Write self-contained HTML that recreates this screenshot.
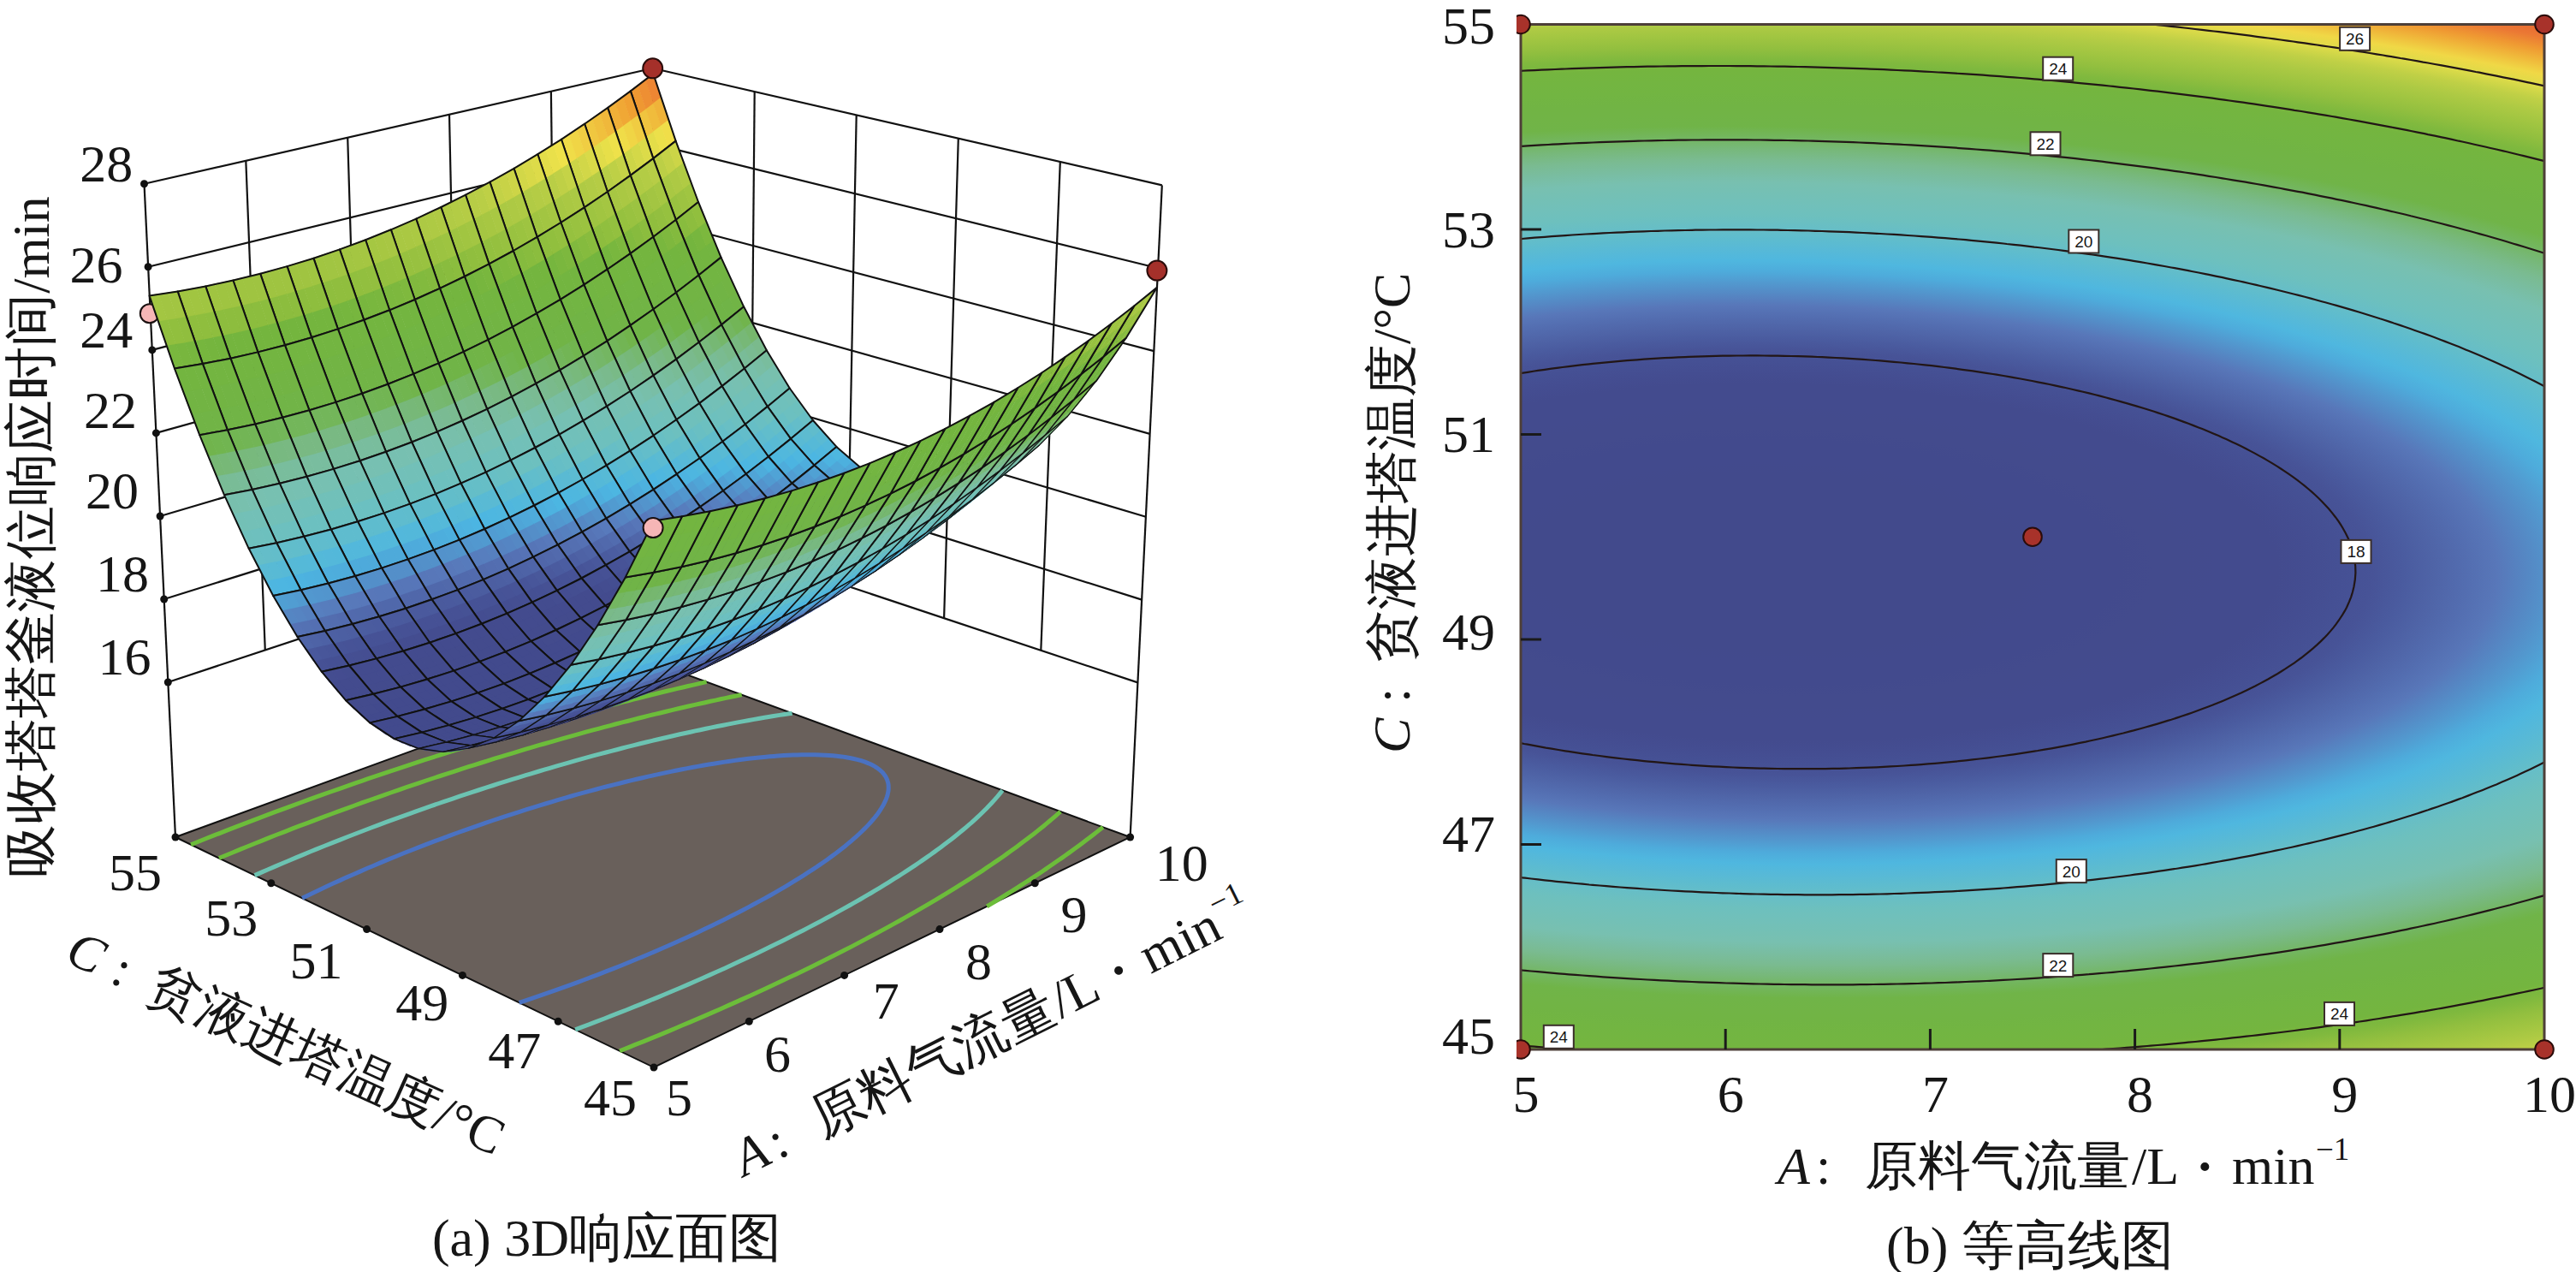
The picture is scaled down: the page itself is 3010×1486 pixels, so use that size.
<!DOCTYPE html>
<html><head><meta charset="utf-8"><style>
html,body{margin:0;padding:0;background:#fff}
body{width:3010px;height:1486px;overflow:hidden}
svg{display:block}
text{font-family:"Liberation Serif",serif;fill:#161616}
</style></head><body>
<svg width="3010" height="1486" viewBox="0 0 3010 1486">
<rect width="3010" height="1486" fill="#fff"/>
<g stroke="#111" stroke-width="2.2" fill="none">
<line x1="196.3" y1="797.0" x2="763.7" y2="609.4"/>
<line x1="763.7" y1="609.4" x2="1329.4" y2="797.4"/>
<line x1="191.7" y1="700.0" x2="763.5" y2="521.1"/>
<line x1="763.5" y1="521.1" x2="1334.2" y2="700.6"/>
<line x1="187.1" y1="603.0" x2="763.4" y2="432.9"/>
<line x1="763.4" y1="432.9" x2="1338.9" y2="603.7"/>
<line x1="182.4" y1="505.9" x2="763.2" y2="344.6"/>
<line x1="763.2" y1="344.6" x2="1343.6" y2="506.9"/>
<line x1="177.8" y1="408.9" x2="763.0" y2="256.3"/>
<line x1="763.0" y1="256.3" x2="1348.3" y2="410.1"/>
<line x1="173.1" y1="311.8" x2="762.9" y2="168.1"/>
<line x1="762.9" y1="168.1" x2="1353.1" y2="313.2"/>
<line x1="168.5" y1="214.8" x2="762.7" y2="79.8"/>
<line x1="762.7" y1="79.8" x2="1357.8" y2="216.4"/>
<line x1="205.0" y1="978.0" x2="168.5" y2="214.8"/>
<line x1="764.0" y1="774.0" x2="762.7" y2="79.8"/>
<line x1="309.8" y1="759.5" x2="287.3" y2="187.8"/>
<line x1="423.3" y1="722.0" x2="406.2" y2="160.8"/>
<line x1="536.8" y1="684.4" x2="525.0" y2="133.8"/>
<line x1="650.2" y1="646.9" x2="643.9" y2="106.8"/>
<line x1="1320.6" y1="978.0" x2="1357.8" y2="216.4"/>
<line x1="1216.3" y1="759.8" x2="1238.8" y2="189.1"/>
<line x1="1103.1" y1="722.2" x2="1119.8" y2="161.8"/>
<line x1="990.0" y1="684.6" x2="1000.7" y2="134.4"/>
<line x1="876.8" y1="647.0" x2="881.7" y2="107.1"/>
</g>
<polygon points="205.0,978.0 764.0,1247.0 1320.6,978.0 764.0,774.0" fill="#69605b" stroke="#111" stroke-width="2"/>
<polyline points="1288.7,966.3 1285.2,969.1 1281.7,971.9 1278.1,974.7 1274.5,977.5 1270.1,980.8 1265.3,984.4 1261.6,987.2 1257.8,990.0 1254.0,992.8 1249.4,996.1 1244.3,999.8 1240.3,1002.6 1236.3,1005.3 1231.3,1008.8 1226.2,1012.3 1222.1,1015.1 1217.6,1018.2 1211.7,1022.1 1207.4,1024.9 1202.2,1028.3 1196.7,1031.9 1192.3,1034.7 1185.7,1038.9 1181.3,1041.7 1175.1,1045.5 1170.0,1048.7 1164.6,1052.0 1158.6,1055.7 1153.2,1058.9 1153.2,1058.9" fill="none" stroke="#6cbd3a" stroke-width="5"/>
<polyline points="223.1,986.7 232.4,983.0 241.6,979.3 250.8,975.7 257.0,973.3 266.2,969.7 275.3,966.1 284.5,962.6 293.7,959.1 302.9,955.6 312.0,952.2 321.2,948.7 330.3,945.3 336.4,943.1 342.5,940.9 351.6,937.5 360.7,934.2 369.8,930.9 378.9,927.7 387.9,924.5 397.0,921.3 406.1,918.1 415.2,914.9 422.7,912.3 430.2,909.7 439.3,906.7 448.3,903.6 457.2,900.6 463.4,898.6 472.4,895.6 481.4,892.6 487.4,890.6 496.4,887.7 505.4,884.8 511.5,882.9 520.5,880.0 526.5,878.1 535.5,875.3 542.7,873.0 550.5,870.6 558.8,868.0 565.4,866.0 573.7,863.5 580.4,861.4 587.6,859.3 595.4,857.0 601.4,855.2 610.4,852.6 616.4,850.8 625.1,848.3 631.4,846.5 637.4,844.8 646.5,842.2 652.5,840.5 658.5,838.8 667.5,836.3 673.5,834.7 679.5,833.0 687.3,831.0 694.6,829.0 700.7,827.4 706.7,825.8 714.0,823.8 721.8,821.8 727.9,820.2 733.9,818.7 740.0,817.1 746.6,815.5 754.3,813.5 761.3,811.8 767.3,810.3 773.4,808.8 779.5,807.3 785.7,805.9 791.8,804.4 797.9,803.0 804.0,801.5 810.4,800.1 816.8,798.6 823.2,797.1 825.6,796.6" fill="none" stroke="#6cbd3a" stroke-width="5"/>
<polyline points="1239.1,948.1 1235.9,951.0 1232.7,953.8 1229.4,956.7 1226.0,959.5 1222.6,962.4 1219.2,965.2 1215.7,968.0 1212.1,970.9 1208.6,973.7 1204.9,976.5 1201.3,979.3 1197.6,982.1 1192.9,985.6 1188.1,989.2 1184.2,992.0 1180.3,994.8 1176.4,997.6 1172.1,1000.7 1166.4,1004.6 1162.3,1007.4 1158.1,1010.3 1153.4,1013.4 1147.7,1017.3 1143.4,1020.1 1139.1,1022.9 1132.6,1027.1 1128.2,1029.9 1122.9,1033.2 1117.0,1036.9 1112.5,1039.7 1105.6,1043.9 1101.0,1046.7 1094.0,1050.9 1089.3,1053.7 1082.1,1057.9 1077.3,1060.7 1070.0,1064.9 1065.1,1067.7 1057.7,1071.9 1052.7,1074.7 1045.2,1078.9 1037.5,1083.1 1032.4,1085.9 1024.6,1090.1 1016.7,1094.3 1011.4,1097.1 1003.4,1101.4 995.4,1105.6 987.2,1109.8 978.9,1114.0 973.4,1116.8 965.0,1121.0 956.5,1125.2 948.0,1129.4 939.3,1133.7 930.6,1137.9 921.8,1142.1 912.9,1146.3 903.9,1150.5 894.9,1154.8 885.7,1159.0 876.5,1163.2 867.2,1167.4 857.8,1171.6 851.5,1174.4 841.9,1178.7 832.3,1182.9 822.6,1187.1 816.1,1189.9 806.2,1194.1 796.2,1198.3 788.2,1201.7 779.5,1205.4 769.3,1209.6 762.4,1212.4 752.1,1216.6 741.7,1220.7 734.6,1223.6 724.1,1227.8 724.1,1227.8" fill="none" stroke="#6cbd3a" stroke-width="5"/>
<polyline points="255.9,1002.5 265.1,998.7 271.2,996.2 280.4,992.4 289.5,988.7 298.7,985.0 304.8,982.6 314.0,978.9 323.1,975.3 332.2,971.8 341.4,968.2 350.5,964.7 359.6,961.3 368.7,957.8 377.9,954.4 387.0,951.0 396.1,947.6 405.2,944.3 414.3,941.0 423.4,937.7 432.5,934.5 441.6,931.3 450.7,928.1 456.7,926.0 465.8,922.8 474.9,919.7 484.0,916.6 490.0,914.6 499.1,911.5 508.2,908.5 514.3,906.5 523.3,903.6 530.4,901.3 538.5,898.7 547.6,895.7 553.7,893.8 562.7,891.0 568.8,889.1 577.9,886.2 584.0,884.4 593.1,881.6 599.2,879.8 607.9,877.2 614.4,875.2 620.5,873.4 629.6,870.7 635.7,869.0 643.3,866.8 651.0,864.6 657.1,862.9 664.3,860.8 672.4,858.6 678.5,856.9 684.6,855.2 693.0,852.9 700.0,851.1 706.2,849.4 712.3,847.8 719.0,846.0 727.2,843.9 734.0,842.2 740.2,840.6 746.4,839.0 752.6,837.5 758.8,835.9 765.2,834.4 772.3,832.7 779.2,831.0 786.0,829.4 792.7,827.8 799.2,826.3 805.6,824.8 811.9,823.4 818.1,822.0 824.1,820.7 830.1,819.3 836.0,818.1 841.8,816.8 847.4,815.6 853.7,814.3 860.2,813.0 866.7,811.6 866.7,811.6" fill="none" stroke="#6cbd3a" stroke-width="5"/>
<polyline points="1171.3,923.3 1169.3,925.9 1167.7,927.9 1165.1,931.0 1162.8,933.7 1161.0,935.7 1158.4,938.5 1155.5,941.5 1152.9,944.3 1150.6,946.5 1148.1,949.0 1145.0,952.0 1141.9,954.9 1138.7,957.8 1135.4,960.8 1132.1,963.6 1129.0,966.3 1125.8,969.0 1122.4,971.8 1118.8,974.7 1115.1,977.7 1111.3,980.7 1107.2,983.8 1103.2,986.8 1099.4,989.7 1095.5,992.6 1091.6,995.4 1087.6,998.3 1083.5,1001.1 1078.1,1004.9 1073.2,1008.2 1069.0,1011.1 1064.8,1013.9 1059.5,1017.4 1053.9,1021.0 1049.5,1023.8 1044.8,1026.7 1038.3,1030.8 1033.7,1033.6 1027.7,1037.3 1022.1,1040.7 1017.4,1043.5 1010.2,1047.7 1005.4,1050.5 998.1,1054.7 993.1,1057.5 985.6,1061.6 980.6,1064.4 973.0,1068.6 965.2,1072.8 960.0,1075.6 952.1,1079.7 944.2,1083.9 938.8,1086.7 930.7,1090.8 922.4,1095.0 914.1,1099.2 908.3,1102.0 900.1,1106.1 891.5,1110.2 882.8,1114.4 874.1,1118.5 865.3,1122.6 856.3,1126.8 847.3,1130.9 838.2,1135.0 829.0,1139.1 819.7,1143.2 813.4,1146.0 804.0,1150.1 794.4,1154.2 784.8,1158.3 776.5,1161.7 768.5,1165.1 758.6,1169.1 748.9,1173.1 741.8,1175.9 731.7,1180.0 724.8,1182.7 714.5,1186.7 706.1,1190.0 697.1,1193.4 688.1,1196.9 679.3,1200.1 672.2,1202.8" fill="none" stroke="#6cc3b2" stroke-width="5"/>
<polyline points="297.6,1022.6 306.6,1018.6 312.7,1016.0 321.7,1012.1 330.8,1008.2 336.8,1005.7 345.9,1001.9 355.0,998.1 363.0,994.8 370.1,991.9 379.2,988.3 388.3,984.6 397.3,981.1 406.4,977.5 415.5,974.0 424.6,970.5 433.7,967.0 442.8,963.6 452.0,960.2 461.1,956.9 470.2,953.6 479.3,950.3 485.4,948.1 494.6,944.9 503.7,941.7 512.9,938.5 519.0,936.4 528.2,933.3 537.3,930.2 543.5,928.2 552.7,925.1 559.2,923.0 568.0,920.1 576.3,917.5 583.4,915.2 591.7,912.6 598.8,910.4 605.7,908.3 614.3,905.7 620.5,903.8 629.8,901.0 636.0,899.2 642.4,897.3 651.5,894.6 657.8,892.8 664.0,891.1 673.4,888.4 679.7,886.7 686.0,884.9 692.3,883.2 700.8,880.9 708.1,879.0 714.4,877.3 720.8,875.7 727.2,874.0 733.5,872.4 740.7,870.6 748.0,868.8 755.2,867.0 762.1,865.4 768.9,863.7 775.4,862.2 781.9,860.7 788.3,859.2 794.5,857.8 800.6,856.5 806.6,855.2 812.4,853.9 818.2,852.7 824.8,851.3 831.5,849.9 838.2,848.5 845.0,847.2 850.5,846.1 855.6,845.1 862.0,843.9 868.9,842.6 875.2,841.5 879.9,840.6 886.3,839.5 893.3,838.3 898.1,837.5 903.9,836.5 911.1,835.4 915.3,834.8 921.9,833.8 925.6,833.2" fill="none" stroke="#6cc3b2" stroke-width="5"/>
<polyline points="353.1,1049.3 358.9,1046.4 367.7,1042.2 373.5,1039.5 382.3,1035.3 388.2,1032.6 397.0,1028.6 404.6,1025.1 411.8,1022.0 420.7,1018.1 429.3,1014.3 435.6,1011.7 444.5,1007.9 453.5,1004.1 462.6,1000.5 471.6,996.8 480.7,993.2 489.8,989.7 498.9,986.2 508.0,982.7 517.2,979.3 526.4,975.9 535.6,972.5 541.7,970.3 551.0,967.1 560.3,963.8 566.5,961.7 575.8,958.5 584.5,955.6 591.4,953.3 600.8,950.3 607.1,948.3 615.3,945.7 622.9,943.3 629.3,941.4 638.8,938.5 645.2,936.6 651.6,934.7 661.3,931.9 667.7,930.0 674.2,928.2 680.7,926.4 689.2,924.1 697.1,922.0 703.7,920.2 710.3,918.5 716.9,916.8 723.6,915.2 730.3,913.5 737.0,911.9 743.8,910.3 750.6,908.7 757.4,907.1 764.3,905.6 771.2,904.1 778.2,902.6 784.1,901.4 789.5,900.3 795.8,899.0 803.0,897.6 810.2,896.3 815.1,895.4 821.1,894.3 828.5,893.0 833.7,892.2 839.7,891.2 846.8,890.1 851.2,889.5 858.9,888.4 863.1,887.8 870.8,886.8 874.8,886.3 882.1,885.5 887.1,884.9 892.7,884.4 899.5,883.8 904.1,883.4 909.3,883.0 915.6,882.6 921.7,882.2 926.9,882.0 931.7,881.9 936.7,881.7 941.8,881.7 947.0,881.7 952.5,881.7 958.2,881.9 964.1,882.2 968.7,882.4 973.1,882.8 977.6,883.2 983.5,883.9 987.4,884.5 993.0,885.5 996.6,886.2 1001.6,887.4 1006.4,888.7 1010.8,890.2 1014.9,891.8 1018.8,893.6 1022.2,895.4 1024.4,896.8 1027.3,898.9 1029.2,900.5 1031.5,902.8 1032.9,904.5 1034.3,906.4 1035.7,908.9 1036.6,910.9 1037.2,912.9 1037.8,915.0 1038.1,917.2 1038.2,919.4 1038.2,921.8 1038.0,924.0 1037.6,925.9 1037.2,928.1 1036.4,930.8 1035.5,933.3 1034.8,935.1 1033.4,937.9 1032.2,940.4 1030.9,942.6 1029.1,945.5 1027.7,947.6 1025.7,950.5 1023.9,952.9 1021.9,955.4 1019.2,958.5 1017.5,960.5 1014.9,963.4 1011.9,966.6 1009.5,968.9 1007.1,971.2 1003.9,974.3 1000.5,977.4 997.0,980.4 993.7,983.3 990.5,985.9 987.2,988.7 983.6,991.5 979.8,994.4 975.8,997.5 971.5,1000.6 967.0,1003.9 962.3,1007.2 958.1,1010.1 953.9,1013.0 949.5,1015.9 945.1,1018.7 938.7,1022.9 933.9,1025.9 929.3,1028.7 923.6,1032.2 917.5,1035.8 912.7,1038.6 905.4,1042.9 900.4,1045.7 893.4,1049.6 887.8,1052.6 880.1,1056.8 874.9,1059.6 867.0,1063.7 861.7,1066.5 853.6,1070.6 845.4,1074.7 837.1,1078.8 831.5,1081.5 822.9,1085.6 814.3,1089.7 805.6,1093.7 796.7,1097.7 787.8,1101.8 778.7,1105.8 769.5,1109.8 760.2,1113.7 750.8,1117.7 744.5,1120.3 734.9,1124.3 725.2,1128.2 716.6,1131.6 708.7,1134.7 698.7,1138.6 691.9,1141.2 681.7,1145.0 674.8,1147.6 664.4,1151.4 657.4,1153.9 646.8,1157.7 639.6,1160.2 630.2,1163.4 621.5,1166.4 614.2,1168.9 606.7,1171.3" fill="none" stroke="#4a72c2" stroke-width="5"/>
<circle cx="196.3" cy="797.0" r="4.5" fill="#111"/>
<circle cx="191.7" cy="700.0" r="4.5" fill="#111"/>
<circle cx="187.1" cy="603.0" r="4.5" fill="#111"/>
<circle cx="182.4" cy="505.9" r="4.5" fill="#111"/>
<circle cx="177.8" cy="408.9" r="4.5" fill="#111"/>
<circle cx="173.1" cy="311.8" r="4.5" fill="#111"/>
<circle cx="168.5" cy="214.8" r="4.5" fill="#111"/>
<circle cx="205.0" cy="978.0" r="4.5" fill="#111"/>
<circle cx="764.0" cy="1247.0" r="4.5" fill="#111"/>
<circle cx="652.2" cy="1193.2" r="4.5" fill="#111"/>
<circle cx="540.4" cy="1139.4" r="4.5" fill="#111"/>
<circle cx="428.6" cy="1085.6" r="4.5" fill="#111"/>
<circle cx="316.8" cy="1031.8" r="4.5" fill="#111"/>
<circle cx="875.3" cy="1193.2" r="4.5" fill="#111"/>
<circle cx="986.6" cy="1139.4" r="4.5" fill="#111"/>
<circle cx="1098.0" cy="1085.6" r="4.5" fill="#111"/>
<circle cx="1209.3" cy="1031.8" r="4.5" fill="#111"/>
<circle cx="1320.6" cy="978.0" r="4.5" fill="#111"/>
<circle cx="174.8" cy="366.3" r="11" fill="#f6b6b6" stroke="#1a1010" stroke-width="2"/>
<g stroke="none">
<path d="M763.3 185.8L772.6 178.8 763.3 152.2 754.0 159.1Z" fill="#e4dd49"/>
<path d="M754.5 160.3L763.8 153.4 754.5 126.0 745.2 132.9Z" fill="#f0c43f"/>
<path d="M745.6 134.1L754.9 127.2 745.6 99.0 736.3 105.8Z" fill="#ef9832"/>
<path d="M772.1 179.0L781.4 172.0 772.1 145.4 762.8 152.4Z" fill="#ece04a"/>
<path d="M763.3 153.6L772.6 146.6 763.3 119.2 754.0 126.2Z" fill="#f0bc3c"/>
<path d="M754.5 127.4L763.7 120.4 754.5 92.2 745.2 99.2Z" fill="#ee8f33"/>
<path d="M780.9 172.2L790.1 165.1 780.9 138.5 771.6 145.6Z" fill="#f0de49"/>
<path d="M772.1 146.8L781.3 139.7 772.1 112.3 762.8 119.4Z" fill="#f0b339"/>
<path d="M763.3 120.6L772.5 113.6 763.3 85.4 754.0 92.4Z" fill="#ed8633"/>
<path d="M763.3 185.1L789.6 164.6 763.3 86.1 736.8 106.4Z" fill="none" stroke="#111" stroke-width="2.0" stroke-linejoin="round"/>
<path d="M789.8 257.5L799.1 250.4 789.8 226.1 780.5 233.2Z" fill="#99c240"/>
<path d="M781.0 234.4L790.3 227.3 780.9 202.3 771.6 209.3Z" fill="#a9c843"/>
<path d="M772.1 210.5L781.4 203.5 772.1 177.6 762.8 184.6Z" fill="#bccf46"/>
<path d="M798.6 250.6L807.8 243.5 798.5 219.3 789.2 226.4Z" fill="#9dc341"/>
<path d="M789.8 227.5L799.0 220.4 789.7 195.4 780.4 202.5Z" fill="#adc944"/>
<path d="M780.9 203.7L790.2 196.6 780.9 170.8 771.6 177.8Z" fill="#c4d247"/>
<path d="M807.3 243.7L816.6 236.5 807.2 212.3 798.0 219.5Z" fill="#a0c541"/>
<path d="M798.5 220.7L807.7 213.5 798.4 188.5 789.2 195.6Z" fill="#b0cb44"/>
<path d="M789.7 196.8L798.9 189.7 789.6 163.9 780.4 171.0Z" fill="#ccd547"/>
<path d="M789.8 256.8L816.0 236.0 789.6 164.6 763.3 185.1Z" fill="none" stroke="#111" stroke-width="2.0" stroke-linejoin="round"/>
<path d="M816.4 322.2L825.7 315.0 816.3 293.1 807.0 300.3Z" fill="#73b541"/>
<path d="M807.5 301.4L816.8 294.3 807.4 271.6 798.1 278.7Z" fill="#74b53e"/>
<path d="M798.7 279.8L807.9 272.7 798.6 249.2 789.3 256.3Z" fill="#88bc3e"/>
<path d="M825.1 315.3L834.4 308.1 825.0 286.2 815.7 293.4Z" fill="#73b540"/>
<path d="M816.3 294.5L825.5 287.3 816.2 264.6 806.9 271.8Z" fill="#77b63e"/>
<path d="M807.4 273.0L816.7 265.8 807.3 242.3 798.1 249.5Z" fill="#8dbd3e"/>
<path d="M833.8 308.3L843.1 301.0 833.7 279.1 824.4 286.4Z" fill="#73b540"/>
<path d="M825.0 287.6L834.2 280.3 824.9 257.6 815.6 264.9Z" fill="#7cb83e"/>
<path d="M816.2 266.0L825.4 258.8 816.0 235.3 806.8 242.6Z" fill="#91bf3e"/>
<path d="M816.4 321.5L842.5 300.6 816.0 236.0 789.8 256.8Z" fill="none" stroke="#111" stroke-width="2.0" stroke-linejoin="round"/>
<path d="M843.0 380.1L852.3 372.8 842.8 353.2 833.6 360.5Z" fill="#70b447"/>
<path d="M834.1 361.6L843.4 354.3 834.0 333.9 824.7 341.2Z" fill="#71b445"/>
<path d="M825.3 342.3L834.5 335.1 825.1 313.9 815.8 321.1Z" fill="#72b443"/>
<path d="M851.7 373.1L861.0 365.8 851.5 346.2 842.3 353.5Z" fill="#70b447"/>
<path d="M842.9 354.6L852.1 347.3 842.7 326.9 833.4 334.2Z" fill="#71b445"/>
<path d="M834.0 335.3L843.2 328.1 833.8 306.9 824.6 314.2Z" fill="#72b542"/>
<path d="M860.4 366.1L869.7 358.7 860.2 339.1 851.0 346.5Z" fill="#71b446"/>
<path d="M851.6 347.6L860.8 340.2 851.4 319.9 842.1 327.2Z" fill="#72b444"/>
<path d="M842.7 328.3L851.9 321.0 842.5 299.9 833.3 307.2Z" fill="#72b542"/>
<path d="M843.0 379.4L869.1 358.3 842.5 300.6 816.4 321.5Z" fill="none" stroke="#111" stroke-width="2.0" stroke-linejoin="round"/>
<path d="M869.8 431.2L879.1 423.8 869.6 406.5 860.3 413.9Z" fill="#79bc98"/>
<path d="M860.9 414.9L870.2 407.6 860.6 389.5 851.3 396.9Z" fill="#78b981"/>
<path d="M852.0 397.9L861.2 390.6 851.7 371.7 842.4 379.0Z" fill="#74b661"/>
<path d="M878.5 424.2L887.8 416.7 878.2 399.4 869.0 406.9Z" fill="#7abb92"/>
<path d="M869.6 407.9L878.8 400.5 869.3 382.4 860.0 389.9Z" fill="#77b877"/>
<path d="M860.7 390.9L869.9 383.5 860.4 364.7 851.1 372.1Z" fill="#72b557"/>
<path d="M887.2 417.1L896.4 409.5 886.9 392.3 877.6 399.8Z" fill="#7aba8c"/>
<path d="M878.2 400.8L887.5 393.3 878.0 375.3 868.7 382.8Z" fill="#76b76d"/>
<path d="M869.3 383.8L878.6 376.4 869.1 357.6 859.8 365.0Z" fill="#71b44d"/>
<path d="M869.8 430.5L895.8 409.2 869.1 358.3 843.0 379.4Z" fill="none" stroke="#111" stroke-width="2.0" stroke-linejoin="round"/>
<path d="M736.7 205.6L746.1 198.9 736.7 172.2 727.4 178.9Z" fill="#cdd547"/>
<path d="M727.8 180.1L737.2 173.4 727.9 145.9 718.5 152.5Z" fill="#f0dc48"/>
<path d="M719.0 153.7L728.3 147.1 719.0 118.8 709.6 125.4Z" fill="#f0b038"/>
<path d="M745.6 199.1L754.9 192.3 745.6 165.6 736.3 172.4Z" fill="#d4d848"/>
<path d="M736.7 173.6L746.1 166.8 736.8 139.3 727.4 146.1Z" fill="#f0d545"/>
<path d="M727.9 147.3L737.2 140.6 727.9 112.3 718.5 118.9Z" fill="#f0a835"/>
<path d="M754.5 192.5L763.8 185.6 754.5 158.9 745.1 165.8Z" fill="#dcdb49"/>
<path d="M745.6 167.0L754.9 160.2 745.6 132.7 736.3 139.5Z" fill="#f0cc42"/>
<path d="M736.8 140.7L746.1 133.9 736.8 105.7 727.5 112.4Z" fill="#f0a032"/>
<path d="M736.7 204.9L763.3 185.1 736.8 106.4 710.1 125.9Z" fill="none" stroke="#111" stroke-width="2.0" stroke-linejoin="round"/>
<path d="M763.3 277.5L772.7 270.7 763.3 246.3 754.0 253.1Z" fill="#90be3e"/>
<path d="M754.5 254.3L763.8 247.5 754.5 222.4 745.1 229.2Z" fill="#9fc441"/>
<path d="M745.6 230.3L755.0 223.6 745.6 197.7 736.2 204.4Z" fill="#b0cb44"/>
<path d="M772.2 270.9L781.5 264.0 772.2 239.7 762.8 246.6Z" fill="#93bf3f"/>
<path d="M763.3 247.7L772.7 240.9 763.3 215.8 754.0 222.6Z" fill="#a3c542"/>
<path d="M754.5 223.8L763.8 217.0 754.5 191.1 745.1 197.9Z" fill="#b3cc45"/>
<path d="M781.0 264.2L790.3 257.2 781.0 233.0 771.7 239.9Z" fill="#96c13f"/>
<path d="M772.2 241.1L781.5 234.1 772.1 209.1 762.8 216.0Z" fill="#a6c742"/>
<path d="M763.3 217.2L772.6 210.3 763.3 184.4 754.0 191.3Z" fill="#b7cd46"/>
<path d="M763.3 276.8L789.8 256.8 763.3 185.1 736.7 204.9Z" fill="none" stroke="#111" stroke-width="2.0" stroke-linejoin="round"/>
<path d="M790.0 342.5L799.4 335.5 789.9 313.5 780.6 320.4Z" fill="#72b542"/>
<path d="M781.1 321.6L790.5 314.7 781.1 291.9 771.7 298.8Z" fill="#73b540"/>
<path d="M772.2 299.9L781.6 293.1 772.2 269.5 762.8 276.3Z" fill="#79b73e"/>
<path d="M798.8 335.8L808.2 328.8 798.7 306.8 789.4 313.8Z" fill="#72b542"/>
<path d="M789.9 314.9L799.3 308.0 789.9 285.2 780.5 292.1Z" fill="#73b53f"/>
<path d="M781.1 293.3L790.4 286.4 781.0 262.8 771.7 269.7Z" fill="#7eb83e"/>
<path d="M807.6 329.0L816.9 321.9 807.5 300.0 798.2 307.1Z" fill="#73b541"/>
<path d="M798.7 308.2L808.1 301.1 798.7 278.4 789.3 285.4Z" fill="#74b53f"/>
<path d="M789.9 286.6L799.2 279.6 789.8 256.1 780.5 263.1Z" fill="#83ba3e"/>
<path d="M790.0 341.8L816.4 321.5 789.8 256.8 763.3 276.8Z" fill="none" stroke="#111" stroke-width="2.0" stroke-linejoin="round"/>
<path d="M896.8 475.6L906.1 468.1 896.5 453.1 887.1 460.6Z" fill="#71c0b9"/>
<path d="M887.8 461.6L897.1 454.1 887.5 438.3 878.2 445.8Z" fill="#75c0b3"/>
<path d="M878.8 446.8L888.1 439.3 878.5 422.8 869.2 430.2Z" fill="#78bfaa"/>
<path d="M905.5 468.5L914.8 460.9 905.1 446.0 895.8 453.6Z" fill="#73c0b7"/>
<path d="M896.5 454.5L905.8 447.0 896.1 431.2 886.8 438.7Z" fill="#77c0b1"/>
<path d="M887.5 439.7L896.8 432.2 887.2 415.7 877.9 423.2Z" fill="#79bea4"/>
<path d="M914.1 461.4L923.4 453.7 913.7 438.8 904.5 446.4Z" fill="#74c0b5"/>
<path d="M905.1 447.4L914.4 439.7 904.7 424.0 895.5 431.6Z" fill="#78c0ae"/>
<path d="M896.1 432.6L905.4 425.0 895.8 408.5 886.5 416.1Z" fill="#79bd9e"/>
<path d="M896.8 474.9L922.7 453.5 895.8 409.2 869.8 430.5Z" fill="none" stroke="#111" stroke-width="2.0" stroke-linejoin="round"/>
<path d="M816.8 400.5L826.1 393.5 816.6 373.8 807.2 380.9Z" fill="#73b65b"/>
<path d="M807.8 381.9L817.2 374.9 807.7 354.5 798.3 361.5Z" fill="#70b447"/>
<path d="M798.9 362.6L808.3 355.6 798.8 334.4 789.4 341.3Z" fill="#71b445"/>
<path d="M825.5 393.8L834.9 386.7 825.4 367.0 816.0 374.1Z" fill="#71b552"/>
<path d="M816.6 375.2L826.0 368.1 816.5 347.7 807.1 354.8Z" fill="#71b446"/>
<path d="M807.7 355.9L817.1 348.8 807.6 327.6 798.3 334.7Z" fill="#72b444"/>
<path d="M834.3 387.0L843.6 379.8 834.1 360.2 824.8 367.3Z" fill="#70b449"/>
<path d="M825.4 368.4L834.7 361.3 825.2 340.9 815.9 348.0Z" fill="#71b446"/>
<path d="M816.5 349.1L825.8 342.0 816.4 320.8 807.1 327.9Z" fill="#72b444"/>
<path d="M816.7 399.8L843.0 379.4 816.4 321.5 790.0 341.8Z" fill="none" stroke="#111" stroke-width="2.0" stroke-linejoin="round"/>
<path d="M843.6 451.8L853.0 444.7 843.4 427.3 834.0 434.5Z" fill="#78bfa9"/>
<path d="M834.6 435.5L844.0 428.4 834.5 410.2 825.1 417.3Z" fill="#79bc96"/>
<path d="M825.7 418.4L835.1 411.3 825.5 392.4 816.2 399.5Z" fill="#78b97d"/>
<path d="M852.4 445.0L861.7 437.8 852.2 420.5 842.8 427.7Z" fill="#79bea3"/>
<path d="M843.4 428.7L852.8 421.5 843.2 403.4 833.9 410.6Z" fill="#7abb91"/>
<path d="M834.5 411.6L843.8 404.5 834.3 385.6 824.9 392.7Z" fill="#76b874"/>
<path d="M861.1 438.2L870.4 430.9 860.9 413.5 851.5 420.8Z" fill="#79bd9e"/>
<path d="M852.2 421.9L861.5 414.6 851.9 396.5 842.6 403.8Z" fill="#7aba8a"/>
<path d="M843.2 404.8L852.5 397.6 843.0 378.7 833.7 385.9Z" fill="#75b76a"/>
<path d="M843.6 451.1L869.8 430.5 843.0 379.4 816.7 399.8Z" fill="none" stroke="#111" stroke-width="2.0" stroke-linejoin="round"/>
<path d="M924.0 513.3L933.4 505.7 923.6 493.0 914.2 500.6Z" fill="#60bccd"/>
<path d="M914.9 501.5L924.2 493.9 914.5 480.4 905.2 488.0Z" fill="#68bfc4"/>
<path d="M905.9 488.9L915.2 481.4 905.5 467.1 896.1 474.7Z" fill="#6ec0be"/>
<path d="M932.7 506.2L942.0 498.5 932.2 485.8 922.9 493.5Z" fill="#64bdc9"/>
<path d="M923.6 494.4L932.9 486.7 923.1 473.3 913.8 480.9Z" fill="#6cc0c0"/>
<path d="M914.5 481.8L923.8 474.2 914.1 460.0 904.8 467.6Z" fill="#6fc0bc"/>
<path d="M941.3 499.0L950.6 491.2 940.8 478.5 931.5 486.3Z" fill="#68bfc5"/>
<path d="M932.2 487.2L941.5 479.4 931.7 466.0 922.5 473.8Z" fill="#6dc0be"/>
<path d="M923.2 474.7L932.4 466.9 922.7 452.8 913.5 460.5Z" fill="#71c0ba"/>
<path d="M924.0 512.6L949.9 491.0 922.7 453.5 896.8 474.9Z" fill="none" stroke="#111" stroke-width="2.0" stroke-linejoin="round"/>
<path d="M709.9 224.7L719.3 218.2 709.9 191.4 700.5 197.9Z" fill="#b8ce46"/>
<path d="M701.0 199.1L710.4 192.6 701.0 165.0 691.6 171.4Z" fill="#e0dc49"/>
<path d="M692.0 172.7L701.5 166.3 692.1 137.8 682.6 144.2Z" fill="#f0c740"/>
<path d="M718.8 218.4L728.3 211.9 718.9 185.1 709.5 191.6Z" fill="#bed046"/>
<path d="M709.9 192.8L719.4 186.3 710.0 158.7 700.6 165.2Z" fill="#e7df49"/>
<path d="M701.0 166.4L710.5 160.0 701.1 131.6 691.7 138.0Z" fill="#f0c03d"/>
<path d="M727.8 212.0L737.2 205.4 727.8 178.7 718.4 185.3Z" fill="#c5d247"/>
<path d="M718.9 186.5L728.3 179.9 719.0 152.3 709.5 158.9Z" fill="#eee14a"/>
<path d="M710.0 160.1L719.4 153.6 710.1 125.2 700.7 131.7Z" fill="#f0b83b"/>
<path d="M709.9 224.0L736.7 204.9 710.1 125.9 683.1 144.7Z" fill="none" stroke="#111" stroke-width="2.0" stroke-linejoin="round"/>
<path d="M736.6 296.8L746.1 290.3 736.7 265.8 727.2 272.4Z" fill="#82ba3e"/>
<path d="M727.7 273.6L737.2 267.0 727.8 241.8 718.3 248.3Z" fill="#96c13f"/>
<path d="M718.8 249.5L728.2 243.0 718.8 217.0 709.4 223.5Z" fill="#a7c743"/>
<path d="M745.6 290.5L755.0 283.8 745.6 259.4 736.1 266.0Z" fill="#87bb3e"/>
<path d="M736.7 267.2L746.1 260.6 736.7 235.4 727.3 242.0Z" fill="#99c240"/>
<path d="M727.8 243.2L737.2 236.6 727.8 210.6 718.4 217.2Z" fill="#aac843"/>
<path d="M754.5 284.0L763.9 277.3 754.5 252.9 745.1 259.6Z" fill="#8bbd3e"/>
<path d="M745.6 260.8L755.0 254.1 745.6 228.9 736.2 235.6Z" fill="#9cc341"/>
<path d="M736.7 236.8L746.1 230.1 736.7 204.2 727.3 210.8Z" fill="#adc944"/>
<path d="M736.6 296.1L763.3 276.8 736.7 204.9 709.9 224.0Z" fill="none" stroke="#111" stroke-width="2.0" stroke-linejoin="round"/>
<path d="M763.4 362.0L772.8 355.3 763.4 333.2 753.9 339.9Z" fill="#72b444"/>
<path d="M754.5 341.0L763.9 334.4 754.5 311.5 745.0 318.2Z" fill="#73b542"/>
<path d="M745.5 319.3L755.0 312.7 745.6 289.1 736.1 295.7Z" fill="#74b53f"/>
<path d="M772.3 355.6L781.7 348.8 772.3 326.7 762.8 333.5Z" fill="#72b443"/>
<path d="M763.4 334.6L772.8 327.9 763.4 305.1 753.9 311.8Z" fill="#73b541"/>
<path d="M754.5 312.9L763.9 306.2 754.5 282.6 745.0 289.3Z" fill="#74b53f"/>
<path d="M781.2 349.1L790.6 342.2 781.1 320.2 771.7 327.0Z" fill="#72b543"/>
<path d="M772.3 328.1L781.6 321.3 772.2 298.5 762.8 305.3Z" fill="#73b541"/>
<path d="M763.4 306.5L772.7 299.7 763.3 276.1 753.9 282.9Z" fill="#74b53e"/>
<path d="M763.4 361.3L790.0 341.8 763.3 276.8 736.6 296.1Z" fill="none" stroke="#111" stroke-width="2.0" stroke-linejoin="round"/>
<path d="M870.7 496.4L880.0 489.1 870.4 474.1 861.0 481.3Z" fill="#6dc0be"/>
<path d="M861.6 482.3L871.0 475.0 861.4 459.2 852.0 466.5Z" fill="#71c0b9"/>
<path d="M852.6 467.4L862.0 460.2 852.4 443.6 843.0 450.8Z" fill="#75c0b4"/>
<path d="M879.4 489.5L888.8 482.2 879.1 467.2 869.7 474.5Z" fill="#6fc0bc"/>
<path d="M870.4 475.5L879.7 468.1 870.1 452.3 860.7 459.6Z" fill="#73c0b7"/>
<path d="M861.4 460.6L870.7 453.3 861.1 436.8 851.8 444.0Z" fill="#77c0b2"/>
<path d="M888.1 482.6L897.5 475.2 887.8 460.2 878.4 467.6Z" fill="#70c0bb"/>
<path d="M879.1 468.6L888.4 461.2 878.8 445.4 869.5 452.8Z" fill="#74c0b5"/>
<path d="M870.1 453.7L879.4 446.4 869.8 429.8 860.5 437.2Z" fill="#78c0af"/>
<path d="M870.7 495.7L896.8 474.9 869.8 430.5 843.6 451.1Z" fill="none" stroke="#111" stroke-width="2.0" stroke-linejoin="round"/>
<path d="M790.2 420.3L799.7 413.5 790.1 393.7 780.7 400.5Z" fill="#77b875"/>
<path d="M781.3 401.6L790.7 394.9 781.2 374.3 771.8 381.1Z" fill="#71b552"/>
<path d="M772.3 382.2L781.8 375.5 772.3 354.2 762.8 360.9Z" fill="#71b446"/>
<path d="M799.1 413.8L808.5 406.9 799.0 387.2 789.6 394.0Z" fill="#75b76c"/>
<path d="M790.1 395.1L799.6 388.3 790.1 367.8 780.6 374.6Z" fill="#70b449"/>
<path d="M781.2 375.7L790.6 368.9 781.2 347.7 771.7 354.4Z" fill="#71b446"/>
<path d="M807.9 407.2L817.3 400.2 807.8 380.5 798.4 387.5Z" fill="#74b664"/>
<path d="M799.0 388.6L808.4 381.7 798.9 361.2 789.5 368.1Z" fill="#70b448"/>
<path d="M790.1 369.2L799.5 362.3 790.0 341.1 780.6 347.9Z" fill="#71b445"/>
<path d="M790.2 419.6L816.7 399.8 790.0 341.8 763.4 361.3Z" fill="none" stroke="#111" stroke-width="2.0" stroke-linejoin="round"/>
<path d="M951.5 544.3L960.9 536.5 950.9 526.2 941.6 533.9Z" fill="#4cb6e2"/>
<path d="M942.3 534.7L951.7 527.0 941.8 515.8 932.5 523.6Z" fill="#52b8db"/>
<path d="M933.2 524.4L942.5 516.7 932.7 504.8 923.3 512.5Z" fill="#59bad4"/>
<path d="M960.2 537.1L969.5 529.3 959.6 518.9 950.3 526.8Z" fill="#50b7de"/>
<path d="M951.0 527.6L960.3 519.8 950.4 508.6 941.1 516.4Z" fill="#56b9d7"/>
<path d="M941.8 517.2L951.1 509.5 941.3 497.6 932.0 505.3Z" fill="#5dbbd0"/>
<path d="M968.8 529.9L978.1 522.0 968.2 511.6 958.9 519.5Z" fill="#54b8da"/>
<path d="M959.6 520.3L968.9 512.5 959.0 501.3 949.7 509.2Z" fill="#5abad3"/>
<path d="M950.4 510.0L959.7 502.2 949.9 490.3 940.6 498.1Z" fill="#60bccc"/>
<path d="M951.5 543.6L977.4 521.9 949.9 491.0 924.0 512.6Z" fill="none" stroke="#111" stroke-width="2.0" stroke-linejoin="round"/>
<path d="M817.2 471.8L826.6 464.8 817.0 447.4 807.5 454.3Z" fill="#76c0b3"/>
<path d="M808.2 455.4L817.6 448.5 808.0 430.3 798.6 437.1Z" fill="#79bea6"/>
<path d="M799.2 438.2L808.6 431.4 799.1 412.4 789.6 419.2Z" fill="#7abb92"/>
<path d="M826.0 465.2L835.4 458.2 825.8 440.8 816.4 447.8Z" fill="#77c0b1"/>
<path d="M817.0 448.8L826.4 441.9 816.9 423.7 807.4 430.6Z" fill="#79bda1"/>
<path d="M808.0 431.7L817.5 424.8 807.9 405.8 798.5 412.7Z" fill="#7aba8d"/>
<path d="M834.8 458.6L844.2 451.5 834.6 434.1 825.2 441.2Z" fill="#78c0ae"/>
<path d="M825.8 442.2L835.2 435.2 825.7 417.0 816.3 424.0Z" fill="#79bd9c"/>
<path d="M816.9 425.1L826.3 418.1 816.7 399.1 807.3 406.1Z" fill="#79b985"/>
<path d="M817.2 471.1L843.6 451.1 816.7 399.8 790.2 419.6Z" fill="none" stroke="#111" stroke-width="2.0" stroke-linejoin="round"/>
<path d="M897.9 534.2L907.3 526.8 897.5 514.1 888.1 521.5Z" fill="#56b9d8"/>
<path d="M888.8 522.4L898.2 515.0 888.4 501.5 879.0 508.8Z" fill="#5ebbcf"/>
<path d="M879.7 509.7L889.1 502.4 879.4 488.1 870.0 495.5Z" fill="#66bec6"/>
<path d="M906.7 527.3L916.0 519.8 906.2 507.1 896.9 514.6Z" fill="#59bad4"/>
<path d="M897.5 515.5L906.9 508.0 897.2 494.5 887.8 502.0Z" fill="#61bdcc"/>
<path d="M888.5 502.9L897.8 495.5 888.1 481.2 878.7 488.6Z" fill="#69bfc3"/>
<path d="M915.4 520.4L924.7 512.8 914.9 500.1 905.6 507.6Z" fill="#5dbbd0"/>
<path d="M906.3 508.5L915.6 501.0 905.8 487.5 896.5 495.0Z" fill="#64bec8"/>
<path d="M897.2 495.9L906.5 488.5 896.8 474.2 887.5 481.7Z" fill="#6cc0bf"/>
<path d="M897.9 533.5L924.0 512.6 896.8 474.9 870.7 495.7Z" fill="none" stroke="#111" stroke-width="2.0" stroke-linejoin="round"/>
<path d="M682.8 243.0L692.3 236.8 682.9 209.9 673.3 216.1Z" fill="#afca44"/>
<path d="M673.8 217.3L683.3 211.2 673.9 183.5 664.4 189.6Z" fill="#ccd547"/>
<path d="M664.8 190.8L674.4 184.7 665.0 156.2 655.4 162.3Z" fill="#f0dc48"/>
<path d="M691.8 237.0L701.3 230.7 691.9 203.8 682.4 210.1Z" fill="#b2cb45"/>
<path d="M682.9 211.3L692.4 205.1 683.0 177.4 673.5 183.6Z" fill="#d2d748"/>
<path d="M673.9 184.9L683.4 178.6 674.0 150.2 664.5 156.4Z" fill="#f0d545"/>
<path d="M700.9 230.9L710.3 224.5 701.0 197.7 691.5 204.0Z" fill="#b5cc45"/>
<path d="M691.9 205.2L701.4 198.9 692.0 171.3 682.5 177.6Z" fill="#d9da48"/>
<path d="M683.0 178.8L692.5 172.5 683.1 144.0 673.6 150.3Z" fill="#f0ce43"/>
<path d="M682.8 242.3L709.9 224.0 683.1 144.7 655.9 162.8Z" fill="none" stroke="#111" stroke-width="2.0" stroke-linejoin="round"/>
<path d="M709.6 315.4L719.2 309.1 709.7 284.6 700.2 290.9Z" fill="#75b53e"/>
<path d="M700.7 292.1L710.2 285.8 700.8 260.5 691.2 266.8Z" fill="#8dbd3e"/>
<path d="M691.7 268.0L701.3 261.7 691.8 235.6 682.3 241.8Z" fill="#9ec441"/>
<path d="M718.7 309.3L728.2 302.9 718.7 278.4 709.2 284.8Z" fill="#79b73e"/>
<path d="M709.7 286.0L719.2 279.6 709.8 254.3 700.3 260.7Z" fill="#90bf3e"/>
<path d="M700.8 261.9L710.3 255.5 700.9 229.5 691.3 235.8Z" fill="#a1c541"/>
<path d="M727.7 303.1L737.1 296.6 727.7 272.2 718.2 278.6Z" fill="#7eb83e"/>
<path d="M718.7 279.8L728.2 273.4 718.8 248.1 709.3 254.6Z" fill="#93c03f"/>
<path d="M709.8 255.7L719.3 249.3 709.9 223.3 700.4 229.7Z" fill="#a4c642"/>
<path d="M709.6 314.7L736.6 296.1 709.9 224.0 682.8 242.3Z" fill="none" stroke="#111" stroke-width="2.0" stroke-linejoin="round"/>
<path d="M736.5 380.8L746.0 374.4 736.5 352.2 727.0 358.7Z" fill="#71b445"/>
<path d="M727.5 359.8L737.1 353.4 727.6 330.5 718.1 336.9Z" fill="#72b443"/>
<path d="M718.6 338.0L728.1 331.6 718.7 307.9 709.1 314.3Z" fill="#73b540"/>
<path d="M745.5 374.6L755.0 368.1 745.5 346.0 736.0 352.5Z" fill="#71b445"/>
<path d="M736.5 353.6L746.0 347.1 736.6 324.2 727.1 330.7Z" fill="#72b543"/>
<path d="M727.6 331.9L737.1 325.4 727.7 301.7 718.1 308.1Z" fill="#73b540"/>
<path d="M754.5 368.4L763.9 361.7 754.5 339.6 745.0 346.2Z" fill="#71b445"/>
<path d="M745.5 347.4L755.0 340.8 745.5 317.9 736.1 324.5Z" fill="#72b542"/>
<path d="M736.6 325.6L746.1 319.1 736.6 295.4 727.1 301.9Z" fill="#73b540"/>
<path d="M736.5 380.1L763.4 361.3 736.6 296.1 709.6 314.7Z" fill="none" stroke="#111" stroke-width="2.0" stroke-linejoin="round"/>
<path d="M844.3 516.5L853.7 509.4 844.0 494.3 834.6 501.3Z" fill="#65bec7"/>
<path d="M835.2 502.3L844.7 495.3 835.0 479.4 825.5 486.4Z" fill="#6dc0be"/>
<path d="M826.2 487.4L835.6 480.5 826.0 463.8 816.5 470.7Z" fill="#71c0b9"/>
<path d="M853.1 509.9L862.5 502.7 852.8 487.6 843.4 494.8Z" fill="#69bfc4"/>
<path d="M844.0 495.7L853.5 488.6 843.8 472.8 834.4 479.8Z" fill="#6fc0bd"/>
<path d="M835.0 480.8L844.4 473.8 834.8 457.2 825.4 464.2Z" fill="#73c0b7"/>
<path d="M861.9 503.2L871.3 496.0 861.6 480.9 852.2 488.1Z" fill="#6cc0c0"/>
<path d="M852.8 489.0L862.3 481.9 852.6 466.0 843.2 473.2Z" fill="#70c0bb"/>
<path d="M843.8 474.2L853.2 467.1 843.6 450.4 834.2 457.5Z" fill="#74c0b5"/>
<path d="M844.3 515.8L870.7 495.7 843.6 451.1 817.2 471.1Z" fill="none" stroke="#111" stroke-width="2.0" stroke-linejoin="round"/>
<path d="M763.4 439.3L773.0 432.8 763.4 412.9 753.9 419.5Z" fill="#7aba8c"/>
<path d="M754.4 420.6L764.0 414.1 754.4 393.5 744.9 400.0Z" fill="#75b76a"/>
<path d="M745.5 401.1L755.0 394.6 745.5 373.2 736.0 379.7Z" fill="#70b448"/>
<path d="M772.4 433.1L781.9 426.4 772.3 406.6 762.8 413.2Z" fill="#79b985"/>
<path d="M763.4 414.3L772.9 407.7 763.4 387.2 753.9 393.8Z" fill="#74b662"/>
<path d="M754.4 394.9L764.0 388.3 754.5 367.0 744.9 373.5Z" fill="#70b447"/>
<path d="M781.3 426.7L790.8 420.0 781.3 400.2 771.8 406.9Z" fill="#78b97d"/>
<path d="M772.4 408.0L781.8 401.3 772.3 380.8 762.8 387.5Z" fill="#73b65a"/>
<path d="M763.4 388.6L772.9 381.9 763.4 360.6 753.9 367.2Z" fill="#70b447"/>
<path d="M763.4 438.6L790.2 419.6 763.4 361.3 736.5 380.1Z" fill="none" stroke="#111" stroke-width="2.0" stroke-linejoin="round"/>
<path d="M979.4 568.5L988.7 560.7 978.6 552.6 969.3 560.5Z" fill="#5394cc"/>
<path d="M970.1 561.2L979.4 553.4 969.4 544.6 960.1 552.4Z" fill="#519ed2"/>
<path d="M960.8 553.1L970.1 545.3 960.1 535.7 950.8 543.5Z" fill="#4eaada"/>
<path d="M988.0 561.4L997.3 553.4 987.3 545.4 978.0 553.3Z" fill="#519dd2"/>
<path d="M978.7 554.0L988.0 546.1 978.0 537.3 968.7 545.2Z" fill="#4fa7d8"/>
<path d="M969.4 546.0L978.7 538.1 968.8 528.5 959.5 536.4Z" fill="#4db3e0"/>
<path d="M996.6 554.1L1005.9 546.0 995.8 538.0 986.6 546.1Z" fill="#4fa6d8"/>
<path d="M987.3 546.8L996.6 538.8 986.6 530.0 977.3 538.0Z" fill="#4db0de"/>
<path d="M978.0 538.7L987.3 530.7 977.3 521.2 968.1 529.1Z" fill="#4eb7df"/>
<path d="M979.4 567.8L1005.2 546.0 977.4 521.9 951.5 543.6Z" fill="none" stroke="#111" stroke-width="2.0" stroke-linejoin="round"/>
<path d="M925.5 565.3L934.9 557.8 924.9 547.4 915.5 554.9Z" fill="#519dd2"/>
<path d="M916.3 555.7L925.6 548.2 915.8 537.0 906.4 544.5Z" fill="#4eacdb"/>
<path d="M907.1 545.3L916.5 537.9 906.6 525.9 897.2 533.4Z" fill="#4eb7df"/>
<path d="M934.2 558.4L943.6 550.8 933.6 540.4 924.3 548.0Z" fill="#4fa5d7"/>
<path d="M925.0 548.8L934.3 541.2 924.5 530.0 915.1 537.6Z" fill="#4cb4e1"/>
<path d="M915.8 538.4L925.2 530.9 915.3 519.0 906.0 526.5Z" fill="#52b8dc"/>
<path d="M942.9 551.4L952.2 543.7 942.3 533.3 933.0 541.0Z" fill="#4eaedd"/>
<path d="M933.7 541.8L943.0 534.1 933.1 523.0 923.8 530.6Z" fill="#4fb7df"/>
<path d="M924.5 531.4L933.8 523.8 924.0 511.9 914.7 519.5Z" fill="#55b9d8"/>
<path d="M925.4 564.6L951.5 543.6 924.0 512.6 897.9 533.5Z" fill="none" stroke="#111" stroke-width="2.0" stroke-linejoin="round"/>
<path d="M790.4 491.0L800.0 484.3 790.4 466.8 780.8 473.5Z" fill="#72c0b8"/>
<path d="M781.4 474.5L791.0 467.9 781.4 449.6 771.8 456.2Z" fill="#77c0b2"/>
<path d="M772.4 457.3L782.0 450.7 772.4 431.7 762.8 438.2Z" fill="#79bea1"/>
<path d="M799.4 484.7L808.9 477.9 799.3 460.4 789.8 467.2Z" fill="#73c0b6"/>
<path d="M790.4 468.2L799.9 461.5 790.3 443.2 780.8 450.0Z" fill="#78c0b0"/>
<path d="M781.4 451.0L790.9 444.3 781.3 425.3 771.8 432.0Z" fill="#79bd9c"/>
<path d="M808.3 478.2L817.8 471.4 808.2 454.0 798.7 460.8Z" fill="#75c0b5"/>
<path d="M799.3 461.8L808.8 455.0 799.2 436.8 789.7 443.6Z" fill="#78bfab"/>
<path d="M790.3 444.6L799.8 437.9 790.2 418.9 780.7 425.6Z" fill="#79bc97"/>
<path d="M790.4 490.3L817.2 471.1 790.2 419.6 763.4 438.6Z" fill="none" stroke="#111" stroke-width="2.0" stroke-linejoin="round"/>
<path d="M871.6 554.4L881.0 547.3 871.2 534.5 861.8 541.6Z" fill="#4cb6e2"/>
<path d="M862.4 542.5L871.9 535.4 862.1 521.8 852.7 529.0Z" fill="#54b8da"/>
<path d="M853.3 529.9L862.8 522.8 853.1 508.5 843.6 515.5Z" fill="#5cbbd1"/>
<path d="M880.4 547.8L889.8 540.5 880.0 527.8 870.6 535.0Z" fill="#4fb7df"/>
<path d="M871.3 535.9L880.7 528.7 870.9 515.1 861.5 522.3Z" fill="#57b9d6"/>
<path d="M862.2 523.2L871.6 516.1 861.9 501.8 852.4 508.9Z" fill="#5fbccd"/>
<path d="M889.2 541.0L898.6 533.7 888.8 521.0 879.4 528.3Z" fill="#52b8db"/>
<path d="M880.1 529.2L889.5 521.9 879.7 508.3 870.3 515.6Z" fill="#5abad3"/>
<path d="M871.0 516.5L880.4 509.3 870.6 495.0 861.2 502.2Z" fill="#63bdca"/>
<path d="M871.6 553.7L897.9 533.5 870.7 495.7 844.3 515.8Z" fill="none" stroke="#111" stroke-width="2.0" stroke-linejoin="round"/>
<path d="M655.4 260.7L665.0 254.7 655.6 227.7 645.9 233.7Z" fill="#a7c743"/>
<path d="M646.4 234.9L656.0 228.9 646.6 201.2 636.9 207.1Z" fill="#b9ce46"/>
<path d="M637.4 208.3L647.0 202.4 637.5 173.8 627.9 179.6Z" fill="#e3dd49"/>
<path d="M664.5 254.9L674.1 248.8 664.7 221.9 655.1 227.9Z" fill="#aac843"/>
<path d="M655.5 229.1L665.2 223.1 655.7 195.3 646.1 201.3Z" fill="#bfd046"/>
<path d="M646.5 202.6L656.2 196.6 646.7 168.0 637.1 173.9Z" fill="#e9e04a"/>
<path d="M673.7 249.0L683.2 242.9 673.8 215.9 664.2 222.1Z" fill="#acc944"/>
<path d="M664.7 223.3L674.3 217.2 664.8 189.4 655.2 195.5Z" fill="#c5d347"/>
<path d="M655.7 196.7L665.3 190.7 655.9 162.1 646.3 168.2Z" fill="#efe24a"/>
<path d="M655.4 260.0L682.8 242.3 655.9 162.8 628.3 180.2Z" fill="none" stroke="#111" stroke-width="2.0" stroke-linejoin="round"/>
<path d="M682.4 333.3L692.0 327.2 682.5 302.6 672.9 308.7Z" fill="#74b53f"/>
<path d="M673.4 309.9L683.0 303.8 673.5 278.5 663.9 284.5Z" fill="#81b93e"/>
<path d="M664.4 285.7L674.0 279.7 664.5 253.5 654.9 259.5Z" fill="#96c13f"/>
<path d="M691.5 327.4L701.1 321.3 691.6 296.7 682.0 302.9Z" fill="#74b53f"/>
<path d="M682.5 304.0L692.1 297.9 682.6 272.5 673.0 278.7Z" fill="#85bb3e"/>
<path d="M673.5 279.9L683.1 273.8 673.7 247.6 664.1 253.7Z" fill="#99c240"/>
<path d="M700.6 321.5L710.1 315.2 700.7 290.7 691.1 296.9Z" fill="#74b53e"/>
<path d="M691.6 298.1L701.2 291.9 691.7 266.6 682.1 272.8Z" fill="#89bc3e"/>
<path d="M682.6 273.9L692.2 267.8 682.8 241.6 673.2 247.8Z" fill="#9bc340"/>
<path d="M682.4 332.6L709.6 314.7 682.8 242.3 655.4 260.0Z" fill="none" stroke="#111" stroke-width="2.0" stroke-linejoin="round"/>
<path d="M709.4 399.0L719.0 392.7 709.5 370.5 699.8 376.7Z" fill="#70b447"/>
<path d="M700.4 377.8L710.0 371.7 700.5 348.7 690.8 354.8Z" fill="#71b444"/>
<path d="M691.4 356.0L701.0 349.8 691.5 326.0 681.9 332.1Z" fill="#72b542"/>
<path d="M718.4 393.0L728.0 386.7 718.5 364.5 708.9 370.8Z" fill="#71b446"/>
<path d="M709.4 371.9L719.0 365.7 709.5 342.7 699.9 348.9Z" fill="#72b444"/>
<path d="M700.5 350.1L710.1 343.9 700.6 320.1 691.0 326.3Z" fill="#73b541"/>
<path d="M727.5 387.0L737.0 380.6 727.5 358.4 718.0 364.8Z" fill="#71b446"/>
<path d="M718.5 365.9L728.1 359.6 718.6 336.6 709.0 342.9Z" fill="#72b443"/>
<path d="M709.5 344.1L719.1 337.8 709.6 314.0 700.1 320.3Z" fill="#73b541"/>
<path d="M709.4 398.3L736.5 380.1 709.6 314.7 682.4 332.6Z" fill="none" stroke="#111" stroke-width="2.0" stroke-linejoin="round"/>
<path d="M817.6 535.9L827.2 529.1 817.4 513.9 807.9 520.7Z" fill="#5cbbd1"/>
<path d="M808.5 521.7L818.1 514.9 808.4 498.9 798.8 505.7Z" fill="#66bec6"/>
<path d="M799.5 506.7L809.0 500.0 799.4 483.3 789.8 490.0Z" fill="#6ec0be"/>
<path d="M826.5 529.5L836.0 522.6 826.3 507.4 816.8 514.3Z" fill="#5fbcce"/>
<path d="M817.5 515.3L827.0 508.4 817.3 492.5 807.8 499.3Z" fill="#69bfc3"/>
<path d="M808.4 500.3L817.9 493.5 808.3 476.8 798.8 483.6Z" fill="#6fc0bc"/>
<path d="M835.4 523.0L844.9 516.0 835.2 500.9 825.7 507.9Z" fill="#62bdca"/>
<path d="M826.3 508.8L835.8 501.9 826.2 486.0 816.7 492.9Z" fill="#6cc0c0"/>
<path d="M817.3 493.9L826.8 487.0 817.1 470.4 807.7 477.2Z" fill="#70c0ba"/>
<path d="M817.6 535.2L844.3 515.8 817.2 471.1 790.4 490.3Z" fill="none" stroke="#111" stroke-width="2.0" stroke-linejoin="round"/>
<path d="M736.4 457.7L746.0 451.3 736.4 431.4 726.8 437.7Z" fill="#79bc9a"/>
<path d="M727.4 438.8L737.0 432.6 727.4 411.9 717.8 418.2Z" fill="#78b980"/>
<path d="M718.3 419.3L728.0 413.0 718.4 391.6 708.8 397.8Z" fill="#73b65b"/>
<path d="M745.4 451.6L755.0 445.2 745.4 425.4 735.8 431.7Z" fill="#79bc96"/>
<path d="M736.4 432.8L746.0 426.5 736.5 405.8 726.9 412.2Z" fill="#77b879"/>
<path d="M727.4 413.3L737.0 407.0 727.5 385.6 717.9 391.9Z" fill="#72b554"/>
<path d="M754.4 445.5L764.0 439.0 754.4 419.2 744.9 425.7Z" fill="#7abb91"/>
<path d="M745.4 426.8L755.0 420.3 745.5 399.7 735.9 406.1Z" fill="#76b871"/>
<path d="M736.5 407.2L746.0 400.8 736.5 379.4 726.9 385.8Z" fill="#71b44c"/>
<path d="M736.4 457.0L763.4 438.6 736.5 380.1 709.4 398.3Z" fill="none" stroke="#111" stroke-width="2.0" stroke-linejoin="round"/>
<path d="M1007.6 586.0L1016.9 578.0 1006.7 572.3 997.4 580.3Z" fill="#577fbf"/>
<path d="M998.2 581.0L1007.5 573.0 997.3 566.5 988.0 574.5Z" fill="#5685c2"/>
<path d="M988.8 575.1L998.1 567.2 988.0 560.0 978.7 567.9Z" fill="#548bc6"/>
<path d="M1016.3 578.8L1025.5 570.7 1015.3 565.1 1006.1 573.1Z" fill="#5588c5"/>
<path d="M1006.8 573.7L1016.1 565.7 1005.9 559.2 996.7 567.3Z" fill="#548ec8"/>
<path d="M997.4 567.9L1006.7 559.9 996.6 552.7 987.3 560.7Z" fill="#5294cc"/>
<path d="M1024.9 571.5L1034.1 563.3 1023.9 557.7 1014.7 565.8Z" fill="#5392cb"/>
<path d="M1015.4 566.5L1024.6 558.3 1014.5 551.9 1005.3 560.0Z" fill="#5297ce"/>
<path d="M1006.0 560.6L1015.2 552.6 1005.1 545.3 995.9 553.4Z" fill="#519ed2"/>
<path d="M1007.6 585.3L1033.4 563.4 1005.2 546.0 979.4 567.8Z" fill="none" stroke="#111" stroke-width="2.0" stroke-linejoin="round"/>
<path d="M953.3 589.7L962.7 582.0 952.7 574.0 943.3 581.6Z" fill="#587abb"/>
<path d="M944.0 582.3L953.4 574.7 943.4 565.8 934.0 573.4Z" fill="#5684c2"/>
<path d="M934.7 574.2L944.1 566.6 934.1 557.0 924.8 564.5Z" fill="#538fc9"/>
<path d="M962.0 582.7L971.4 575.0 961.3 566.9 952.0 574.6Z" fill="#5682c1"/>
<path d="M952.7 575.4L962.1 567.7 952.1 558.8 942.7 566.5Z" fill="#548cc7"/>
<path d="M943.4 567.2L952.8 559.6 942.8 550.0 933.5 557.6Z" fill="#5298cf"/>
<path d="M970.7 575.7L980.1 567.9 970.0 559.8 960.7 567.6Z" fill="#548bc6"/>
<path d="M961.4 568.3L970.7 560.6 960.7 551.7 951.4 559.5Z" fill="#5295cd"/>
<path d="M952.1 560.2L961.5 552.5 951.5 542.9 942.2 550.6Z" fill="#50a1d4"/>
<path d="M953.3 589.0L979.4 567.8 951.5 543.6 925.4 564.6Z" fill="none" stroke="#111" stroke-width="2.0" stroke-linejoin="round"/>
<path d="M899.1 585.7L908.6 578.4 898.7 567.9 889.2 575.2Z" fill="#5684c2"/>
<path d="M889.9 576.0L899.4 568.8 889.5 557.5 880.0 564.8Z" fill="#5393cc"/>
<path d="M880.7 565.6L890.2 558.4 880.4 546.4 870.9 553.6Z" fill="#50a4d6"/>
<path d="M907.9 579.0L917.4 571.6 907.5 561.1 898.0 568.5Z" fill="#548cc7"/>
<path d="M898.7 569.3L908.2 562.0 898.3 550.8 888.8 558.1Z" fill="#519bd1"/>
<path d="M889.5 558.9L899.0 551.6 889.1 539.6 879.7 546.9Z" fill="#4eacdb"/>
<path d="M916.7 572.2L926.1 564.7 916.2 554.3 906.8 561.7Z" fill="#5394cc"/>
<path d="M907.5 562.5L916.9 555.1 907.0 543.9 897.6 551.3Z" fill="#50a3d6"/>
<path d="M898.3 552.2L907.7 544.8 897.9 532.8 888.5 540.2Z" fill="#4cb4e1"/>
<path d="M899.1 585.0L925.4 564.6 897.9 533.5 871.6 553.7Z" fill="none" stroke="#111" stroke-width="2.0" stroke-linejoin="round"/>
<path d="M763.5 509.5L773.1 503.1 763.4 485.5 753.8 491.9Z" fill="#6fc0bc"/>
<path d="M754.4 493.0L764.0 486.6 754.4 468.2 744.8 474.6Z" fill="#73c0b6"/>
<path d="M745.4 475.7L755.0 469.3 745.4 450.2 735.8 456.6Z" fill="#78c0af"/>
<path d="M772.5 503.4L782.1 496.9 772.4 479.4 762.8 485.9Z" fill="#70c0bb"/>
<path d="M763.4 486.9L773.0 480.4 763.4 462.1 753.8 468.6Z" fill="#75c0b5"/>
<path d="M754.4 469.6L764.0 463.2 754.4 444.1 744.8 450.5Z" fill="#78bfaa"/>
<path d="M781.5 497.2L791.0 490.6 781.4 473.1 771.8 479.7Z" fill="#71c0b9"/>
<path d="M772.4 480.8L782.0 474.2 772.4 455.9 762.8 462.4Z" fill="#76c0b3"/>
<path d="M763.4 463.5L773.0 457.0 763.4 437.9 753.8 444.4Z" fill="#79bea6"/>
<path d="M763.5 508.8L790.4 490.3 763.4 438.6 736.4 457.0Z" fill="none" stroke="#111" stroke-width="2.0" stroke-linejoin="round"/>
<path d="M845.0 574.0L854.5 567.0 844.7 554.2 835.1 561.1Z" fill="#509fd3"/>
<path d="M835.8 562.0L845.4 555.1 835.6 541.5 826.0 548.4Z" fill="#4db3e0"/>
<path d="M826.7 549.3L836.3 542.5 826.5 528.1 816.9 534.9Z" fill="#53b8da"/>
<path d="M853.9 567.5L863.4 560.5 853.6 547.7 844.0 554.7Z" fill="#4fa6d8"/>
<path d="M844.7 555.6L854.3 548.6 844.5 535.0 834.9 542.0Z" fill="#4eb7e0"/>
<path d="M835.6 542.9L845.1 536.0 835.4 521.6 825.9 528.5Z" fill="#56b9d7"/>
<path d="M862.7 561.0L872.2 553.9 862.4 541.1 852.9 548.2Z" fill="#4eaedd"/>
<path d="M853.6 549.1L863.1 542.1 853.3 528.5 843.8 535.5Z" fill="#51b7dd"/>
<path d="M844.5 536.4L854.0 529.4 844.2 515.1 834.7 522.1Z" fill="#59bad4"/>
<path d="M845.0 573.3L871.6 553.7 844.3 515.8 817.6 535.2Z" fill="none" stroke="#111" stroke-width="2.0" stroke-linejoin="round"/>
<path d="M627.7 277.6L637.4 271.8 627.9 244.8 618.2 250.5Z" fill="#a0c441"/>
<path d="M618.7 251.7L628.4 246.0 618.9 218.1 609.1 223.8Z" fill="#b1cb45"/>
<path d="M609.6 225.0L619.3 219.3 609.8 190.6 600.1 196.3Z" fill="#d2d748"/>
<path d="M637.0 272.0L646.7 266.2 637.2 239.2 627.5 244.9Z" fill="#a2c542"/>
<path d="M627.9 246.2L637.6 240.4 628.1 212.5 618.4 218.3Z" fill="#b4cc45"/>
<path d="M618.9 219.5L628.6 213.8 619.1 185.1 609.4 190.8Z" fill="#d8d948"/>
<path d="M646.2 266.4L655.9 260.5 646.4 233.5 636.7 239.3Z" fill="#a5c642"/>
<path d="M637.2 240.6L646.8 234.7 637.4 206.9 627.7 212.7Z" fill="#b6cd45"/>
<path d="M628.1 213.9L637.8 208.1 628.3 179.5 618.7 185.3Z" fill="#dddb49"/>
<path d="M627.7 276.9L655.4 260.0 628.3 180.2 600.5 196.8Z" fill="none" stroke="#111" stroke-width="2.0" stroke-linejoin="round"/>
<path d="M654.8 350.5L664.5 344.6 655.0 320.0 645.3 325.8Z" fill="#73b540"/>
<path d="M645.8 327.0L655.5 321.2 646.0 295.7 636.3 301.5Z" fill="#76b63e"/>
<path d="M636.8 302.7L646.5 296.9 637.0 270.6 627.2 276.4Z" fill="#8fbe3e"/>
<path d="M664.0 344.8L673.7 338.9 664.2 314.3 654.5 320.2Z" fill="#73b540"/>
<path d="M655.0 321.4L664.7 315.5 655.2 290.0 645.5 295.9Z" fill="#7ab73e"/>
<path d="M646.0 297.1L655.7 291.2 646.2 265.0 636.5 270.8Z" fill="#91bf3e"/>
<path d="M673.2 339.1L682.9 333.1 673.4 308.5 663.7 314.5Z" fill="#73b540"/>
<path d="M664.2 315.7L673.9 309.7 664.4 284.3 654.7 290.2Z" fill="#7db83e"/>
<path d="M655.2 291.4L664.9 285.5 655.4 259.3 645.7 265.2Z" fill="#94c03f"/>
<path d="M654.8 349.8L682.4 332.6 655.4 260.0 627.7 276.9Z" fill="none" stroke="#111" stroke-width="2.0" stroke-linejoin="round"/>
<path d="M681.9 416.3L691.6 410.4 682.1 388.1 672.4 394.0Z" fill="#70b449"/>
<path d="M672.9 395.2L682.6 389.2 673.1 366.1 663.3 372.0Z" fill="#71b446"/>
<path d="M663.9 373.2L673.6 367.3 664.1 343.4 654.3 349.3Z" fill="#72b443"/>
<path d="M691.1 410.6L700.8 404.6 691.2 382.3 681.5 388.3Z" fill="#70b448"/>
<path d="M682.1 389.5L691.8 383.5 682.2 360.4 672.5 366.4Z" fill="#71b445"/>
<path d="M673.1 367.5L682.7 361.6 673.2 337.7 663.5 343.7Z" fill="#72b543"/>
<path d="M700.2 404.8L709.9 398.7 700.4 376.4 690.7 382.6Z" fill="#70b447"/>
<path d="M691.2 383.7L700.9 377.6 691.4 354.6 681.7 360.6Z" fill="#71b445"/>
<path d="M682.2 361.8L691.9 355.8 682.4 331.9 672.7 337.9Z" fill="#72b542"/>
<path d="M681.9 415.6L709.4 398.3 682.4 332.6 654.8 349.8Z" fill="none" stroke="#111" stroke-width="2.0" stroke-linejoin="round"/>
<path d="M790.7 554.5L800.3 548.0 790.6 532.7 781.0 539.3Z" fill="#54b8da"/>
<path d="M781.6 540.3L791.2 533.8 781.5 517.8 771.9 524.3Z" fill="#5ebccf"/>
<path d="M772.5 525.3L782.2 518.8 772.5 502.0 762.8 508.5Z" fill="#68bfc4"/>
<path d="M799.7 548.4L809.3 541.7 799.6 526.5 790.0 533.2Z" fill="#57b9d7"/>
<path d="M790.6 534.1L800.2 527.5 790.5 511.6 780.9 518.1Z" fill="#60bccc"/>
<path d="M781.5 519.2L791.1 512.6 781.5 495.8 771.9 502.4Z" fill="#6bc0c1"/>
<path d="M808.7 542.2L818.2 535.4 808.5 520.3 798.9 527.0Z" fill="#59bad4"/>
<path d="M799.6 527.9L809.2 521.3 799.5 505.3 789.9 512.0Z" fill="#63bdc9"/>
<path d="M790.5 513.0L800.1 506.3 790.4 489.6 780.9 496.2Z" fill="#6dc0bf"/>
<path d="M790.7 553.8L817.6 535.2 790.4 490.3 763.5 508.8Z" fill="none" stroke="#111" stroke-width="2.0" stroke-linejoin="round"/>
<path d="M709.0 475.3L718.7 469.2 709.1 449.2 699.4 455.3Z" fill="#79bea6"/>
<path d="M700.0 456.4L709.7 450.3 700.1 429.6 690.4 435.6Z" fill="#7abb91"/>
<path d="M691.0 436.7L700.7 430.7 691.1 409.2 681.4 415.2Z" fill="#76b76f"/>
<path d="M718.2 469.5L727.9 463.3 718.3 443.4 708.6 449.5Z" fill="#79bea2"/>
<path d="M709.1 450.6L718.8 444.5 709.3 423.8 699.6 429.9Z" fill="#7aba8d"/>
<path d="M700.1 431.0L709.8 424.9 700.2 403.4 690.6 409.5Z" fill="#75b769"/>
<path d="M727.3 463.6L736.9 457.4 727.4 437.4 717.7 443.7Z" fill="#79bd9e"/>
<path d="M718.3 444.8L727.9 438.6 718.4 417.9 708.7 424.1Z" fill="#79ba87"/>
<path d="M709.2 425.2L718.9 419.0 709.4 397.6 699.7 403.7Z" fill="#74b662"/>
<path d="M709.0 474.6L736.4 457.0 709.4 398.3 681.9 415.6Z" fill="none" stroke="#111" stroke-width="2.0" stroke-linejoin="round"/>
<path d="M981.6 607.2L990.9 599.5 980.7 593.8 971.4 601.5Z" fill="#526caf"/>
<path d="M972.1 602.1L981.5 594.4 971.3 587.9 962.0 595.6Z" fill="#5470b2"/>
<path d="M962.7 596.3L972.1 588.6 962.0 581.3 952.6 589.0Z" fill="#5674b6"/>
<path d="M990.3 600.2L999.6 592.4 989.4 586.7 980.1 594.5Z" fill="#5572b4"/>
<path d="M980.8 595.2L990.2 587.3 980.0 580.9 970.7 588.7Z" fill="#5775b7"/>
<path d="M971.4 589.3L980.8 581.5 970.7 574.3 961.3 582.0Z" fill="#587abb"/>
<path d="M999.0 593.2L1008.3 585.2 998.1 579.6 988.8 587.5Z" fill="#5877b9"/>
<path d="M989.5 588.1L998.8 580.2 988.7 573.7 979.4 581.6Z" fill="#577cbc"/>
<path d="M980.1 582.3L989.4 574.4 979.3 567.1 970.0 575.0Z" fill="#5682c1"/>
<path d="M981.5 606.5L1007.6 585.3 979.4 567.8 953.3 589.0Z" fill="none" stroke="#111" stroke-width="2.0" stroke-linejoin="round"/>
<path d="M927.0 610.1L936.5 602.7 926.4 594.6 917.0 602.0Z" fill="#516aad"/>
<path d="M917.7 602.7L927.2 595.4 917.2 586.5 907.7 593.8Z" fill="#5470b3"/>
<path d="M908.4 594.6L917.9 587.2 907.9 577.6 898.4 584.9Z" fill="#5877b9"/>
<path d="M935.8 603.4L945.3 595.9 935.2 587.8 925.8 595.3Z" fill="#546fb1"/>
<path d="M926.5 596.0L935.9 588.5 925.9 579.7 916.5 587.1Z" fill="#5775b7"/>
<path d="M917.2 587.9L926.6 580.4 916.7 570.8 907.2 578.2Z" fill="#577fbe"/>
<path d="M944.6 596.6L954.0 589.0 944.0 580.9 934.5 588.5Z" fill="#5674b6"/>
<path d="M935.3 589.2L944.7 581.7 934.7 572.8 925.3 580.3Z" fill="#577bbc"/>
<path d="M926.0 581.1L935.4 573.6 925.4 563.9 916.0 571.4Z" fill="#5587c4"/>
<path d="M927.0 609.4L953.3 589.0 925.4 564.6 899.1 585.0Z" fill="none" stroke="#111" stroke-width="2.0" stroke-linejoin="round"/>
<path d="M1036.3 596.7L1045.6 588.6 1035.2 585.2 1026.0 593.3Z" fill="#587abb"/>
<path d="M1026.7 593.9L1036.0 585.8 1025.7 581.7 1016.4 589.8Z" fill="#587abb"/>
<path d="M1017.1 590.3L1026.4 582.3 1016.2 577.4 1006.9 585.4Z" fill="#577cbc"/>
<path d="M1045.0 589.4L1054.2 581.2 1043.8 577.9 1034.6 586.1Z" fill="#5683c1"/>
<path d="M1035.3 586.6L1044.6 578.5 1034.3 574.4 1025.0 582.5Z" fill="#5683c1"/>
<path d="M1025.8 583.1L1035.0 575.0 1024.8 570.1 1015.5 578.2Z" fill="#5685c2"/>
<path d="M1053.6 582.1L1062.8 573.8 1052.4 570.5 1043.2 578.8Z" fill="#548cc7"/>
<path d="M1043.9 579.3L1053.2 571.1 1042.8 567.0 1033.6 575.2Z" fill="#548cc7"/>
<path d="M1034.4 575.8L1043.6 567.6 1033.3 562.7 1024.1 570.9Z" fill="#548ec8"/>
<path d="M1036.3 596.0L1062.1 574.0 1033.4 563.4 1007.6 585.3Z" fill="none" stroke="#111" stroke-width="2.0" stroke-linejoin="round"/>
<path d="M872.6 605.3L882.1 598.3 872.2 587.8 862.6 594.8Z" fill="#5572b4"/>
<path d="M863.3 595.6L872.9 588.6 863.0 577.3 853.4 584.3Z" fill="#577dbd"/>
<path d="M854.1 585.2L863.7 578.2 853.8 566.1 844.3 573.1Z" fill="#548dc8"/>
<path d="M881.5 598.8L891.0 591.7 881.1 581.2 871.5 588.3Z" fill="#5776b8"/>
<path d="M872.2 589.2L881.8 582.1 871.9 570.8 862.3 577.9Z" fill="#5684c2"/>
<path d="M863.0 578.7L872.6 571.7 862.7 559.6 853.2 566.7Z" fill="#5394cc"/>
<path d="M890.3 592.3L899.8 585.1 889.9 574.6 880.4 581.8Z" fill="#577dbd"/>
<path d="M881.1 582.6L890.6 575.4 880.7 564.2 871.2 571.4Z" fill="#548bc7"/>
<path d="M871.9 572.2L881.4 565.1 871.5 553.0 862.0 560.2Z" fill="#519cd1"/>
<path d="M872.6 604.6L899.1 585.0 871.6 553.7 845.0 573.3Z" fill="none" stroke="#111" stroke-width="2.0" stroke-linejoin="round"/>
<path d="M736.2 527.3L745.9 521.1 736.3 503.5 726.5 509.7Z" fill="#6bc0c1"/>
<path d="M727.1 510.7L736.9 504.6 727.2 486.2 717.5 492.3Z" fill="#70c0ba"/>
<path d="M718.1 493.4L727.8 487.2 718.2 468.1 708.5 474.2Z" fill="#75c0b4"/>
<path d="M745.3 521.4L755.0 515.2 745.4 497.6 735.7 503.8Z" fill="#6dc0bf"/>
<path d="M736.3 504.9L745.9 498.6 736.3 480.3 726.6 486.5Z" fill="#71c0b9"/>
<path d="M727.2 487.6L736.9 481.4 727.3 462.2 717.6 468.4Z" fill="#76c0b2"/>
<path d="M754.4 515.5L764.1 509.1 754.4 491.6 744.7 497.9Z" fill="#6ec0be"/>
<path d="M745.4 499.0L755.0 492.6 745.4 474.3 735.7 480.6Z" fill="#72c0b8"/>
<path d="M736.3 481.7L746.0 475.4 736.4 456.3 726.7 462.5Z" fill="#77c0b1"/>
<path d="M736.2 526.6L763.5 508.8 736.4 457.0 709.0 474.6Z" fill="none" stroke="#111" stroke-width="2.0" stroke-linejoin="round"/>
<path d="M818.1 592.8L827.7 586.1 817.9 573.2 808.3 579.9Z" fill="#548ac6"/>
<path d="M808.9 580.8L818.6 574.1 808.8 560.5 799.1 567.1Z" fill="#519ed2"/>
<path d="M799.8 568.0L809.4 561.4 799.7 547.0 790.0 553.6Z" fill="#4db3e0"/>
<path d="M827.1 586.6L836.7 579.8 826.9 566.9 817.3 573.7Z" fill="#5391ca"/>
<path d="M817.9 574.6L827.5 567.9 817.8 554.2 808.1 560.9Z" fill="#4fa5d7"/>
<path d="M808.8 561.9L818.4 555.2 808.7 540.8 799.0 547.4Z" fill="#4eb6e0"/>
<path d="M836.0 580.3L845.6 573.5 835.8 560.6 826.2 567.4Z" fill="#5298cf"/>
<path d="M826.9 568.3L836.5 561.5 826.7 547.9 817.1 554.7Z" fill="#4eacdb"/>
<path d="M817.8 555.6L827.3 548.9 817.6 534.5 808.0 541.2Z" fill="#50b7dd"/>
<path d="M818.1 592.1L845.0 573.3 817.6 535.2 790.7 553.8Z" fill="none" stroke="#111" stroke-width="2.0" stroke-linejoin="round"/>
<path d="M599.8 293.7L609.6 288.2 600.0 261.1 590.2 266.5Z" fill="#99c240"/>
<path d="M590.7 267.7L600.5 262.3 590.9 234.3 581.1 239.7Z" fill="#abc943"/>
<path d="M581.6 240.9L591.4 235.5 581.8 206.7 572.0 212.1Z" fill="#c3d247"/>
<path d="M609.1 288.4L618.9 282.9 609.4 255.7 599.6 261.2Z" fill="#9bc340"/>
<path d="M600.0 262.5L609.8 256.9 600.3 229.0 590.5 234.5Z" fill="#adc944"/>
<path d="M590.9 235.7L600.7 230.2 591.2 201.5 581.4 206.9Z" fill="#c8d347"/>
<path d="M618.4 283.0L628.2 277.4 618.7 250.3 608.9 255.9Z" fill="#9ec441"/>
<path d="M609.4 257.1L619.1 251.5 609.6 223.6 599.8 229.2Z" fill="#afca44"/>
<path d="M600.3 230.4L610.1 224.8 600.5 196.1 590.8 201.6Z" fill="#cdd547"/>
<path d="M599.8 293.0L627.7 276.9 600.5 196.8 572.4 212.6Z" fill="none" stroke="#111" stroke-width="2.0" stroke-linejoin="round"/>
<path d="M627.0 366.9L636.8 361.3 627.3 336.5 617.4 342.1Z" fill="#73b542"/>
<path d="M617.9 343.3L627.7 337.7 618.2 312.2 608.4 317.7Z" fill="#74b53f"/>
<path d="M608.8 318.9L618.7 313.4 609.1 287.0 599.3 292.5Z" fill="#85bb3e"/>
<path d="M636.3 361.5L646.1 355.8 636.6 331.1 626.8 336.7Z" fill="#73b541"/>
<path d="M627.3 337.9L637.0 332.3 627.5 306.8 617.7 312.4Z" fill="#74b53f"/>
<path d="M618.2 313.6L628.0 308.0 618.4 281.6 608.6 287.2Z" fill="#88bc3e"/>
<path d="M645.6 356.0L655.3 350.3 645.8 325.6 636.0 331.3Z" fill="#73b541"/>
<path d="M636.5 332.5L646.3 326.8 636.8 301.3 627.0 307.0Z" fill="#74b53e"/>
<path d="M627.5 308.2L637.2 302.5 627.7 276.2 618.0 281.8Z" fill="#8bbd3e"/>
<path d="M627.0 366.2L654.8 349.8 627.7 276.9 599.8 293.0Z" fill="none" stroke="#111" stroke-width="2.0" stroke-linejoin="round"/>
<path d="M654.2 433.0L664.0 427.3 654.4 404.9 644.6 410.6Z" fill="#73b65b"/>
<path d="M645.1 411.7L654.9 406.1 645.4 382.9 635.6 388.5Z" fill="#71b447"/>
<path d="M636.1 389.7L645.9 384.1 636.3 360.1 626.5 365.7Z" fill="#72b444"/>
<path d="M663.5 427.5L673.2 421.7 663.7 399.4 653.9 405.1Z" fill="#72b555"/>
<path d="M654.4 406.3L664.2 400.5 654.6 377.4 644.9 383.1Z" fill="#71b446"/>
<path d="M645.4 384.3L655.1 378.6 645.6 354.6 635.8 360.3Z" fill="#72b444"/>
<path d="M672.7 422.0L682.5 416.1 672.9 393.8 663.1 399.6Z" fill="#71b54f"/>
<path d="M663.7 400.8L673.4 394.9 663.9 371.8 654.1 377.6Z" fill="#71b446"/>
<path d="M654.6 378.8L664.4 373.0 654.8 349.1 645.1 354.9Z" fill="#72b443"/>
<path d="M654.2 432.3L681.9 415.6 654.8 349.8 627.0 366.2Z" fill="none" stroke="#111" stroke-width="2.0" stroke-linejoin="round"/>
<path d="M763.5 572.5L773.2 566.2 763.5 550.9 753.7 557.2Z" fill="#4cb6e2"/>
<path d="M754.4 558.2L764.1 551.9 754.4 535.8 744.7 542.1Z" fill="#56b9d7"/>
<path d="M745.3 543.1L755.0 536.9 745.3 520.0 735.6 526.3Z" fill="#60bccc"/>
<path d="M772.6 566.6L782.3 560.2 772.6 544.9 762.8 551.3Z" fill="#4fb7df"/>
<path d="M763.5 552.3L773.2 545.9 763.5 529.9 753.8 536.2Z" fill="#58bad5"/>
<path d="M754.4 537.2L764.1 530.9 754.4 514.1 744.7 520.4Z" fill="#63bdca"/>
<path d="M781.7 560.6L791.3 554.1 781.6 538.9 771.9 545.3Z" fill="#51b8dc"/>
<path d="M772.6 546.3L782.2 539.9 772.5 523.9 762.8 530.3Z" fill="#5bbbd2"/>
<path d="M763.5 531.3L773.1 524.9 763.5 508.1 753.8 514.5Z" fill="#65bec7"/>
<path d="M763.5 571.8L790.7 553.8 763.5 508.8 736.2 526.6Z" fill="none" stroke="#111" stroke-width="2.0" stroke-linejoin="round"/>
<path d="M955.3 627.8L964.7 620.2 954.5 614.5 945.1 622.0Z" fill="#4b5da1"/>
<path d="M945.8 622.6L955.3 615.2 945.1 608.6 935.7 616.1Z" fill="#4d60a4"/>
<path d="M936.4 616.8L945.9 609.3 935.8 602.0 926.3 609.4Z" fill="#4f65a8"/>
<path d="M964.1 621.0L973.5 613.4 963.3 607.7 953.9 615.3Z" fill="#4e62a5"/>
<path d="M954.6 615.9L964.0 608.3 953.9 601.8 944.5 609.4Z" fill="#4f65a8"/>
<path d="M945.2 610.0L954.6 602.5 944.5 595.2 935.1 602.7Z" fill="#516aac"/>
<path d="M972.8 614.2L982.2 606.5 972.0 600.7 962.6 608.4Z" fill="#5067aa"/>
<path d="M963.4 609.1L972.8 601.4 962.6 594.9 953.2 602.5Z" fill="#526aad"/>
<path d="M954.0 603.2L963.4 595.6 953.3 588.3 943.9 595.9Z" fill="#546fb1"/>
<path d="M955.2 627.1L981.5 606.5 953.3 589.0 927.0 609.4Z" fill="none" stroke="#111" stroke-width="2.0" stroke-linejoin="round"/>
<path d="M900.5 629.9L910.0 622.7 900.0 614.5 890.4 621.7Z" fill="#4b5c9f"/>
<path d="M891.1 622.4L900.7 615.3 890.7 606.4 881.1 613.5Z" fill="#4e62a5"/>
<path d="M881.8 614.3L891.4 607.2 881.4 597.4 871.9 604.5Z" fill="#5169ac"/>
<path d="M909.4 623.4L918.9 616.1 908.8 608.0 899.3 615.2Z" fill="#4d60a4"/>
<path d="M900.0 615.9L909.5 608.7 899.5 599.8 890.0 607.0Z" fill="#5067aa"/>
<path d="M890.7 607.8L900.3 600.6 890.3 590.9 880.7 598.0Z" fill="#536eb0"/>
<path d="M918.2 616.8L927.7 609.4 917.6 601.3 908.2 608.6Z" fill="#4f65a8"/>
<path d="M908.9 609.4L918.4 602.1 908.4 593.2 898.9 600.4Z" fill="#526bae"/>
<path d="M899.6 601.2L909.1 594.0 899.1 584.3 889.6 591.5Z" fill="#5573b5"/>
<path d="M900.5 629.2L927.0 609.4 899.1 585.0 872.6 604.6Z" fill="none" stroke="#111" stroke-width="2.0" stroke-linejoin="round"/>
<path d="M681.4 492.1L691.2 486.3 681.6 466.3 671.8 472.1Z" fill="#78c0b1"/>
<path d="M672.3 473.2L682.1 467.4 672.5 446.6 662.7 452.4Z" fill="#79bd9c"/>
<path d="M663.3 453.5L673.1 447.7 663.5 426.1 653.7 431.9Z" fill="#78b982"/>
<path d="M690.6 486.6L700.4 480.7 690.8 460.7 681.0 466.6Z" fill="#78c0ae"/>
<path d="M681.6 467.7L691.4 461.8 681.8 441.0 672.0 446.9Z" fill="#79bc99"/>
<path d="M672.5 448.0L682.3 442.2 672.7 420.6 662.9 426.4Z" fill="#78b97c"/>
<path d="M699.9 481.0L709.6 475.0 700.0 455.0 690.2 461.0Z" fill="#78bfaa"/>
<path d="M690.8 462.1L700.5 456.1 691.0 435.3 681.2 441.3Z" fill="#7abb95"/>
<path d="M681.8 442.4L691.5 436.5 681.9 414.9 672.2 420.8Z" fill="#77b875"/>
<path d="M681.4 491.4L709.0 474.6 681.9 415.6 654.2 432.3Z" fill="none" stroke="#111" stroke-width="2.0" stroke-linejoin="round"/>
<path d="M1010.3 617.9L1019.6 610.1 1009.2 606.7 999.9 614.6Z" fill="#5169ac"/>
<path d="M1000.7 615.1L1010.0 607.3 999.7 603.2 990.4 611.0Z" fill="#5169ac"/>
<path d="M991.1 611.6L1000.4 603.8 990.2 598.8 980.8 606.6Z" fill="#516aad"/>
<path d="M1019.0 610.9L1028.3 603.0 1017.9 599.6 1008.6 607.6Z" fill="#536eb1"/>
<path d="M1009.4 608.1L1018.7 600.2 1008.4 596.1 999.1 604.0Z" fill="#536eb1"/>
<path d="M999.8 604.6L1009.1 596.7 998.9 591.8 989.6 599.7Z" fill="#546fb2"/>
<path d="M1027.7 603.8L1036.9 595.8 1026.6 592.5 1017.3 600.5Z" fill="#5674b6"/>
<path d="M1018.0 601.0L1027.3 593.0 1017.0 588.9 1007.7 596.9Z" fill="#5674b6"/>
<path d="M1008.5 597.5L1017.8 589.5 1007.5 584.6 998.2 592.6Z" fill="#5775b7"/>
<path d="M1010.2 617.2L1036.3 596.0 1007.6 585.3 981.5 606.5Z" fill="none" stroke="#111" stroke-width="2.0" stroke-linejoin="round"/>
<path d="M845.7 624.3L855.4 617.5 845.5 606.9 835.8 613.7Z" fill="#4f64a8"/>
<path d="M836.5 614.5L846.1 607.8 836.2 596.4 826.6 603.2Z" fill="#536eb0"/>
<path d="M827.3 604.0L836.9 597.3 827.1 585.2 817.4 591.9Z" fill="#5878ba"/>
<path d="M854.7 618.0L864.3 611.1 854.4 600.6 844.8 607.5Z" fill="#5169ac"/>
<path d="M845.5 608.3L855.1 601.5 845.2 590.1 835.6 597.0Z" fill="#5572b4"/>
<path d="M836.3 597.8L845.9 591.0 836.0 578.9 826.4 585.7Z" fill="#577fbe"/>
<path d="M863.7 611.7L873.2 604.7 863.3 594.2 853.7 601.2Z" fill="#536db0"/>
<path d="M854.4 602.0L864.0 595.1 854.1 583.8 844.5 590.7Z" fill="#5776b8"/>
<path d="M845.2 591.5L854.8 584.6 844.9 572.6 835.4 579.4Z" fill="#5586c3"/>
<path d="M845.7 623.6L872.6 604.6 845.0 573.3 818.1 592.1Z" fill="none" stroke="#111" stroke-width="2.0" stroke-linejoin="round"/>
<path d="M1065.5 600.3L1074.7 592.1 1064.2 591.3 1055.0 599.4Z" fill="#5683c1"/>
<path d="M1055.7 599.9L1065.0 591.7 1054.5 590.0 1045.3 598.2Z" fill="#577ebe"/>
<path d="M1046.0 598.7L1055.2 590.5 1044.8 588.0 1035.6 596.2Z" fill="#577bbc"/>
<path d="M1074.2 593.1L1083.3 584.8 1072.8 583.9 1063.6 592.2Z" fill="#548cc7"/>
<path d="M1064.4 592.6L1073.6 584.4 1063.1 582.7 1053.9 590.9Z" fill="#5587c4"/>
<path d="M1054.6 591.4L1063.8 583.2 1053.4 580.7 1044.2 588.9Z" fill="#5684c2"/>
<path d="M1082.8 585.7L1091.9 577.4 1081.4 576.5 1072.2 584.9Z" fill="#5295cd"/>
<path d="M1073.0 585.3L1082.1 577.0 1071.7 575.3 1062.5 583.6Z" fill="#5390ca"/>
<path d="M1063.3 584.1L1072.4 575.8 1062.0 573.3 1052.8 581.6Z" fill="#548dc8"/>
<path d="M1065.4 599.6L1091.3 577.6 1062.1 574.0 1036.3 596.0Z" fill="none" stroke="#111" stroke-width="1.9" stroke-linejoin="round"/>
<path d="M708.7 544.4L718.5 538.4 708.8 520.7 699.0 526.7Z" fill="#64bec8"/>
<path d="M699.6 527.7L709.4 521.8 699.7 503.3 689.9 509.2Z" fill="#6ec0be"/>
<path d="M690.5 510.3L700.3 504.4 690.7 485.2 680.8 491.0Z" fill="#72c0b7"/>
<path d="M717.9 538.8L727.7 532.7 718.0 515.1 708.2 521.1Z" fill="#67bec6"/>
<path d="M708.8 522.1L718.6 516.1 708.9 497.7 699.1 503.7Z" fill="#6ec0bd"/>
<path d="M699.7 504.7L709.5 498.8 699.9 479.6 690.1 485.5Z" fill="#73c0b6"/>
<path d="M727.1 533.1L736.8 527.0 727.1 509.3 717.4 515.4Z" fill="#69bfc3"/>
<path d="M718.0 516.5L727.7 510.4 718.1 492.0 708.3 498.0Z" fill="#6fc0bb"/>
<path d="M708.9 499.1L718.7 493.1 709.0 473.9 699.3 479.9Z" fill="#74c0b5"/>
<path d="M708.7 543.7L736.2 526.6 709.0 474.6 681.4 491.4Z" fill="none" stroke="#111" stroke-width="2.0" stroke-linejoin="round"/>
<path d="M791.0 610.9L800.7 604.5 790.9 591.5 781.1 597.9Z" fill="#5877b9"/>
<path d="M781.8 598.9L791.5 592.5 781.7 578.7 772.0 585.1Z" fill="#548bc6"/>
<path d="M772.6 586.1L782.4 579.7 772.6 565.2 762.8 571.5Z" fill="#50a0d4"/>
<path d="M800.0 604.9L809.7 598.4 799.9 585.5 790.2 592.0Z" fill="#577dbd"/>
<path d="M790.9 592.9L800.6 586.4 790.8 572.7 781.1 579.2Z" fill="#5391ca"/>
<path d="M781.7 580.1L791.4 573.7 781.6 559.2 771.9 565.6Z" fill="#4fa6d8"/>
<path d="M809.1 598.9L818.8 592.3 808.9 579.4 799.2 586.0Z" fill="#5684c1"/>
<path d="M799.9 586.9L809.6 580.3 799.8 566.6 790.1 573.2Z" fill="#5297ce"/>
<path d="M790.8 574.1L800.4 567.6 790.7 553.1 781.0 559.6Z" fill="#4eacdc"/>
<path d="M790.9 610.2L818.1 592.1 790.7 553.8 763.5 571.8Z" fill="none" stroke="#111" stroke-width="2.0" stroke-linejoin="round"/>
<path d="M571.5 309.1L581.4 303.9 571.8 276.6 561.9 281.8Z" fill="#93c03f"/>
<path d="M562.3 283.0L572.3 277.8 562.7 249.7 552.7 254.9Z" fill="#a5c642"/>
<path d="M553.2 256.1L563.1 251.0 553.5 222.1 543.6 227.2Z" fill="#b7cd46"/>
<path d="M581.0 304.1L590.8 298.7 581.3 271.5 571.4 276.8Z" fill="#95c03f"/>
<path d="M571.8 278.0L581.7 272.7 572.1 244.7 562.2 249.9Z" fill="#a7c742"/>
<path d="M562.7 251.1L572.6 245.9 563.0 217.1 553.1 222.2Z" fill="#b9ce46"/>
<path d="M590.4 298.9L600.2 293.5 590.7 266.3 580.8 271.7Z" fill="#97c140"/>
<path d="M581.3 272.9L591.1 267.6 581.6 239.5 571.7 244.9Z" fill="#a9c843"/>
<path d="M572.1 246.1L582.0 240.8 572.4 211.9 562.5 217.2Z" fill="#bed046"/>
<path d="M571.5 308.4L599.8 293.0 572.4 212.6 544.0 227.7Z" fill="none" stroke="#111" stroke-width="2.0" stroke-linejoin="round"/>
<path d="M598.9 382.6L608.8 377.2 599.2 352.4 589.3 357.7Z" fill="#72b543"/>
<path d="M589.8 358.9L599.7 353.6 590.1 327.9 580.2 333.2Z" fill="#73b540"/>
<path d="M580.6 334.4L590.6 329.1 581.0 302.7 571.0 307.9Z" fill="#7cb83e"/>
<path d="M608.3 377.4L618.2 372.0 608.6 347.2 598.7 352.6Z" fill="#72b542"/>
<path d="M599.2 353.8L609.1 348.4 599.5 322.7 589.6 328.1Z" fill="#73b540"/>
<path d="M590.1 329.3L600.0 324.0 590.4 297.5 580.5 302.8Z" fill="#7fb93e"/>
<path d="M617.7 372.2L627.5 366.7 617.9 341.9 608.1 347.4Z" fill="#72b542"/>
<path d="M608.6 348.6L618.4 343.1 608.9 317.5 599.0 322.9Z" fill="#74b53f"/>
<path d="M599.5 324.1L609.3 318.7 599.8 292.3 589.9 297.7Z" fill="#82ba3e"/>
<path d="M598.9 381.9L627.0 366.2 599.8 293.0 571.5 308.4Z" fill="none" stroke="#111" stroke-width="2.0" stroke-linejoin="round"/>
<path d="M626.2 448.9L636.1 443.5 626.5 421.0 616.6 426.4Z" fill="#75b76c"/>
<path d="M617.1 427.6L627.0 422.2 617.4 398.9 607.5 404.3Z" fill="#70b448"/>
<path d="M608.0 405.5L617.9 400.1 608.3 376.0 598.4 381.4Z" fill="#71b445"/>
<path d="M635.6 443.7L645.4 438.2 635.8 415.7 625.9 421.2Z" fill="#74b766"/>
<path d="M626.5 422.4L636.3 416.9 626.8 393.6 616.9 399.1Z" fill="#70b447"/>
<path d="M617.4 400.3L627.3 394.8 617.7 370.8 607.8 376.2Z" fill="#71b445"/>
<path d="M644.9 438.4L654.7 432.8 645.1 410.3 635.3 416.0Z" fill="#74b661"/>
<path d="M635.8 417.1L645.7 411.5 636.1 388.3 626.2 393.9Z" fill="#70b447"/>
<path d="M626.7 395.0L636.6 389.5 627.0 365.5 617.2 371.0Z" fill="#71b445"/>
<path d="M626.2 448.2L654.2 432.3 627.0 366.2 598.9 381.9Z" fill="none" stroke="#111" stroke-width="2.0" stroke-linejoin="round"/>
<path d="M736.0 589.8L745.8 583.7 736.1 568.3 726.3 574.4Z" fill="#4fa5d7"/>
<path d="M726.9 575.4L736.7 569.4 727.0 553.2 717.1 559.2Z" fill="#4fb7df"/>
<path d="M717.8 560.3L727.6 554.3 717.9 537.4 708.1 543.3Z" fill="#59bad4"/>
<path d="M745.2 584.1L755.0 577.9 745.3 562.6 735.5 568.7Z" fill="#4eabdb"/>
<path d="M736.1 569.7L745.9 563.6 736.1 547.5 726.4 553.6Z" fill="#51b8dc"/>
<path d="M727.0 554.6L736.8 548.6 727.1 531.7 717.3 537.7Z" fill="#5cbbd1"/>
<path d="M754.4 578.3L764.1 572.1 754.4 556.8 744.6 563.0Z" fill="#4db1df"/>
<path d="M745.2 564.0L755.0 557.8 745.3 541.7 735.5 547.9Z" fill="#54b8da"/>
<path d="M736.1 548.9L745.9 542.8 736.2 525.9 726.4 532.0Z" fill="#5ebccf"/>
<path d="M736.0 589.1L763.5 571.8 736.2 526.6 708.7 543.7Z" fill="none" stroke="#111" stroke-width="2.0" stroke-linejoin="round"/>
<path d="M928.7 647.6L938.3 640.3 928.1 634.5 918.5 641.8Z" fill="#465296"/>
<path d="M919.3 642.4L928.8 635.2 918.7 628.6 909.1 635.9Z" fill="#475397"/>
<path d="M909.9 636.5L919.4 629.3 909.3 622.0 899.8 629.2Z" fill="#48579a"/>
<path d="M937.6 641.1L947.1 633.7 936.9 627.9 927.4 635.3Z" fill="#475498"/>
<path d="M928.2 635.9L937.7 628.6 927.5 622.0 918.0 629.4Z" fill="#48579b"/>
<path d="M918.7 630.0L928.3 622.7 918.2 615.4 908.6 622.7Z" fill="#4a5b9f"/>
<path d="M946.5 634.4L955.9 627.0 945.8 621.2 936.3 628.7Z" fill="#49589c"/>
<path d="M937.0 629.3L946.5 621.9 936.3 615.4 926.9 622.8Z" fill="#4b5c9f"/>
<path d="M927.6 623.4L937.1 616.1 927.0 608.7 917.5 616.1Z" fill="#4d60a3"/>
<path d="M928.7 646.9L955.2 627.1 927.0 609.4 900.5 629.2Z" fill="none" stroke="#111" stroke-width="2.0" stroke-linejoin="round"/>
<path d="M873.7 648.9L883.3 642.0 873.3 633.8 863.6 640.7Z" fill="#465296"/>
<path d="M864.3 641.5L874.0 634.6 864.0 625.6 854.3 632.5Z" fill="#485599"/>
<path d="M855.0 633.2L864.7 626.4 854.7 616.6 845.0 623.5Z" fill="#4b5ca0"/>
<path d="M882.6 642.6L892.2 635.6 882.2 627.5 872.6 634.5Z" fill="#475498"/>
<path d="M873.3 635.2L882.9 628.2 872.9 619.3 863.3 626.2Z" fill="#49599d"/>
<path d="M864.0 627.0L873.6 620.1 863.6 610.3 854.0 617.2Z" fill="#4d60a4"/>
<path d="M891.6 636.3L901.2 629.2 891.1 621.0 881.5 628.1Z" fill="#49579b"/>
<path d="M882.2 628.9L891.8 621.8 881.8 612.9 872.2 619.9Z" fill="#4c5ea1"/>
<path d="M872.9 620.7L882.5 613.6 872.5 603.9 863.0 610.9Z" fill="#4f65a8"/>
<path d="M873.6 648.2L900.5 629.2 872.6 604.6 845.7 623.6Z" fill="none" stroke="#111" stroke-width="2.0" stroke-linejoin="round"/>
<path d="M984.0 638.5L993.4 630.9 983.0 627.5 973.6 635.2Z" fill="#4a5a9e"/>
<path d="M974.4 635.7L983.8 628.1 973.5 623.9 964.1 631.5Z" fill="#4a5a9e"/>
<path d="M964.8 632.1L974.2 624.6 964.0 619.6 954.6 627.2Z" fill="#4a5b9f"/>
<path d="M992.8 631.7L1002.1 624.0 991.8 620.7 982.4 628.4Z" fill="#4c5fa2"/>
<path d="M983.1 628.9L992.5 621.2 982.3 617.1 972.9 624.8Z" fill="#4c5fa2"/>
<path d="M973.6 625.3L983.0 617.7 972.8 612.8 963.3 620.4Z" fill="#4d60a3"/>
<path d="M1001.5 624.9L1010.9 617.1 1000.5 613.7 991.2 621.5Z" fill="#4e64a7"/>
<path d="M991.9 622.1L1001.3 614.3 991.0 610.2 981.6 617.9Z" fill="#4f64a7"/>
<path d="M982.4 618.5L991.7 610.8 981.5 605.8 972.1 613.6Z" fill="#4f65a8"/>
<path d="M983.9 637.8L1010.2 617.2 981.5 606.5 955.2 627.1Z" fill="none" stroke="#111" stroke-width="2.0" stroke-linejoin="round"/>
<path d="M653.5 508.3L663.4 502.7 653.7 482.6 643.8 488.2Z" fill="#75c0b4"/>
<path d="M644.4 489.3L654.3 483.7 644.7 462.8 634.7 468.4Z" fill="#79bea6"/>
<path d="M635.3 469.5L645.2 464.0 635.6 442.3 625.6 447.8Z" fill="#7abb90"/>
<path d="M662.8 503.0L672.7 497.3 663.1 477.2 653.2 482.9Z" fill="#76c0b3"/>
<path d="M653.7 484.0L663.6 478.4 654.0 457.5 644.1 463.1Z" fill="#79bea3"/>
<path d="M644.6 464.2L654.5 458.6 644.9 437.0 635.0 442.6Z" fill="#7aba8c"/>
<path d="M672.1 497.6L682.0 491.9 672.3 471.8 662.5 477.5Z" fill="#77c0b2"/>
<path d="M663.0 478.6L672.9 472.9 663.3 452.1 653.4 457.8Z" fill="#79bda0"/>
<path d="M654.0 458.9L663.8 453.2 654.2 431.6 644.4 437.2Z" fill="#79ba87"/>
<path d="M653.5 507.6L681.4 491.4 654.2 432.3 626.2 448.2Z" fill="none" stroke="#111" stroke-width="2.0" stroke-linejoin="round"/>
<path d="M818.6 642.5L828.4 635.9 818.4 625.3 808.7 631.9Z" fill="#49599c"/>
<path d="M809.4 632.7L819.1 626.2 809.2 614.8 799.5 621.3Z" fill="#4e62a5"/>
<path d="M800.2 622.2L809.9 615.7 800.0 603.5 790.3 610.0Z" fill="#526caf"/>
<path d="M827.7 636.5L837.4 629.9 827.5 619.3 817.8 625.9Z" fill="#4b5ca0"/>
<path d="M818.4 626.7L828.2 620.1 818.3 608.8 808.5 615.4Z" fill="#4f66a9"/>
<path d="M809.2 616.2L818.9 609.7 809.1 597.5 799.4 604.1Z" fill="#5470b2"/>
<path d="M836.7 630.4L846.4 623.7 836.5 613.1 826.8 619.8Z" fill="#4d60a4"/>
<path d="M827.5 620.7L837.2 614.0 827.3 602.6 817.6 609.3Z" fill="#516aac"/>
<path d="M818.3 610.2L827.9 603.5 818.1 591.4 808.4 598.0Z" fill="#5674b6"/>
<path d="M818.6 641.8L845.7 623.6 818.1 592.1 790.9 610.2Z" fill="none" stroke="#111" stroke-width="2.0" stroke-linejoin="round"/>
<path d="M1039.5 621.7L1048.7 613.7 1038.2 612.8 1028.9 620.7Z" fill="#546fb1"/>
<path d="M1029.7 621.2L1039.0 613.3 1028.5 611.5 1019.2 619.5Z" fill="#526cae"/>
<path d="M1019.9 620.0L1029.3 612.1 1018.8 609.5 1009.5 617.4Z" fill="#516aad"/>
<path d="M1048.2 614.6L1057.4 606.6 1046.9 605.7 1037.6 613.7Z" fill="#5674b6"/>
<path d="M1038.4 614.2L1047.7 606.2 1037.2 604.4 1027.9 612.5Z" fill="#5571b3"/>
<path d="M1028.7 612.9L1037.9 605.0 1027.5 602.4 1018.2 610.4Z" fill="#546fb2"/>
<path d="M1056.9 607.5L1066.1 599.4 1055.5 598.5 1046.3 606.6Z" fill="#587abb"/>
<path d="M1047.1 607.1L1056.3 599.0 1045.8 597.3 1036.6 605.4Z" fill="#5776b8"/>
<path d="M1037.3 605.8L1046.6 597.8 1036.2 595.3 1026.9 603.3Z" fill="#5674b7"/>
<path d="M1039.4 621.0L1065.4 599.6 1036.3 596.0 1010.2 617.2Z" fill="none" stroke="#111" stroke-width="1.9" stroke-linejoin="round"/>
<path d="M680.8 560.7L690.7 555.0 681.0 537.3 671.1 542.9Z" fill="#5ebccf"/>
<path d="M671.7 544.0L681.6 538.4 671.9 519.8 662.0 525.5Z" fill="#6abfc2"/>
<path d="M662.6 526.5L672.5 520.9 662.8 501.6 652.9 507.2Z" fill="#70c0bb"/>
<path d="M690.1 555.4L700.0 549.6 690.3 531.8 680.4 537.6Z" fill="#60bccd"/>
<path d="M681.0 538.7L690.9 532.9 681.2 514.4 671.3 520.1Z" fill="#6cc0c0"/>
<path d="M671.9 521.2L681.8 515.5 672.1 496.2 662.3 501.9Z" fill="#71c0ba"/>
<path d="M699.4 549.9L709.3 544.0 699.6 526.3 689.7 532.2Z" fill="#62bdca"/>
<path d="M690.3 533.2L700.2 527.4 690.5 508.9 680.6 514.7Z" fill="#6dc0bf"/>
<path d="M681.2 515.8L691.1 510.0 681.4 490.7 671.6 496.5Z" fill="#72c0b9"/>
<path d="M680.8 560.0L708.7 543.7 681.4 491.4 653.5 507.6Z" fill="none" stroke="#111" stroke-width="2.0" stroke-linejoin="round"/>
<path d="M763.5 628.3L773.4 622.1 763.5 609.1 753.7 615.3Z" fill="#536daf"/>
<path d="M754.3 616.2L764.2 610.1 754.4 596.3 744.5 602.4Z" fill="#5879bb"/>
<path d="M745.2 603.4L755.0 597.3 745.2 582.7 735.4 588.8Z" fill="#548fc9"/>
<path d="M772.7 622.6L782.5 616.3 772.7 603.3 762.9 609.6Z" fill="#5470b3"/>
<path d="M763.5 610.5L773.3 604.3 763.5 590.5 753.7 596.7Z" fill="#577fbe"/>
<path d="M754.4 597.7L764.1 591.5 754.4 576.9 744.6 583.1Z" fill="#5394cc"/>
<path d="M781.8 616.8L791.6 610.4 781.8 597.5 772.0 603.8Z" fill="#5674b6"/>
<path d="M772.7 604.7L782.4 598.4 772.6 584.7 762.9 591.0Z" fill="#5685c2"/>
<path d="M763.5 591.9L773.3 585.6 763.5 571.1 753.7 577.4Z" fill="#519ad0"/>
<path d="M763.5 627.6L790.9 610.2 763.5 571.8 736.0 589.1Z" fill="none" stroke="#111" stroke-width="2.0" stroke-linejoin="round"/>
<path d="M1095.3 596.9L1104.5 588.7 1093.7 590.2 1084.6 598.5Z" fill="#519bd0"/>
<path d="M1085.3 598.9L1094.5 590.6 1083.8 591.4 1074.6 599.6Z" fill="#5391ca"/>
<path d="M1075.4 600.0L1084.6 591.8 1074.0 591.7 1064.8 599.9Z" fill="#5589c5"/>
<path d="M1104.0 589.7L1113.1 581.3 1102.3 582.9 1093.2 591.2Z" fill="#50a4d6"/>
<path d="M1094.0 591.6L1103.1 583.3 1092.4 584.0 1083.3 592.3Z" fill="#519ad0"/>
<path d="M1084.0 592.7L1093.2 584.4 1082.6 584.4 1073.4 592.7Z" fill="#5392cb"/>
<path d="M1112.6 582.3L1121.7 573.9 1110.9 575.5 1101.8 583.9Z" fill="#4eaddc"/>
<path d="M1102.6 584.3L1111.7 575.9 1101.0 576.6 1091.9 585.0Z" fill="#50a3d6"/>
<path d="M1092.7 585.4L1101.8 577.0 1091.2 577.0 1082.0 585.3Z" fill="#519bd1"/>
<path d="M1095.2 596.3L1121.1 574.2 1091.3 577.6 1065.4 599.6Z" fill="none" stroke="#111" stroke-width="1.7" stroke-linejoin="round"/>
<path d="M542.9 323.7L552.9 318.8 543.3 291.4 533.3 296.3Z" fill="#8dbd3e"/>
<path d="M533.7 297.5L543.8 292.6 534.1 264.4 524.1 269.3Z" fill="#9fc441"/>
<path d="M524.5 270.5L534.6 265.7 524.9 236.7 514.8 241.5Z" fill="#b1cb45"/>
<path d="M552.5 318.9L562.5 313.9 552.9 286.5 542.8 291.6Z" fill="#90be3e"/>
<path d="M543.3 292.8L553.3 287.8 543.7 259.6 533.7 264.6Z" fill="#a1c541"/>
<path d="M534.1 265.8L544.1 260.9 534.5 231.9 524.5 236.8Z" fill="#b3cc45"/>
<path d="M562.0 314.1L572.0 308.9 562.4 281.6 552.4 286.7Z" fill="#91bf3e"/>
<path d="M552.8 287.9L562.8 282.9 553.2 254.7 543.2 259.8Z" fill="#a3c642"/>
<path d="M543.7 261.0L553.6 256.0 544.0 227.0 534.0 232.0Z" fill="#b5cc45"/>
<path d="M542.9 323.0L571.5 308.4 544.0 227.7 515.3 242.0Z" fill="none" stroke="#111" stroke-width="2.0" stroke-linejoin="round"/>
<path d="M570.4 397.5L580.4 392.4 570.8 367.4 560.8 372.5Z" fill="#72b444"/>
<path d="M561.3 373.7L571.3 368.6 561.7 342.9 551.6 347.9Z" fill="#73b541"/>
<path d="M552.1 349.1L562.1 344.1 552.5 317.5 542.5 322.5Z" fill="#74b53e"/>
<path d="M579.9 392.6L589.9 387.4 580.3 362.5 570.3 367.6Z" fill="#72b443"/>
<path d="M570.8 368.8L580.8 363.7 571.2 338.0 561.2 343.1Z" fill="#73b541"/>
<path d="M561.6 344.3L571.6 339.2 562.0 312.7 552.0 317.7Z" fill="#77b63e"/>
<path d="M589.4 387.6L599.4 382.4 589.8 357.5 579.8 362.7Z" fill="#72b543"/>
<path d="M580.3 363.9L590.2 358.7 580.6 333.0 570.7 338.2Z" fill="#73b540"/>
<path d="M571.2 339.4L581.1 334.2 571.5 307.7 561.5 312.8Z" fill="#79b73e"/>
<path d="M570.4 396.8L598.9 381.9 571.5 308.4 542.9 323.0Z" fill="none" stroke="#111" stroke-width="2.0" stroke-linejoin="round"/>
<path d="M597.8 464.1L607.9 458.9 598.2 436.3 588.2 441.5Z" fill="#77b87a"/>
<path d="M588.7 442.7L598.7 437.5 589.1 414.2 579.1 419.3Z" fill="#72b553"/>
<path d="M579.6 420.5L589.6 415.3 580.0 391.2 569.9 396.3Z" fill="#71b446"/>
<path d="M607.3 459.1L617.3 453.8 607.7 431.3 597.7 436.6Z" fill="#77b876"/>
<path d="M598.2 437.7L608.2 432.5 598.6 409.2 588.6 414.4Z" fill="#71b54e"/>
<path d="M589.1 415.6L599.1 410.3 589.4 386.2 579.4 391.4Z" fill="#71b446"/>
<path d="M616.8 454.1L626.7 448.7 617.1 426.2 607.1 431.5Z" fill="#76b871"/>
<path d="M607.7 432.7L617.6 427.4 608.0 404.1 598.0 409.4Z" fill="#70b449"/>
<path d="M598.5 410.6L608.5 405.3 598.9 381.2 588.9 386.4Z" fill="#71b446"/>
<path d="M597.9 463.4L626.2 448.2 598.9 381.9 570.4 396.8Z" fill="none" stroke="#111" stroke-width="2.0" stroke-linejoin="round"/>
<path d="M708.2 606.3L718.2 600.5 708.4 585.1 698.5 590.9Z" fill="#5296cd"/>
<path d="M699.1 591.9L709.0 586.1 699.3 569.9 689.3 575.6Z" fill="#4eaedd"/>
<path d="M689.9 576.7L699.9 570.9 690.1 554.0 680.2 559.7Z" fill="#53b8da"/>
<path d="M717.5 600.9L727.4 595.0 717.7 579.6 707.8 585.4Z" fill="#519bd0"/>
<path d="M708.4 586.5L718.3 580.6 708.5 564.4 698.6 570.3Z" fill="#4db3e0"/>
<path d="M699.3 571.3L709.1 565.5 699.4 548.5 689.5 554.3Z" fill="#55b9d8"/>
<path d="M726.8 595.3L736.7 589.4 726.9 574.0 717.0 580.0Z" fill="#50a0d4"/>
<path d="M717.7 581.0L727.5 575.0 717.8 558.9 707.9 564.8Z" fill="#4db6e1"/>
<path d="M708.5 565.8L718.4 559.9 708.7 543.0 698.8 548.9Z" fill="#57bad6"/>
<path d="M708.3 605.6L736.0 589.1 708.7 543.7 680.8 560.0Z" fill="none" stroke="#111" stroke-width="2.0" stroke-linejoin="round"/>
<path d="M901.9 666.7L911.6 659.7 901.4 653.9 891.7 660.9Z" fill="#444d91"/>
<path d="M892.5 661.6L902.1 654.5 892.0 647.9 882.3 654.9Z" fill="#454f92"/>
<path d="M883.0 655.6L892.7 648.7 882.6 641.2 872.9 648.2Z" fill="#455094"/>
<path d="M910.9 660.4L920.5 653.3 910.3 647.5 900.7 654.6Z" fill="#454f92"/>
<path d="M901.4 655.3L911.0 648.2 900.9 641.6 891.3 648.7Z" fill="#455094"/>
<path d="M892.0 649.3L901.6 642.3 891.5 634.9 881.9 641.9Z" fill="#465295"/>
<path d="M919.8 654.0L929.4 646.8 919.2 641.0 909.6 648.2Z" fill="#455194"/>
<path d="M910.4 648.9L919.9 641.7 909.8 635.1 900.2 642.3Z" fill="#465296"/>
<path d="M900.9 643.0L910.5 635.8 900.4 628.5 890.8 635.6Z" fill="#475397"/>
<path d="M901.9 666.0L928.7 646.9 900.5 629.2 873.6 648.2Z" fill="none" stroke="#111" stroke-width="2.0" stroke-linejoin="round"/>
<path d="M846.6 667.3L856.3 660.6 846.3 652.3 836.5 659.0Z" fill="#444e91"/>
<path d="M837.2 659.8L847.0 653.1 837.0 644.1 827.2 650.7Z" fill="#455094"/>
<path d="M827.9 651.5L837.7 644.9 827.7 635.1 817.9 641.7Z" fill="#465397"/>
<path d="M855.6 661.2L865.3 654.5 855.3 646.2 845.6 653.0Z" fill="#454f93"/>
<path d="M846.3 653.7L856.0 647.0 846.0 638.0 836.3 644.7Z" fill="#465195"/>
<path d="M837.0 645.5L846.7 638.8 836.7 629.0 827.0 635.7Z" fill="#475498"/>
<path d="M864.7 655.1L874.3 648.3 864.3 640.1 854.6 646.9Z" fill="#455194"/>
<path d="M855.3 647.6L865.0 640.8 855.0 631.8 845.3 638.6Z" fill="#475397"/>
<path d="M846.0 639.4L855.7 632.6 845.7 622.9 836.0 629.6Z" fill="#49589c"/>
<path d="M846.6 666.6L873.6 648.2 845.7 623.6 818.6 641.8Z" fill="none" stroke="#111" stroke-width="2.0" stroke-linejoin="round"/>
<path d="M957.4 658.4L966.9 651.0 956.6 647.6 947.1 655.0Z" fill="#465195"/>
<path d="M947.8 655.6L957.3 648.2 947.0 644.0 937.5 651.4Z" fill="#465195"/>
<path d="M938.2 652.0L947.8 644.6 937.5 639.7 928.0 647.0Z" fill="#465195"/>
<path d="M966.3 651.9L975.8 644.4 965.4 641.0 956.0 648.5Z" fill="#465397"/>
<path d="M956.7 649.0L966.2 641.6 955.9 637.4 946.4 644.8Z" fill="#465397"/>
<path d="M947.1 645.4L956.6 638.0 946.4 633.1 936.9 640.4Z" fill="#475397"/>
<path d="M975.1 645.2L984.6 637.7 974.2 634.3 964.8 641.8Z" fill="#485599"/>
<path d="M965.5 642.4L975.0 634.9 964.7 630.7 955.2 638.2Z" fill="#485599"/>
<path d="M956.0 638.8L965.4 631.3 955.2 626.4 945.7 633.8Z" fill="#48569a"/>
<path d="M957.4 657.7L983.9 637.8 955.2 627.1 928.7 646.9Z" fill="none" stroke="#111" stroke-width="2.0" stroke-linejoin="round"/>
<path d="M625.3 523.7L635.3 518.4 625.6 498.2 615.6 503.5Z" fill="#73c0b7"/>
<path d="M616.1 504.6L626.1 499.3 616.5 478.3 606.4 483.6Z" fill="#78c0af"/>
<path d="M607.0 484.7L617.0 479.5 607.3 457.7 597.3 463.0Z" fill="#79bc99"/>
<path d="M634.7 518.6L644.7 513.2 635.0 493.1 625.0 498.5Z" fill="#74c0b6"/>
<path d="M625.6 499.6L635.6 494.2 625.9 473.3 615.9 478.6Z" fill="#78bfac"/>
<path d="M616.5 479.7L626.4 474.4 616.8 452.7 606.8 458.0Z" fill="#79bc96"/>
<path d="M644.1 513.5L654.0 508.0 644.4 487.9 634.4 493.4Z" fill="#74c0b5"/>
<path d="M635.0 494.5L644.9 489.0 635.3 468.1 625.3 473.5Z" fill="#78bfa9"/>
<path d="M625.9 474.7L635.8 469.2 626.2 447.5 616.2 452.9Z" fill="#7abb93"/>
<path d="M625.3 523.0L653.5 507.6 626.2 448.2 597.9 463.4Z" fill="none" stroke="#111" stroke-width="2.0" stroke-linejoin="round"/>
<path d="M791.2 660.0L801.1 653.7 791.1 643.1 781.3 649.4Z" fill="#465296"/>
<path d="M782.0 650.2L791.8 643.9 781.9 632.5 772.1 638.8Z" fill="#49579b"/>
<path d="M772.7 639.6L782.6 633.4 772.7 621.2 762.9 627.4Z" fill="#4d61a5"/>
<path d="M800.4 654.3L810.2 647.9 800.3 637.2 790.5 643.6Z" fill="#475397"/>
<path d="M791.1 644.5L800.9 638.1 791.0 626.7 781.2 633.0Z" fill="#4a5b9e"/>
<path d="M781.9 633.9L791.7 627.6 781.8 615.4 772.0 621.7Z" fill="#4f65a8"/>
<path d="M809.5 648.4L819.3 641.9 809.4 631.3 799.6 637.8Z" fill="#475599"/>
<path d="M800.3 638.6L810.0 632.2 800.1 620.8 790.4 627.2Z" fill="#4c5ea2"/>
<path d="M791.0 628.1L800.8 621.7 790.9 609.5 781.2 615.9Z" fill="#5168ab"/>
<path d="M791.2 659.3L818.6 641.8 790.9 610.2 763.5 627.6Z" fill="none" stroke="#111" stroke-width="2.0" stroke-linejoin="round"/>
<path d="M1013.1 642.3L1022.5 634.6 1012.0 633.6 1002.6 641.3Z" fill="#4d60a3"/>
<path d="M1003.4 641.8L1012.7 634.1 1002.3 632.4 992.9 640.1Z" fill="#4b5da0"/>
<path d="M993.6 640.6L1003.0 632.9 992.6 630.3 983.2 638.0Z" fill="#4a5b9f"/>
<path d="M1021.9 635.5L1031.3 627.7 1020.7 626.8 1011.4 634.5Z" fill="#4f65a8"/>
<path d="M1012.2 635.0L1021.5 627.2 1011.0 625.5 1001.7 633.3Z" fill="#4e62a5"/>
<path d="M1002.4 633.8L1011.8 626.0 1001.4 623.5 992.0 631.2Z" fill="#4d60a3"/>
<path d="M1030.7 628.6L1040.0 620.7 1029.5 619.8 1020.2 627.7Z" fill="#516aad"/>
<path d="M1020.9 628.1L1030.3 620.3 1019.8 618.6 1010.5 626.4Z" fill="#5067aa"/>
<path d="M1011.2 626.9L1020.5 619.1 1010.1 616.5 1000.8 624.4Z" fill="#4f65a8"/>
<path d="M1013.0 641.6L1039.4 621.0 1010.2 617.2 983.9 637.8Z" fill="none" stroke="#111" stroke-width="1.9" stroke-linejoin="round"/>
<path d="M652.7 576.3L662.7 570.9 653.0 553.1 642.9 558.5Z" fill="#59bad5"/>
<path d="M643.5 559.6L653.5 554.2 643.8 535.5 633.8 540.9Z" fill="#64bec8"/>
<path d="M634.4 542.0L644.4 536.6 634.7 517.2 624.7 522.6Z" fill="#6ec0be"/>
<path d="M662.1 571.2L672.1 565.7 662.4 547.9 652.4 553.4Z" fill="#5abad3"/>
<path d="M653.0 554.5L662.9 549.0 653.2 530.4 643.2 535.9Z" fill="#66bec6"/>
<path d="M643.8 536.9L653.8 531.5 644.1 512.1 634.1 517.5Z" fill="#6ec0bd"/>
<path d="M671.5 566.0L681.4 560.4 671.7 542.6 661.8 548.2Z" fill="#5cbbd1"/>
<path d="M662.3 549.3L672.3 543.7 662.6 525.1 652.6 530.7Z" fill="#68bfc5"/>
<path d="M653.2 531.8L663.2 526.2 653.5 506.9 643.5 512.4Z" fill="#6fc0bc"/>
<path d="M652.7 575.6L680.8 560.0 653.5 507.6 625.3 523.0Z" fill="none" stroke="#111" stroke-width="2.0" stroke-linejoin="round"/>
<path d="M735.8 645.0L745.7 639.0 735.9 626.0 725.9 631.9Z" fill="#4e63a6"/>
<path d="M726.6 632.8L736.5 626.9 726.7 613.1 716.8 619.0Z" fill="#546fb2"/>
<path d="M717.4 619.9L727.3 614.1 717.5 599.5 707.6 605.3Z" fill="#577fbf"/>
<path d="M745.1 639.5L755.0 633.5 745.1 620.4 735.2 626.5Z" fill="#5066a9"/>
<path d="M735.9 627.4L745.8 621.4 736.0 607.6 726.1 613.5Z" fill="#5572b5"/>
<path d="M726.7 614.5L736.6 608.6 726.8 593.9 716.9 599.9Z" fill="#5684c2"/>
<path d="M754.3 633.9L764.2 627.8 754.3 614.8 744.5 620.9Z" fill="#5169ac"/>
<path d="M745.1 621.8L755.0 615.8 745.2 602.0 735.3 608.0Z" fill="#5776b8"/>
<path d="M736.0 609.0L745.8 602.9 736.0 588.4 726.2 594.4Z" fill="#5589c5"/>
<path d="M735.8 644.3L763.5 627.6 736.0 589.1 708.3 605.6Z" fill="none" stroke="#111" stroke-width="2.0" stroke-linejoin="round"/>
<path d="M1069.2 618.3L1078.4 610.3 1067.7 611.8 1058.5 619.8Z" fill="#5682c0"/>
<path d="M1059.2 620.2L1068.5 612.2 1057.8 612.9 1048.6 620.9Z" fill="#5878ba"/>
<path d="M1049.3 621.3L1058.6 613.3 1048.0 613.2 1038.7 621.2Z" fill="#5673b5"/>
<path d="M1078.0 611.2L1087.1 603.1 1076.4 604.7 1067.2 612.8Z" fill="#558ac5"/>
<path d="M1068.0 613.2L1077.2 605.1 1066.5 605.8 1057.3 613.9Z" fill="#5680bf"/>
<path d="M1058.0 614.3L1067.3 606.2 1056.7 606.1 1047.4 614.2Z" fill="#5878ba"/>
<path d="M1086.7 604.1L1095.8 596.0 1085.0 597.5 1075.9 605.7Z" fill="#5392cb"/>
<path d="M1076.7 606.1L1085.8 597.9 1075.1 598.6 1066.0 606.8Z" fill="#5588c5"/>
<path d="M1066.7 607.2L1075.9 599.0 1065.3 599.0 1056.1 607.1Z" fill="#5680bf"/>
<path d="M1069.1 617.6L1095.2 596.3 1065.4 599.6 1039.4 621.0Z" fill="none" stroke="#111" stroke-width="1.7" stroke-linejoin="round"/>
<path d="M514.0 337.6L524.1 332.9 514.5 305.4 504.3 310.1Z" fill="#87bb3e"/>
<path d="M504.8 311.3L514.9 306.6 505.2 278.3 495.1 283.0Z" fill="#9bc240"/>
<path d="M495.5 284.2L505.7 279.6 496.0 250.4 485.8 255.0Z" fill="#adc944"/>
<path d="M523.7 333.1L533.8 328.3 524.1 300.8 514.0 305.6Z" fill="#89bc3e"/>
<path d="M514.5 306.8L524.6 302.1 514.9 273.8 504.8 278.5Z" fill="#9cc341"/>
<path d="M505.2 279.7L515.3 275.0 505.6 245.9 495.5 250.6Z" fill="#aeca44"/>
<path d="M533.3 328.4L543.4 323.6 533.7 296.1 523.7 301.0Z" fill="#8bbd3e"/>
<path d="M524.1 302.2L534.2 297.4 524.5 269.1 514.4 273.9Z" fill="#9ec441"/>
<path d="M514.9 275.2L525.0 270.4 515.3 241.3 505.2 246.1Z" fill="#b0ca44"/>
<path d="M514.0 336.9L542.9 323.0 515.3 242.0 486.2 255.6Z" fill="none" stroke="#111" stroke-width="2.0" stroke-linejoin="round"/>
<path d="M541.6 411.6L551.8 406.8 542.1 381.8 532.0 386.6Z" fill="#71b444"/>
<path d="M532.4 387.8L542.6 383.0 532.9 357.1 522.8 361.9Z" fill="#73b542"/>
<path d="M523.2 363.1L533.4 358.3 523.7 331.7 513.5 336.4Z" fill="#74b53f"/>
<path d="M551.3 407.0L561.4 402.1 551.7 377.1 541.6 382.0Z" fill="#72b444"/>
<path d="M542.1 383.2L552.2 378.3 542.5 352.5 532.4 357.3Z" fill="#73b541"/>
<path d="M532.9 358.5L543.0 353.7 533.3 327.0 523.2 331.8Z" fill="#74b53f"/>
<path d="M560.9 402.3L570.9 397.3 561.3 372.3 551.2 377.3Z" fill="#72b444"/>
<path d="M551.7 378.5L561.8 373.5 552.1 347.7 542.0 352.6Z" fill="#73b541"/>
<path d="M542.5 353.9L552.6 348.9 542.9 322.3 532.9 327.2Z" fill="#74b53e"/>
<path d="M541.7 410.9L570.4 396.8 542.9 323.0 514.0 336.9Z" fill="none" stroke="#111" stroke-width="2.0" stroke-linejoin="round"/>
<path d="M569.2 478.5L579.3 473.6 569.6 450.9 559.5 455.8Z" fill="#79ba87"/>
<path d="M560.0 457.0L570.1 452.1 560.5 428.7 550.3 433.5Z" fill="#73b65f"/>
<path d="M550.8 434.7L561.0 429.8 551.3 405.6 541.2 410.4Z" fill="#70b447"/>
<path d="M578.8 473.8L588.9 468.8 579.2 446.1 569.1 451.2Z" fill="#79b983"/>
<path d="M569.6 452.3L579.7 447.3 570.0 423.9 560.0 428.9Z" fill="#73b65b"/>
<path d="M560.5 430.1L570.5 425.1 560.9 400.9 550.8 405.8Z" fill="#71b447"/>
<path d="M588.3 469.0L598.4 463.9 588.7 441.3 578.7 446.4Z" fill="#78b97f"/>
<path d="M579.2 447.5L589.2 442.5 579.6 419.1 569.5 424.1Z" fill="#72b557"/>
<path d="M570.0 425.3L580.1 420.3 570.4 396.1 560.4 401.1Z" fill="#71b446"/>
<path d="M569.2 477.8L597.9 463.4 570.4 396.8 541.7 410.9Z" fill="none" stroke="#111" stroke-width="2.0" stroke-linejoin="round"/>
<path d="M680.2 622.1L690.2 616.5 680.4 601.0 670.4 606.6Z" fill="#5588c4"/>
<path d="M671.0 607.6L681.0 602.1 671.3 585.8 661.2 591.3Z" fill="#50a1d4"/>
<path d="M661.8 592.4L671.8 586.9 662.1 569.8 652.1 575.3Z" fill="#4eb7e0"/>
<path d="M689.6 616.9L699.6 611.2 689.8 595.8 679.8 601.4Z" fill="#548dc7"/>
<path d="M680.4 602.4L690.4 596.8 680.6 580.6 670.6 586.2Z" fill="#4fa5d7"/>
<path d="M671.2 587.2L681.2 581.6 671.5 564.6 661.5 570.2Z" fill="#4fb7de"/>
<path d="M698.9 611.6L708.9 605.9 699.1 590.5 689.1 596.2Z" fill="#5391ca"/>
<path d="M689.8 597.2L699.7 591.5 690.0 575.3 680.0 581.0Z" fill="#4ea9da"/>
<path d="M680.6 582.0L690.6 576.3 680.8 559.3 670.9 565.0Z" fill="#51b8dc"/>
<path d="M680.2 621.4L708.3 605.6 680.8 560.0 652.7 575.6Z" fill="none" stroke="#111" stroke-width="2.0" stroke-linejoin="round"/>
<path d="M874.9 685.1L884.6 678.3 874.4 672.5 864.7 679.3Z" fill="#434b8e"/>
<path d="M865.4 679.9L875.1 673.2 865.0 666.5 855.2 673.3Z" fill="#434b8e"/>
<path d="M856.0 674.0L865.7 667.3 855.6 659.8 845.9 666.5Z" fill="#434c8f"/>
<path d="M883.9 679.1L893.6 672.2 883.4 666.4 873.7 673.2Z" fill="#434b8e"/>
<path d="M874.4 673.9L884.1 667.1 874.0 660.4 864.3 667.3Z" fill="#434c8f"/>
<path d="M865.0 667.9L874.7 661.1 864.6 653.7 854.9 660.5Z" fill="#444d90"/>
<path d="M892.9 672.9L902.6 666.0 892.4 660.2 882.7 667.1Z" fill="#434c8f"/>
<path d="M883.5 667.8L893.1 660.8 883.0 654.2 873.3 661.1Z" fill="#444d90"/>
<path d="M874.1 661.8L883.7 654.9 873.6 647.5 863.9 654.4Z" fill="#454f92"/>
<path d="M874.8 684.4L901.9 666.0 873.6 648.2 846.6 666.6Z" fill="none" stroke="#111" stroke-width="2.0" stroke-linejoin="round"/>
<path d="M1125.9 586.3L1134.8 578.0 1123.7 582.1 1114.8 590.4Z" fill="#51b7dd"/>
<path d="M1115.6 590.7L1124.6 582.4 1113.6 585.6 1104.6 593.9Z" fill="#4db3e0"/>
<path d="M1105.4 594.2L1114.5 585.9 1103.6 588.3 1094.6 596.6Z" fill="#4fa6d8"/>
<path d="M1134.5 579.0L1143.5 570.7 1132.3 574.8 1123.4 583.1Z" fill="#54b8da"/>
<path d="M1124.3 583.4L1133.3 575.0 1122.3 578.3 1113.3 586.6Z" fill="#4eb7e0"/>
<path d="M1114.1 586.9L1123.1 578.6 1112.2 581.0 1103.2 589.3Z" fill="#4dafdd"/>
<path d="M1143.2 571.7L1152.1 563.3 1140.9 567.4 1132.1 575.8Z" fill="#57bad6"/>
<path d="M1132.9 576.0L1141.9 567.6 1130.9 570.9 1121.9 579.3Z" fill="#52b8dc"/>
<path d="M1122.7 579.6L1131.7 571.2 1120.8 573.6 1111.8 582.0Z" fill="#4db6e1"/>
<path d="M1125.6 585.7L1151.5 563.6 1121.1 574.2 1095.2 596.3Z" fill="none" stroke="#111" stroke-width="1.4" stroke-linejoin="round"/>
<path d="M930.6 677.6L940.2 670.4 929.9 667.0 920.3 674.2Z" fill="#444c90"/>
<path d="M921.0 674.7L930.6 667.6 920.3 663.4 910.7 670.5Z" fill="#444c8f"/>
<path d="M911.4 671.1L921.1 664.0 910.8 659.0 901.2 666.1Z" fill="#444d90"/>
<path d="M939.6 671.3L949.1 664.0 938.8 660.6 929.2 667.9Z" fill="#444e91"/>
<path d="M930.0 668.4L939.5 661.2 929.3 657.0 919.7 664.2Z" fill="#444e91"/>
<path d="M920.4 664.8L930.0 657.7 919.8 652.6 910.2 659.8Z" fill="#444e92"/>
<path d="M948.5 664.9L958.0 657.6 947.7 654.2 938.2 661.5Z" fill="#454f93"/>
<path d="M938.9 662.0L948.5 654.8 938.2 650.6 928.6 657.8Z" fill="#454f93"/>
<path d="M929.3 658.4L938.9 651.2 928.7 646.2 919.1 653.4Z" fill="#455093"/>
<path d="M930.6 676.9L957.4 657.7 928.7 646.9 901.9 666.0Z" fill="none" stroke="#111" stroke-width="2.0" stroke-linejoin="round"/>
<path d="M819.2 684.9L829.1 678.5 819.0 670.2 809.2 676.6Z" fill="#434b8e"/>
<path d="M809.9 677.4L819.7 671.0 809.7 661.9 799.8 668.3Z" fill="#434c8f"/>
<path d="M800.5 669.1L810.4 662.7 800.4 652.9 790.5 659.2Z" fill="#454f92"/>
<path d="M828.4 679.1L838.2 672.6 828.1 664.3 818.3 670.8Z" fill="#434b8e"/>
<path d="M819.0 671.6L828.8 665.1 818.8 656.0 809.0 662.5Z" fill="#444d91"/>
<path d="M809.7 663.3L819.5 656.9 809.5 647.0 799.7 653.4Z" fill="#455094"/>
<path d="M837.5 673.2L847.3 666.6 837.2 658.4 827.4 665.0Z" fill="#444c8f"/>
<path d="M828.1 665.7L837.9 659.2 827.9 650.1 818.1 656.7Z" fill="#454f92"/>
<path d="M818.8 657.4L828.6 650.9 818.6 641.1 808.8 647.6Z" fill="#465195"/>
<path d="M819.2 684.2L846.6 666.6 818.6 641.8 791.2 659.3Z" fill="none" stroke="#111" stroke-width="2.0" stroke-linejoin="round"/>
<path d="M596.7 538.4L606.8 533.3 597.1 513.0 587.0 518.1Z" fill="#71c0b9"/>
<path d="M587.5 519.2L597.7 514.2 588.0 493.1 577.8 498.1Z" fill="#76c0b2"/>
<path d="M578.4 499.3L588.5 494.3 578.8 472.4 568.7 477.4Z" fill="#79bda0"/>
<path d="M606.3 533.6L616.3 528.4 606.6 508.2 596.6 513.3Z" fill="#72c0b9"/>
<path d="M597.1 514.4L607.2 509.3 597.5 488.3 587.4 493.4Z" fill="#77c0b1"/>
<path d="M587.9 494.5L598.0 489.4 588.4 467.6 578.3 472.6Z" fill="#79bd9e"/>
<path d="M615.8 528.7L625.8 523.4 616.1 503.2 606.1 508.4Z" fill="#72c0b8"/>
<path d="M606.6 509.6L616.7 504.3 607.0 483.3 596.9 488.5Z" fill="#78c0b1"/>
<path d="M597.5 489.7L607.5 484.5 597.9 462.7 587.8 467.8Z" fill="#79bd9b"/>
<path d="M596.7 537.7L625.3 523.0 597.9 463.4 569.2 477.8Z" fill="none" stroke="#111" stroke-width="2.0" stroke-linejoin="round"/>
<path d="M986.6 662.2L996.0 654.7 985.5 653.8 976.1 661.2Z" fill="#475397"/>
<path d="M976.8 661.7L986.3 654.3 975.8 652.5 966.3 659.9Z" fill="#465296"/>
<path d="M967.1 660.5L976.6 653.0 966.2 650.5 956.7 657.9Z" fill="#465195"/>
<path d="M995.5 655.6L1004.9 648.1 994.4 647.1 984.9 654.7Z" fill="#48579b"/>
<path d="M985.7 655.2L995.1 647.6 984.7 645.9 975.2 653.4Z" fill="#475498"/>
<path d="M976.0 653.9L985.4 646.4 975.0 643.8 965.6 651.3Z" fill="#475397"/>
<path d="M1004.3 649.0L1013.7 641.4 1003.2 640.4 993.8 648.1Z" fill="#4a5b9f"/>
<path d="M994.5 648.5L1003.9 640.9 993.5 639.2 984.1 646.8Z" fill="#49589c"/>
<path d="M984.8 647.3L994.2 639.7 983.8 637.1 974.4 644.7Z" fill="#48569a"/>
<path d="M986.5 661.5L1013.0 641.6 983.9 637.8 957.4 657.7Z" fill="none" stroke="#111" stroke-width="1.9" stroke-linejoin="round"/>
<path d="M763.6 676.8L773.5 670.8 763.5 660.1 753.6 666.1Z" fill="#444e92"/>
<path d="M754.3 667.0L764.2 661.0 754.3 649.5 744.4 655.5Z" fill="#465295"/>
<path d="M745.0 656.4L755.0 650.4 745.1 638.1 735.1 644.1Z" fill="#49589c"/>
<path d="M772.8 671.3L782.7 665.2 772.8 654.5 762.9 660.6Z" fill="#454f93"/>
<path d="M763.5 661.5L773.5 655.4 763.5 643.9 753.6 650.0Z" fill="#465397"/>
<path d="M754.3 650.9L764.2 644.8 754.3 632.5 744.4 638.6Z" fill="#4a5b9f"/>
<path d="M782.0 665.7L791.9 659.5 782.0 648.8 772.1 655.0Z" fill="#455194"/>
<path d="M772.8 655.9L782.7 649.7 772.7 638.2 762.9 644.4Z" fill="#475498"/>
<path d="M763.5 645.3L773.4 639.1 763.5 626.9 753.7 633.0Z" fill="#4c5ea2"/>
<path d="M763.6 676.1L791.2 659.3 763.5 627.6 735.8 644.3Z" fill="none" stroke="#111" stroke-width="2.0" stroke-linejoin="round"/>
<path d="M1042.9 638.9L1052.2 631.1 1041.4 632.7 1032.1 640.4Z" fill="#546fb2"/>
<path d="M1032.9 640.8L1042.2 633.1 1031.5 633.8 1022.2 641.5Z" fill="#5169ac"/>
<path d="M1023.0 642.0L1032.3 634.2 1021.7 634.1 1012.4 641.8Z" fill="#4f64a7"/>
<path d="M1051.7 632.1L1061.0 624.3 1050.2 625.8 1040.9 633.6Z" fill="#5674b6"/>
<path d="M1041.7 634.0L1051.0 626.2 1040.3 626.9 1031.0 634.7Z" fill="#536eb1"/>
<path d="M1031.8 635.2L1041.1 627.3 1030.5 627.2 1021.2 635.0Z" fill="#5169ac"/>
<path d="M1060.5 625.2L1069.7 617.3 1058.9 618.8 1049.7 626.8Z" fill="#587abb"/>
<path d="M1050.5 627.2L1059.7 619.2 1049.1 620.0 1039.8 627.9Z" fill="#5673b5"/>
<path d="M1040.6 628.3L1049.9 620.4 1039.2 620.3 1030.0 628.2Z" fill="#536eb0"/>
<path d="M1042.7 638.2L1069.1 617.6 1039.4 621.0 1013.0 641.6Z" fill="none" stroke="#111" stroke-width="1.6" stroke-linejoin="round"/>
<path d="M624.2 591.2L634.3 586.0 624.6 568.1 614.5 573.3Z" fill="#54b8da"/>
<path d="M615.0 574.4L625.2 569.2 615.4 550.5 605.3 555.7Z" fill="#5fbccd"/>
<path d="M605.9 556.8L616.0 551.6 606.3 532.2 596.1 537.3Z" fill="#6cc0c0"/>
<path d="M633.7 586.3L643.8 581.1 634.1 563.2 624.0 568.4Z" fill="#55b9d8"/>
<path d="M624.6 569.5L634.7 564.3 624.9 545.6 614.8 550.8Z" fill="#61bdcc"/>
<path d="M615.4 551.9L625.5 546.7 615.8 527.3 605.7 532.4Z" fill="#6cc0bf"/>
<path d="M643.2 581.4L653.3 576.0 643.5 558.2 633.5 563.5Z" fill="#57b9d6"/>
<path d="M634.1 564.6L644.1 559.3 634.4 540.6 624.3 545.9Z" fill="#63bdca"/>
<path d="M624.9 547.0L635.0 541.7 625.3 522.3 615.2 527.6Z" fill="#6dc0bf"/>
<path d="M624.2 590.5L652.7 575.6 625.3 523.0 596.7 537.7Z" fill="none" stroke="#111" stroke-width="2.0" stroke-linejoin="round"/>
<path d="M707.8 660.9L717.8 655.2 708.0 642.1 697.9 647.8Z" fill="#4a5b9e"/>
<path d="M698.6 648.8L708.6 643.1 698.8 629.2 688.7 634.8Z" fill="#5067aa"/>
<path d="M689.4 635.8L699.4 630.2 689.6 615.5 679.5 621.1Z" fill="#5674b6"/>
<path d="M717.2 655.7L727.2 649.9 717.3 636.8 707.3 642.6Z" fill="#4b5da1"/>
<path d="M707.9 643.5L717.9 637.8 708.1 623.9 698.1 629.6Z" fill="#5169ac"/>
<path d="M698.7 630.6L708.7 624.9 698.9 610.2 688.9 615.9Z" fill="#5777b9"/>
<path d="M726.5 650.4L736.5 644.5 726.6 631.4 716.6 637.3Z" fill="#4d60a3"/>
<path d="M717.3 638.2L727.3 632.4 717.4 618.5 707.5 624.3Z" fill="#526caf"/>
<path d="M708.1 625.3L718.1 619.5 708.3 604.9 698.3 610.6Z" fill="#587abc"/>
<path d="M707.8 660.2L735.8 644.3 708.3 605.6 680.2 621.4Z" fill="none" stroke="#111" stroke-width="2.0" stroke-linejoin="round"/>
<path d="M484.8 350.7L495.0 346.2 485.3 318.6 475.0 323.0Z" fill="#81b93e"/>
<path d="M475.5 324.3L485.7 319.9 476.0 291.5 465.7 295.8Z" fill="#97c13f"/>
<path d="M466.1 297.0L476.4 292.7 466.7 263.4 456.4 267.8Z" fill="#a9c843"/>
<path d="M494.5 346.4L504.8 341.9 495.1 314.3 484.8 318.8Z" fill="#82ba3e"/>
<path d="M485.3 320.0L495.5 315.5 485.8 287.2 475.5 291.6Z" fill="#98c140"/>
<path d="M476.0 292.8L486.2 288.4 476.5 259.2 466.2 263.6Z" fill="#aac843"/>
<path d="M504.3 342.0L514.5 337.4 504.8 309.9 494.6 314.5Z" fill="#84ba3e"/>
<path d="M495.0 315.7L505.2 311.1 495.5 282.8 485.3 287.3Z" fill="#99c240"/>
<path d="M485.8 288.6L495.9 284.0 486.2 254.9 476.0 259.4Z" fill="#abc943"/>
<path d="M484.8 350.0L514.0 336.9 486.2 255.6 456.8 268.3Z" fill="none" stroke="#111" stroke-width="2.0" stroke-linejoin="round"/>
<path d="M512.5 425.0L522.8 420.4 513.1 395.3 502.8 399.8Z" fill="#71b445"/>
<path d="M503.3 401.0L513.5 396.5 503.8 370.5 493.6 375.0Z" fill="#72b542"/>
<path d="M494.0 376.3L504.3 371.8 494.6 345.0 484.3 349.4Z" fill="#73b53f"/>
<path d="M522.3 420.6L532.5 416.0 522.8 390.9 512.6 395.5Z" fill="#71b445"/>
<path d="M513.0 396.7L523.3 392.1 513.6 366.2 503.3 370.7Z" fill="#72b542"/>
<path d="M503.8 371.9L514.0 367.4 504.3 340.6 494.1 345.2Z" fill="#74b53f"/>
<path d="M532.0 416.2L542.1 411.4 532.5 386.4 522.3 391.1Z" fill="#71b445"/>
<path d="M522.8 392.3L532.9 387.6 523.3 361.7 513.1 366.3Z" fill="#72b542"/>
<path d="M513.5 367.6L523.7 362.9 514.0 336.2 503.8 340.8Z" fill="#74b53f"/>
<path d="M512.5 424.3L541.7 410.9 514.0 336.9 484.8 350.0Z" fill="none" stroke="#111" stroke-width="2.0" stroke-linejoin="round"/>
<path d="M1099.7 607.6L1108.8 599.6 1097.6 603.7 1088.6 611.7Z" fill="#4fa8d9"/>
<path d="M1089.5 612.0L1098.6 604.0 1087.6 607.2 1078.5 615.2Z" fill="#519ad0"/>
<path d="M1079.3 615.5L1088.5 607.5 1077.6 609.9 1068.5 617.9Z" fill="#548dc7"/>
<path d="M1108.5 600.6L1117.5 592.5 1106.3 596.6 1097.4 604.7Z" fill="#4db1df"/>
<path d="M1098.2 605.0L1107.3 596.8 1096.3 600.1 1087.2 608.2Z" fill="#50a2d5"/>
<path d="M1088.1 608.5L1097.2 600.4 1086.3 602.8 1077.2 610.9Z" fill="#5295cd"/>
<path d="M1117.2 593.5L1126.2 585.3 1115.0 589.4 1106.1 597.6Z" fill="#4db6e1"/>
<path d="M1106.9 597.8L1116.0 589.7 1105.0 592.9 1095.9 601.1Z" fill="#4eaada"/>
<path d="M1096.8 601.4L1105.9 593.2 1095.0 595.6 1085.9 603.8Z" fill="#519dd2"/>
<path d="M1099.4 607.0L1125.6 585.7 1095.2 596.3 1069.1 617.6Z" fill="none" stroke="#111" stroke-width="1.4" stroke-linejoin="round"/>
<path d="M540.2 492.2L550.4 487.5 540.7 464.7 530.5 469.4Z" fill="#7abb90"/>
<path d="M531.0 470.6L541.2 465.9 531.5 442.4 521.3 447.0Z" fill="#75b76a"/>
<path d="M521.8 448.2L532.0 443.6 522.3 419.2 512.1 423.8Z" fill="#70b448"/>
<path d="M549.9 487.7L560.1 482.9 550.4 460.2 540.2 465.0Z" fill="#7aba8d"/>
<path d="M540.7 466.1L550.9 461.4 541.2 437.9 531.0 442.6Z" fill="#75b767"/>
<path d="M531.5 443.8L541.7 439.1 532.0 414.8 521.8 419.4Z" fill="#70b447"/>
<path d="M559.6 483.2L569.7 478.3 560.0 455.6 549.9 460.5Z" fill="#7aba8b"/>
<path d="M550.4 461.6L560.5 456.8 550.9 433.3 540.7 438.1Z" fill="#74b663"/>
<path d="M541.2 439.3L551.3 434.5 541.7 410.2 531.5 415.0Z" fill="#70b447"/>
<path d="M540.2 491.5L569.2 477.8 541.7 410.9 512.5 424.3Z" fill="none" stroke="#111" stroke-width="2.0" stroke-linejoin="round"/>
<path d="M847.5 702.8L857.3 696.3 847.1 690.4 837.3 697.0Z" fill="#434b8d"/>
<path d="M838.0 697.6L847.9 691.1 837.7 684.4 827.9 690.9Z" fill="#434b8e"/>
<path d="M828.6 691.6L838.4 685.2 828.3 677.7 818.5 684.2Z" fill="#434b8e"/>
<path d="M856.6 697.0L866.4 690.4 856.3 684.5 846.5 691.1Z" fill="#434b8e"/>
<path d="M847.2 691.8L857.0 685.2 846.8 678.6 837.0 685.1Z" fill="#434b8e"/>
<path d="M837.8 685.8L847.6 679.3 837.5 671.8 827.7 678.4Z" fill="#434b8e"/>
<path d="M865.8 691.1L875.5 684.4 865.3 678.5 855.6 685.3Z" fill="#434b8e"/>
<path d="M856.3 685.9L866.1 679.2 855.9 672.6 846.2 679.3Z" fill="#434b8e"/>
<path d="M846.9 680.0L856.6 673.3 846.5 665.9 836.8 672.5Z" fill="#434b8e"/>
<path d="M847.5 702.1L874.8 684.4 846.6 666.6 819.2 684.2Z" fill="none" stroke="#111" stroke-width="2.0" stroke-linejoin="round"/>
<path d="M651.8 637.1L661.9 631.8 652.1 616.3 642.0 621.6Z" fill="#577dbd"/>
<path d="M642.6 622.6L652.7 617.3 642.9 601.0 632.8 606.3Z" fill="#5295cd"/>
<path d="M633.4 607.3L643.5 602.1 633.8 584.9 623.6 590.2Z" fill="#4dafdd"/>
<path d="M661.3 632.2L671.4 626.8 661.6 611.3 651.5 616.7Z" fill="#5680bf"/>
<path d="M652.1 617.7L662.2 612.3 652.4 596.0 642.3 601.4Z" fill="#5298cf"/>
<path d="M642.9 602.4L653.0 597.1 643.2 580.0 633.1 585.3Z" fill="#4db2e0"/>
<path d="M670.7 627.2L680.8 621.7 671.0 606.2 660.9 611.7Z" fill="#5684c2"/>
<path d="M661.6 612.7L671.6 607.2 661.8 591.0 651.8 596.4Z" fill="#519cd1"/>
<path d="M652.4 597.4L662.4 592.0 652.7 574.9 642.6 580.3Z" fill="#4cb6e2"/>
<path d="M651.8 636.4L680.2 621.4 652.7 575.6 624.2 590.5Z" fill="none" stroke="#111" stroke-width="2.0" stroke-linejoin="round"/>
<path d="M903.5 696.1L913.2 689.2 902.9 685.7 893.2 692.6Z" fill="#434b8e"/>
<path d="M893.9 693.2L903.6 686.3 893.4 682.1 883.6 688.9Z" fill="#434b8e"/>
<path d="M884.4 689.6L894.1 682.7 883.9 677.7 874.1 684.5Z" fill="#434b8e"/>
<path d="M912.6 690.0L922.2 683.0 911.9 679.6 902.2 686.5Z" fill="#434b8e"/>
<path d="M903.0 687.1L912.7 680.2 902.4 675.9 892.7 682.9Z" fill="#434b8e"/>
<path d="M893.4 683.5L903.1 676.6 892.9 671.5 883.2 678.4Z" fill="#434b8e"/>
<path d="M921.6 683.8L931.2 676.8 920.9 673.3 911.3 680.4Z" fill="#434b8e"/>
<path d="M912.0 681.0L921.6 673.9 911.4 669.7 901.7 676.7Z" fill="#434b8e"/>
<path d="M902.4 677.3L912.1 670.3 901.9 665.3 892.2 672.3Z" fill="#434b8e"/>
<path d="M903.5 695.4L930.6 676.9 901.9 666.0 874.8 684.4Z" fill="none" stroke="#111" stroke-width="2.0" stroke-linejoin="round"/>
<path d="M791.6 701.8L801.5 695.6 791.4 687.3 781.5 693.5Z" fill="#434b8e"/>
<path d="M782.2 694.2L792.1 688.1 782.1 679.0 772.2 685.1Z" fill="#434b8e"/>
<path d="M772.9 685.9L782.8 679.8 772.8 669.9 762.9 676.0Z" fill="#434b8e"/>
<path d="M800.8 696.2L810.7 690.0 800.7 681.7 790.7 687.9Z" fill="#434b8e"/>
<path d="M791.4 688.7L801.4 682.5 791.3 673.4 781.4 679.6Z" fill="#434b8e"/>
<path d="M782.1 680.4L792.0 674.2 782.0 664.3 772.1 670.5Z" fill="#444c8f"/>
<path d="M810.0 690.6L819.9 684.3 809.8 676.0 800.0 682.3Z" fill="#434b8e"/>
<path d="M800.7 683.1L810.5 676.8 800.5 667.7 790.6 674.0Z" fill="#434b8e"/>
<path d="M791.3 674.8L801.2 668.5 791.2 658.6 781.4 664.9Z" fill="#444d91"/>
<path d="M791.5 701.1L819.2 684.2 791.2 659.3 763.6 676.1Z" fill="none" stroke="#111" stroke-width="2.0" stroke-linejoin="round"/>
<path d="M959.7 681.4L969.3 674.2 958.8 673.2 949.2 680.4Z" fill="#454f92"/>
<path d="M950.0 680.9L959.5 673.7 949.1 671.9 939.5 679.1Z" fill="#444e91"/>
<path d="M940.3 679.7L949.9 672.5 939.5 669.9 929.9 677.0Z" fill="#444d90"/>
<path d="M968.7 675.1L978.2 667.8 967.7 666.8 958.2 674.1Z" fill="#455094"/>
<path d="M958.9 674.6L968.5 667.3 958.0 665.5 948.5 672.8Z" fill="#454f93"/>
<path d="M949.2 673.3L958.8 666.1 948.4 663.5 938.8 670.7Z" fill="#444e92"/>
<path d="M977.7 668.7L987.1 661.3 976.6 660.3 967.1 667.7Z" fill="#465296"/>
<path d="M967.9 668.2L977.4 660.8 966.9 659.1 957.4 666.4Z" fill="#465194"/>
<path d="M958.2 666.9L967.7 659.6 957.3 657.0 947.8 664.3Z" fill="#455093"/>
<path d="M959.7 680.7L986.5 661.5 957.4 657.7 930.6 676.9Z" fill="none" stroke="#111" stroke-width="1.8" stroke-linejoin="round"/>
<path d="M567.8 552.3L578.0 547.4 568.3 527.1 558.1 531.9Z" fill="#6fc0bc"/>
<path d="M558.6 533.0L568.8 528.2 559.1 507.1 548.9 511.8Z" fill="#75c0b4"/>
<path d="M549.4 513.0L559.6 508.3 549.9 486.3 539.7 491.0Z" fill="#79bea7"/>
<path d="M577.5 547.7L587.7 542.8 578.0 522.5 567.8 527.4Z" fill="#70c0bb"/>
<path d="M568.3 528.5L578.5 523.6 568.8 502.5 558.6 507.4Z" fill="#75c0b4"/>
<path d="M559.1 508.5L569.3 503.7 559.6 481.8 549.4 486.6Z" fill="#79bea5"/>
<path d="M587.1 543.1L597.3 538.1 587.6 517.8 577.4 522.8Z" fill="#70c0ba"/>
<path d="M577.9 523.9L588.1 518.9 578.4 497.9 568.2 502.8Z" fill="#76c0b3"/>
<path d="M568.8 503.9L578.9 499.0 569.2 477.1 559.1 482.0Z" fill="#79bea3"/>
<path d="M567.8 551.6L596.7 537.7 569.2 477.8 540.2 491.5Z" fill="none" stroke="#111" stroke-width="2.0" stroke-linejoin="round"/>
<path d="M735.6 692.9L745.6 687.1 735.7 676.4 725.6 682.2Z" fill="#434b8e"/>
<path d="M726.3 683.0L736.3 677.3 726.4 665.7 716.4 671.5Z" fill="#454f92"/>
<path d="M717.0 672.4L727.1 666.6 717.2 654.3 707.1 660.0Z" fill="#465296"/>
<path d="M744.9 687.6L754.9 681.7 745.0 671.0 735.0 676.9Z" fill="#434c8f"/>
<path d="M735.7 677.8L745.7 671.9 735.7 660.4 725.7 666.2Z" fill="#454f93"/>
<path d="M726.4 667.1L736.4 661.3 726.5 649.0 716.5 654.8Z" fill="#475397"/>
<path d="M754.3 682.3L764.2 676.3 754.3 665.6 744.3 671.5Z" fill="#444d90"/>
<path d="M745.0 672.4L755.0 666.5 745.0 655.0 735.1 660.9Z" fill="#455194"/>
<path d="M735.7 661.8L745.7 655.9 735.8 643.6 725.8 649.5Z" fill="#475599"/>
<path d="M735.6 692.2L763.6 676.1 735.8 644.3 707.8 660.2Z" fill="none" stroke="#111" stroke-width="2.0" stroke-linejoin="round"/>
<path d="M1016.3 658.8L1025.7 651.3 1014.9 652.8 1005.5 660.4Z" fill="#4e62a5"/>
<path d="M1006.3 660.8L1015.7 653.3 1005.1 653.9 995.7 661.5Z" fill="#4b5c9f"/>
<path d="M996.4 661.9L1005.8 654.4 995.3 654.3 985.8 661.7Z" fill="#48579a"/>
<path d="M1025.2 652.3L1034.5 644.7 1023.8 646.2 1014.4 653.8Z" fill="#5066a9"/>
<path d="M1015.2 654.2L1024.6 646.6 1013.9 647.3 1004.5 654.9Z" fill="#4d60a3"/>
<path d="M1005.3 655.3L1014.7 647.7 1004.1 647.6 994.7 655.2Z" fill="#4a5b9f"/>
<path d="M1034.1 645.6L1043.4 637.9 1032.6 639.5 1023.3 647.2Z" fill="#526bad"/>
<path d="M1024.1 647.6L1033.4 639.9 1022.7 640.6 1013.4 648.3Z" fill="#4f65a8"/>
<path d="M1014.2 648.7L1023.5 641.0 1012.9 640.9 1003.6 648.6Z" fill="#4c5fa3"/>
<path d="M1016.1 658.2L1042.7 638.2 1013.0 641.6 986.5 661.5Z" fill="none" stroke="#111" stroke-width="1.6" stroke-linejoin="round"/>
<path d="M1157.3 567.8L1165.9 560.0 1154.2 567.1 1145.6 574.9Z" fill="#66bec7"/>
<path d="M1146.8 574.9L1155.4 566.8 1143.9 572.8 1135.3 580.9Z" fill="#5ebccf"/>
<path d="M1136.3 581.0L1145.1 572.8 1133.8 577.8 1125.0 586.0Z" fill="#57b9d6"/>
<path d="M1166.0 560.6L1174.5 552.6 1162.8 559.7 1154.3 567.6Z" fill="#69bfc3"/>
<path d="M1155.4 567.6L1164.1 559.5 1152.6 565.4 1143.9 573.6Z" fill="#61bdcb"/>
<path d="M1144.9 573.8L1153.7 565.5 1142.4 570.5 1133.6 578.8Z" fill="#5abad3"/>
<path d="M1174.6 553.2L1183.2 545.2 1171.5 552.2 1163.0 560.3Z" fill="#6cc0c0"/>
<path d="M1164.1 560.3L1172.7 552.1 1161.2 558.0 1152.6 566.3Z" fill="#65bec8"/>
<path d="M1153.6 566.4L1162.4 558.1 1151.1 563.1 1142.3 571.4Z" fill="#5ebccf"/>
<path d="M1156.6 567.6L1182.6 545.6 1151.5 563.6 1125.6 585.7Z" fill="none" stroke="#111" stroke-width="1.1" stroke-linejoin="round"/>
<path d="M595.4 605.3L605.6 600.4 595.9 582.4 585.6 587.3Z" fill="#50b7de"/>
<path d="M586.2 588.4L596.4 583.5 586.7 564.8 576.5 569.6Z" fill="#5bbbd2"/>
<path d="M577.0 570.7L587.2 565.9 577.5 546.3 567.3 551.1Z" fill="#68bfc5"/>
<path d="M605.0 600.7L615.2 595.7 605.5 577.7 595.3 582.7Z" fill="#51b8dc"/>
<path d="M595.9 583.8L606.1 578.8 596.3 560.1 586.1 565.1Z" fill="#5dbbd0"/>
<path d="M586.7 566.2L596.9 561.2 587.1 541.7 576.9 546.6Z" fill="#69bfc3"/>
<path d="M614.6 596.0L624.8 590.9 615.1 573.0 604.9 578.1Z" fill="#53b8db"/>
<path d="M605.5 579.1L615.6 574.1 605.9 555.4 595.7 560.4Z" fill="#5ebccf"/>
<path d="M596.3 561.5L606.4 556.5 596.7 537.0 586.6 542.0Z" fill="#6abfc2"/>
<path d="M595.4 604.6L624.2 590.5 596.7 537.7 567.8 551.6Z" fill="none" stroke="#111" stroke-width="2.0" stroke-linejoin="round"/>
<path d="M679.4 676.2L689.6 670.7 679.7 657.5 669.6 663.0Z" fill="#475498"/>
<path d="M670.2 663.9L680.3 658.5 670.5 644.6 660.3 649.9Z" fill="#4c5fa3"/>
<path d="M661.0 650.9L671.1 645.6 661.3 630.8 651.1 636.1Z" fill="#536daf"/>
<path d="M688.9 671.2L699.0 665.6 689.2 652.5 679.0 658.0Z" fill="#48569a"/>
<path d="M679.7 658.9L689.8 653.5 680.0 639.5 669.8 645.0Z" fill="#4e62a5"/>
<path d="M670.5 646.0L680.6 640.5 670.8 625.8 660.6 631.2Z" fill="#546fb1"/>
<path d="M698.4 666.1L708.4 660.5 698.6 647.4 688.5 652.9Z" fill="#49589c"/>
<path d="M689.1 653.9L699.2 648.3 689.4 634.4 679.3 639.9Z" fill="#4f64a7"/>
<path d="M679.9 640.9L690.0 635.4 680.2 620.7 670.1 626.2Z" fill="#5571b4"/>
<path d="M679.5 675.5L707.8 660.2 680.2 621.4 651.8 636.4Z" fill="none" stroke="#111" stroke-width="2.0" stroke-linejoin="round"/>
<path d="M455.2 363.0L465.5 358.8 455.8 331.1 445.4 335.2Z" fill="#7cb83e"/>
<path d="M445.8 336.4L456.2 332.3 446.4 303.8 436.0 307.9Z" fill="#94c03f"/>
<path d="M436.4 309.1L446.8 305.0 437.0 275.7 426.6 279.7Z" fill="#a5c742"/>
<path d="M465.1 358.9L475.4 354.7 465.6 327.0 455.3 331.2Z" fill="#7db83e"/>
<path d="M455.7 332.5L466.1 328.3 456.3 299.8 445.9 303.9Z" fill="#95c03f"/>
<path d="M446.4 305.2L456.7 301.0 447.0 271.7 436.6 275.8Z" fill="#a7c742"/>
<path d="M474.9 354.8L485.2 350.5 475.5 322.9 465.2 327.2Z" fill="#7fb93e"/>
<path d="M465.6 328.4L475.9 324.1 466.2 295.6 455.9 299.9Z" fill="#96c13f"/>
<path d="M456.3 301.2L466.6 296.9 456.8 267.6 446.5 271.8Z" fill="#a8c743"/>
<path d="M455.2 362.3L484.8 350.0 456.8 268.3 427.1 280.2Z" fill="none" stroke="#111" stroke-width="2.0" stroke-linejoin="round"/>
<path d="M483.1 437.6L493.4 433.3 483.7 408.1 473.3 412.3Z" fill="#71b446"/>
<path d="M473.8 413.5L484.1 409.3 474.4 383.2 464.0 387.4Z" fill="#72b543"/>
<path d="M464.5 388.6L474.8 384.4 465.1 357.5 454.7 361.7Z" fill="#73b540"/>
<path d="M492.9 433.5L503.3 429.1 493.5 403.9 483.2 408.3Z" fill="#71b445"/>
<path d="M483.7 409.5L494.0 405.1 484.2 379.1 473.9 383.4Z" fill="#72b543"/>
<path d="M474.4 384.6L484.7 380.3 475.0 353.4 464.6 357.7Z" fill="#73b540"/>
<path d="M502.8 429.3L513.0 424.8 503.3 399.6 493.0 404.1Z" fill="#71b445"/>
<path d="M493.5 405.3L503.8 400.8 494.1 374.9 483.8 379.3Z" fill="#72b542"/>
<path d="M484.2 380.5L494.5 376.1 484.8 349.3 474.5 353.6Z" fill="#73b540"/>
<path d="M483.1 436.9L512.5 424.3 484.8 350.0 455.2 362.3Z" fill="none" stroke="#111" stroke-width="2.0" stroke-linejoin="round"/>
<path d="M1073.4 628.2L1082.4 620.5 1071.3 624.6 1062.2 632.3Z" fill="#5391ca"/>
<path d="M1063.1 632.6L1072.3 624.8 1061.3 628.1 1052.1 635.8Z" fill="#5683c1"/>
<path d="M1053.0 636.2L1062.2 628.4 1051.3 630.8 1042.1 638.6Z" fill="#5777b9"/>
<path d="M1082.2 621.4L1091.2 613.6 1080.1 617.7 1071.1 625.5Z" fill="#5299cf"/>
<path d="M1071.9 625.8L1081.1 618.0 1070.1 621.2 1061.0 629.0Z" fill="#548ac6"/>
<path d="M1061.8 629.4L1071.0 621.5 1060.1 623.9 1050.9 631.8Z" fill="#577dbd"/>
<path d="M1091.0 614.6L1100.0 606.6 1088.9 610.7 1079.9 618.7Z" fill="#50a1d4"/>
<path d="M1080.7 618.9L1089.8 611.0 1078.9 614.2 1069.7 622.2Z" fill="#5392cb"/>
<path d="M1070.6 622.5L1079.7 614.6 1068.9 616.9 1059.7 624.9Z" fill="#5685c2"/>
<path d="M1073.0 627.6L1099.4 607.0 1069.1 617.6 1042.7 638.2Z" fill="none" stroke="#111" stroke-width="1.3" stroke-linejoin="round"/>
<path d="M819.8 719.8L829.8 713.5 819.6 707.6 809.7 713.9Z" fill="#434b8d"/>
<path d="M810.4 714.6L820.3 708.3 810.2 701.6 800.2 707.9Z" fill="#434b8d"/>
<path d="M800.9 708.6L810.9 702.4 800.8 694.8 790.8 701.1Z" fill="#434b8d"/>
<path d="M829.1 714.2L839.0 707.9 828.8 702.0 818.9 708.3Z" fill="#434b8d"/>
<path d="M819.6 709.0L829.5 702.7 819.4 696.0 809.5 702.3Z" fill="#434b8d"/>
<path d="M810.2 703.0L820.1 696.7 810.0 689.2 800.1 695.5Z" fill="#434b8d"/>
<path d="M838.3 708.6L848.2 702.1 838.0 696.2 828.1 702.7Z" fill="#434b8d"/>
<path d="M828.8 703.4L838.7 696.9 828.6 690.2 818.7 696.7Z" fill="#434b8d"/>
<path d="M819.4 697.4L829.3 691.0 819.2 683.5 809.3 689.9Z" fill="#434b8e"/>
<path d="M819.8 719.1L847.5 702.1 819.2 684.2 791.5 701.1Z" fill="none" stroke="#111" stroke-width="2.0" stroke-linejoin="round"/>
<path d="M510.9 505.1L521.2 500.6 511.5 477.8 501.1 482.2Z" fill="#7abb95"/>
<path d="M501.6 483.4L512.0 479.0 502.2 455.3 491.9 459.7Z" fill="#76b873"/>
<path d="M492.4 460.9L502.7 456.5 493.0 432.1 482.6 436.4Z" fill="#70b44a"/>
<path d="M520.7 500.9L531.0 496.3 521.3 473.5 510.9 478.0Z" fill="#7abb93"/>
<path d="M511.4 479.2L521.8 474.7 512.0 451.1 501.7 455.6Z" fill="#76b870"/>
<path d="M502.2 456.7L512.5 452.3 502.8 427.9 492.5 432.3Z" fill="#70b448"/>
<path d="M530.5 496.6L540.7 492.0 531.0 469.2 520.7 473.8Z" fill="#7abb91"/>
<path d="M521.2 474.9L531.5 470.4 521.8 446.8 511.5 451.3Z" fill="#75b76d"/>
<path d="M512.0 452.5L522.3 448.0 512.6 423.6 502.3 428.1Z" fill="#70b448"/>
<path d="M510.9 504.4L540.2 491.5 512.5 424.3 483.1 436.9Z" fill="none" stroke="#111" stroke-width="2.0" stroke-linejoin="round"/>
<path d="M876.2 713.8L886.0 707.2 875.6 703.7 865.8 710.4Z" fill="#434b8d"/>
<path d="M866.6 710.9L876.4 704.3 866.1 700.1 856.3 706.7Z" fill="#434b8d"/>
<path d="M857.0 707.3L866.8 700.7 856.6 695.6 846.8 702.2Z" fill="#434b8d"/>
<path d="M885.3 708.0L895.1 701.2 884.8 697.8 875.0 704.5Z" fill="#434b8d"/>
<path d="M875.7 705.1L885.5 698.4 875.2 694.1 865.4 700.8Z" fill="#434b8d"/>
<path d="M866.2 701.5L875.9 694.8 865.7 689.7 855.9 696.4Z" fill="#434b8e"/>
<path d="M894.4 702.1L904.2 695.2 893.8 691.8 884.1 698.6Z" fill="#434b8e"/>
<path d="M884.8 699.2L894.6 692.4 884.3 688.2 874.6 694.9Z" fill="#434b8e"/>
<path d="M875.3 695.5L885.0 688.8 874.8 683.7 865.0 690.5Z" fill="#434b8e"/>
<path d="M876.1 713.1L903.5 695.4 874.8 684.4 847.5 702.1Z" fill="none" stroke="#111" stroke-width="2.0" stroke-linejoin="round"/>
<path d="M623.0 651.4L633.3 646.4 623.5 630.8 613.2 635.8Z" fill="#5675b7"/>
<path d="M613.8 636.8L624.1 631.8 614.3 615.4 604.0 620.4Z" fill="#548bc6"/>
<path d="M604.6 621.5L614.9 616.5 605.1 599.3 594.8 604.3Z" fill="#4fa5d7"/>
<path d="M632.7 646.8L642.9 641.6 633.1 626.0 622.8 631.2Z" fill="#5777b9"/>
<path d="M623.4 632.2L633.7 627.1 623.9 610.7 613.6 615.8Z" fill="#548ec8"/>
<path d="M614.2 616.8L624.4 611.8 614.7 594.6 604.5 599.7Z" fill="#4fa8d9"/>
<path d="M642.2 642.0L652.4 636.8 642.6 621.2 632.4 626.4Z" fill="#5879bb"/>
<path d="M633.0 627.4L643.2 622.2 633.4 605.9 623.2 611.1Z" fill="#5391ca"/>
<path d="M623.8 612.1L634.0 607.0 624.2 589.8 614.1 594.9Z" fill="#4eabdb"/>
<path d="M623.1 650.7L651.8 636.4 624.2 590.5 595.4 604.6Z" fill="none" stroke="#111" stroke-width="2.0" stroke-linejoin="round"/>
<path d="M763.6 718.0L773.6 712.1 763.6 703.7 753.5 709.6Z" fill="#434b8d"/>
<path d="M754.2 710.4L764.3 704.5 754.2 695.3 744.2 701.2Z" fill="#434b8d"/>
<path d="M744.9 702.0L754.9 696.2 744.9 686.2 734.9 692.1Z" fill="#434b8e"/>
<path d="M772.9 712.7L783.0 706.7 772.9 698.3 762.9 704.3Z" fill="#434b8d"/>
<path d="M763.6 705.1L773.6 699.1 763.6 690.0 753.6 695.9Z" fill="#434b8e"/>
<path d="M754.2 696.7L764.3 690.8 754.3 680.9 744.3 686.8Z" fill="#434b8e"/>
<path d="M782.3 707.3L792.2 701.2 782.2 692.8 772.2 698.9Z" fill="#434b8d"/>
<path d="M772.9 699.7L782.9 693.7 772.9 684.5 762.9 690.6Z" fill="#434b8e"/>
<path d="M763.6 691.4L773.5 685.4 763.6 675.4 753.6 681.4Z" fill="#434b8e"/>
<path d="M763.6 717.3L791.5 701.1 763.6 676.1 735.6 692.2Z" fill="none" stroke="#111" stroke-width="2.0" stroke-linejoin="round"/>
<path d="M932.6 699.9L942.3 692.9 931.8 691.9 922.1 698.9Z" fill="#434b8e"/>
<path d="M922.9 699.4L932.6 692.5 922.1 690.7 912.4 697.6Z" fill="#434b8e"/>
<path d="M913.2 698.1L922.9 691.2 912.5 688.6 902.8 695.5Z" fill="#434b8e"/>
<path d="M941.7 693.8L951.3 686.8 940.8 685.8 931.2 692.8Z" fill="#434c8f"/>
<path d="M931.9 693.3L941.6 686.3 931.1 684.5 921.5 691.5Z" fill="#434b8e"/>
<path d="M922.2 692.1L931.9 685.0 921.5 682.4 911.8 689.4Z" fill="#434b8e"/>
<path d="M950.7 687.7L960.3 680.5 949.8 679.5 940.2 686.7Z" fill="#444d91"/>
<path d="M941.0 687.2L950.6 680.1 940.1 678.3 930.5 685.4Z" fill="#434c8f"/>
<path d="M931.3 685.9L940.9 678.8 930.5 676.2 920.9 683.3Z" fill="#434b8e"/>
<path d="M932.6 699.2L959.7 680.7 930.6 676.9 903.5 695.4Z" fill="none" stroke="#111" stroke-width="1.8" stroke-linejoin="round"/>
<path d="M538.6 565.4L548.9 560.8 539.2 540.4 528.8 544.9Z" fill="#6ec0bd"/>
<path d="M529.4 546.1L539.7 541.6 530.0 520.3 519.6 524.8Z" fill="#73c0b6"/>
<path d="M520.1 526.0L530.5 521.5 520.7 499.5 510.4 503.9Z" fill="#78bfac"/>
<path d="M548.4 561.1L558.7 556.5 548.9 536.1 538.6 540.7Z" fill="#6ec0bd"/>
<path d="M539.1 541.8L549.5 537.2 539.7 516.0 529.4 520.6Z" fill="#74c0b6"/>
<path d="M529.9 521.7L540.2 517.2 530.5 495.2 520.2 499.7Z" fill="#78bfab"/>
<path d="M558.1 556.7L568.4 552.0 558.6 531.6 548.4 536.3Z" fill="#6fc0bc"/>
<path d="M548.9 537.5L559.2 532.8 549.4 511.6 539.2 516.3Z" fill="#74c0b5"/>
<path d="M539.7 517.4L550.0 512.8 540.2 490.8 530.0 495.4Z" fill="#78bfa9"/>
<path d="M538.6 564.7L567.8 551.6 540.2 491.5 510.9 504.4Z" fill="none" stroke="#111" stroke-width="2.0" stroke-linejoin="round"/>
<path d="M707.3 708.3L717.4 702.7 707.5 691.9 697.3 697.4Z" fill="#434b8e"/>
<path d="M698.0 698.3L708.1 692.8 698.2 681.2 688.0 686.7Z" fill="#434c8f"/>
<path d="M688.7 687.6L698.8 682.1 688.9 669.8 678.8 675.2Z" fill="#455093"/>
<path d="M716.7 703.2L726.9 697.6 716.9 686.8 706.8 692.4Z" fill="#434b8e"/>
<path d="M707.4 693.3L717.6 687.7 707.6 676.1 697.5 681.7Z" fill="#444d90"/>
<path d="M698.2 682.6L708.3 677.1 698.4 664.7 688.3 670.2Z" fill="#455094"/>
<path d="M726.2 698.1L736.3 692.4 726.3 681.6 716.2 687.3Z" fill="#434b8e"/>
<path d="M716.9 688.2L727.0 682.5 717.0 671.0 707.0 676.6Z" fill="#444e91"/>
<path d="M707.6 677.5L717.7 671.9 707.8 659.5 697.7 665.2Z" fill="#465195"/>
<path d="M707.3 707.6L735.6 692.2 707.8 660.2 679.5 675.5Z" fill="none" stroke="#111" stroke-width="2.0" stroke-linejoin="round"/>
<path d="M1131.1 589.0L1139.8 581.5 1128.1 588.7 1119.4 596.2Z" fill="#5cbbd1"/>
<path d="M1120.6 596.2L1129.3 588.4 1117.8 594.4 1109.1 602.2Z" fill="#54b9d9"/>
<path d="M1110.1 602.3L1119.0 594.4 1107.7 599.4 1098.8 607.4Z" fill="#4db6e1"/>
<path d="M1139.9 582.0L1148.5 574.4 1136.8 581.6 1128.2 589.2Z" fill="#5fbcce"/>
<path d="M1129.3 589.2L1138.1 581.3 1126.6 587.3 1117.8 595.2Z" fill="#57bad6"/>
<path d="M1118.9 595.3L1127.7 587.3 1116.4 592.3 1107.6 600.3Z" fill="#50b7dd"/>
<path d="M1148.6 574.9L1157.2 567.2 1145.5 574.3 1136.9 582.1Z" fill="#62bdca"/>
<path d="M1138.1 582.1L1146.8 574.1 1135.3 580.1 1126.6 588.1Z" fill="#5bbbd2"/>
<path d="M1127.6 588.2L1136.4 580.1 1125.1 585.1 1116.3 593.2Z" fill="#54b8da"/>
<path d="M1130.4 588.9L1156.6 567.6 1125.6 585.7 1099.4 607.0Z" fill="none" stroke="#111" stroke-width="1.1" stroke-linejoin="round"/>
<path d="M989.4 678.1L998.9 670.8 988.2 672.3 978.7 679.6Z" fill="#485699"/>
<path d="M979.5 680.0L989.0 672.7 978.3 673.4 968.8 680.7Z" fill="#465296"/>
<path d="M969.6 681.1L979.1 673.9 968.5 673.7 959.0 681.0Z" fill="#455094"/>
<path d="M998.4 671.7L1007.9 664.4 997.1 665.9 987.7 673.3Z" fill="#4a5a9d"/>
<path d="M988.4 673.7L997.9 666.3 987.3 667.0 977.8 674.3Z" fill="#475498"/>
<path d="M978.5 674.8L988.0 667.4 977.5 667.3 968.0 674.6Z" fill="#465296"/>
<path d="M1007.4 665.3L1016.8 657.9 1006.0 659.4 996.6 666.9Z" fill="#4c5ea1"/>
<path d="M997.4 667.3L1006.8 659.8 996.2 660.5 986.7 667.9Z" fill="#49579b"/>
<path d="M987.5 668.4L997.0 661.0 986.4 660.8 976.9 668.2Z" fill="#475397"/>
<path d="M989.3 677.4L1016.1 658.2 986.5 661.5 959.7 680.7Z" fill="none" stroke="#111" stroke-width="1.6" stroke-linejoin="round"/>
<path d="M566.3 618.7L576.6 614.0 566.8 596.0 556.5 600.6Z" fill="#4db6e1"/>
<path d="M557.0 601.7L567.4 597.1 557.6 578.2 547.3 582.8Z" fill="#58bad5"/>
<path d="M547.8 583.9L558.2 579.3 548.4 559.7 538.0 564.3Z" fill="#64bec8"/>
<path d="M576.0 614.3L586.3 609.6 576.6 591.5 566.2 596.3Z" fill="#4eb7e0"/>
<path d="M566.8 597.4L577.1 592.6 567.3 573.8 557.0 578.5Z" fill="#59bad4"/>
<path d="M557.6 579.6L567.9 574.9 558.1 555.3 547.8 560.0Z" fill="#65bec7"/>
<path d="M585.7 609.9L596.0 605.0 586.2 587.0 576.0 591.9Z" fill="#4fb7df"/>
<path d="M576.5 592.9L586.8 588.1 577.0 569.3 566.8 574.1Z" fill="#5abad3"/>
<path d="M567.3 575.2L577.6 570.4 567.8 550.9 557.6 555.6Z" fill="#66bec6"/>
<path d="M566.3 618.0L595.4 604.6 567.8 551.6 538.6 564.7Z" fill="none" stroke="#111" stroke-width="2.0" stroke-linejoin="round"/>
<path d="M650.8 690.6L661.0 685.4 651.1 672.2 640.9 677.4Z" fill="#465195"/>
<path d="M641.5 678.3L651.8 673.2 641.9 659.2 631.6 664.3Z" fill="#4a599d"/>
<path d="M632.3 665.3L642.5 660.2 632.7 645.4 622.4 650.4Z" fill="#5066a9"/>
<path d="M660.4 685.9L670.6 680.6 660.7 667.4 650.5 672.7Z" fill="#465296"/>
<path d="M651.1 673.6L661.3 668.4 651.5 654.4 641.3 659.6Z" fill="#4a5b9f"/>
<path d="M641.9 660.6L652.1 655.4 642.3 640.6 632.0 645.8Z" fill="#5168ab"/>
<path d="M669.9 681.1L680.1 675.7 670.2 662.5 660.0 667.8Z" fill="#475397"/>
<path d="M660.7 668.8L670.9 663.5 661.0 649.5 650.8 654.8Z" fill="#4b5da1"/>
<path d="M651.4 655.8L661.6 650.5 651.8 635.7 641.6 641.0Z" fill="#526aad"/>
<path d="M650.8 689.9L679.5 675.5 651.8 636.4 623.1 650.7Z" fill="none" stroke="#111" stroke-width="2.0" stroke-linejoin="round"/>
<path d="M1046.7 648.1L1055.9 640.6 1044.8 644.7 1035.6 652.2Z" fill="#577cbd"/>
<path d="M1036.5 652.5L1045.7 645.0 1034.8 648.2 1025.5 655.8Z" fill="#5571b4"/>
<path d="M1026.3 656.1L1035.7 648.6 1024.8 650.9 1015.5 658.5Z" fill="#5169ac"/>
<path d="M1055.6 641.6L1064.8 634.0 1053.7 638.1 1044.5 645.7Z" fill="#5683c1"/>
<path d="M1045.4 646.0L1054.6 638.4 1043.7 641.6 1034.4 649.2Z" fill="#5776b8"/>
<path d="M1035.2 649.5L1044.5 641.9 1033.7 644.3 1024.4 651.9Z" fill="#536db0"/>
<path d="M1064.5 634.9L1073.6 627.3 1062.5 631.4 1053.4 639.0Z" fill="#548ac6"/>
<path d="M1054.3 639.3L1063.5 631.6 1052.5 634.9 1043.3 642.6Z" fill="#577bbc"/>
<path d="M1044.1 642.9L1053.4 635.2 1042.5 637.6 1033.3 645.3Z" fill="#5572b4"/>
<path d="M1046.4 647.5L1073.0 627.6 1042.7 638.2 1016.1 658.2Z" fill="none" stroke="#111" stroke-width="1.3" stroke-linejoin="round"/>
<path d="M425.2 374.4L435.7 370.5 425.9 342.7 415.3 346.6Z" fill="#78b63e"/>
<path d="M415.8 347.8L426.3 343.9 416.5 315.3 405.9 319.1Z" fill="#91bf3e"/>
<path d="M406.4 320.4L416.9 316.5 407.0 287.1 396.5 290.8Z" fill="#a3c642"/>
<path d="M435.2 370.7L445.7 366.7 435.9 338.9 425.4 342.9Z" fill="#79b73e"/>
<path d="M425.8 344.1L436.3 340.2 426.5 311.5 416.0 315.5Z" fill="#92bf3f"/>
<path d="M416.4 316.7L426.9 312.8 417.1 283.3 406.6 287.2Z" fill="#a4c642"/>
<path d="M445.2 366.9L455.6 362.8 445.8 335.0 435.4 339.1Z" fill="#7ab73e"/>
<path d="M435.8 340.3L446.3 336.3 436.5 307.7 426.0 311.7Z" fill="#93bf3f"/>
<path d="M426.5 312.9L436.9 309.0 427.1 279.5 416.6 283.5Z" fill="#a5c642"/>
<path d="M425.2 373.7L455.2 362.3 427.1 280.2 396.9 291.4Z" fill="none" stroke="#111" stroke-width="2.0" stroke-linejoin="round"/>
<path d="M453.3 449.4L463.7 445.4 453.9 420.0 443.4 424.0Z" fill="#71b446"/>
<path d="M443.9 425.2L454.4 421.2 444.6 395.1 434.1 399.0Z" fill="#72b443"/>
<path d="M434.6 400.2L445.1 396.3 435.2 369.3 424.7 373.2Z" fill="#73b540"/>
<path d="M463.2 445.6L473.7 441.4 463.9 416.1 453.4 420.2Z" fill="#71b446"/>
<path d="M453.9 421.4L464.4 417.3 454.6 391.2 444.1 395.3Z" fill="#72b443"/>
<path d="M444.6 396.5L455.0 392.4 445.2 365.5 434.8 369.5Z" fill="#73b540"/>
<path d="M473.2 441.6L483.6 437.4 473.8 412.1 463.4 416.3Z" fill="#71b446"/>
<path d="M463.9 417.5L474.3 413.3 464.5 387.2 454.1 391.4Z" fill="#72b543"/>
<path d="M454.5 392.6L465.0 388.5 455.2 361.6 444.8 365.6Z" fill="#73b540"/>
<path d="M453.3 448.7L483.1 436.9 455.2 362.3 425.2 373.7Z" fill="none" stroke="#111" stroke-width="2.0" stroke-linejoin="round"/>
<path d="M791.9 736.1L801.9 730.0 791.8 724.1 781.7 730.1Z" fill="#424a8d"/>
<path d="M782.4 730.8L792.5 724.8 782.3 718.1 772.3 724.1Z" fill="#424a8d"/>
<path d="M773.0 724.8L783.0 718.8 772.9 711.3 762.9 717.2Z" fill="#434b8d"/>
<path d="M801.2 730.7L811.2 724.6 801.1 718.7 791.1 724.8Z" fill="#424a8d"/>
<path d="M791.8 725.5L801.8 719.4 791.6 712.7 781.6 718.7Z" fill="#434b8d"/>
<path d="M782.3 719.5L792.4 713.4 782.3 705.9 772.2 711.9Z" fill="#434b8d"/>
<path d="M810.6 725.3L820.5 719.1 810.4 713.2 800.4 719.4Z" fill="#434b8d"/>
<path d="M801.1 720.1L811.1 713.9 800.9 707.2 791.0 713.3Z" fill="#434b8d"/>
<path d="M791.7 714.1L801.6 707.9 791.5 700.4 781.6 706.5Z" fill="#434b8d"/>
<path d="M791.9 735.4L819.8 719.1 791.5 701.1 763.6 717.3Z" fill="none" stroke="#111" stroke-width="2.0" stroke-linejoin="round"/>
<path d="M848.5 730.9L858.4 724.5 848.1 721.0 838.2 727.4Z" fill="#434b8d"/>
<path d="M838.9 728.0L848.8 721.6 838.6 717.3 828.6 723.7Z" fill="#434b8d"/>
<path d="M829.4 724.3L839.3 718.0 829.1 712.9 819.1 719.2Z" fill="#434b8d"/>
<path d="M857.7 725.3L867.6 718.8 857.3 715.3 847.4 721.8Z" fill="#434b8d"/>
<path d="M848.2 722.4L858.0 715.9 847.8 711.6 837.9 718.1Z" fill="#434b8d"/>
<path d="M838.6 718.7L848.5 712.3 838.3 707.2 828.4 713.6Z" fill="#434b8d"/>
<path d="M867.0 719.6L876.8 713.0 866.5 709.5 856.7 716.1Z" fill="#434b8d"/>
<path d="M857.4 716.7L867.2 710.2 857.0 705.9 847.1 712.4Z" fill="#434b8d"/>
<path d="M847.8 713.0L857.7 706.5 847.5 701.4 837.6 707.9Z" fill="#434b8d"/>
<path d="M848.5 730.2L876.1 713.1 847.5 702.1 819.8 719.1Z" fill="none" stroke="#111" stroke-width="2.0" stroke-linejoin="round"/>
<path d="M1189.0 541.5L1197.7 534.3 1186.0 544.7 1177.3 551.8Z" fill="#74c0b5"/>
<path d="M1178.4 551.0L1187.0 543.7 1175.3 553.1 1166.6 560.4Z" fill="#70c0ba"/>
<path d="M1167.8 559.8L1176.4 552.3 1164.6 560.5 1156.1 568.1Z" fill="#6dc0bf"/>
<path d="M1197.7 534.2L1206.4 527.0 1194.7 537.3 1185.9 544.6Z" fill="#76c0b3"/>
<path d="M1187.1 543.8L1195.7 536.4 1183.9 545.7 1175.3 553.1Z" fill="#72c0b8"/>
<path d="M1176.5 552.6L1185.1 544.9 1173.3 553.2 1164.8 560.8Z" fill="#6ec0bd"/>
<path d="M1206.4 526.9L1215.1 519.6 1203.3 529.9 1194.6 537.3Z" fill="#77c0b1"/>
<path d="M1195.8 536.5L1204.3 529.0 1192.5 538.3 1184.0 545.8Z" fill="#73c0b7"/>
<path d="M1185.2 545.3L1193.7 537.5 1181.9 545.7 1173.4 553.5Z" fill="#70c0bb"/>
<path d="M1188.5 542.0L1214.5 520.0 1182.6 545.6 1156.6 567.6Z" fill="none" stroke="#111" stroke-width="1.1" stroke-linejoin="round"/>
<path d="M481.2 517.2L491.6 513.0 481.9 490.1 471.4 494.2Z" fill="#79bc99"/>
<path d="M471.9 495.4L482.4 491.3 472.6 467.5 462.1 471.6Z" fill="#77b87a"/>
<path d="M462.6 472.8L473.0 468.7 463.3 444.2 452.8 448.2Z" fill="#71b551"/>
<path d="M491.1 513.2L501.5 509.0 491.8 486.1 481.3 490.3Z" fill="#79bc98"/>
<path d="M481.8 491.5L492.3 487.3 482.5 463.6 472.1 467.7Z" fill="#77b878"/>
<path d="M472.5 468.9L483.0 464.7 473.2 440.2 462.8 444.4Z" fill="#71b54f"/>
<path d="M501.0 509.2L511.4 504.8 501.6 482.0 491.2 486.3Z" fill="#79bc97"/>
<path d="M491.7 487.5L502.1 483.2 492.4 459.5 482.0 463.8Z" fill="#77b876"/>
<path d="M482.5 465.0L492.9 460.7 483.1 436.2 472.7 440.4Z" fill="#71b44c"/>
<path d="M481.2 516.5L510.9 504.4 483.1 436.9 453.3 448.7Z" fill="none" stroke="#111" stroke-width="2.0" stroke-linejoin="round"/>
<path d="M594.0 665.0L604.3 660.2 594.5 644.5 584.1 649.3Z" fill="#5470b2"/>
<path d="M584.7 650.3L595.1 645.6 585.3 629.1 574.9 633.8Z" fill="#5683c1"/>
<path d="M575.5 634.9L585.9 630.2 576.1 612.9 565.7 617.6Z" fill="#519cd2"/>
<path d="M603.7 660.6L614.0 655.7 604.2 640.0 593.9 644.9Z" fill="#5571b4"/>
<path d="M594.5 645.9L604.8 641.1 595.0 624.6 584.7 629.5Z" fill="#5585c3"/>
<path d="M585.2 630.5L595.6 625.7 585.8 608.5 575.4 613.3Z" fill="#509fd3"/>
<path d="M613.4 656.0L623.7 651.1 613.9 635.4 603.6 640.4Z" fill="#5673b5"/>
<path d="M604.2 641.4L614.4 636.5 604.6 620.1 594.4 625.0Z" fill="#5588c4"/>
<path d="M594.9 626.0L605.2 621.1 595.4 603.9 585.2 608.8Z" fill="#50a2d5"/>
<path d="M594.0 664.3L623.1 650.7 595.4 604.6 566.3 618.0Z" fill="none" stroke="#111" stroke-width="2.0" stroke-linejoin="round"/>
<path d="M735.3 733.4L745.5 727.8 735.4 719.4 725.2 725.0Z" fill="#434b8d"/>
<path d="M725.9 725.8L736.1 720.2 726.1 711.0 715.9 716.6Z" fill="#434b8d"/>
<path d="M716.6 717.4L726.7 711.8 716.8 701.8 706.6 707.4Z" fill="#434b8d"/>
<path d="M744.8 728.4L754.9 722.6 744.8 714.2 734.7 720.0Z" fill="#434b8d"/>
<path d="M735.4 720.8L745.5 715.0 735.5 705.8 725.4 711.6Z" fill="#434b8d"/>
<path d="M726.1 712.4L736.2 706.7 726.2 696.7 716.1 702.4Z" fill="#434b8e"/>
<path d="M754.2 723.2L764.3 717.4 754.2 709.0 744.1 714.8Z" fill="#434b8d"/>
<path d="M744.8 715.6L754.9 709.8 744.9 700.6 734.8 706.4Z" fill="#434b8d"/>
<path d="M735.5 707.2L745.6 701.5 735.6 691.5 725.5 697.3Z" fill="#434b8e"/>
<path d="M735.3 732.7L763.6 717.3 735.6 692.2 707.3 707.6Z" fill="none" stroke="#111" stroke-width="2.0" stroke-linejoin="round"/>
<path d="M905.2 717.7L915.0 711.0 904.5 710.0 894.8 716.7Z" fill="#434b8e"/>
<path d="M895.5 717.2L905.3 710.5 894.9 708.7 885.1 715.4Z" fill="#434b8d"/>
<path d="M885.8 715.9L895.6 709.2 885.2 706.6 875.4 713.3Z" fill="#434b8d"/>
<path d="M914.4 711.9L924.1 705.0 913.7 704.0 903.9 710.9Z" fill="#434b8e"/>
<path d="M904.7 711.4L914.4 704.6 904.0 702.7 894.2 709.5Z" fill="#434b8e"/>
<path d="M895.0 710.1L904.7 703.3 894.3 700.7 884.6 707.4Z" fill="#434b8e"/>
<path d="M923.5 705.9L933.2 699.0 922.7 698.0 913.0 704.9Z" fill="#434b8e"/>
<path d="M913.8 705.4L923.5 698.6 913.1 696.7 903.4 703.6Z" fill="#434b8e"/>
<path d="M904.1 704.1L913.8 697.3 903.4 694.7 893.7 701.5Z" fill="#434b8e"/>
<path d="M905.2 717.0L932.6 699.2 903.5 695.4 876.1 713.1Z" fill="none" stroke="#111" stroke-width="1.8" stroke-linejoin="round"/>
<path d="M509.0 577.8L519.5 573.5 509.7 552.9 499.2 557.2Z" fill="#6dc0bf"/>
<path d="M499.7 558.3L510.2 554.1 500.4 532.8 489.9 537.0Z" fill="#72c0b8"/>
<path d="M490.5 538.1L500.9 533.9 491.1 511.8 480.7 516.0Z" fill="#78c0b0"/>
<path d="M518.9 573.7L529.3 569.3 519.6 548.9 509.1 553.2Z" fill="#6dc0be"/>
<path d="M509.6 554.3L520.1 550.0 510.3 528.7 499.9 533.0Z" fill="#73c0b7"/>
<path d="M500.4 534.2L510.8 529.9 501.0 507.8 490.6 512.1Z" fill="#78c0af"/>
<path d="M528.8 569.6L539.1 565.1 529.4 544.7 519.0 549.1Z" fill="#6ec0be"/>
<path d="M519.5 550.3L529.9 545.8 520.1 524.6 509.7 529.0Z" fill="#73c0b7"/>
<path d="M510.3 530.1L520.7 525.7 510.9 503.7 500.5 508.0Z" fill="#78c0ae"/>
<path d="M509.0 577.1L538.6 564.7 510.9 504.4 481.2 516.5Z" fill="none" stroke="#111" stroke-width="2.0" stroke-linejoin="round"/>
<path d="M678.6 722.9L688.9 717.6 678.9 706.7 668.7 712.0Z" fill="#434b8e"/>
<path d="M669.3 712.9L679.6 707.6 669.7 696.0 659.4 701.2Z" fill="#434b8e"/>
<path d="M660.0 702.1L670.3 696.9 660.4 684.5 650.1 689.7Z" fill="#444d91"/>
<path d="M688.2 718.1L698.4 712.7 688.5 701.9 678.3 707.2Z" fill="#434b8e"/>
<path d="M678.9 708.1L689.1 702.8 679.2 691.1 669.0 696.5Z" fill="#434b8e"/>
<path d="M669.6 697.4L679.9 692.1 669.9 679.7 659.7 684.9Z" fill="#444e91"/>
<path d="M697.8 713.2L708.0 707.7 698.0 696.9 687.8 702.4Z" fill="#434b8e"/>
<path d="M688.5 703.3L698.6 697.8 688.7 686.2 678.5 691.6Z" fill="#434b8e"/>
<path d="M679.2 692.5L689.4 687.2 679.5 674.8 669.3 680.1Z" fill="#454f92"/>
<path d="M678.7 722.2L707.3 707.6 679.5 675.5 650.8 689.9Z" fill="none" stroke="#111" stroke-width="2.0" stroke-linejoin="round"/>
<path d="M1104.7 609.5L1113.4 602.3 1101.7 609.6 1093.0 616.8Z" fill="#53b8db"/>
<path d="M1094.2 616.7L1103.0 609.2 1091.5 615.3 1082.7 622.8Z" fill="#4cb4e1"/>
<path d="M1083.7 622.9L1092.7 615.3 1081.4 620.3 1072.4 628.0Z" fill="#50a2d5"/>
<path d="M1113.5 602.7L1122.2 595.5 1110.5 602.7 1101.8 610.0Z" fill="#56b9d8"/>
<path d="M1103.0 609.9L1111.8 602.3 1100.3 608.4 1091.5 616.0Z" fill="#4eb7e0"/>
<path d="M1092.5 616.2L1101.5 608.4 1090.2 613.4 1081.3 621.2Z" fill="#4ea9da"/>
<path d="M1122.3 595.9L1131.0 588.5 1119.3 595.8 1110.7 603.1Z" fill="#59bad4"/>
<path d="M1111.8 603.1L1120.6 595.4 1109.1 601.4 1100.3 609.1Z" fill="#51b8dd"/>
<path d="M1101.3 609.3L1110.3 601.4 1099.0 606.4 1090.0 614.3Z" fill="#4db1df"/>
<path d="M1104.0 609.5L1130.4 588.9 1099.4 607.0 1073.0 627.6Z" fill="none" stroke="#111" stroke-width="1.1" stroke-linejoin="round"/>
<path d="M962.3 696.6L971.9 689.5 961.2 691.0 951.6 698.1Z" fill="#455094"/>
<path d="M952.3 698.5L961.9 691.5 951.3 692.1 941.7 699.2Z" fill="#444e91"/>
<path d="M942.5 699.6L952.1 692.6 941.5 692.4 931.9 699.4Z" fill="#434c8f"/>
<path d="M971.4 690.5L980.9 683.4 970.2 684.9 960.7 692.0Z" fill="#465296"/>
<path d="M961.4 692.4L971.0 685.3 960.4 686.0 950.8 693.1Z" fill="#454f93"/>
<path d="M951.5 693.5L961.1 686.4 950.6 686.3 941.0 693.4Z" fill="#444d91"/>
<path d="M980.4 684.3L989.9 677.1 979.2 678.6 969.7 685.8Z" fill="#475397"/>
<path d="M970.4 686.2L980.0 679.0 969.4 679.7 959.8 686.9Z" fill="#465194"/>
<path d="M960.6 687.4L970.1 680.2 959.6 680.0 950.0 687.2Z" fill="#454f92"/>
<path d="M962.1 695.9L989.3 677.4 959.7 680.7 932.6 699.2Z" fill="none" stroke="#111" stroke-width="1.5" stroke-linejoin="round"/>
<path d="M536.8 631.3L547.2 626.9 537.4 608.7 527.0 613.1Z" fill="#4db1df"/>
<path d="M527.5 614.2L538.0 609.8 528.2 590.9 517.7 595.3Z" fill="#56b9d8"/>
<path d="M518.3 596.4L528.7 592.0 518.9 572.3 508.5 576.6Z" fill="#62bdcb"/>
<path d="M546.6 627.2L557.1 622.7 547.3 604.6 536.8 609.0Z" fill="#4db3e0"/>
<path d="M537.4 610.1L547.8 605.7 538.0 586.8 527.6 591.2Z" fill="#56b9d7"/>
<path d="M528.1 592.3L538.6 587.9 528.8 568.2 518.4 572.6Z" fill="#62bdca"/>
<path d="M556.5 623.0L566.9 618.4 557.1 600.3 546.7 604.9Z" fill="#4cb5e2"/>
<path d="M547.2 606.0L557.6 601.4 547.8 582.5 537.4 587.1Z" fill="#57bad6"/>
<path d="M538.0 588.2L548.4 583.7 538.6 564.0 528.2 568.5Z" fill="#63bdc9"/>
<path d="M536.8 630.6L566.3 618.0 538.6 564.7 509.0 577.1Z" fill="none" stroke="#111" stroke-width="2.0" stroke-linejoin="round"/>
<path d="M621.8 704.3L632.1 699.4 622.2 686.1 611.9 691.0Z" fill="#455093"/>
<path d="M612.5 692.0L622.9 687.1 613.0 673.0 602.6 677.9Z" fill="#475498"/>
<path d="M603.2 678.9L613.6 674.0 603.7 659.2 593.4 664.0Z" fill="#4d62a5"/>
<path d="M631.5 699.8L641.8 694.8 631.9 681.6 621.6 686.6Z" fill="#455094"/>
<path d="M622.2 687.5L632.5 682.6 622.7 668.5 612.3 673.4Z" fill="#48569a"/>
<path d="M612.9 674.4L623.3 669.5 613.4 654.6 603.1 659.6Z" fill="#4e63a6"/>
<path d="M641.1 695.3L651.4 690.2 641.5 676.9 631.2 682.0Z" fill="#465194"/>
<path d="M631.9 683.0L642.2 677.9 632.3 663.9 622.0 668.9Z" fill="#49589b"/>
<path d="M622.6 669.9L632.9 664.9 623.1 650.0 612.8 655.0Z" fill="#4f65a8"/>
<path d="M621.8 703.6L650.8 689.9 623.1 650.7 594.0 664.3Z" fill="none" stroke="#111" stroke-width="2.0" stroke-linejoin="round"/>
<path d="M1019.8 667.3L1029.1 660.1 1018.0 664.2 1008.7 671.4Z" fill="#546fb1"/>
<path d="M1009.6 671.8L1019.0 664.5 1008.0 667.7 998.7 675.0Z" fill="#4f65a8"/>
<path d="M999.5 675.3L1008.9 668.0 998.1 670.4 988.6 677.7Z" fill="#4b5da0"/>
<path d="M1028.8 661.0L1038.0 653.7 1026.9 657.8 1017.7 665.1Z" fill="#5572b5"/>
<path d="M1018.6 665.4L1027.9 658.1 1017.0 661.3 1007.6 668.7Z" fill="#5169ac"/>
<path d="M1008.5 669.0L1017.8 661.6 1007.0 664.0 997.6 671.4Z" fill="#4d61a4"/>
<path d="M1037.8 654.6L1047.0 647.2 1035.9 651.3 1026.7 658.7Z" fill="#5776b9"/>
<path d="M1027.5 659.0L1036.8 651.6 1025.9 654.8 1016.6 662.3Z" fill="#536db0"/>
<path d="M1017.4 662.6L1026.8 655.1 1015.9 657.5 1006.6 665.0Z" fill="#4f65a8"/>
<path d="M1019.5 666.7L1046.4 647.5 1016.1 658.2 989.3 677.4Z" fill="none" stroke="#111" stroke-width="1.2" stroke-linejoin="round"/>
<path d="M394.8 385.1L405.5 381.5 395.6 353.5 384.9 357.1Z" fill="#75b53e"/>
<path d="M385.4 358.4L396.0 354.8 386.1 326.0 375.5 329.5Z" fill="#8fbe3e"/>
<path d="M375.9 330.8L386.6 327.2 376.6 297.6 366.0 301.1Z" fill="#a1c541"/>
<path d="M405.0 381.6L415.6 377.9 405.7 350.0 395.1 353.7Z" fill="#76b63e"/>
<path d="M395.6 354.9L406.2 351.3 396.3 322.5 385.7 326.2Z" fill="#90be3e"/>
<path d="M386.1 327.4L396.7 323.8 386.8 294.2 376.2 297.8Z" fill="#a1c542"/>
<path d="M415.1 378.1L425.7 374.3 415.8 346.4 405.3 350.2Z" fill="#77b63e"/>
<path d="M405.7 351.4L416.2 347.6 406.4 319.0 395.8 322.7Z" fill="#90be3e"/>
<path d="M396.3 323.9L406.8 320.2 396.9 290.7 386.4 294.3Z" fill="#a2c542"/>
<path d="M394.9 384.4L425.2 373.7 396.9 291.4 366.4 301.7Z" fill="none" stroke="#111" stroke-width="2.0" stroke-linejoin="round"/>
<path d="M1162.7 562.7L1171.5 555.8 1159.9 566.2 1151.0 573.1Z" fill="#70c0ba"/>
<path d="M1152.1 572.2L1160.9 565.2 1149.2 574.7 1140.4 581.7Z" fill="#6cc0bf"/>
<path d="M1141.6 581.0L1150.3 573.8 1138.5 582.2 1129.9 589.4Z" fill="#64bec8"/>
<path d="M1171.4 555.7L1180.3 548.7 1168.6 559.1 1159.8 566.1Z" fill="#72c0b9"/>
<path d="M1160.9 565.2L1169.6 558.1 1157.9 567.5 1149.2 574.7Z" fill="#6ec0be"/>
<path d="M1150.4 574.0L1159.0 566.7 1147.3 575.0 1138.6 582.3Z" fill="#67bfc5"/>
<path d="M1180.2 548.6L1189.0 541.5 1177.3 551.9 1168.5 559.0Z" fill="#73c0b7"/>
<path d="M1169.6 558.1L1178.3 550.9 1166.6 560.4 1157.9 567.6Z" fill="#6fc0bc"/>
<path d="M1159.1 566.9L1167.7 559.5 1156.0 567.8 1147.4 575.2Z" fill="#6bc0c1"/>
<path d="M1162.2 563.2L1188.5 542.0 1156.6 567.6 1130.4 588.9Z" fill="none" stroke="#111" stroke-width="1.1" stroke-linejoin="round"/>
<path d="M423.1 460.4L433.7 456.7 423.8 431.2 413.2 434.9Z" fill="#71b446"/>
<path d="M413.7 436.1L424.3 432.4 414.4 406.1 403.8 409.8Z" fill="#72b444"/>
<path d="M404.3 411.0L414.9 407.4 405.0 380.2 394.4 383.9Z" fill="#73b541"/>
<path d="M433.2 456.8L443.7 453.0 433.9 427.6 423.3 431.4Z" fill="#71b446"/>
<path d="M423.8 432.6L434.4 428.8 424.5 402.5 413.9 406.3Z" fill="#72b443"/>
<path d="M414.4 407.5L425.0 403.8 415.1 376.7 404.5 380.4Z" fill="#73b541"/>
<path d="M443.2 453.2L453.7 449.2 443.9 423.8 433.4 427.8Z" fill="#71b446"/>
<path d="M433.9 429.0L444.4 425.1 434.6 398.8 424.0 402.7Z" fill="#72b443"/>
<path d="M424.5 403.9L435.0 400.1 425.2 373.0 414.7 376.9Z" fill="#73b541"/>
<path d="M423.1 459.7L453.3 448.7 425.2 373.7 394.9 384.4Z" fill="none" stroke="#111" stroke-width="2.0" stroke-linejoin="round"/>
<path d="M763.6 751.6L773.8 745.8 763.6 739.8 753.4 745.6Z" fill="#424a8d"/>
<path d="M754.1 746.3L764.3 740.6 754.2 733.8 744.0 739.5Z" fill="#424a8d"/>
<path d="M744.7 740.3L754.9 734.6 744.8 727.0 734.6 732.7Z" fill="#424a8d"/>
<path d="M773.1 746.5L783.2 740.6 773.0 734.7 762.9 740.5Z" fill="#424a8d"/>
<path d="M763.6 741.2L773.7 735.4 763.6 728.6 753.5 734.5Z" fill="#424a8d"/>
<path d="M754.2 735.2L764.3 729.4 754.2 721.8 744.1 727.6Z" fill="#424a8d"/>
<path d="M782.5 741.3L792.6 735.4 782.4 729.4 772.3 735.4Z" fill="#424a8d"/>
<path d="M773.0 736.1L783.1 730.2 773.0 723.4 762.9 729.3Z" fill="#424a8d"/>
<path d="M763.6 730.0L773.7 724.2 763.6 716.6 753.5 722.5Z" fill="#434b8d"/>
<path d="M763.6 750.9L791.9 735.4 763.6 717.3 735.3 732.7Z" fill="none" stroke="#111" stroke-width="2.0" stroke-linejoin="round"/>
<path d="M820.5 747.2L830.6 741.0 820.3 737.5 810.2 743.6Z" fill="#424a8d"/>
<path d="M810.9 744.3L821.0 738.1 810.7 733.8 800.7 739.9Z" fill="#424a8d"/>
<path d="M801.4 740.6L811.4 734.5 801.2 729.3 791.2 735.4Z" fill="#424a8d"/>
<path d="M829.9 741.8L839.9 735.6 829.6 732.1 819.6 738.3Z" fill="#424a8d"/>
<path d="M820.3 738.9L830.3 732.7 820.0 728.4 810.0 734.6Z" fill="#424a8d"/>
<path d="M810.7 735.2L820.8 729.1 810.5 723.9 800.5 730.1Z" fill="#424a8d"/>
<path d="M839.2 736.4L849.2 730.1 838.9 726.6 828.9 732.9Z" fill="#424a8d"/>
<path d="M829.6 733.5L839.6 727.2 829.3 722.9 819.4 729.2Z" fill="#424a8d"/>
<path d="M820.1 729.8L830.0 723.5 819.8 718.4 809.8 724.7Z" fill="#424a8d"/>
<path d="M820.5 746.5L848.5 730.2 819.8 719.1 791.9 735.4Z" fill="none" stroke="#111" stroke-width="2.0" stroke-linejoin="round"/>
<path d="M451.1 528.5L461.7 524.6 451.9 501.5 441.3 505.4Z" fill="#79bd9c"/>
<path d="M441.8 506.6L452.4 502.7 442.5 478.9 431.9 482.7Z" fill="#78b97f"/>
<path d="M432.4 483.9L443.0 480.1 433.2 455.4 422.6 459.2Z" fill="#72b556"/>
<path d="M461.2 524.8L471.7 520.8 461.9 497.8 451.4 501.8Z" fill="#79bd9b"/>
<path d="M451.8 502.9L462.4 499.0 452.6 475.2 442.0 479.1Z" fill="#78b97e"/>
<path d="M442.5 480.3L453.1 476.4 443.3 451.8 432.7 455.6Z" fill="#72b554"/>
<path d="M471.2 521.0L481.7 516.9 471.9 494.0 461.4 498.0Z" fill="#79bc9a"/>
<path d="M461.9 499.2L472.4 495.2 462.6 471.4 452.1 475.4Z" fill="#78b97c"/>
<path d="M452.6 476.6L463.1 472.6 453.3 448.0 442.8 452.0Z" fill="#72b553"/>
<path d="M451.1 527.8L481.2 516.5 453.3 448.7 423.1 459.7Z" fill="none" stroke="#111" stroke-width="2.0" stroke-linejoin="round"/>
<path d="M706.7 748.1L717.0 742.7 706.9 734.3 696.6 739.7Z" fill="#424a8d"/>
<path d="M697.3 740.5L707.6 735.1 697.6 725.9 687.3 731.2Z" fill="#434b8d"/>
<path d="M688.0 732.1L698.2 726.7 688.2 716.7 678.0 722.0Z" fill="#434b8d"/>
<path d="M716.3 743.3L726.5 737.8 716.5 729.4 706.2 734.9Z" fill="#424a8d"/>
<path d="M706.9 735.7L717.1 730.2 707.1 721.0 696.9 726.4Z" fill="#434b8d"/>
<path d="M697.5 727.3L707.8 721.8 697.8 711.8 687.5 717.2Z" fill="#434b8d"/>
<path d="M725.8 738.4L736.0 732.8 725.9 724.4 715.7 730.0Z" fill="#424a8d"/>
<path d="M716.4 730.8L726.6 725.2 716.6 716.0 706.4 721.6Z" fill="#434b8d"/>
<path d="M707.1 722.4L717.3 716.9 707.3 706.9 697.1 712.4Z" fill="#434b8d"/>
<path d="M706.7 747.4L735.3 732.7 707.3 707.6 678.7 722.2Z" fill="none" stroke="#111" stroke-width="2.0" stroke-linejoin="round"/>
<path d="M877.6 734.8L887.4 728.3 877.0 727.3 867.1 733.7Z" fill="#434b8d"/>
<path d="M867.8 734.3L877.7 727.8 867.3 726.0 857.4 732.4Z" fill="#434b8d"/>
<path d="M858.1 732.9L868.0 726.5 857.7 723.9 847.8 730.3Z" fill="#434b8d"/>
<path d="M886.8 729.1L896.7 722.6 886.2 721.6 876.4 728.1Z" fill="#434b8d"/>
<path d="M877.1 728.6L886.9 722.1 876.5 720.3 866.7 726.8Z" fill="#434b8d"/>
<path d="M867.4 727.3L877.3 720.8 866.9 718.2 857.0 724.7Z" fill="#434b8d"/>
<path d="M896.1 723.5L905.9 716.8 895.4 715.8 885.6 722.5Z" fill="#434b8d"/>
<path d="M886.3 723.0L896.1 716.3 885.7 714.5 875.9 721.1Z" fill="#434b8d"/>
<path d="M876.6 721.7L886.4 715.1 876.1 712.4 866.2 719.0Z" fill="#434b8d"/>
<path d="M877.5 734.1L905.2 717.0 876.1 713.1 848.5 730.2Z" fill="none" stroke="#111" stroke-width="1.8" stroke-linejoin="round"/>
<path d="M564.6 677.8L575.0 673.2 565.2 657.5 554.7 662.0Z" fill="#526cae"/>
<path d="M555.3 663.1L565.8 658.6 555.9 642.0 545.4 646.5Z" fill="#577dbd"/>
<path d="M546.0 647.6L556.5 643.1 546.7 625.8 536.2 630.2Z" fill="#5296cd"/>
<path d="M574.4 673.6L584.8 669.0 575.0 653.3 564.6 657.9Z" fill="#536db0"/>
<path d="M565.1 658.9L575.6 654.3 565.8 637.8 555.3 642.4Z" fill="#577ebe"/>
<path d="M555.9 643.4L566.3 638.9 556.5 621.6 546.1 626.1Z" fill="#5298cf"/>
<path d="M584.2 669.3L594.6 664.6 584.8 648.9 574.4 653.6Z" fill="#536eb1"/>
<path d="M575.0 654.7L585.4 650.0 575.5 633.5 565.1 638.2Z" fill="#5680bf"/>
<path d="M565.7 639.2L576.1 634.6 566.3 617.3 555.9 621.9Z" fill="#519ad0"/>
<path d="M564.6 677.1L594.0 664.3 566.3 618.0 536.8 630.6Z" fill="none" stroke="#111" stroke-width="2.0" stroke-linejoin="round"/>
<path d="M1078.0 629.2L1086.8 622.5 1075.1 629.9 1066.3 636.7Z" fill="#4db2e0"/>
<path d="M1067.6 636.5L1076.4 629.4 1064.9 635.5 1056.0 642.7Z" fill="#519fd3"/>
<path d="M1057.1 642.8L1066.1 635.4 1054.8 640.5 1045.8 647.9Z" fill="#548dc7"/>
<path d="M1086.9 622.7L1095.7 615.8 1084.0 623.2 1075.3 630.1Z" fill="#4db6e1"/>
<path d="M1076.5 630.0L1085.3 622.7 1073.8 628.9 1064.9 636.2Z" fill="#4fa6d7"/>
<path d="M1066.0 636.3L1075.0 628.8 1063.7 633.8 1054.7 641.3Z" fill="#5393cc"/>
<path d="M1095.8 616.2L1104.6 609.1 1092.9 616.5 1084.1 623.5Z" fill="#50b7de"/>
<path d="M1085.4 623.4L1094.2 616.0 1082.6 622.1 1073.8 629.5Z" fill="#4eaddc"/>
<path d="M1074.9 629.7L1083.9 622.1 1072.5 627.1 1063.6 634.7Z" fill="#519bd0"/>
<path d="M1077.3 629.4L1104.0 609.5 1073.0 627.6 1046.4 647.5Z" fill="none" stroke="#111" stroke-width="1.1" stroke-linejoin="round"/>
<path d="M649.7 736.7L660.1 731.7 650.1 720.8 639.7 725.8Z" fill="#434b8d"/>
<path d="M640.3 726.7L650.7 721.7 640.8 710.0 630.4 715.0Z" fill="#434b8e"/>
<path d="M631.0 715.9L641.4 710.9 631.5 698.4 621.1 703.4Z" fill="#434c8f"/>
<path d="M659.4 732.2L669.7 727.0 659.7 716.2 649.4 721.3Z" fill="#434b8d"/>
<path d="M650.0 722.2L660.4 717.1 650.4 705.4 640.1 710.5Z" fill="#434b8e"/>
<path d="M640.7 711.4L651.1 706.3 641.2 693.9 630.8 698.9Z" fill="#434c8f"/>
<path d="M669.0 727.6L679.3 722.3 669.4 711.5 659.0 716.7Z" fill="#434b8d"/>
<path d="M659.7 717.6L670.0 712.4 660.1 700.7 649.8 705.9Z" fill="#434b8e"/>
<path d="M650.4 706.8L660.7 701.7 650.8 689.2 640.5 694.3Z" fill="#444d90"/>
<path d="M649.7 736.0L678.7 722.2 650.8 689.9 621.8 703.6Z" fill="none" stroke="#111" stroke-width="2.0" stroke-linejoin="round"/>
<path d="M479.0 589.3L489.6 585.3 479.8 564.7 469.2 568.7Z" fill="#6cc0c0"/>
<path d="M469.7 569.8L480.3 565.8 470.5 544.4 459.9 548.4Z" fill="#72c0b9"/>
<path d="M460.4 549.5L471.0 545.6 461.2 523.4 450.6 527.3Z" fill="#77c0b1"/>
<path d="M489.1 585.6L499.6 581.4 489.8 560.9 479.2 564.9Z" fill="#6cc0bf"/>
<path d="M479.8 566.1L490.3 562.0 480.5 540.6 470.0 544.7Z" fill="#72c0b8"/>
<path d="M470.5 545.8L481.0 541.8 471.2 519.6 460.7 523.6Z" fill="#77c0b1"/>
<path d="M499.0 581.7L509.6 577.5 499.8 556.9 489.2 561.1Z" fill="#6dc0bf"/>
<path d="M489.8 562.3L500.3 558.1 490.5 536.7 480.0 540.9Z" fill="#72c0b8"/>
<path d="M480.5 542.0L491.0 537.9 481.2 515.8 470.7 519.9Z" fill="#78c0b1"/>
<path d="M479.1 588.6L509.0 577.1 481.2 516.5 451.1 527.8Z" fill="none" stroke="#111" stroke-width="2.0" stroke-linejoin="round"/>
<path d="M934.9 714.4L944.6 707.6 933.9 709.1 924.2 715.9Z" fill="#444d90"/>
<path d="M924.9 716.3L934.6 709.5 924.0 710.2 914.3 716.9Z" fill="#434b8e"/>
<path d="M915.1 717.4L924.8 710.6 914.3 710.5 904.5 717.2Z" fill="#434b8e"/>
<path d="M944.0 708.5L953.7 701.6 943.0 703.1 933.3 710.0Z" fill="#444e91"/>
<path d="M934.1 710.4L943.8 703.6 933.2 704.2 923.5 711.1Z" fill="#434c8f"/>
<path d="M924.2 711.5L933.9 704.7 923.4 704.5 913.7 711.4Z" fill="#434b8e"/>
<path d="M953.2 702.6L962.8 695.6 952.1 697.1 942.5 704.1Z" fill="#454f93"/>
<path d="M943.2 704.5L952.9 697.6 942.3 698.2 932.6 705.2Z" fill="#444d90"/>
<path d="M933.4 705.6L943.0 698.7 932.5 698.5 922.8 705.5Z" fill="#434b8e"/>
<path d="M934.7 713.7L962.1 695.9 932.6 699.2 905.2 717.0Z" fill="none" stroke="#111" stroke-width="1.5" stroke-linejoin="round"/>
<path d="M1221.5 507.8L1230.4 500.7 1218.6 513.9 1209.7 521.0Z" fill="#7aba8a"/>
<path d="M1210.5 519.9L1219.4 512.8 1207.7 525.1 1198.8 532.2Z" fill="#79bd9d"/>
<path d="M1199.7 531.1L1208.5 524.0 1196.8 535.3 1188.0 542.4Z" fill="#78c0af"/>
<path d="M1230.2 500.6L1239.1 493.4 1227.3 506.6 1218.4 513.8Z" fill="#78b982"/>
<path d="M1219.3 512.7L1228.1 505.5 1216.3 517.7 1207.5 524.9Z" fill="#79bc98"/>
<path d="M1208.4 523.9L1217.2 516.7 1205.5 528.0 1196.7 535.2Z" fill="#78bfa9"/>
<path d="M1239.0 493.3L1247.8 486.1 1236.0 499.2 1227.1 506.5Z" fill="#77b879"/>
<path d="M1228.0 505.4L1236.8 498.1 1225.0 510.3 1216.2 517.6Z" fill="#7abb93"/>
<path d="M1217.1 516.6L1225.9 509.3 1214.1 520.6 1205.4 527.9Z" fill="#79bea4"/>
<path d="M1221.2 508.4L1247.3 486.6 1214.5 520.0 1188.5 542.0Z" fill="none" stroke="#111" stroke-width="1.1" stroke-linejoin="round"/>
<path d="M592.4 717.3L602.9 712.6 593.0 699.3 582.5 703.9Z" fill="#444e92"/>
<path d="M583.1 704.9L593.6 700.3 583.7 686.1 573.2 690.7Z" fill="#465397"/>
<path d="M573.8 691.7L584.3 687.1 574.4 672.2 564.0 676.8Z" fill="#4c5ea1"/>
<path d="M602.2 713.0L612.7 708.3 602.8 695.0 592.3 699.7Z" fill="#454f92"/>
<path d="M592.9 700.7L603.4 696.0 593.5 681.8 583.1 686.5Z" fill="#475397"/>
<path d="M583.7 687.5L594.1 682.9 584.2 667.9 573.8 672.6Z" fill="#4c5fa2"/>
<path d="M612.0 708.7L622.4 703.9 612.5 690.6 602.1 695.4Z" fill="#454f93"/>
<path d="M602.7 696.4L613.1 691.6 603.3 677.5 592.8 682.3Z" fill="#475498"/>
<path d="M593.5 683.2L603.9 678.5 594.0 663.6 583.6 668.3Z" fill="#4d60a3"/>
<path d="M592.4 716.6L621.8 703.6 594.0 664.3 564.6 677.1Z" fill="none" stroke="#111" stroke-width="2.0" stroke-linejoin="round"/>
<path d="M506.9 643.1L517.5 638.9 507.7 620.7 497.1 624.8Z" fill="#4eaddc"/>
<path d="M497.6 625.9L508.2 621.8 498.4 602.8 487.8 606.9Z" fill="#54b8da"/>
<path d="M488.3 608.0L498.9 604.0 489.1 584.2 478.5 588.2Z" fill="#60bccd"/>
<path d="M516.9 639.2L527.5 635.0 517.6 616.8 507.1 621.0Z" fill="#4daedd"/>
<path d="M507.6 622.1L518.2 617.9 508.4 598.9 497.8 603.1Z" fill="#54b9d9"/>
<path d="M498.3 604.2L508.9 600.1 499.1 580.3 488.5 584.4Z" fill="#60bccc"/>
<path d="M526.9 635.3L537.4 631.0 527.6 612.8 517.0 617.1Z" fill="#4db0de"/>
<path d="M517.6 618.2L528.1 613.9 518.3 595.0 507.8 599.2Z" fill="#55b9d9"/>
<path d="M508.3 600.3L518.8 596.1 509.0 576.4 498.5 580.6Z" fill="#61bdcc"/>
<path d="M506.9 642.4L536.8 630.6 509.0 577.1 479.1 588.6Z" fill="none" stroke="#111" stroke-width="2.0" stroke-linejoin="round"/>
<path d="M992.7 685.8L1002.0 678.8 990.9 682.9 981.6 689.9Z" fill="#4e64a7"/>
<path d="M982.4 690.2L991.9 683.2 981.0 686.4 971.5 693.5Z" fill="#4a5a9e"/>
<path d="M972.3 693.8L981.8 686.8 971.0 689.1 961.5 696.2Z" fill="#475397"/>
<path d="M1001.8 679.7L1011.1 672.6 1000.0 676.7 990.7 683.8Z" fill="#5067aa"/>
<path d="M991.5 684.2L1000.9 677.0 990.0 680.2 980.6 687.4Z" fill="#4c5ea1"/>
<path d="M981.4 687.7L990.9 680.6 980.1 683.0 970.6 690.1Z" fill="#485599"/>
<path d="M1010.8 673.6L1020.1 666.4 1009.0 670.5 999.7 677.7Z" fill="#526bad"/>
<path d="M1000.6 678.0L1010.0 670.8 999.0 674.0 989.6 681.2Z" fill="#4d61a5"/>
<path d="M990.4 681.6L999.9 674.4 989.1 676.7 979.6 683.9Z" fill="#49599d"/>
<path d="M992.3 685.2L1019.5 666.7 989.3 677.4 962.1 695.9Z" fill="none" stroke="#111" stroke-width="1.2" stroke-linejoin="round"/>
<path d="M1136.1 583.2L1145.1 576.5 1133.5 587.0 1124.5 593.7Z" fill="#6dc0bf"/>
<path d="M1125.5 592.7L1134.4 586.0 1122.8 595.5 1113.9 602.2Z" fill="#64bec8"/>
<path d="M1115.1 601.4L1123.9 594.6 1112.2 603.1 1103.4 609.9Z" fill="#5bbbd2"/>
<path d="M1145.0 576.4L1153.9 569.7 1142.3 580.2 1133.4 586.9Z" fill="#6ec0bd"/>
<path d="M1134.4 585.9L1143.3 579.2 1131.6 588.7 1122.8 595.5Z" fill="#67bfc5"/>
<path d="M1123.9 594.7L1132.7 587.7 1121.0 596.2 1112.3 603.2Z" fill="#5ebccf"/>
<path d="M1153.8 569.6L1162.8 562.8 1151.1 573.2 1142.2 580.0Z" fill="#6fc0bc"/>
<path d="M1143.2 579.1L1152.1 572.2 1140.4 581.7 1131.6 588.6Z" fill="#6abfc2"/>
<path d="M1132.8 587.9L1141.5 580.8 1129.8 589.2 1121.1 596.3Z" fill="#61bdcc"/>
<path d="M1135.7 583.8L1162.2 563.2 1130.4 588.9 1104.0 609.5Z" fill="none" stroke="#111" stroke-width="1.1" stroke-linejoin="round"/>
<path d="M364.1 394.9L374.9 391.6 364.9 363.5 354.2 366.8Z" fill="#74b53e"/>
<path d="M354.6 368.1L365.4 364.8 355.4 335.9 344.6 339.1Z" fill="#8dbd3e"/>
<path d="M345.1 340.4L355.8 337.1 345.9 307.4 335.1 310.6Z" fill="#a0c441"/>
<path d="M374.4 391.8L385.1 388.3 375.2 360.3 364.5 363.7Z" fill="#74b53e"/>
<path d="M364.9 364.9L375.6 361.5 365.7 332.7 355.0 336.0Z" fill="#8ebe3e"/>
<path d="M355.4 337.3L366.1 333.9 356.2 304.2 345.4 307.5Z" fill="#a0c441"/>
<path d="M384.6 388.5L395.3 384.9 385.4 357.0 374.7 360.5Z" fill="#74b53e"/>
<path d="M375.2 361.7L385.8 358.2 375.9 329.4 365.2 332.8Z" fill="#8ebe3e"/>
<path d="M365.7 334.1L376.4 330.6 366.4 301.0 355.7 304.4Z" fill="#a0c541"/>
<path d="M364.1 394.2L394.9 384.4 366.4 301.7 335.5 311.1Z" fill="none" stroke="#111" stroke-width="2.0" stroke-linejoin="round"/>
<path d="M792.3 762.7L802.4 756.8 792.1 753.3 782.0 759.2Z" fill="#424a8d"/>
<path d="M782.7 759.8L792.8 753.9 782.6 749.6 772.4 755.4Z" fill="#424a8d"/>
<path d="M773.1 756.1L783.3 750.3 773.1 745.1 762.9 750.9Z" fill="#424a8d"/>
<path d="M801.7 757.6L811.8 751.6 801.5 748.1 791.4 754.1Z" fill="#424a8d"/>
<path d="M792.1 754.7L802.2 748.8 792.0 744.4 781.9 750.4Z" fill="#424a8d"/>
<path d="M782.6 751.0L792.7 745.1 782.5 739.9 772.4 745.8Z" fill="#424a8d"/>
<path d="M811.1 752.4L821.2 746.4 810.9 742.9 800.8 748.9Z" fill="#424a8d"/>
<path d="M801.6 749.5L811.6 743.5 801.4 739.2 791.3 745.2Z" fill="#424a8d"/>
<path d="M792.0 745.8L802.1 739.8 791.9 734.7 781.8 740.7Z" fill="#424a8d"/>
<path d="M792.2 762.0L820.5 746.5 791.9 735.4 763.6 750.9Z" fill="none" stroke="#111" stroke-width="2.0" stroke-linejoin="round"/>
<path d="M735.0 766.4L745.3 760.8 735.1 754.8 724.9 760.4Z" fill="#424a8c"/>
<path d="M725.5 761.1L735.8 755.6 725.7 748.8 715.4 754.2Z" fill="#424a8d"/>
<path d="M716.1 755.0L726.4 749.5 716.3 741.9 706.0 747.3Z" fill="#424a8d"/>
<path d="M744.6 761.5L754.8 755.9 744.7 749.9 734.4 755.5Z" fill="#424a8d"/>
<path d="M735.1 756.2L745.4 750.7 735.2 743.9 725.0 749.4Z" fill="#424a8d"/>
<path d="M725.7 750.2L735.9 744.6 725.8 737.0 715.6 742.5Z" fill="#424a8d"/>
<path d="M754.1 756.6L764.3 750.9 754.2 744.9 744.0 750.6Z" fill="#424a8d"/>
<path d="M744.7 751.3L754.8 745.7 744.7 738.9 734.5 744.5Z" fill="#424a8d"/>
<path d="M735.2 745.3L745.4 739.6 735.3 732.0 725.1 737.6Z" fill="#424a8d"/>
<path d="M735.0 765.7L763.6 750.9 735.3 732.7 706.7 747.4Z" fill="none" stroke="#111" stroke-width="2.0" stroke-linejoin="round"/>
<path d="M392.5 470.6L403.2 467.1 393.3 441.5 382.6 445.0Z" fill="#71b446"/>
<path d="M383.0 446.2L393.8 442.8 383.9 416.4 373.1 419.8Z" fill="#72b444"/>
<path d="M373.6 421.0L384.3 417.6 374.4 390.4 363.7 393.7Z" fill="#73b541"/>
<path d="M402.7 467.3L413.4 463.7 403.5 438.2 392.8 441.7Z" fill="#71b446"/>
<path d="M393.3 442.9L404.0 439.4 394.1 413.0 383.4 416.5Z" fill="#72b444"/>
<path d="M383.8 417.8L394.6 414.3 384.7 387.1 373.9 390.5Z" fill="#73b541"/>
<path d="M412.9 463.9L423.5 460.2 413.7 434.7 403.0 438.4Z" fill="#71b446"/>
<path d="M403.5 439.6L414.2 436.0 404.3 409.6 393.6 413.2Z" fill="#72b444"/>
<path d="M394.1 414.4L404.7 410.9 394.9 383.7 384.2 387.3Z" fill="#73b541"/>
<path d="M392.5 469.9L423.1 459.7 394.9 384.4 364.1 394.2Z" fill="none" stroke="#111" stroke-width="2.0" stroke-linejoin="round"/>
<path d="M849.6 751.1L859.6 744.8 849.1 743.8 839.1 750.0Z" fill="#434b8d"/>
<path d="M839.8 750.6L849.9 744.4 839.5 742.5 829.5 748.7Z" fill="#424a8d"/>
<path d="M830.2 749.3L840.2 743.1 829.8 740.4 819.8 746.6Z" fill="#424a8d"/>
<path d="M858.9 745.7L868.9 739.4 858.4 738.4 848.5 744.7Z" fill="#434b8d"/>
<path d="M849.2 745.2L859.2 738.9 848.8 737.1 838.8 743.4Z" fill="#424a8d"/>
<path d="M839.5 743.9L849.5 737.6 839.2 735.0 829.2 741.2Z" fill="#424a8d"/>
<path d="M868.3 740.3L878.2 733.9 867.7 732.9 857.8 739.3Z" fill="#434b8d"/>
<path d="M858.5 739.8L868.5 733.4 858.1 731.6 848.1 737.9Z" fill="#434b8d"/>
<path d="M848.8 738.5L858.8 732.1 848.4 729.5 838.5 735.8Z" fill="#434b8d"/>
<path d="M849.5 750.4L877.5 734.1 848.5 730.2 820.5 746.5Z" fill="none" stroke="#111" stroke-width="1.7" stroke-linejoin="round"/>
<path d="M677.8 762.1L688.1 756.9 678.1 748.4 667.7 753.6Z" fill="#424a8d"/>
<path d="M668.4 754.4L678.8 749.3 668.7 740.0 658.3 745.1Z" fill="#424a8d"/>
<path d="M659.0 745.9L669.4 740.9 659.4 730.8 649.0 735.8Z" fill="#434b8d"/>
<path d="M687.4 757.5L697.8 752.3 687.7 743.8 677.4 749.0Z" fill="#424a8d"/>
<path d="M678.1 749.8L688.4 744.6 678.4 735.4 668.0 740.6Z" fill="#424a8d"/>
<path d="M668.7 741.4L679.0 736.2 669.0 726.2 658.7 731.3Z" fill="#434b8d"/>
<path d="M697.1 752.9L707.4 747.5 697.3 739.1 687.0 744.4Z" fill="#424a8d"/>
<path d="M687.7 745.2L698.0 739.9 688.0 730.7 677.7 735.9Z" fill="#424a8d"/>
<path d="M678.4 736.8L688.7 731.5 678.7 721.5 668.4 726.7Z" fill="#434b8d"/>
<path d="M677.8 761.4L706.7 747.4 678.7 722.2 649.7 736.0Z" fill="none" stroke="#111" stroke-width="2.0" stroke-linejoin="round"/>
<path d="M420.6 539.0L431.4 535.3 421.5 512.2 410.8 515.8Z" fill="#79bd9e"/>
<path d="M411.3 517.0L422.0 513.4 412.1 489.5 401.4 493.0Z" fill="#79b982"/>
<path d="M401.9 494.2L412.6 490.7 402.7 465.9 392.0 469.4Z" fill="#73b659"/>
<path d="M430.8 535.6L441.5 531.8 431.7 508.7 421.0 512.4Z" fill="#79bd9e"/>
<path d="M421.5 513.6L432.2 509.9 422.3 486.0 411.6 489.7Z" fill="#78b981"/>
<path d="M412.1 490.9L422.8 487.2 412.9 462.5 402.2 466.1Z" fill="#72b558"/>
<path d="M441.0 532.1L451.6 528.2 441.8 505.2 431.2 509.0Z" fill="#79bd9d"/>
<path d="M431.6 510.1L442.3 506.4 432.5 482.5 421.8 486.2Z" fill="#78b980"/>
<path d="M422.3 487.4L432.9 483.7 423.1 459.0 412.4 462.7Z" fill="#72b557"/>
<path d="M420.7 538.3L451.1 527.8 423.1 459.7 392.5 469.9Z" fill="none" stroke="#111" stroke-width="2.0" stroke-linejoin="round"/>
<path d="M534.8 689.8L545.4 685.5 535.5 669.7 524.9 673.9Z" fill="#5169ac"/>
<path d="M525.5 675.0L536.1 670.8 526.2 654.2 515.6 658.4Z" fill="#5878ba"/>
<path d="M516.2 659.4L526.8 655.2 516.9 637.8 506.3 642.0Z" fill="#5392cb"/>
<path d="M544.7 685.9L555.3 681.5 545.4 665.7 534.9 670.1Z" fill="#516aad"/>
<path d="M535.5 671.1L546.0 666.8 536.2 650.2 525.6 654.5Z" fill="#587abb"/>
<path d="M526.2 655.6L536.7 651.3 526.9 633.9 516.3 638.2Z" fill="#5393cb"/>
<path d="M554.7 681.9L565.2 677.4 555.3 661.7 544.8 666.1Z" fill="#526bae"/>
<path d="M545.4 667.1L555.9 662.7 546.1 646.2 535.5 650.5Z" fill="#577bbc"/>
<path d="M536.1 651.6L546.6 647.2 536.8 629.9 526.3 634.2Z" fill="#5295cc"/>
<path d="M534.8 689.1L564.6 677.1 536.8 630.6 506.9 642.4Z" fill="none" stroke="#111" stroke-width="2.0" stroke-linejoin="round"/>
<path d="M1051.0 648.3L1059.9 641.8 1048.3 649.4 1039.4 655.8Z" fill="#509fd3"/>
<path d="M1040.7 655.6L1049.6 648.8 1038.0 655.1 1029.1 661.9Z" fill="#548cc7"/>
<path d="M1030.2 662.0L1039.3 654.8 1028.0 659.9 1018.9 667.1Z" fill="#5879bb"/>
<path d="M1060.0 642.0L1068.9 635.5 1057.3 643.0 1048.4 649.5Z" fill="#4fa5d7"/>
<path d="M1049.7 649.3L1058.5 642.4 1047.0 648.6 1038.1 655.6Z" fill="#5392cb"/>
<path d="M1039.2 655.7L1048.3 648.4 1036.9 653.5 1027.9 660.8Z" fill="#5780bf"/>
<path d="M1069.0 635.7L1077.9 629.0 1066.2 636.5 1057.4 643.2Z" fill="#4eacdb"/>
<path d="M1058.6 643.0L1067.5 635.9 1055.9 642.1 1047.1 649.2Z" fill="#5298cf"/>
<path d="M1048.2 649.3L1057.2 642.0 1045.9 647.0 1036.8 654.4Z" fill="#5586c3"/>
<path d="M1050.3 648.5L1077.3 629.4 1046.4 647.5 1019.5 666.7Z" fill="none" stroke="#111" stroke-width="1.1" stroke-linejoin="round"/>
<path d="M907.2 731.4L917.0 724.9 906.3 726.3 896.5 732.9Z" fill="#434b8e"/>
<path d="M897.2 733.3L907.1 726.8 896.5 727.5 886.6 734.0Z" fill="#434b8e"/>
<path d="M887.4 734.4L897.2 727.9 886.7 727.8 876.8 734.3Z" fill="#434b8d"/>
<path d="M916.4 725.8L926.2 719.2 915.5 720.7 905.7 727.3Z" fill="#434b8e"/>
<path d="M906.5 727.7L916.3 721.1 905.7 721.8 895.9 728.4Z" fill="#434b8e"/>
<path d="M896.6 728.8L906.5 722.3 895.9 722.1 886.1 728.7Z" fill="#434b8e"/>
<path d="M925.7 720.1L935.4 713.4 924.7 714.9 915.0 721.6Z" fill="#434c8f"/>
<path d="M915.7 722.0L925.5 715.4 914.9 716.0 905.1 722.7Z" fill="#434b8e"/>
<path d="M905.9 723.2L915.6 716.5 905.1 716.3 895.3 723.0Z" fill="#434b8e"/>
<path d="M907.0 730.7L934.7 713.7 905.2 717.0 877.5 734.1Z" fill="none" stroke="#111" stroke-width="1.4" stroke-linejoin="round"/>
<path d="M620.3 749.8L630.8 745.0 620.9 734.1 610.4 738.8Z" fill="#434b8d"/>
<path d="M611.0 739.7L621.5 735.0 611.6 723.2 601.1 728.0Z" fill="#434b8e"/>
<path d="M601.7 728.9L612.2 724.2 602.3 711.6 591.8 716.3Z" fill="#434b8e"/>
<path d="M630.2 745.5L640.6 740.6 630.6 729.7 620.2 734.6Z" fill="#434b8d"/>
<path d="M620.8 735.5L631.3 730.6 621.3 718.9 610.9 723.7Z" fill="#434b8e"/>
<path d="M611.5 724.6L622.0 719.9 612.1 707.3 601.6 712.1Z" fill="#434b8e"/>
<path d="M639.9 741.1L650.4 736.2 640.4 725.3 630.0 730.2Z" fill="#434b8d"/>
<path d="M630.6 731.1L641.0 726.2 631.1 714.5 620.7 719.4Z" fill="#434b8e"/>
<path d="M621.3 720.3L631.7 715.4 621.8 702.9 611.4 707.8Z" fill="#434b8e"/>
<path d="M620.4 749.1L649.7 736.0 621.8 703.6 592.4 716.6Z" fill="none" stroke="#111" stroke-width="2.0" stroke-linejoin="round"/>
<path d="M448.7 600.1L459.4 596.3 449.6 575.6 438.8 579.4Z" fill="#6bc0c1"/>
<path d="M439.4 580.5L450.1 576.8 440.2 555.3 429.5 559.0Z" fill="#71c0b9"/>
<path d="M430.0 560.1L440.7 556.5 430.9 534.2 420.1 537.8Z" fill="#77c0b2"/>
<path d="M458.8 596.6L469.5 592.7 459.7 572.1 449.0 575.9Z" fill="#6cc0c0"/>
<path d="M449.5 577.0L460.2 573.2 450.4 551.8 439.7 555.5Z" fill="#71c0b9"/>
<path d="M440.2 556.7L450.9 552.9 441.0 530.7 430.3 534.4Z" fill="#77c0b2"/>
<path d="M469.0 593.0L479.6 589.1 469.8 568.4 459.1 572.3Z" fill="#6cc0c0"/>
<path d="M459.6 573.5L470.3 569.6 460.5 548.1 449.8 552.0Z" fill="#71c0b9"/>
<path d="M450.3 553.2L461.0 549.3 451.1 527.1 440.5 530.9Z" fill="#77c0b1"/>
<path d="M448.7 599.4L479.1 588.6 451.1 527.8 420.7 538.3Z" fill="none" stroke="#111" stroke-width="2.0" stroke-linejoin="round"/>
<path d="M1195.1 529.0L1204.2 522.1 1192.4 535.4 1183.4 542.2Z" fill="#79bc9a"/>
<path d="M1184.2 541.1L1193.2 534.2 1181.5 546.5 1172.5 553.4Z" fill="#78bfad"/>
<path d="M1173.4 552.3L1182.3 545.5 1170.6 556.8 1161.7 563.7Z" fill="#74c0b5"/>
<path d="M1203.9 522.0L1213.0 515.1 1201.2 528.3 1192.2 535.2Z" fill="#79bc95"/>
<path d="M1193.0 534.1L1202.0 527.2 1190.2 539.5 1181.3 546.4Z" fill="#78bfa8"/>
<path d="M1182.2 545.3L1191.1 538.4 1179.4 549.7 1170.5 556.7Z" fill="#76c0b3"/>
<path d="M1212.7 514.9L1221.7 508.0 1209.9 521.1 1201.0 528.1Z" fill="#7abb90"/>
<path d="M1201.8 527.0L1210.7 520.0 1199.0 532.3 1190.0 539.3Z" fill="#79bea3"/>
<path d="M1190.9 538.3L1199.8 531.2 1188.1 542.6 1179.2 549.6Z" fill="#77c0b1"/>
<path d="M1194.9 529.6L1221.2 508.4 1188.5 542.0 1162.2 563.2Z" fill="none" stroke="#111" stroke-width="1.1" stroke-linejoin="round"/>
<path d="M965.2 703.5L974.6 696.8 963.5 700.9 954.1 707.7Z" fill="#4a5a9d"/>
<path d="M955.0 708.0L964.5 701.2 953.6 704.4 944.1 711.2Z" fill="#465396"/>
<path d="M944.9 711.6L954.5 704.8 943.7 707.1 934.1 714.0Z" fill="#454f93"/>
<path d="M974.4 697.7L983.8 690.9 972.7 695.0 963.3 701.8Z" fill="#4b5da0"/>
<path d="M964.2 702.2L973.7 695.3 962.8 698.5 953.3 705.4Z" fill="#475498"/>
<path d="M954.1 705.8L963.7 698.9 952.9 701.2 943.3 708.1Z" fill="#465194"/>
<path d="M983.5 691.8L992.9 684.9 981.8 689.0 972.5 695.9Z" fill="#4d60a3"/>
<path d="M973.3 696.2L982.8 689.3 971.9 692.5 962.4 699.5Z" fill="#48579b"/>
<path d="M963.2 699.8L972.8 692.9 962.0 695.2 952.4 702.2Z" fill="#465296"/>
<path d="M964.8 702.9L992.3 685.2 962.1 695.9 934.7 713.7Z" fill="none" stroke="#111" stroke-width="1.1" stroke-linejoin="round"/>
<path d="M562.7 729.4L573.3 725.1 563.4 711.6 552.7 716.0Z" fill="#444d91"/>
<path d="M553.4 717.0L564.0 712.7 554.1 698.4 543.5 702.8Z" fill="#465296"/>
<path d="M544.1 703.8L554.7 699.5 544.8 684.5 534.2 688.7Z" fill="#4a5b9f"/>
<path d="M572.6 725.5L583.2 721.0 573.3 707.6 562.7 712.1Z" fill="#444e91"/>
<path d="M563.3 713.0L573.9 708.6 564.0 694.4 553.4 698.8Z" fill="#465296"/>
<path d="M554.0 699.8L564.6 695.4 554.7 680.5 544.1 684.8Z" fill="#4b5c9f"/>
<path d="M582.5 721.4L593.1 716.8 583.2 703.5 572.6 708.0Z" fill="#444e91"/>
<path d="M573.2 709.0L583.8 704.5 573.9 690.3 563.3 694.8Z" fill="#465296"/>
<path d="M563.9 695.8L574.5 691.3 564.6 676.4 554.1 680.8Z" fill="#4b5da0"/>
<path d="M562.7 728.7L592.4 716.6 564.6 677.1 534.8 689.1Z" fill="none" stroke="#111" stroke-width="2.0" stroke-linejoin="round"/>
<path d="M476.7 654.1L487.4 650.2 477.5 631.9 466.8 635.8Z" fill="#4eaadb"/>
<path d="M467.3 636.9L478.1 633.0 468.2 614.0 457.5 617.8Z" fill="#53b8db"/>
<path d="M458.0 618.9L468.7 615.1 458.9 595.2 448.2 599.0Z" fill="#5fbcce"/>
<path d="M486.8 650.5L497.5 646.5 487.6 628.3 476.9 632.2Z" fill="#4eabdb"/>
<path d="M477.5 633.3L488.2 629.4 478.3 610.3 467.6 614.2Z" fill="#53b8da"/>
<path d="M468.2 615.3L478.8 611.5 469.0 591.6 458.3 595.5Z" fill="#5fbcce"/>
<path d="M496.9 646.8L507.5 642.8 497.7 624.5 487.0 628.6Z" fill="#4eacdc"/>
<path d="M487.6 629.7L498.2 625.7 488.4 606.6 477.7 610.6Z" fill="#53b8da"/>
<path d="M478.3 611.7L488.9 607.8 479.1 587.9 468.4 591.9Z" fill="#5fbccd"/>
<path d="M476.7 653.4L506.9 642.4 479.1 588.6 448.7 599.4Z" fill="none" stroke="#111" stroke-width="2.0" stroke-linejoin="round"/>
<path d="M1109.3 602.9L1118.4 596.6 1106.9 607.1 1097.8 613.5Z" fill="#66bec7"/>
<path d="M1098.7 612.5L1107.8 606.1 1096.3 615.7 1087.2 622.1Z" fill="#5cbbd1"/>
<path d="M1088.3 621.2L1097.2 614.7 1085.7 623.3 1076.7 629.8Z" fill="#53b8db"/>
<path d="M1118.2 596.4L1127.4 590.0 1115.8 600.5 1106.7 607.0Z" fill="#68bfc4"/>
<path d="M1107.7 606.0L1116.7 599.5 1105.1 609.0 1096.1 615.5Z" fill="#5fbcce"/>
<path d="M1097.3 614.7L1106.2 608.1 1094.5 616.6 1085.7 623.3Z" fill="#56b9d8"/>
<path d="M1127.2 589.8L1136.2 583.3 1124.7 593.8 1115.6 600.3Z" fill="#6bc0c1"/>
<path d="M1116.6 599.4L1125.6 592.8 1114.0 602.3 1105.0 608.9Z" fill="#61bdcb"/>
<path d="M1106.2 608.1L1115.0 601.4 1103.4 609.9 1094.6 616.6Z" fill="#58bad5"/>
<path d="M1108.9 603.5L1135.7 583.8 1104.0 609.5 1077.3 629.4Z" fill="none" stroke="#111" stroke-width="1.1" stroke-linejoin="round"/>
<path d="M763.6 777.5L773.9 771.9 763.6 768.3 753.4 774.0Z" fill="#424a8c"/>
<path d="M754.1 774.6L764.3 769.0 754.1 764.6 743.8 770.2Z" fill="#424a8c"/>
<path d="M744.5 770.9L754.8 765.3 744.6 760.1 734.3 765.7Z" fill="#424a8c"/>
<path d="M773.2 772.7L783.4 767.0 773.2 763.4 762.9 769.1Z" fill="#424a8c"/>
<path d="M763.6 769.7L773.9 764.1 763.6 759.7 753.4 765.4Z" fill="#424a8c"/>
<path d="M754.1 766.0L764.3 760.4 754.1 755.2 743.9 760.8Z" fill="#424a8c"/>
<path d="M782.8 767.7L792.9 761.9 782.7 758.4 772.5 764.2Z" fill="#424a8c"/>
<path d="M773.2 764.8L783.4 759.1 773.1 754.7 762.9 760.5Z" fill="#424a8c"/>
<path d="M763.6 761.1L773.8 755.4 763.6 750.2 753.4 755.9Z" fill="#424a8d"/>
<path d="M763.6 776.8L792.2 762.0 763.6 750.9 735.0 765.7Z" fill="none" stroke="#111" stroke-width="1.9" stroke-linejoin="round"/>
<path d="M706.1 780.4L716.5 775.1 706.3 769.1 695.9 774.3Z" fill="#424a8c"/>
<path d="M696.6 775.1L707.0 769.8 696.9 763.0 686.5 768.2Z" fill="#424a8c"/>
<path d="M687.2 769.0L697.6 763.8 687.5 756.1 677.1 761.3Z" fill="#424a8d"/>
<path d="M715.8 775.8L726.1 770.4 716.0 764.4 705.6 769.8Z" fill="#424a8c"/>
<path d="M706.3 770.5L716.6 765.2 706.5 758.3 696.2 763.6Z" fill="#424a8c"/>
<path d="M696.9 764.4L707.2 759.1 697.1 751.5 686.8 756.7Z" fill="#424a8d"/>
<path d="M725.4 771.1L735.7 765.7 725.6 759.7 715.2 765.1Z" fill="#424a8c"/>
<path d="M715.9 765.8L726.3 760.4 716.1 753.6 705.8 759.0Z" fill="#424a8c"/>
<path d="M706.5 759.7L716.8 754.4 706.7 746.7 696.4 752.1Z" fill="#424a8d"/>
<path d="M706.1 779.7L735.0 765.7 706.7 747.4 677.8 761.4Z" fill="none" stroke="#111" stroke-width="2.0" stroke-linejoin="round"/>
<path d="M332.9 404.0L343.8 400.9 333.9 372.7 323.0 375.7Z" fill="#74b53e"/>
<path d="M323.4 377.0L334.3 373.9 324.3 344.9 313.4 347.9Z" fill="#8cbd3e"/>
<path d="M313.8 349.1L324.7 346.2 314.7 316.3 303.8 319.2Z" fill="#9fc441"/>
<path d="M343.4 401.0L354.2 397.9 344.3 369.7 333.4 372.9Z" fill="#74b53e"/>
<path d="M333.8 374.1L344.7 371.0 334.7 342.0 323.8 345.1Z" fill="#8cbd3e"/>
<path d="M324.3 346.3L335.1 343.2 325.1 313.4 314.2 316.4Z" fill="#9fc441"/>
<path d="M353.8 398.0L364.6 394.8 354.6 366.7 343.8 369.9Z" fill="#74b53e"/>
<path d="M344.2 371.1L355.0 367.9 345.1 339.0 334.3 342.1Z" fill="#8dbd3e"/>
<path d="M334.7 343.4L345.5 340.2 335.5 310.4 324.7 313.6Z" fill="#9fc441"/>
<path d="M333.0 403.3L364.1 394.2 335.5 311.1 304.2 319.8Z" fill="none" stroke="#111" stroke-width="2.0" stroke-linejoin="round"/>
<path d="M361.5 480.0L372.3 476.8 362.4 451.1 351.5 454.2Z" fill="#71b447"/>
<path d="M352.0 455.5L362.9 452.3 352.9 425.8 342.0 428.9Z" fill="#72b444"/>
<path d="M342.5 430.1L353.4 427.0 343.4 399.6 332.5 402.7Z" fill="#73b541"/>
<path d="M371.8 476.9L382.7 473.6 372.8 448.0 361.9 451.3Z" fill="#71b447"/>
<path d="M362.4 452.5L373.2 449.2 363.3 422.7 352.4 425.9Z" fill="#72b444"/>
<path d="M352.9 427.2L363.7 424.0 353.8 396.6 342.9 399.8Z" fill="#73b541"/>
<path d="M382.2 473.8L393.0 470.4 383.1 444.8 372.3 448.2Z" fill="#71b446"/>
<path d="M372.7 449.4L383.5 446.0 373.6 419.6 362.8 422.9Z" fill="#72b444"/>
<path d="M363.3 424.1L374.0 420.8 364.1 393.5 353.3 396.8Z" fill="#73b541"/>
<path d="M361.5 479.3L392.5 469.9 364.1 394.2 333.0 403.3Z" fill="none" stroke="#111" stroke-width="2.0" stroke-linejoin="round"/>
<path d="M821.3 766.6L831.4 760.7 821.0 759.6 810.9 765.6Z" fill="#424a8d"/>
<path d="M811.6 766.1L821.7 760.2 811.3 758.3 801.2 764.3Z" fill="#424a8d"/>
<path d="M801.9 764.8L812.0 758.9 801.7 756.2 791.5 762.1Z" fill="#424a8d"/>
<path d="M830.7 761.5L840.8 755.5 830.4 754.4 820.3 760.5Z" fill="#424a8d"/>
<path d="M821.0 761.0L831.1 755.0 820.7 753.1 810.6 759.2Z" fill="#424a8d"/>
<path d="M811.3 759.7L821.4 753.7 811.1 751.0 801.0 757.0Z" fill="#424a8d"/>
<path d="M840.2 756.3L850.2 750.2 839.8 749.2 829.7 755.3Z" fill="#424a8d"/>
<path d="M830.5 755.8L840.5 749.7 830.1 747.9 820.1 754.0Z" fill="#424a8d"/>
<path d="M820.8 754.5L830.8 748.4 820.5 745.8 810.4 751.8Z" fill="#424a8d"/>
<path d="M821.2 765.9L849.5 750.4 820.5 746.5 792.2 762.0Z" fill="none" stroke="#111" stroke-width="1.7" stroke-linejoin="round"/>
<path d="M1023.7 666.6L1032.8 660.5 1021.3 668.2 1012.2 674.3Z" fill="#548ec8"/>
<path d="M1013.5 673.9L1022.4 667.5 1010.9 673.9 1001.9 680.3Z" fill="#587abb"/>
<path d="M1003.0 680.4L1012.2 673.5 1000.8 678.7 991.7 685.6Z" fill="#536eb1"/>
<path d="M1032.8 660.5L1041.9 654.4 1030.3 662.0 1021.3 668.2Z" fill="#5394cc"/>
<path d="M1022.6 667.9L1031.5 661.3 1020.0 667.7 1011.0 674.3Z" fill="#5680bf"/>
<path d="M1012.1 674.3L1021.3 667.4 1009.9 672.5 1000.8 679.5Z" fill="#5571b4"/>
<path d="M1041.9 654.4L1050.9 648.2 1039.3 655.8 1030.3 662.1Z" fill="#5299d0"/>
<path d="M1031.6 661.8L1040.6 655.1 1029.0 661.4 1020.1 668.1Z" fill="#5586c3"/>
<path d="M1021.2 668.2L1030.3 661.2 1018.9 666.3 1009.8 673.3Z" fill="#5775b7"/>
<path d="M1023.1 667.0L1050.3 648.5 1019.5 666.7 992.3 685.2Z" fill="none" stroke="#111" stroke-width="1.1" stroke-linejoin="round"/>
<path d="M648.5 775.2L659.0 770.4 648.9 761.8 638.4 766.7Z" fill="#424a8d"/>
<path d="M639.1 767.5L649.6 762.7 639.5 753.4 629.0 758.2Z" fill="#424a8d"/>
<path d="M629.7 759.0L640.2 754.2 630.2 744.1 619.7 748.9Z" fill="#424a8d"/>
<path d="M658.3 770.9L668.7 766.0 658.7 757.5 648.2 762.4Z" fill="#424a8d"/>
<path d="M648.9 763.2L659.3 758.3 649.3 749.0 638.8 753.9Z" fill="#424a8d"/>
<path d="M639.5 754.8L650.0 749.9 640.0 739.7 629.5 744.6Z" fill="#434b8d"/>
<path d="M668.0 766.5L678.5 761.5 668.4 753.0 658.0 758.0Z" fill="#424a8d"/>
<path d="M658.6 758.9L669.1 753.8 659.0 744.5 648.6 749.5Z" fill="#424a8d"/>
<path d="M649.3 750.4L659.7 745.4 649.7 735.3 639.3 740.3Z" fill="#434b8d"/>
<path d="M648.5 774.5L677.8 761.4 649.7 736.0 620.4 749.1Z" fill="none" stroke="#111" stroke-width="2.0" stroke-linejoin="round"/>
<path d="M389.8 548.6L400.6 545.3 390.8 522.1 379.9 525.4Z" fill="#79bd9f"/>
<path d="M380.4 526.6L391.2 523.3 381.3 499.2 370.5 502.5Z" fill="#79b983"/>
<path d="M370.9 503.7L381.8 500.4 371.9 475.5 361.0 478.8Z" fill="#73b65b"/>
<path d="M400.1 545.5L410.9 542.1 401.1 518.9 390.2 522.3Z" fill="#79bd9f"/>
<path d="M390.7 523.5L401.5 520.1 391.6 496.1 380.8 499.4Z" fill="#79b983"/>
<path d="M381.3 500.6L392.1 497.3 382.2 472.4 371.4 475.7Z" fill="#73b65a"/>
<path d="M410.4 542.3L421.2 538.7 411.3 515.6 400.5 519.1Z" fill="#79bd9f"/>
<path d="M401.0 520.3L411.8 516.8 401.9 492.8 391.1 496.3Z" fill="#79b983"/>
<path d="M391.6 497.5L402.4 494.0 392.5 469.2 381.7 472.6Z" fill="#73b65a"/>
<path d="M389.8 547.9L420.7 538.3 392.5 469.9 361.5 479.3Z" fill="none" stroke="#111" stroke-width="2.0" stroke-linejoin="round"/>
<path d="M504.6 701.0L515.3 697.0 505.4 681.1 494.7 685.1Z" fill="#5068ab"/>
<path d="M495.3 686.1L506.0 682.2 496.1 665.5 485.4 669.4Z" fill="#5777b9"/>
<path d="M486.0 670.5L496.7 666.6 486.8 649.1 476.1 653.0Z" fill="#538fc9"/>
<path d="M514.7 697.3L525.4 693.2 515.5 677.4 504.8 681.5Z" fill="#5068ab"/>
<path d="M505.4 682.5L516.1 678.5 506.2 661.8 495.5 665.8Z" fill="#5877b9"/>
<path d="M496.1 666.9L506.8 662.9 496.9 645.4 486.2 649.4Z" fill="#5390c9"/>
<path d="M524.7 693.6L535.4 689.4 525.5 673.6 514.9 677.7Z" fill="#5169ab"/>
<path d="M515.5 678.8L526.1 674.7 516.2 658.0 505.6 662.1Z" fill="#5878ba"/>
<path d="M506.2 663.2L516.8 659.1 507.0 641.7 496.3 645.8Z" fill="#5391ca"/>
<path d="M504.6 700.3L534.8 689.1 506.9 642.4 476.7 653.4Z" fill="none" stroke="#111" stroke-width="2.0" stroke-linejoin="round"/>
<path d="M879.1 747.7L889.0 741.4 878.4 742.9 868.5 749.2Z" fill="#434b8e"/>
<path d="M869.2 749.6L879.2 743.4 868.6 744.0 858.6 750.3Z" fill="#434b8d"/>
<path d="M859.4 750.8L869.3 744.5 858.8 744.3 848.9 750.6Z" fill="#434b8d"/>
<path d="M888.5 742.3L898.4 736.0 887.7 737.5 877.9 743.8Z" fill="#434b8e"/>
<path d="M878.6 744.3L888.5 737.9 877.9 738.6 868.0 744.9Z" fill="#434b8d"/>
<path d="M868.7 745.4L878.7 739.1 868.2 738.9 858.2 745.2Z" fill="#434b8d"/>
<path d="M897.8 736.9L907.7 730.5 897.0 731.9 887.2 738.4Z" fill="#434b8e"/>
<path d="M887.9 738.9L897.8 732.4 887.2 733.1 877.3 739.5Z" fill="#434b8e"/>
<path d="M878.1 740.0L888.0 733.5 877.4 733.4 867.6 739.8Z" fill="#434b8d"/>
<path d="M879.0 747.0L907.0 730.7 877.5 734.1 849.5 750.4Z" fill="none" stroke="#111" stroke-width="1.4" stroke-linejoin="round"/>
<path d="M590.6 762.1L601.3 757.6 591.3 746.6 580.7 751.1Z" fill="#434b8d"/>
<path d="M581.3 752.0L591.9 747.5 582.0 735.7 571.3 740.2Z" fill="#434b8d"/>
<path d="M572.0 741.1L582.6 736.7 572.7 724.1 562.0 728.5Z" fill="#434b8e"/>
<path d="M600.6 758.1L611.2 753.5 601.2 742.5 590.6 747.1Z" fill="#434b8d"/>
<path d="M591.2 748.0L601.8 743.4 591.9 731.6 581.3 736.2Z" fill="#434b8e"/>
<path d="M581.9 737.1L592.5 732.6 582.6 720.0 572.0 724.5Z" fill="#434b8e"/>
<path d="M610.5 754.0L621.0 749.3 611.1 738.3 600.5 743.0Z" fill="#434b8d"/>
<path d="M601.1 743.9L611.7 739.2 601.7 727.5 591.2 732.1Z" fill="#434b8e"/>
<path d="M591.8 733.0L602.4 728.4 592.4 715.9 581.9 720.5Z" fill="#434b8e"/>
<path d="M590.7 761.4L620.4 749.1 592.4 716.6 562.7 728.7Z" fill="none" stroke="#111" stroke-width="2.0" stroke-linejoin="round"/>
<path d="M1255.1 466.1L1264.1 459.0 1252.1 475.0 1243.1 482.1Z" fill="#71b446"/>
<path d="M1243.8 480.9L1252.8 473.9 1240.8 488.9 1231.8 496.0Z" fill="#70b449"/>
<path d="M1232.6 494.8L1241.5 487.8 1229.7 501.9 1220.7 508.9Z" fill="#75b76b"/>
<path d="M1263.9 458.9L1272.8 451.8 1260.8 467.8 1251.8 474.9Z" fill="#71b445"/>
<path d="M1252.5 473.7L1261.5 466.6 1249.5 481.6 1240.6 488.8Z" fill="#70b448"/>
<path d="M1241.3 487.6L1250.3 480.5 1238.4 494.6 1229.4 501.7Z" fill="#74b662"/>
<path d="M1272.6 451.6L1281.5 444.4 1269.5 460.4 1260.5 467.6Z" fill="#71b445"/>
<path d="M1261.3 466.4L1270.2 459.2 1258.2 474.3 1249.3 481.5Z" fill="#70b447"/>
<path d="M1250.1 480.3L1259.0 473.1 1247.0 487.2 1238.2 494.4Z" fill="#73b659"/>
<path d="M1254.9 466.7L1281.1 444.9 1247.3 486.6 1221.2 508.4Z" fill="none" stroke="#111" stroke-width="1.3" stroke-linejoin="round"/>
<path d="M417.9 610.0L428.8 606.6 418.9 585.8 408.1 589.2Z" fill="#6bc0c1"/>
<path d="M408.6 590.4L419.4 586.9 409.6 565.3 398.7 568.7Z" fill="#71c0b9"/>
<path d="M399.2 569.9L410.0 566.5 400.2 544.1 389.3 547.5Z" fill="#76c0b2"/>
<path d="M428.2 606.8L439.0 603.2 429.2 582.5 418.4 586.0Z" fill="#6bc0c1"/>
<path d="M418.9 587.2L429.7 583.6 419.8 562.1 409.0 565.6Z" fill="#71c0b9"/>
<path d="M409.5 566.7L420.3 563.3 410.4 540.9 399.6 544.3Z" fill="#76c0b2"/>
<path d="M438.5 603.5L449.3 599.8 439.4 579.1 428.6 582.7Z" fill="#6bc0c1"/>
<path d="M429.1 583.9L439.9 580.3 430.1 558.7 419.3 562.3Z" fill="#71c0b9"/>
<path d="M419.8 563.5L430.5 559.9 420.7 537.6 409.9 541.1Z" fill="#77c0b2"/>
<path d="M418.0 609.3L448.7 599.4 420.7 538.3 389.8 547.9Z" fill="none" stroke="#111" stroke-width="2.0" stroke-linejoin="round"/>
<path d="M1168.5 549.4L1177.7 542.8 1165.9 556.1 1156.8 562.7Z" fill="#78bfa8"/>
<path d="M1157.6 561.5L1166.7 555.0 1155.0 567.3 1145.9 573.9Z" fill="#75c0b4"/>
<path d="M1146.8 572.8L1155.9 566.2 1144.2 577.6 1135.2 584.2Z" fill="#71c0b9"/>
<path d="M1177.4 542.7L1186.5 536.0 1174.8 549.3 1165.7 555.9Z" fill="#79bea4"/>
<path d="M1166.5 554.8L1175.6 548.1 1163.9 560.5 1154.8 567.1Z" fill="#76c0b2"/>
<path d="M1155.7 566.0L1164.7 559.4 1153.1 570.8 1144.0 577.5Z" fill="#72c0b8"/>
<path d="M1186.3 535.8L1195.4 529.1 1183.6 542.4 1174.5 549.1Z" fill="#79bd9f"/>
<path d="M1175.3 548.0L1184.4 541.2 1172.7 553.5 1163.7 560.3Z" fill="#78c0b1"/>
<path d="M1164.5 559.2L1173.5 552.4 1161.9 563.8 1152.9 570.6Z" fill="#73c0b6"/>
<path d="M1168.3 550.0L1194.9 529.6 1162.2 563.2 1135.7 583.8Z" fill="none" stroke="#111" stroke-width="1.1" stroke-linejoin="round"/>
<path d="M937.5 720.5L947.0 714.0 935.9 718.2 926.4 724.7Z" fill="#475397"/>
<path d="M927.3 725.0L936.9 718.5 926.0 721.7 916.4 728.3Z" fill="#454f93"/>
<path d="M917.2 728.6L926.9 722.1 916.1 724.4 906.4 731.0Z" fill="#444c8f"/>
<path d="M946.8 714.9L956.2 708.4 945.1 712.5 935.7 719.1Z" fill="#475498"/>
<path d="M936.5 719.4L946.2 712.8 935.3 716.0 925.6 722.7Z" fill="#455094"/>
<path d="M926.4 723.0L936.1 716.4 925.4 718.7 915.7 725.4Z" fill="#444d91"/>
<path d="M956.0 709.3L965.5 702.6 954.4 706.8 944.9 713.4Z" fill="#48579b"/>
<path d="M945.8 713.8L955.4 707.0 944.5 710.3 934.9 717.0Z" fill="#465295"/>
<path d="M935.7 717.4L945.3 710.6 934.6 713.0 924.9 719.7Z" fill="#444e92"/>
<path d="M937.1 719.9L964.8 702.9 934.7 713.7 907.0 730.7Z" fill="none" stroke="#111" stroke-width="1.1" stroke-linejoin="round"/>
<path d="M1082.2 622.0L1091.5 615.9 1080.0 626.5 1070.7 632.6Z" fill="#5ebcce"/>
<path d="M1071.7 631.5L1080.9 625.4 1069.4 635.1 1060.2 641.2Z" fill="#55b9d9"/>
<path d="M1061.3 640.3L1070.4 634.1 1058.9 642.7 1049.8 649.0Z" fill="#4cb5e1"/>
<path d="M1091.3 615.7L1100.5 609.5 1089.0 620.1 1079.8 626.3Z" fill="#61bccc"/>
<path d="M1080.7 625.3L1089.9 619.1 1078.4 628.7 1069.2 634.9Z" fill="#57b9d6"/>
<path d="M1070.3 634.0L1079.4 627.7 1067.8 636.3 1058.8 642.7Z" fill="#4eb7e0"/>
<path d="M1100.3 609.4L1109.5 603.1 1098.0 613.7 1088.8 619.9Z" fill="#63bdc9"/>
<path d="M1089.7 618.9L1098.9 612.6 1087.3 622.2 1078.2 628.5Z" fill="#5abad4"/>
<path d="M1079.3 627.6L1088.3 621.2 1076.8 629.9 1067.8 636.3Z" fill="#50b7dd"/>
<path d="M1081.9 622.6L1108.9 603.5 1077.3 629.4 1050.3 648.5Z" fill="none" stroke="#111" stroke-width="1.1" stroke-linejoin="round"/>
<path d="M532.5 740.8L543.3 736.7 533.4 723.2 522.6 727.3Z" fill="#444d90"/>
<path d="M523.2 728.3L534.0 724.2 524.1 710.0 513.3 714.0Z" fill="#465195"/>
<path d="M513.9 715.0L524.6 711.0 514.7 695.9 504.0 700.0Z" fill="#4a5a9d"/>
<path d="M542.6 737.1L553.3 732.9 543.4 719.5 532.7 723.6Z" fill="#444d90"/>
<path d="M533.3 724.6L544.0 720.5 534.1 706.2 523.4 710.4Z" fill="#465195"/>
<path d="M524.0 711.4L534.7 707.2 524.8 692.2 514.1 696.3Z" fill="#4a5a9e"/>
<path d="M552.7 733.3L563.3 729.0 553.4 715.6 542.7 719.9Z" fill="#444d90"/>
<path d="M543.4 720.9L554.0 716.6 544.1 702.4 533.4 706.6Z" fill="#465295"/>
<path d="M534.0 707.6L544.7 703.4 534.8 688.4 524.2 692.6Z" fill="#4a5b9e"/>
<path d="M532.6 740.1L562.7 728.7 534.8 689.1 504.6 700.3Z" fill="none" stroke="#111" stroke-width="2.0" stroke-linejoin="round"/>
<path d="M446.0 664.3L456.9 660.7 447.0 642.3 436.1 645.9Z" fill="#4eaada"/>
<path d="M436.7 647.0L447.5 643.4 437.6 624.3 426.8 627.8Z" fill="#53b8db"/>
<path d="M427.3 628.9L438.2 625.4 428.3 605.4 417.4 608.9Z" fill="#5ebcce"/>
<path d="M456.3 661.0L467.1 657.3 457.2 638.9 446.4 642.6Z" fill="#4eaada"/>
<path d="M446.9 643.7L457.7 640.1 447.9 620.9 437.1 624.5Z" fill="#53b8db"/>
<path d="M437.6 625.7L448.4 622.0 438.5 602.1 427.7 605.7Z" fill="#5ebcce"/>
<path d="M466.5 657.6L477.3 653.8 467.4 635.5 456.6 639.2Z" fill="#4eaada"/>
<path d="M457.2 640.3L467.9 636.6 458.1 617.5 447.3 621.2Z" fill="#53b8db"/>
<path d="M447.8 622.3L458.6 618.6 448.7 598.7 438.0 602.4Z" fill="#5fbcce"/>
<path d="M446.0 663.6L476.7 653.4 448.7 599.4 418.0 609.3Z" fill="none" stroke="#111" stroke-width="2.0" stroke-linejoin="round"/>
<path d="M734.7 791.6L745.1 786.2 734.8 782.6 724.4 788.0Z" fill="#424a8c"/>
<path d="M725.1 788.6L735.5 783.3 725.3 778.9 714.9 784.2Z" fill="#424a8c"/>
<path d="M715.6 784.9L726.0 779.6 715.8 774.4 705.4 779.7Z" fill="#424a8c"/>
<path d="M744.4 787.0L754.7 781.5 744.5 778.0 734.1 783.4Z" fill="#424a8c"/>
<path d="M734.8 784.0L745.2 778.6 734.9 774.2 724.6 779.7Z" fill="#424a8c"/>
<path d="M725.3 780.3L735.6 774.9 725.4 769.7 715.1 775.1Z" fill="#424a8c"/>
<path d="M754.0 782.3L764.3 776.8 754.1 773.2 743.8 778.7Z" fill="#424a8c"/>
<path d="M744.5 779.4L754.8 773.9 744.5 769.5 734.2 775.0Z" fill="#424a8c"/>
<path d="M734.9 775.6L745.2 770.2 735.0 765.0 724.7 770.4Z" fill="#424a8c"/>
<path d="M734.7 790.9L763.6 776.8 735.0 765.7 706.1 779.7Z" fill="none" stroke="#111" stroke-width="1.9" stroke-linejoin="round"/>
<path d="M676.8 793.6L687.3 788.6 677.2 782.6 666.6 787.6Z" fill="#424a8c"/>
<path d="M667.3 788.3L677.8 783.3 667.7 776.4 657.2 781.4Z" fill="#424a8c"/>
<path d="M657.9 782.2L668.4 777.2 658.3 769.5 647.8 774.4Z" fill="#424a8c"/>
<path d="M686.6 789.3L697.1 784.2 686.9 778.2 676.4 783.2Z" fill="#424a8c"/>
<path d="M677.1 784.0L687.6 778.9 677.5 772.0 667.0 777.1Z" fill="#424a8c"/>
<path d="M667.7 777.8L678.2 772.8 668.1 765.1 657.6 770.1Z" fill="#424a8c"/>
<path d="M696.4 784.9L706.8 779.7 696.6 773.7 686.2 778.8Z" fill="#424a8c"/>
<path d="M686.9 779.6L697.3 774.4 687.2 767.6 676.8 772.7Z" fill="#424a8c"/>
<path d="M677.4 773.4L687.9 768.3 677.8 760.7 667.4 765.8Z" fill="#424a8c"/>
<path d="M676.8 792.9L706.1 779.7 677.8 761.4 648.5 774.5Z" fill="none" stroke="#111" stroke-width="2.0" stroke-linejoin="round"/>
<path d="M996.1 684.1L1005.4 678.4 994.0 686.3 984.7 692.0Z" fill="#577fbe"/>
<path d="M985.9 691.4L995.1 685.4 983.5 692.0 974.4 698.1Z" fill="#5470b2"/>
<path d="M975.6 698.0L984.8 691.5 973.4 696.8 964.2 703.3Z" fill="#4f64a7"/>
<path d="M1005.3 678.4L1014.5 672.5 1003.1 680.3 993.9 686.2Z" fill="#5684c2"/>
<path d="M995.1 685.7L1004.2 679.5 992.7 686.1 983.6 692.2Z" fill="#5673b5"/>
<path d="M984.8 692.2L994.0 685.6 982.6 690.8 973.4 697.5Z" fill="#5067aa"/>
<path d="M1014.5 672.5L1023.7 666.6 1012.2 674.3 1003.0 680.3Z" fill="#5589c5"/>
<path d="M1004.3 679.8L1013.3 673.5 1001.8 680.0 992.8 686.3Z" fill="#5776b8"/>
<path d="M993.9 686.4L1003.1 679.6 991.7 684.8 982.6 691.5Z" fill="#526bad"/>
<path d="M995.6 684.6L1023.1 667.0 992.3 685.2 964.8 702.9Z" fill="none" stroke="#111" stroke-width="1.1" stroke-linejoin="round"/>
<path d="M792.6 781.5L802.9 775.7 792.5 774.7 782.2 780.4Z" fill="#424a8d"/>
<path d="M782.9 781.0L793.2 775.3 782.8 773.4 772.6 779.1Z" fill="#424a8d"/>
<path d="M773.3 779.6L783.5 774.0 773.2 771.3 762.9 776.9Z" fill="#424a8c"/>
<path d="M802.2 776.6L812.4 770.8 802.0 769.8 791.8 775.6Z" fill="#424a8d"/>
<path d="M792.5 776.1L802.7 770.3 792.4 768.4 782.1 774.2Z" fill="#424a8d"/>
<path d="M782.8 774.8L793.1 769.0 782.7 766.3 772.5 772.1Z" fill="#424a8c"/>
<path d="M811.8 771.7L821.9 765.8 811.5 764.7 801.4 770.6Z" fill="#424a8d"/>
<path d="M802.1 771.2L812.2 765.3 801.8 763.4 791.7 769.3Z" fill="#424a8d"/>
<path d="M792.4 769.8L802.6 764.0 792.2 761.3 782.1 767.1Z" fill="#424a8d"/>
<path d="M792.6 780.8L821.2 765.9 792.2 762.0 763.6 776.8Z" fill="none" stroke="#111" stroke-width="1.7" stroke-linejoin="round"/>
<path d="M301.4 412.1L312.4 409.3 302.4 381.0 291.3 383.7Z" fill="#74b53e"/>
<path d="M291.8 385.0L302.8 382.3 292.8 353.1 281.7 355.8Z" fill="#8cbd3e"/>
<path d="M282.1 357.0L293.2 354.3 283.1 324.3 272.0 327.0Z" fill="#9fc441"/>
<path d="M311.9 409.5L322.9 406.6 312.9 378.3 301.9 381.2Z" fill="#74b53e"/>
<path d="M302.3 382.4L313.3 379.6 303.3 350.5 292.3 353.2Z" fill="#8cbd3e"/>
<path d="M292.7 354.5L303.7 351.7 293.7 321.7 282.6 324.5Z" fill="#9fc441"/>
<path d="M322.5 406.8L333.4 403.8 323.4 375.6 312.5 378.5Z" fill="#74b53e"/>
<path d="M312.9 379.7L323.8 376.8 313.8 347.7 302.9 350.6Z" fill="#8cbd3e"/>
<path d="M303.3 351.9L314.2 349.0 304.2 319.1 293.2 321.9Z" fill="#9fc441"/>
<path d="M301.4 411.4L333.0 403.3 304.2 319.8 272.4 327.5Z" fill="none" stroke="#111" stroke-width="2.0" stroke-linejoin="round"/>
<path d="M330.0 488.5L341.1 485.6 331.1 459.8 320.1 462.6Z" fill="#71b447"/>
<path d="M320.5 463.9L331.5 461.0 321.6 434.3 310.5 437.2Z" fill="#72b444"/>
<path d="M311.0 438.4L322.0 435.6 312.0 408.1 300.9 410.9Z" fill="#73b541"/>
<path d="M340.6 485.7L351.5 482.7 341.6 457.0 330.6 459.9Z" fill="#71b447"/>
<path d="M331.1 461.2L342.0 458.2 332.1 431.6 321.1 434.5Z" fill="#72b444"/>
<path d="M321.5 435.7L332.5 432.8 322.5 405.4 311.5 408.3Z" fill="#73b541"/>
<path d="M351.0 482.9L362.0 479.8 352.0 454.1 341.1 457.1Z" fill="#71b447"/>
<path d="M341.5 458.4L352.5 455.3 342.5 428.7 331.6 431.8Z" fill="#72b444"/>
<path d="M332.0 433.0L343.0 430.0 333.0 402.6 322.0 405.5Z" fill="#73b541"/>
<path d="M330.1 487.8L361.5 479.3 333.0 403.3 301.4 411.4Z" fill="none" stroke="#111" stroke-width="2.0" stroke-linejoin="round"/>
<path d="M618.8 787.6L629.4 783.0 619.4 774.5 608.7 779.1Z" fill="#424a8c"/>
<path d="M609.4 779.9L620.0 775.3 610.0 766.0 599.4 770.5Z" fill="#424a8d"/>
<path d="M600.0 771.4L610.6 766.8 600.6 756.7 590.0 761.2Z" fill="#424a8d"/>
<path d="M628.7 783.6L639.3 778.9 629.3 770.3 618.7 775.0Z" fill="#424a8d"/>
<path d="M619.3 775.9L629.9 771.2 619.9 761.8 609.3 766.5Z" fill="#424a8d"/>
<path d="M609.9 767.4L620.5 762.7 610.5 752.6 599.9 757.2Z" fill="#424a8d"/>
<path d="M638.6 779.5L649.2 774.7 639.1 766.1 628.5 770.9Z" fill="#424a8d"/>
<path d="M629.2 771.7L639.8 767.0 629.7 757.6 619.2 762.4Z" fill="#424a8d"/>
<path d="M619.8 763.2L630.4 758.5 620.4 748.4 609.8 753.1Z" fill="#424a8d"/>
<path d="M618.8 786.9L648.5 774.5 620.4 749.1 590.7 761.4Z" fill="none" stroke="#111" stroke-width="2.0" stroke-linejoin="round"/>
<path d="M474.0 711.4L484.9 707.7 475.0 691.7 464.1 695.4Z" fill="#5067aa"/>
<path d="M464.7 696.5L475.6 692.8 465.7 676.0 454.8 679.7Z" fill="#5776b8"/>
<path d="M455.3 680.8L466.2 677.1 456.3 659.6 445.5 663.2Z" fill="#548fc9"/>
<path d="M484.3 708.0L495.1 704.2 485.2 688.3 474.4 692.1Z" fill="#5067aa"/>
<path d="M474.9 693.1L485.7 689.3 475.9 672.6 465.0 676.4Z" fill="#5776b8"/>
<path d="M465.6 677.4L476.4 673.7 466.5 656.2 455.7 659.9Z" fill="#548fc9"/>
<path d="M494.4 704.5L505.2 700.6 495.3 684.7 484.5 688.6Z" fill="#5067aa"/>
<path d="M485.1 689.7L495.9 685.8 486.0 669.1 475.2 672.9Z" fill="#5776b9"/>
<path d="M475.8 674.0L486.6 670.2 476.7 652.7 465.9 656.5Z" fill="#548fc9"/>
<path d="M474.1 710.7L504.6 700.3 476.7 653.4 446.0 663.6Z" fill="none" stroke="#111" stroke-width="2.0" stroke-linejoin="round"/>
<path d="M358.5 557.5L369.5 554.4 359.6 531.1 348.6 534.1Z" fill="#79bd9e"/>
<path d="M349.0 535.3L360.0 532.3 350.1 508.1 339.1 511.1Z" fill="#79b983"/>
<path d="M339.6 512.3L350.6 509.3 340.6 484.3 329.6 487.3Z" fill="#73b65a"/>
<path d="M369.0 554.6L379.9 551.5 370.0 528.2 359.1 531.3Z" fill="#79bd9f"/>
<path d="M359.5 532.5L370.5 529.4 360.6 505.2 349.6 508.3Z" fill="#79b983"/>
<path d="M350.1 509.5L361.0 506.4 351.1 481.5 340.1 484.5Z" fill="#73b65a"/>
<path d="M379.4 551.7L390.3 548.4 380.4 525.2 369.5 528.4Z" fill="#79bd9f"/>
<path d="M370.0 529.6L380.9 526.4 371.0 502.3 360.0 505.4Z" fill="#79b983"/>
<path d="M360.5 506.6L371.4 503.5 361.5 478.6 350.6 481.7Z" fill="#73b65b"/>
<path d="M358.5 556.8L389.8 547.9 361.5 479.3 330.1 487.8Z" fill="none" stroke="#111" stroke-width="2.0" stroke-linejoin="round"/>
<path d="M850.8 763.3L860.8 757.2 850.2 758.7 840.2 764.7Z" fill="#434b8d"/>
<path d="M840.9 765.2L851.0 759.2 840.4 759.8 830.3 765.8Z" fill="#434b8d"/>
<path d="M831.1 766.3L841.2 760.3 830.7 760.1 820.6 766.1Z" fill="#424a8d"/>
<path d="M860.3 758.2L870.3 752.0 859.6 753.5 849.6 759.6Z" fill="#434b8d"/>
<path d="M850.4 760.1L860.4 754.0 849.8 754.6 839.8 760.7Z" fill="#434b8d"/>
<path d="M840.5 761.2L850.6 755.1 840.1 754.9 830.0 761.0Z" fill="#434b8d"/>
<path d="M869.7 753.0L879.7 746.8 869.0 748.3 859.1 754.5Z" fill="#434b8e"/>
<path d="M859.8 754.9L869.8 748.7 859.2 749.4 849.2 755.6Z" fill="#434b8d"/>
<path d="M850.0 756.0L860.0 749.9 849.5 749.7 839.5 755.8Z" fill="#434b8d"/>
<path d="M850.7 762.6L879.0 747.0 849.5 750.4 821.2 765.9Z" fill="none" stroke="#111" stroke-width="1.4" stroke-linejoin="round"/>
<path d="M1228.6 487.1L1237.7 480.3 1225.7 496.4 1216.6 503.2Z" fill="#70b447"/>
<path d="M1217.3 502.0L1226.4 495.2 1214.5 510.3 1205.4 517.1Z" fill="#74b662"/>
<path d="M1206.2 515.9L1215.2 509.1 1203.4 523.3 1194.4 530.1Z" fill="#79b983"/>
<path d="M1237.5 480.2L1246.5 473.3 1234.5 489.3 1225.5 496.2Z" fill="#70b447"/>
<path d="M1226.2 495.0L1235.2 488.2 1223.3 503.2 1214.3 510.1Z" fill="#73b65a"/>
<path d="M1215.0 509.0L1224.0 502.1 1212.2 516.2 1203.2 523.1Z" fill="#78b97b"/>
<path d="M1246.3 473.2L1255.3 466.2 1243.3 482.2 1234.3 489.2Z" fill="#71b446"/>
<path d="M1235.0 488.0L1244.0 481.0 1232.1 496.1 1223.1 503.1Z" fill="#71b552"/>
<path d="M1223.8 501.9L1232.8 495.0 1220.9 509.1 1212.0 516.1Z" fill="#76b873"/>
<path d="M1228.4 487.8L1254.9 466.7 1221.2 508.4 1194.9 529.6Z" fill="none" stroke="#111" stroke-width="1.4" stroke-linejoin="round"/>
<path d="M1141.6 569.1L1150.9 562.8 1139.2 576.1 1130.0 582.4Z" fill="#77c0b2"/>
<path d="M1130.7 581.3L1140.0 574.9 1128.4 587.3 1119.1 593.6Z" fill="#72c0b8"/>
<path d="M1120.0 592.5L1129.2 586.2 1117.6 597.7 1108.4 604.0Z" fill="#6ec0be"/>
<path d="M1150.6 562.6L1159.8 556.2 1148.2 569.5 1138.9 575.9Z" fill="#78c0b0"/>
<path d="M1139.7 574.8L1148.9 568.4 1137.3 580.7 1128.1 587.1Z" fill="#73c0b7"/>
<path d="M1128.9 586.0L1138.1 579.6 1126.5 591.1 1117.4 597.5Z" fill="#6fc0bc"/>
<path d="M1159.6 556.0L1168.8 549.6 1157.1 562.8 1147.9 569.3Z" fill="#78bfad"/>
<path d="M1148.7 568.2L1157.8 561.7 1146.2 574.1 1137.0 580.5Z" fill="#74c0b5"/>
<path d="M1137.9 579.5L1147.0 572.9 1135.4 584.4 1126.3 590.9Z" fill="#70c0bb"/>
<path d="M1141.4 569.7L1168.3 550.0 1135.7 583.8 1108.9 603.5Z" fill="none" stroke="#111" stroke-width="1.2" stroke-linejoin="round"/>
<path d="M560.6 773.6L571.3 769.4 561.4 758.3 550.6 762.5Z" fill="#434b8d"/>
<path d="M551.2 763.4L562.0 759.3 552.0 747.4 541.3 751.6Z" fill="#434b8d"/>
<path d="M541.9 752.5L552.6 748.4 542.7 735.7 531.9 739.9Z" fill="#434b8e"/>
<path d="M570.6 769.8L581.4 765.5 571.4 754.5 560.7 758.8Z" fill="#434b8d"/>
<path d="M561.3 759.7L572.0 755.4 562.0 743.6 551.3 747.9Z" fill="#434b8d"/>
<path d="M552.0 748.8L562.7 744.6 552.7 731.9 542.0 736.1Z" fill="#434b8e"/>
<path d="M580.7 766.0L591.3 761.6 581.4 750.6 570.7 755.0Z" fill="#434b8d"/>
<path d="M571.3 755.9L582.0 751.5 572.0 739.7 561.4 744.1Z" fill="#434b8d"/>
<path d="M562.0 745.0L572.7 740.7 562.7 728.0 552.0 732.4Z" fill="#434b8e"/>
<path d="M560.6 772.9L590.7 761.4 562.7 728.7 532.6 740.1Z" fill="none" stroke="#111" stroke-width="2.0" stroke-linejoin="round"/>
<path d="M386.8 619.2L397.8 616.0 387.9 595.1 376.9 598.3Z" fill="#6bc0c1"/>
<path d="M377.4 599.4L388.4 596.3 378.5 574.6 367.5 577.7Z" fill="#71c0b9"/>
<path d="M367.9 578.8L378.9 575.7 369.0 553.2 358.0 556.3Z" fill="#77c0b2"/>
<path d="M397.2 616.2L408.2 612.9 398.3 592.1 387.3 595.3Z" fill="#6bc0c1"/>
<path d="M387.8 596.5L398.8 593.2 388.9 571.6 377.9 574.8Z" fill="#71c0b9"/>
<path d="M378.4 576.0L389.4 572.8 379.5 550.3 368.5 553.4Z" fill="#77c0b2"/>
<path d="M407.6 613.2L418.5 609.8 408.6 589.0 397.7 592.3Z" fill="#6bc0c1"/>
<path d="M398.2 593.5L409.1 590.1 399.2 568.5 388.3 571.8Z" fill="#71c0b9"/>
<path d="M388.8 573.0L399.7 569.7 389.8 547.2 378.9 550.5Z" fill="#76c0b2"/>
<path d="M386.8 618.5L418.0 609.3 389.8 547.9 358.5 556.8Z" fill="none" stroke="#111" stroke-width="2.0" stroke-linejoin="round"/>
<path d="M909.5 736.7L919.0 730.5 907.9 734.7 898.3 741.0Z" fill="#455094"/>
<path d="M899.2 741.3L909.0 735.0 898.1 738.2 888.3 744.5Z" fill="#444d90"/>
<path d="M889.1 744.9L899.0 738.6 888.2 741.0 878.4 747.3Z" fill="#434b8e"/>
<path d="M918.8 731.4L928.4 725.1 917.3 729.3 907.7 735.6Z" fill="#465195"/>
<path d="M908.6 736.0L918.3 729.6 907.4 732.8 897.7 739.2Z" fill="#444d91"/>
<path d="M898.5 739.6L908.3 733.2 897.6 735.5 887.7 741.9Z" fill="#434b8e"/>
<path d="M928.2 726.0L937.7 719.6 926.6 723.8 917.1 730.2Z" fill="#465296"/>
<path d="M917.9 730.5L927.6 724.1 916.7 727.3 907.0 733.8Z" fill="#454e92"/>
<path d="M907.8 734.1L917.6 727.7 906.9 730.0 897.1 736.5Z" fill="#434b8e"/>
<path d="M909.0 736.2L937.1 719.9 907.0 730.7 879.0 747.0Z" fill="none" stroke="#111" stroke-width="1.1" stroke-linejoin="round"/>
<path d="M1054.9 640.3L1064.3 634.5 1052.9 645.1 1043.5 650.9Z" fill="#58bad6"/>
<path d="M1044.3 649.9L1053.7 644.0 1042.3 653.7 1033.0 659.6Z" fill="#4eb7e0"/>
<path d="M1033.9 658.6L1043.2 652.7 1031.8 661.5 1022.5 667.4Z" fill="#50a4d6"/>
<path d="M1064.0 634.3L1073.4 628.4 1061.9 639.0 1052.6 644.9Z" fill="#5abad3"/>
<path d="M1053.5 643.8L1062.8 637.9 1051.4 647.6 1042.1 653.5Z" fill="#50b7de"/>
<path d="M1043.1 652.6L1052.3 646.6 1040.8 655.3 1031.6 661.3Z" fill="#4ea9da"/>
<path d="M1073.1 628.2L1082.4 622.2 1071.0 632.8 1061.7 638.8Z" fill="#5cbbd1"/>
<path d="M1062.6 637.7L1071.8 631.7 1060.4 641.4 1051.2 647.4Z" fill="#52b8db"/>
<path d="M1052.2 646.5L1061.3 640.4 1049.9 649.1 1040.7 655.2Z" fill="#4dafdd"/>
<path d="M1054.6 640.9L1081.9 622.6 1050.3 648.5 1023.1 667.0Z" fill="none" stroke="#111" stroke-width="1.1" stroke-linejoin="round"/>
<path d="M502.0 751.4L512.9 747.6 503.0 734.0 492.1 737.9Z" fill="#444d90"/>
<path d="M492.7 738.8L503.6 735.0 493.7 720.7 482.8 724.5Z" fill="#465195"/>
<path d="M483.4 725.5L494.2 721.7 484.3 706.6 473.4 710.4Z" fill="#4a5a9d"/>
<path d="M512.3 748.0L523.1 744.0 513.2 730.5 502.3 734.4Z" fill="#444d90"/>
<path d="M502.9 735.4L513.7 731.5 503.8 717.2 493.0 721.1Z" fill="#465195"/>
<path d="M493.6 722.1L504.4 718.3 494.5 703.1 483.7 707.0Z" fill="#4a599d"/>
<path d="M522.4 744.4L533.2 740.4 523.3 726.9 512.5 730.9Z" fill="#444d90"/>
<path d="M513.1 731.9L523.9 727.9 514.0 713.6 503.2 717.6Z" fill="#465195"/>
<path d="M503.8 718.6L514.5 714.7 504.7 699.6 493.9 703.5Z" fill="#4a5a9d"/>
<path d="M502.1 750.7L532.6 740.1 504.6 700.3 474.1 710.7Z" fill="none" stroke="#111" stroke-width="2.0" stroke-linejoin="round"/>
<path d="M414.9 673.7L425.9 670.3 416.0 651.9 405.0 655.2Z" fill="#4eabdb"/>
<path d="M405.6 656.3L416.6 653.0 406.7 633.8 395.7 637.0Z" fill="#53b8db"/>
<path d="M396.2 638.1L407.2 634.9 397.3 614.8 386.3 618.0Z" fill="#5fbcce"/>
<path d="M425.3 670.6L436.3 667.2 426.4 648.8 415.4 652.2Z" fill="#4eaadb"/>
<path d="M416.0 653.3L426.9 649.9 417.0 630.7 406.1 634.0Z" fill="#53b8db"/>
<path d="M406.6 635.2L417.6 631.8 407.7 611.8 396.7 615.1Z" fill="#5fbcce"/>
<path d="M435.7 667.5L446.6 664.0 436.7 645.6 425.8 649.1Z" fill="#4eaada"/>
<path d="M426.3 650.2L437.2 646.7 427.4 627.5 416.5 631.0Z" fill="#53b8db"/>
<path d="M417.0 632.1L427.9 628.7 418.0 608.6 407.1 612.0Z" fill="#5fbcce"/>
<path d="M415.0 673.0L446.0 663.6 418.0 609.3 386.8 618.5Z" fill="none" stroke="#111" stroke-width="2.0" stroke-linejoin="round"/>
<path d="M705.4 804.8L715.9 799.8 705.7 796.2 695.1 801.3Z" fill="#424a8c"/>
<path d="M695.8 801.9L706.3 796.8 696.1 792.4 685.6 797.5Z" fill="#424a8c"/>
<path d="M686.3 798.2L696.8 793.1 686.6 787.9 676.1 792.9Z" fill="#424a8c"/>
<path d="M715.2 800.5L725.7 795.3 715.4 791.7 704.9 796.9Z" fill="#424a8c"/>
<path d="M705.6 797.6L716.1 792.4 705.9 788.0 695.4 793.2Z" fill="#424a8c"/>
<path d="M696.1 793.8L706.6 788.7 696.4 783.5 685.9 788.6Z" fill="#424a8c"/>
<path d="M725.0 796.1L735.4 790.8 725.1 787.2 714.7 792.5Z" fill="#424a8c"/>
<path d="M715.4 793.1L725.8 787.9 715.6 783.5 705.2 788.7Z" fill="#424a8c"/>
<path d="M705.9 789.4L716.3 784.2 706.1 779.0 695.7 784.2Z" fill="#424a8c"/>
<path d="M705.4 804.1L734.7 790.9 706.1 779.7 676.8 792.9Z" fill="none" stroke="#111" stroke-width="1.9" stroke-linejoin="round"/>
<path d="M968.2 701.0L977.7 695.6 966.4 703.5 956.9 708.9Z" fill="#5674b6"/>
<path d="M958.1 708.2L967.4 702.6 955.9 709.4 946.6 715.0Z" fill="#5067aa"/>
<path d="M947.9 714.9L957.1 708.8 945.7 714.1 936.5 720.3Z" fill="#4b5c9f"/>
<path d="M977.5 695.4L986.9 690.0 975.6 697.9 966.2 703.4Z" fill="#5777b9"/>
<path d="M967.4 702.7L976.6 697.0 965.2 703.7 955.9 709.5Z" fill="#516aad"/>
<path d="M957.2 709.4L966.4 703.1 955.0 708.4 945.8 714.7Z" fill="#4c5ea2"/>
<path d="M986.8 689.8L996.2 684.3 984.8 692.1 975.4 697.7Z" fill="#587abb"/>
<path d="M976.7 697.1L985.9 691.2 974.4 697.9 965.2 703.8Z" fill="#536daf"/>
<path d="M966.4 703.8L975.6 697.3 964.2 702.6 955.0 709.0Z" fill="#4d61a5"/>
<path d="M967.8 701.6L995.6 684.6 964.8 702.9 937.1 719.9Z" fill="none" stroke="#111" stroke-width="1.1" stroke-linejoin="round"/>
<path d="M647.1 806.1L657.8 801.4 647.6 795.3 637.0 800.0Z" fill="#424a8c"/>
<path d="M637.6 800.7L648.3 796.1 638.2 789.1 627.5 793.8Z" fill="#424a8c"/>
<path d="M628.2 794.6L638.9 789.9 628.8 782.2 618.1 786.8Z" fill="#424a8c"/>
<path d="M657.0 802.0L667.7 797.2 657.5 791.1 646.9 795.9Z" fill="#424a8c"/>
<path d="M647.6 796.7L658.2 791.9 648.1 785.0 637.5 789.8Z" fill="#424a8c"/>
<path d="M638.1 790.5L648.7 785.8 638.7 778.1 628.1 782.8Z" fill="#424a8c"/>
<path d="M666.9 797.9L677.5 793.0 667.4 786.9 656.8 791.8Z" fill="#424a8c"/>
<path d="M657.5 792.5L668.0 787.7 657.9 780.8 647.4 785.6Z" fill="#424a8c"/>
<path d="M648.0 786.4L658.6 781.6 648.5 773.8 637.9 778.7Z" fill="#424a8c"/>
<path d="M647.2 805.4L676.8 792.9 648.5 774.5 618.8 786.9Z" fill="none" stroke="#111" stroke-width="2.0" stroke-linejoin="round"/>
<path d="M763.7 795.5L774.0 790.1 763.7 789.0 753.3 794.5Z" fill="#424a8c"/>
<path d="M754.0 795.0L764.3 789.6 754.0 787.7 743.6 793.1Z" fill="#424a8c"/>
<path d="M744.3 793.7L754.7 788.3 744.4 785.6 734.0 791.0Z" fill="#424a8c"/>
<path d="M773.4 790.9L783.7 785.4 773.3 784.3 763.0 789.9Z" fill="#424a8d"/>
<path d="M763.7 790.4L774.0 784.9 763.6 783.0 753.3 788.5Z" fill="#424a8c"/>
<path d="M754.0 789.1L764.3 783.6 754.0 780.9 743.7 786.4Z" fill="#424a8c"/>
<path d="M783.0 786.2L793.3 780.6 782.9 779.6 772.6 785.2Z" fill="#424a8d"/>
<path d="M773.3 785.7L783.6 780.1 773.3 778.2 763.0 783.8Z" fill="#424a8c"/>
<path d="M763.7 784.4L774.0 778.8 763.6 776.1 753.3 781.7Z" fill="#424a8c"/>
<path d="M763.7 794.8L792.6 780.8 763.6 776.8 734.7 790.9Z" fill="none" stroke="#111" stroke-width="1.6" stroke-linejoin="round"/>
<path d="M269.4 419.4L280.5 416.9 270.5 388.5 259.3 390.9Z" fill="#74b53e"/>
<path d="M259.7 392.1L270.9 389.7 260.8 360.4 249.6 362.8Z" fill="#8dbd3e"/>
<path d="M250.0 364.0L261.2 361.7 251.0 331.5 239.8 333.8Z" fill="#a0c441"/>
<path d="M280.1 417.1L291.2 414.5 281.2 386.1 270.0 388.6Z" fill="#74b53e"/>
<path d="M270.4 389.9L281.6 387.3 271.5 358.1 260.3 360.5Z" fill="#8dbd3e"/>
<path d="M260.7 361.8L271.9 359.3 261.8 329.2 250.6 331.6Z" fill="#9fc441"/>
<path d="M290.7 414.6L301.8 412.0 291.8 383.6 280.7 386.2Z" fill="#74b53e"/>
<path d="M281.1 387.5L292.2 384.8 282.1 355.6 271.0 358.2Z" fill="#8dbd3e"/>
<path d="M271.4 359.5L282.5 356.9 272.5 326.8 261.3 329.3Z" fill="#9fc441"/>
<path d="M269.4 418.7L301.4 411.4 272.4 327.5 240.2 334.4Z" fill="none" stroke="#111" stroke-width="2.0" stroke-linejoin="round"/>
<path d="M1201.9 507.4L1211.1 500.9 1199.2 517.0 1190.0 523.5Z" fill="#72b556"/>
<path d="M1190.7 522.3L1199.9 515.8 1188.0 530.9 1178.8 537.5Z" fill="#77b879"/>
<path d="M1179.5 536.3L1188.7 529.8 1176.9 544.0 1167.8 550.5Z" fill="#7abb95"/>
<path d="M1210.8 500.7L1220.0 494.1 1208.1 510.2 1198.9 516.8Z" fill="#71b54e"/>
<path d="M1199.6 515.6L1208.7 509.0 1196.9 524.1 1187.7 530.8Z" fill="#76b871"/>
<path d="M1188.4 529.6L1197.6 523.0 1185.8 537.2 1176.7 543.8Z" fill="#7abb90"/>
<path d="M1219.7 493.9L1228.9 487.3 1216.9 503.3 1207.8 510.0Z" fill="#70b448"/>
<path d="M1208.5 508.8L1217.6 502.1 1205.7 517.2 1196.6 524.0Z" fill="#75b76a"/>
<path d="M1197.3 522.8L1206.4 516.1 1194.6 530.3 1185.5 537.0Z" fill="#7aba8b"/>
<path d="M1201.7 508.1L1228.4 487.8 1194.9 529.6 1168.3 550.0Z" fill="none" stroke="#111" stroke-width="1.5" stroke-linejoin="round"/>
<path d="M298.2 496.2L309.4 493.5 299.4 467.6 288.2 470.2Z" fill="#71b446"/>
<path d="M288.6 471.4L299.8 468.8 289.8 442.0 278.6 444.6Z" fill="#72b444"/>
<path d="M279.0 445.8L290.2 443.3 280.1 415.7 268.9 418.2Z" fill="#73b541"/>
<path d="M308.9 493.7L320.0 491.0 310.0 465.1 298.9 467.8Z" fill="#71b446"/>
<path d="M299.3 469.0L310.4 466.3 300.4 439.6 289.3 442.2Z" fill="#72b444"/>
<path d="M289.7 443.4L300.8 440.8 290.8 413.2 279.6 415.8Z" fill="#73b541"/>
<path d="M319.5 491.1L330.5 488.3 320.6 462.5 309.5 465.3Z" fill="#71b446"/>
<path d="M309.9 466.5L321.0 463.7 311.0 437.0 299.9 439.7Z" fill="#72b444"/>
<path d="M300.4 441.0L311.4 438.2 301.4 410.7 290.3 413.4Z" fill="#73b541"/>
<path d="M298.2 495.5L330.1 487.8 301.4 411.4 269.4 418.7Z" fill="none" stroke="#111" stroke-width="2.0" stroke-linejoin="round"/>
<path d="M588.7 799.3L599.5 794.9 589.5 786.3 578.7 790.6Z" fill="#424a8c"/>
<path d="M579.3 791.5L590.1 787.2 580.1 777.8 569.3 782.1Z" fill="#424a8d"/>
<path d="M569.9 782.9L580.7 778.7 570.7 768.4 559.9 772.7Z" fill="#424a8d"/>
<path d="M598.8 795.5L609.5 791.0 599.5 782.5 588.7 786.9Z" fill="#424a8c"/>
<path d="M589.4 787.7L600.1 783.3 590.1 773.9 579.4 778.3Z" fill="#424a8d"/>
<path d="M580.0 779.2L590.7 774.8 580.7 764.6 570.0 768.9Z" fill="#424a8d"/>
<path d="M608.8 791.6L619.5 787.1 609.5 778.5 598.8 783.0Z" fill="#424a8c"/>
<path d="M599.4 783.9L610.1 779.4 600.1 770.0 589.4 774.5Z" fill="#424a8d"/>
<path d="M590.0 775.3L600.7 770.9 590.7 760.7 580.0 765.1Z" fill="#424a8d"/>
<path d="M588.8 798.6L618.8 786.9 590.7 761.4 560.6 772.9Z" fill="none" stroke="#111" stroke-width="2.0" stroke-linejoin="round"/>
<path d="M1289.7 415.8L1298.8 408.8 1286.5 427.7 1277.4 434.7Z" fill="#74b53f"/>
<path d="M1278.1 433.5L1287.1 426.5 1274.9 444.4 1265.9 451.5Z" fill="#73b541"/>
<path d="M1266.5 450.3L1275.5 443.3 1263.4 460.2 1254.4 467.2Z" fill="#72b444"/>
<path d="M1298.5 408.7L1307.6 401.6 1295.2 420.5 1286.2 427.6Z" fill="#74b53f"/>
<path d="M1286.9 426.4L1295.9 419.3 1283.6 437.2 1274.6 444.3Z" fill="#73b541"/>
<path d="M1275.3 443.1L1284.3 436.0 1272.2 452.9 1263.2 460.1Z" fill="#72b443"/>
<path d="M1307.3 401.5L1316.3 394.3 1304.0 413.2 1295.0 420.4Z" fill="#74b53e"/>
<path d="M1295.6 419.2L1304.6 412.0 1292.4 429.9 1283.4 437.1Z" fill="#73b540"/>
<path d="M1284.1 435.9L1293.0 428.7 1280.9 445.6 1271.9 452.8Z" fill="#72b543"/>
<path d="M1289.6 416.5L1315.9 394.8 1281.1 444.9 1254.9 466.7Z" fill="none" stroke="#111" stroke-width="1.7" stroke-linejoin="round"/>
<path d="M822.1 778.0L832.3 772.3 821.7 773.8 811.5 779.5Z" fill="#434b8d"/>
<path d="M812.2 780.0L822.4 774.3 811.9 774.9 801.7 780.7Z" fill="#424a8d"/>
<path d="M802.4 781.1L812.6 775.4 802.2 775.2 792.0 780.9Z" fill="#424a8d"/>
<path d="M831.7 773.2L841.8 767.3 831.2 768.8 821.1 774.7Z" fill="#434b8d"/>
<path d="M821.8 775.2L832.0 769.3 821.5 770.0 811.3 775.8Z" fill="#434b8d"/>
<path d="M812.0 776.3L822.2 770.5 811.7 770.3 801.5 776.1Z" fill="#424a8d"/>
<path d="M841.3 768.3L851.4 762.3 840.7 763.8 830.7 769.8Z" fill="#434b8d"/>
<path d="M831.4 770.2L841.5 764.3 831.0 764.9 820.8 770.9Z" fill="#434b8d"/>
<path d="M821.5 771.4L831.7 765.4 821.2 765.2 811.1 771.2Z" fill="#424a8d"/>
<path d="M822.0 777.3L850.7 762.6 821.2 765.9 792.6 780.8Z" fill="none" stroke="#111" stroke-width="1.3" stroke-linejoin="round"/>
<path d="M1114.5 588.0L1123.9 582.0 1112.2 595.3 1102.9 601.4Z" fill="#74c0b6"/>
<path d="M1103.6 600.2L1113.0 594.2 1101.4 606.6 1092.1 612.7Z" fill="#6fc0bc"/>
<path d="M1092.9 611.6L1102.2 605.5 1090.7 617.0 1081.4 623.1Z" fill="#69bfc3"/>
<path d="M1123.6 581.8L1132.9 575.6 1121.3 589.0 1111.9 595.1Z" fill="#75c0b4"/>
<path d="M1112.7 594.0L1122.0 587.9 1110.4 600.3 1101.1 606.4Z" fill="#70c0bb"/>
<path d="M1101.9 605.3L1111.2 599.1 1099.7 610.6 1090.4 616.8Z" fill="#6bc0c1"/>
<path d="M1132.6 575.5L1141.9 569.2 1130.3 582.6 1121.0 588.8Z" fill="#76c0b3"/>
<path d="M1121.7 587.7L1131.0 581.4 1119.4 593.8 1110.2 600.1Z" fill="#71c0b9"/>
<path d="M1111.0 599.0L1120.2 592.7 1108.7 604.2 1099.4 610.4Z" fill="#6dc0bf"/>
<path d="M1114.3 588.7L1141.4 569.7 1108.9 603.5 1081.9 622.6Z" fill="none" stroke="#111" stroke-width="1.2" stroke-linejoin="round"/>
<path d="M443.0 721.0L454.0 717.5 444.1 701.5 433.1 704.9Z" fill="#5168ab"/>
<path d="M433.7 706.0L444.7 702.6 434.8 685.8 423.8 689.1Z" fill="#5877b9"/>
<path d="M424.3 690.2L435.3 686.9 425.4 669.2 414.4 672.6Z" fill="#5390ca"/>
<path d="M453.4 717.9L464.4 714.3 454.5 698.3 443.5 701.9Z" fill="#5068ab"/>
<path d="M444.1 702.9L455.0 699.4 445.1 682.6 434.2 686.1Z" fill="#5777b9"/>
<path d="M434.7 687.2L445.7 683.7 435.8 666.1 424.8 669.5Z" fill="#538fc9"/>
<path d="M463.7 714.7L474.7 711.0 464.8 695.1 453.8 698.7Z" fill="#5068ab"/>
<path d="M454.4 699.7L465.3 696.1 455.4 679.4 444.5 682.9Z" fill="#5777b9"/>
<path d="M445.0 684.0L456.0 680.5 446.1 662.9 435.2 666.4Z" fill="#548fc9"/>
<path d="M443.1 720.3L474.1 710.7 446.0 663.6 415.0 673.0Z" fill="none" stroke="#111" stroke-width="2.0" stroke-linejoin="round"/>
<path d="M326.8 565.5L337.9 562.7 328.0 539.3 316.8 542.0Z" fill="#79bd9d"/>
<path d="M317.3 543.2L328.4 540.5 318.5 516.2 307.3 518.9Z" fill="#78b980"/>
<path d="M307.8 520.1L318.9 517.4 308.9 492.3 297.7 494.9Z" fill="#72b557"/>
<path d="M337.4 562.9L348.5 560.0 338.6 536.6 327.4 539.5Z" fill="#79bd9d"/>
<path d="M327.9 540.7L339.0 537.8 329.1 513.6 317.9 516.4Z" fill="#78b981"/>
<path d="M318.4 517.6L329.5 514.8 319.5 489.7 308.4 492.5Z" fill="#72b558"/>
<path d="M348.0 560.2L359.0 557.3 349.1 533.9 338.0 536.8Z" fill="#79bd9e"/>
<path d="M338.5 538.0L349.6 535.1 339.6 510.9 328.5 513.8Z" fill="#79b982"/>
<path d="M329.0 515.0L340.1 512.1 330.1 487.1 319.0 489.9Z" fill="#73b659"/>
<path d="M326.8 564.8L358.5 556.8 330.1 487.8 298.2 495.5Z" fill="none" stroke="#111" stroke-width="2.0" stroke-linejoin="round"/>
<path d="M530.1 784.3L541.0 780.3 531.0 769.3 520.1 773.2Z" fill="#434b8d"/>
<path d="M520.7 774.1L531.6 770.2 521.7 758.3 510.8 762.2Z" fill="#434b8d"/>
<path d="M511.4 763.2L522.3 759.3 512.3 746.6 501.4 750.4Z" fill="#434b8e"/>
<path d="M540.3 780.8L551.2 776.8 541.2 765.7 530.3 769.7Z" fill="#434b8d"/>
<path d="M530.9 770.7L541.8 766.6 531.8 754.8 521.0 758.8Z" fill="#434b8d"/>
<path d="M521.6 759.7L532.4 755.7 522.5 743.0 511.6 747.0Z" fill="#434b8e"/>
<path d="M550.5 777.2L561.3 773.1 551.3 762.0 540.5 766.2Z" fill="#434b8d"/>
<path d="M541.1 767.1L551.9 763.0 541.9 751.1 531.1 755.2Z" fill="#434b8d"/>
<path d="M531.8 756.2L542.6 752.1 532.6 739.4 521.8 743.5Z" fill="#434b8e"/>
<path d="M530.2 783.6L560.6 772.9 532.6 740.1 502.1 750.7Z" fill="none" stroke="#111" stroke-width="2.0" stroke-linejoin="round"/>
<path d="M1027.2 657.8L1036.8 652.3 1025.4 663.0 1015.9 668.5Z" fill="#52b8dc"/>
<path d="M1016.7 667.5L1026.2 661.9 1014.9 671.6 1005.4 677.2Z" fill="#4eacdb"/>
<path d="M1006.3 676.2L1015.8 670.6 1004.4 679.4 995.0 685.0Z" fill="#5294cc"/>
<path d="M1036.5 652.1L1046.0 646.4 1034.6 657.1 1025.1 662.7Z" fill="#54b8da"/>
<path d="M1026.0 661.7L1035.4 656.0 1024.1 665.8 1014.6 671.4Z" fill="#4db1de"/>
<path d="M1015.6 670.4L1024.9 664.7 1013.6 673.5 1004.2 679.2Z" fill="#5299cf"/>
<path d="M1045.7 646.2L1055.1 640.5 1043.8 651.1 1034.3 656.9Z" fill="#56b9d8"/>
<path d="M1035.2 655.8L1044.6 650.1 1033.2 659.8 1023.8 665.5Z" fill="#4cb6e2"/>
<path d="M1024.8 664.5L1034.1 658.8 1022.7 667.5 1013.4 673.3Z" fill="#519ed3"/>
<path d="M1027.0 658.5L1054.6 640.9 1023.1 667.0 995.6 684.6Z" fill="none" stroke="#111" stroke-width="1.1" stroke-linejoin="round"/>
<path d="M881.1 752.2L890.8 746.3 879.6 750.5 870.0 756.5Z" fill="#444e91"/>
<path d="M870.8 756.8L880.7 750.8 869.9 754.0 860.0 760.1Z" fill="#434b8e"/>
<path d="M860.8 760.5L870.8 754.4 860.0 756.8 850.0 762.8Z" fill="#434b8e"/>
<path d="M890.6 747.1L900.2 741.1 889.1 745.4 879.5 751.4Z" fill="#454f92"/>
<path d="M880.3 751.7L890.2 745.6 879.3 748.8 869.5 755.0Z" fill="#434b8e"/>
<path d="M870.2 755.4L880.2 749.2 869.5 751.6 859.5 757.7Z" fill="#434b8e"/>
<path d="M900.0 742.0L909.7 735.9 898.5 740.1 888.9 746.2Z" fill="#454f93"/>
<path d="M889.8 746.6L899.6 740.3 888.7 743.6 878.9 749.8Z" fill="#434c8f"/>
<path d="M879.7 750.2L889.6 744.0 878.9 746.3 869.0 752.5Z" fill="#434b8e"/>
<path d="M880.7 751.7L909.0 736.2 879.0 747.0 850.7 762.6Z" fill="none" stroke="#111" stroke-width="1.1" stroke-linejoin="round"/>
<path d="M355.2 627.5L366.3 624.6 356.4 603.6 345.2 606.5Z" fill="#6cc0c0"/>
<path d="M345.7 607.6L356.9 604.7 346.9 582.9 335.8 585.8Z" fill="#72c0b9"/>
<path d="M336.3 586.9L347.4 584.1 337.5 561.5 326.3 564.3Z" fill="#77c0b1"/>
<path d="M365.8 624.8L376.9 621.8 366.9 600.8 355.8 603.8Z" fill="#6cc0c0"/>
<path d="M356.3 605.0L367.4 602.0 357.5 580.2 346.4 583.2Z" fill="#71c0b9"/>
<path d="M346.9 584.3L358.0 581.4 348.0 558.8 336.9 561.7Z" fill="#77c0b2"/>
<path d="M376.3 622.0L387.3 618.9 377.4 598.0 366.4 601.1Z" fill="#6cc0c0"/>
<path d="M366.9 602.2L377.9 599.2 368.0 577.4 356.9 580.5Z" fill="#71c0b9"/>
<path d="M357.4 581.6L368.5 578.6 358.6 556.1 347.5 559.1Z" fill="#77c0b2"/>
<path d="M355.2 626.8L386.8 618.5 358.5 556.8 326.8 564.8Z" fill="none" stroke="#111" stroke-width="2.0" stroke-linejoin="round"/>
<path d="M471.1 761.2L482.1 757.6 472.2 744.0 461.2 747.6Z" fill="#444d90"/>
<path d="M461.8 748.6L472.8 745.0 462.8 730.6 451.8 734.1Z" fill="#465295"/>
<path d="M452.4 735.2L463.4 731.7 453.5 716.5 442.5 719.9Z" fill="#4a5a9e"/>
<path d="M481.5 758.0L492.4 754.3 482.5 740.8 471.5 744.4Z" fill="#444d90"/>
<path d="M472.1 745.4L483.1 741.8 473.2 727.4 462.2 731.0Z" fill="#465195"/>
<path d="M462.8 732.0L473.7 728.5 463.8 713.3 452.8 716.8Z" fill="#4a5a9e"/>
<path d="M491.8 754.7L502.7 751.0 492.8 737.4 481.8 741.2Z" fill="#444d90"/>
<path d="M482.4 742.2L493.4 738.5 483.4 724.1 472.5 727.8Z" fill="#465195"/>
<path d="M473.1 728.8L484.0 725.1 474.1 710.0 463.2 713.6Z" fill="#4a5a9d"/>
<path d="M471.2 760.5L502.1 750.7 474.1 710.7 443.1 720.3Z" fill="none" stroke="#111" stroke-width="2.0" stroke-linejoin="round"/>
<path d="M383.5 682.2L394.6 679.2 384.7 660.6 373.5 663.6Z" fill="#4eaedd"/>
<path d="M374.0 664.8L385.2 661.8 375.3 642.4 364.1 645.4Z" fill="#54b9d9"/>
<path d="M364.6 646.5L375.8 643.6 365.8 623.4 354.7 626.3Z" fill="#60bccd"/>
<path d="M394.0 679.4L405.1 676.3 395.2 657.8 384.1 660.9Z" fill="#4eaddc"/>
<path d="M384.6 662.0L395.7 658.9 385.8 639.6 374.7 642.7Z" fill="#54b8da"/>
<path d="M375.2 643.8L386.3 640.8 376.4 620.6 365.3 623.7Z" fill="#60bccd"/>
<path d="M404.5 676.6L415.5 673.4 405.6 654.9 394.6 658.1Z" fill="#4eacdb"/>
<path d="M395.1 659.2L406.2 656.0 396.3 636.7 385.2 639.9Z" fill="#53b8da"/>
<path d="M385.7 641.0L396.8 637.9 386.9 617.8 375.8 620.9Z" fill="#5fbcce"/>
<path d="M383.5 681.5L415.0 673.0 386.8 618.5 355.2 626.8Z" fill="none" stroke="#111" stroke-width="2.0" stroke-linejoin="round"/>
<path d="M940.0 717.1L949.6 712.1 938.4 720.1 928.8 725.1Z" fill="#536daf"/>
<path d="M929.9 724.2L939.4 719.1 928.1 726.1 918.6 731.3Z" fill="#4d60a3"/>
<path d="M919.9 730.9L929.2 725.2 917.7 730.8 908.4 736.5Z" fill="#475498"/>
<path d="M949.4 711.8L959.0 706.7 947.8 714.6 938.2 719.8Z" fill="#546fb1"/>
<path d="M939.3 719.0L948.7 713.7 937.4 720.6 928.0 725.9Z" fill="#4e62a6"/>
<path d="M929.3 725.7L938.5 719.8 927.1 725.3 917.8 731.2Z" fill="#48579b"/>
<path d="M958.8 706.4L968.4 701.2 957.1 709.1 947.5 714.4Z" fill="#5571b4"/>
<path d="M948.7 713.6L958.1 708.2 946.7 715.1 937.3 720.5Z" fill="#4f65a8"/>
<path d="M938.6 720.3L947.9 714.3 936.4 719.8 927.2 725.8Z" fill="#49599d"/>
<path d="M939.6 717.7L967.8 701.6 937.1 719.9 909.0 736.2Z" fill="none" stroke="#111" stroke-width="1.1" stroke-linejoin="round"/>
<path d="M675.7 817.3L686.4 812.5 676.1 808.9 665.5 813.7Z" fill="#424a8c"/>
<path d="M666.2 814.4L676.8 809.6 666.6 805.2 656.0 810.0Z" fill="#424a8c"/>
<path d="M656.6 810.6L667.3 805.9 657.1 800.6 646.5 805.4Z" fill="#424a8c"/>
<path d="M685.6 813.3L696.3 808.4 686.0 804.8 675.4 809.7Z" fill="#424a8c"/>
<path d="M676.1 810.3L686.7 805.4 676.5 801.0 665.9 805.9Z" fill="#424a8c"/>
<path d="M666.6 806.6L677.2 801.7 667.0 796.5 656.4 801.3Z" fill="#424a8c"/>
<path d="M695.5 809.1L706.1 804.1 695.9 800.5 685.3 805.5Z" fill="#424a8c"/>
<path d="M686.0 806.2L696.5 801.2 686.3 796.8 675.8 801.7Z" fill="#424a8c"/>
<path d="M676.4 802.4L687.0 797.5 676.8 792.2 666.3 797.2Z" fill="#424a8c"/>
<path d="M675.8 816.6L705.4 804.1 676.8 792.9 647.2 805.4Z" fill="none" stroke="#111" stroke-width="1.9" stroke-linejoin="round"/>
<path d="M1175.0 526.9L1184.3 520.7 1172.4 536.8 1163.1 543.1Z" fill="#75b76a"/>
<path d="M1163.7 541.9L1173.0 535.6 1161.2 550.8 1151.9 557.1Z" fill="#7aba8d"/>
<path d="M1152.6 556.0L1161.9 549.7 1150.2 563.9 1140.9 570.2Z" fill="#79bea2"/>
<path d="M1184.0 520.5L1193.3 514.2 1181.3 530.3 1172.1 536.7Z" fill="#74b664"/>
<path d="M1172.7 535.5L1182.0 529.1 1170.2 544.3 1160.9 550.7Z" fill="#79ba87"/>
<path d="M1161.6 549.5L1170.9 543.1 1159.1 557.3 1149.9 563.7Z" fill="#79bd9d"/>
<path d="M1193.0 514.0L1202.2 507.6 1190.3 523.7 1181.0 530.1Z" fill="#73b65d"/>
<path d="M1181.7 528.9L1190.9 522.5 1179.1 537.6 1169.9 544.1Z" fill="#78b980"/>
<path d="M1170.6 542.9L1179.8 536.5 1168.0 550.7 1158.8 557.2Z" fill="#79bc99"/>
<path d="M1174.8 527.6L1201.7 508.1 1168.3 550.0 1141.4 569.7Z" fill="none" stroke="#111" stroke-width="1.6" stroke-linejoin="round"/>
<path d="M617.1 817.8L627.9 813.3 617.7 807.2 607.0 811.6Z" fill="#424a8c"/>
<path d="M607.6 812.4L618.4 808.0 608.3 801.0 597.5 805.4Z" fill="#424a8c"/>
<path d="M598.2 806.2L608.9 801.8 598.9 794.1 588.1 798.4Z" fill="#424a8c"/>
<path d="M627.1 814.0L637.9 809.4 627.8 803.3 617.0 807.8Z" fill="#424a8c"/>
<path d="M617.7 808.6L628.4 804.1 618.3 797.2 607.6 801.7Z" fill="#424a8c"/>
<path d="M608.2 802.4L619.0 798.0 608.9 790.2 598.1 794.7Z" fill="#424a8c"/>
<path d="M637.1 810.1L647.9 805.4 637.7 799.3 627.0 804.0Z" fill="#424a8c"/>
<path d="M627.7 804.7L638.4 800.1 628.3 793.2 617.6 797.8Z" fill="#424a8c"/>
<path d="M618.2 798.6L628.9 794.0 618.9 786.2 608.2 790.8Z" fill="#424a8c"/>
<path d="M617.1 817.1L647.2 805.4 618.8 786.9 588.8 798.6Z" fill="none" stroke="#111" stroke-width="2.0" stroke-linejoin="round"/>
<path d="M734.3 808.8L744.9 803.6 734.5 802.5 724.0 807.7Z" fill="#424a8c"/>
<path d="M724.6 808.3L735.2 803.1 724.8 801.2 714.3 806.4Z" fill="#424a8c"/>
<path d="M715.0 807.0L725.5 801.9 715.2 799.1 704.7 804.2Z" fill="#424a8c"/>
<path d="M744.2 804.4L754.6 799.2 744.3 798.1 733.8 803.4Z" fill="#424a8c"/>
<path d="M734.5 803.9L744.9 798.7 734.6 796.8 724.1 802.0Z" fill="#424a8c"/>
<path d="M724.8 802.6L735.3 797.4 725.0 794.7 714.5 799.9Z" fill="#424a8c"/>
<path d="M753.9 800.0L764.4 794.7 754.0 793.6 743.6 799.0Z" fill="#424a8c"/>
<path d="M744.2 799.5L754.7 794.2 744.3 792.3 733.9 797.6Z" fill="#424a8c"/>
<path d="M734.6 798.2L745.0 792.9 734.7 790.2 724.3 795.5Z" fill="#424a8c"/>
<path d="M734.4 808.1L763.7 794.8 734.7 790.9 705.4 804.1Z" fill="none" stroke="#111" stroke-width="1.6" stroke-linejoin="round"/>
<path d="M1263.2 436.7L1272.3 430.0 1260.0 448.9 1250.9 455.7Z" fill="#73b540"/>
<path d="M1251.5 454.5L1260.7 447.7 1248.5 465.7 1239.4 472.5Z" fill="#72b543"/>
<path d="M1240.0 471.3L1249.1 464.5 1237.1 481.5 1228.0 488.3Z" fill="#71b445"/>
<path d="M1272.1 429.8L1281.2 423.0 1268.9 441.9 1259.8 448.8Z" fill="#73b540"/>
<path d="M1260.4 447.6L1269.5 440.7 1257.3 458.7 1248.2 465.6Z" fill="#72b542"/>
<path d="M1248.9 464.4L1258.0 457.5 1245.9 474.5 1236.8 481.4Z" fill="#71b445"/>
<path d="M1280.9 422.9L1290.0 415.9 1277.7 434.9 1268.6 441.8Z" fill="#73b540"/>
<path d="M1269.3 440.6L1278.3 433.7 1266.1 451.6 1257.1 458.6Z" fill="#72b542"/>
<path d="M1257.7 457.4L1266.8 450.4 1254.7 467.4 1245.6 474.3Z" fill="#71b444"/>
<path d="M1263.0 437.4L1289.6 416.5 1254.9 466.7 1228.4 487.8Z" fill="none" stroke="#111" stroke-width="1.8" stroke-linejoin="round"/>
<path d="M1087.1 606.2L1096.6 600.4 1085.0 613.8 1075.5 619.6Z" fill="#71c0b9"/>
<path d="M1076.2 618.5L1085.7 612.7 1074.2 625.1 1064.7 630.9Z" fill="#6cc0bf"/>
<path d="M1065.5 629.8L1075.0 624.0 1063.5 635.6 1054.1 641.4Z" fill="#62bdca"/>
<path d="M1096.2 600.2L1105.7 594.3 1094.1 607.7 1084.7 613.6Z" fill="#72c0b8"/>
<path d="M1085.4 612.5L1094.8 606.6 1083.3 619.1 1073.9 624.9Z" fill="#6dc0be"/>
<path d="M1074.7 623.8L1084.1 617.9 1072.6 629.5 1063.2 635.4Z" fill="#64bec8"/>
<path d="M1105.4 594.2L1114.8 588.2 1103.2 601.6 1093.8 607.5Z" fill="#73c0b7"/>
<path d="M1094.5 606.4L1103.9 600.4 1092.4 612.9 1083.0 618.8Z" fill="#6ec0bd"/>
<path d="M1083.8 617.7L1093.1 611.8 1081.7 623.3 1072.3 629.3Z" fill="#66bec6"/>
<path d="M1086.9 606.9L1114.3 588.7 1081.9 622.6 1054.6 640.9Z" fill="none" stroke="#111" stroke-width="1.3" stroke-linejoin="round"/>
<path d="M236.9 425.8L248.2 423.6 238.1 395.0 226.7 397.2Z" fill="#76b63e"/>
<path d="M227.2 398.4L238.5 396.3 228.3 366.8 217.0 368.9Z" fill="#8fbe3e"/>
<path d="M217.4 370.2L228.7 368.1 218.5 337.8 207.2 339.8Z" fill="#a1c541"/>
<path d="M247.8 423.8L259.1 421.5 248.9 392.9 237.6 395.2Z" fill="#75b53e"/>
<path d="M238.0 396.4L249.3 394.2 239.2 364.8 227.9 367.0Z" fill="#8fbe3e"/>
<path d="M228.3 368.2L239.6 366.0 229.4 335.8 218.1 337.9Z" fill="#a1c541"/>
<path d="M258.6 421.6L269.8 419.2 259.7 390.7 248.5 393.1Z" fill="#74b53e"/>
<path d="M248.9 394.3L260.1 392.0 250.0 362.6 238.7 364.9Z" fill="#8ebe3e"/>
<path d="M239.2 366.2L250.4 363.9 240.3 333.7 229.0 335.9Z" fill="#a0c541"/>
<path d="M236.9 425.1L269.4 418.7 240.2 334.4 207.6 340.4Z" fill="none" stroke="#111" stroke-width="2.0" stroke-linejoin="round"/>
<path d="M558.3 810.1L569.2 806.0 559.2 797.4 548.2 801.4Z" fill="#424a8c"/>
<path d="M548.9 802.3L559.8 798.2 549.8 788.8 538.9 792.8Z" fill="#424a8d"/>
<path d="M539.5 793.7L550.4 789.7 540.4 779.4 529.5 783.4Z" fill="#424a8d"/>
<path d="M568.5 806.6L579.4 802.4 569.3 793.8 558.4 797.9Z" fill="#424a8c"/>
<path d="M559.1 798.8L569.9 794.6 559.9 785.2 549.0 789.3Z" fill="#424a8d"/>
<path d="M549.7 790.2L560.5 786.1 550.5 775.8 539.7 779.9Z" fill="#424a8d"/>
<path d="M578.6 802.9L589.5 798.7 579.4 790.1 568.6 794.3Z" fill="#424a8c"/>
<path d="M569.2 795.2L580.0 791.0 570.0 781.5 559.2 785.7Z" fill="#424a8d"/>
<path d="M559.8 786.6L570.7 782.4 560.7 772.2 549.8 776.3Z" fill="#424a8d"/>
<path d="M558.3 809.4L588.8 798.6 560.6 772.9 530.2 783.6Z" fill="none" stroke="#111" stroke-width="2.0" stroke-linejoin="round"/>
<path d="M265.9 502.9L277.2 500.6 267.2 474.5 255.8 476.9Z" fill="#71b446"/>
<path d="M256.3 478.1L267.6 475.8 257.5 448.9 246.2 451.1Z" fill="#72b443"/>
<path d="M246.6 452.4L257.9 450.1 247.8 422.4 236.5 424.6Z" fill="#73b541"/>
<path d="M276.7 500.8L288.0 498.3 277.9 472.3 266.7 474.7Z" fill="#71b446"/>
<path d="M267.1 475.9L278.4 473.6 268.3 446.7 257.0 449.1Z" fill="#72b444"/>
<path d="M257.4 450.3L268.7 447.9 258.6 420.2 247.3 422.5Z" fill="#73b541"/>
<path d="M287.5 498.5L298.7 496.0 288.7 470.0 277.4 472.5Z" fill="#71b446"/>
<path d="M277.9 473.7L289.1 471.2 279.1 444.4 267.8 446.9Z" fill="#72b444"/>
<path d="M268.3 448.1L279.5 445.7 269.4 418.0 258.2 420.4Z" fill="#73b541"/>
<path d="M265.9 502.3L298.2 495.5 269.4 418.7 236.9 425.1Z" fill="none" stroke="#111" stroke-width="2.0" stroke-linejoin="round"/>
<path d="M793.1 792.1L803.4 786.6 792.9 788.1 782.5 793.6Z" fill="#434b8d"/>
<path d="M783.2 794.0L793.6 788.6 783.1 789.2 772.7 794.7Z" fill="#424a8d"/>
<path d="M773.4 795.2L783.8 789.7 773.4 789.5 763.0 795.0Z" fill="#424a8d"/>
<path d="M802.8 787.5L813.1 781.9 802.5 783.4 792.2 789.0Z" fill="#434b8d"/>
<path d="M792.9 789.5L803.2 783.9 792.7 784.5 782.4 790.1Z" fill="#424a8d"/>
<path d="M783.1 790.6L793.4 785.0 783.0 784.8 772.7 790.4Z" fill="#424a8d"/>
<path d="M812.5 782.8L822.7 777.1 812.1 778.6 801.9 784.3Z" fill="#434b8d"/>
<path d="M802.6 784.8L812.9 779.1 802.3 779.7 792.1 785.4Z" fill="#424a8d"/>
<path d="M792.8 785.9L803.1 780.3 792.6 780.1 782.3 785.7Z" fill="#424a8d"/>
<path d="M793.0 791.4L822.0 777.3 792.6 780.8 763.7 794.8Z" fill="none" stroke="#111" stroke-width="1.3" stroke-linejoin="round"/>
<path d="M411.6 729.7L422.8 726.6 412.9 710.5 401.7 713.6Z" fill="#526aad"/>
<path d="M402.2 714.7L413.4 711.6 403.5 694.7 392.3 697.8Z" fill="#587abb"/>
<path d="M392.9 698.8L404.0 695.8 394.1 678.0 382.9 681.1Z" fill="#5393cc"/>
<path d="M422.1 726.9L433.3 723.7 423.3 707.6 412.2 710.8Z" fill="#516aac"/>
<path d="M412.8 711.9L423.9 708.7 414.0 691.8 402.8 695.0Z" fill="#5879ba"/>
<path d="M403.4 696.1L414.5 692.9 404.6 675.2 393.5 678.3Z" fill="#5392cb"/>
<path d="M432.6 724.0L443.7 720.6 433.8 704.6 422.7 707.9Z" fill="#5169ac"/>
<path d="M423.2 709.0L434.3 705.7 424.4 688.8 413.3 692.1Z" fill="#5878ba"/>
<path d="M413.9 693.2L424.9 689.9 415.0 672.3 404.0 675.5Z" fill="#5391ca"/>
<path d="M411.7 729.0L443.1 720.3 415.0 673.0 383.5 681.5Z" fill="none" stroke="#111" stroke-width="2.0" stroke-linejoin="round"/>
<path d="M294.6 572.6L305.9 570.1 295.9 546.6 284.6 549.0Z" fill="#79bc9a"/>
<path d="M285.1 550.2L296.4 547.8 286.4 523.4 275.0 525.8Z" fill="#78b97c"/>
<path d="M275.5 527.0L286.8 524.6 276.8 499.4 265.5 501.7Z" fill="#72b553"/>
<path d="M305.4 570.3L316.7 567.7 306.7 544.2 295.4 546.8Z" fill="#79bd9b"/>
<path d="M295.9 548.0L307.1 545.4 297.1 521.1 285.8 523.6Z" fill="#78b97d"/>
<path d="M286.3 524.8L297.6 522.3 287.5 497.1 276.3 499.6Z" fill="#72b555"/>
<path d="M316.1 567.9L327.3 565.3 317.3 541.8 306.1 544.4Z" fill="#79bd9c"/>
<path d="M306.6 545.6L317.8 543.0 307.8 518.7 296.6 521.3Z" fill="#78b97f"/>
<path d="M297.1 522.5L308.3 519.9 298.3 494.8 287.0 497.3Z" fill="#72b556"/>
<path d="M294.7 571.9L326.8 564.8 298.2 495.5 265.9 502.3Z" fill="none" stroke="#111" stroke-width="2.0" stroke-linejoin="round"/>
<path d="M999.3 674.7L1009.0 669.4 997.7 680.1 988.0 685.4Z" fill="#4db6e1"/>
<path d="M988.8 684.3L998.5 679.0 987.2 688.8 977.6 694.1Z" fill="#519ed3"/>
<path d="M978.4 693.1L988.0 687.8 976.8 696.6 967.2 702.0Z" fill="#5587c4"/>
<path d="M1008.7 669.1L1018.3 663.8 1007.0 674.5 997.3 679.9Z" fill="#4eb7e0"/>
<path d="M998.2 678.8L1007.8 673.4 996.5 683.2 986.9 688.6Z" fill="#50a3d6"/>
<path d="M987.8 687.5L997.3 682.1 986.0 691.0 976.5 696.4Z" fill="#548bc6"/>
<path d="M1018.0 663.5L1027.6 658.1 1016.2 668.8 1006.6 674.2Z" fill="#50b7de"/>
<path d="M1007.5 673.2L1017.0 667.7 1005.7 677.5 996.2 682.9Z" fill="#4fa7d8"/>
<path d="M997.1 681.9L1006.5 676.4 995.2 685.2 985.8 690.8Z" fill="#5390c9"/>
<path d="M999.1 675.3L1027.0 658.5 995.6 684.6 967.8 701.6Z" fill="none" stroke="#111" stroke-width="1.1" stroke-linejoin="round"/>
<path d="M499.2 794.2L510.3 790.5 500.3 779.4 489.2 783.0Z" fill="#434b8d"/>
<path d="M489.9 784.0L500.9 780.3 490.9 768.4 479.9 772.0Z" fill="#434b8d"/>
<path d="M480.5 773.0L491.5 769.4 481.6 756.6 470.5 760.2Z" fill="#434b8e"/>
<path d="M509.6 791.0L520.6 787.2 510.6 776.1 499.6 779.9Z" fill="#434b8d"/>
<path d="M500.2 780.8L511.2 777.1 501.2 765.1 490.2 768.8Z" fill="#434b8d"/>
<path d="M490.8 769.8L501.8 766.1 491.9 753.3 480.9 757.0Z" fill="#434b8e"/>
<path d="M519.9 787.7L530.8 783.8 520.8 772.7 509.9 776.6Z" fill="#434b8d"/>
<path d="M510.5 777.5L521.4 773.7 511.5 761.8 500.5 765.6Z" fill="#434b8d"/>
<path d="M501.1 766.5L512.1 762.7 502.1 750.0 491.2 753.8Z" fill="#434b8e"/>
<path d="M499.3 793.5L530.2 783.6 502.1 750.7 471.2 760.5Z" fill="none" stroke="#111" stroke-width="2.0" stroke-linejoin="round"/>
<path d="M852.5 766.8L862.2 761.3 851.0 765.6 841.3 771.2Z" fill="#434c8f"/>
<path d="M842.1 771.6L852.2 765.8 841.3 769.0 831.3 774.8Z" fill="#434b8e"/>
<path d="M832.1 775.2L842.2 769.5 831.5 771.8 821.4 777.6Z" fill="#434b8d"/>
<path d="M862.1 762.1L871.8 756.4 860.6 760.7 850.9 766.4Z" fill="#444d90"/>
<path d="M851.7 766.7L861.7 760.9 850.9 764.1 840.9 770.0Z" fill="#434b8e"/>
<path d="M841.7 770.4L851.8 764.5 841.1 766.9 831.0 772.8Z" fill="#434b8e"/>
<path d="M871.6 757.2L881.3 751.4 870.1 755.7 860.5 761.5Z" fill="#444d90"/>
<path d="M861.3 761.8L871.2 755.9 860.4 759.1 850.5 765.1Z" fill="#434b8e"/>
<path d="M851.2 765.5L861.3 759.5 850.6 761.9 840.5 767.8Z" fill="#434b8e"/>
<path d="M852.0 766.4L880.7 751.7 850.7 762.6 822.0 777.3Z" fill="none" stroke="#111" stroke-width="1.1" stroke-linejoin="round"/>
<path d="M323.2 634.9L334.5 632.3 324.5 611.2 313.2 613.8Z" fill="#6dc0bf"/>
<path d="M313.7 615.0L325.0 612.4 315.0 590.5 303.7 593.0Z" fill="#72c0b8"/>
<path d="M304.2 594.2L315.5 591.7 305.5 568.9 294.2 571.4Z" fill="#78c0b0"/>
<path d="M333.9 632.5L345.1 629.8 335.2 608.8 323.9 611.4Z" fill="#6dc0bf"/>
<path d="M324.4 612.6L335.7 609.9 325.7 588.1 314.4 590.7Z" fill="#72c0b8"/>
<path d="M314.9 591.9L326.2 589.2 316.2 566.6 304.9 569.1Z" fill="#77c0b1"/>
<path d="M344.6 630.0L355.8 627.2 345.8 606.2 334.6 609.0Z" fill="#6cc0bf"/>
<path d="M335.1 610.2L346.3 607.4 336.3 585.5 325.1 588.3Z" fill="#72c0b8"/>
<path d="M325.6 589.5L336.8 586.7 326.9 564.1 315.6 566.8Z" fill="#77c0b1"/>
<path d="M323.2 634.2L355.2 626.8 326.8 564.8 294.7 571.9Z" fill="none" stroke="#111" stroke-width="2.0" stroke-linejoin="round"/>
<path d="M439.8 770.1L450.9 766.8 441.0 753.2 429.8 756.4Z" fill="#444e91"/>
<path d="M430.4 757.4L441.6 754.2 431.6 739.7 420.4 743.0Z" fill="#465296"/>
<path d="M421.0 744.0L432.2 740.8 422.2 725.5 411.1 728.7Z" fill="#4b5da0"/>
<path d="M450.3 767.2L461.4 763.8 451.4 750.2 440.3 753.6Z" fill="#444e91"/>
<path d="M440.9 754.6L452.0 751.2 442.1 736.8 430.9 740.1Z" fill="#465296"/>
<path d="M431.5 741.1L442.6 737.8 432.7 722.6 421.6 725.9Z" fill="#4b5c9f"/>
<path d="M460.7 764.2L471.8 760.8 461.8 747.2 450.8 750.6Z" fill="#444d91"/>
<path d="M451.3 751.6L462.4 748.2 452.5 733.8 441.4 737.2Z" fill="#465296"/>
<path d="M442.0 738.2L453.0 734.8 443.1 719.6 432.0 722.9Z" fill="#4a5b9f"/>
<path d="M439.8 769.4L471.2 760.5 443.1 720.3 411.7 729.0Z" fill="none" stroke="#111" stroke-width="2.0" stroke-linejoin="round"/>
<path d="M911.4 732.5L921.3 727.7 910.2 735.8 900.4 740.5Z" fill="#5067aa"/>
<path d="M901.3 739.6L911.1 734.8 899.9 741.9 890.2 746.7Z" fill="#4a5a9e"/>
<path d="M891.4 746.1L900.9 741.0 889.5 746.9 880.0 752.0Z" fill="#465296"/>
<path d="M921.0 727.4L930.8 722.6 919.7 730.6 909.9 735.5Z" fill="#5168ab"/>
<path d="M910.9 734.6L920.5 729.6 909.3 736.7 899.7 741.6Z" fill="#4b5c9f"/>
<path d="M901.0 741.1L910.4 735.8 898.9 741.6 889.5 746.9Z" fill="#465396"/>
<path d="M930.5 722.3L940.2 717.4 929.1 725.4 919.3 730.3Z" fill="#526aad"/>
<path d="M920.4 729.4L930.0 724.4 918.7 731.4 909.1 736.5Z" fill="#4c5ea1"/>
<path d="M910.4 736.1L919.8 730.6 908.3 736.2 899.0 741.8Z" fill="#475397"/>
<path d="M911.2 733.1L939.6 717.7 909.0 736.2 880.7 751.7Z" fill="none" stroke="#111" stroke-width="1.1" stroke-linejoin="round"/>
<path d="M1236.4 456.8L1245.6 450.4 1233.4 469.4 1224.1 475.9Z" fill="#72b542"/>
<path d="M1224.8 474.7L1234.0 468.2 1221.9 486.2 1212.6 492.7Z" fill="#71b444"/>
<path d="M1213.3 491.5L1222.5 485.0 1210.5 502.1 1201.3 508.6Z" fill="#71b447"/>
<path d="M1245.3 450.2L1254.6 443.6 1242.3 462.6 1233.1 469.2Z" fill="#73b541"/>
<path d="M1233.7 468.0L1242.9 461.4 1230.8 479.4 1221.6 486.1Z" fill="#72b444"/>
<path d="M1222.2 484.8L1231.4 478.3 1219.4 495.3 1210.2 501.9Z" fill="#71b446"/>
<path d="M1254.3 443.5L1263.5 436.8 1251.2 455.8 1242.0 462.5Z" fill="#73b541"/>
<path d="M1242.6 461.3L1251.8 454.6 1239.6 472.6 1230.5 479.3Z" fill="#72b443"/>
<path d="M1231.1 478.1L1240.3 471.4 1228.2 488.4 1219.1 495.1Z" fill="#71b446"/>
<path d="M1236.2 457.5L1263.0 437.4 1228.4 487.8 1201.7 508.1Z" fill="none" stroke="#111" stroke-width="1.8" stroke-linejoin="round"/>
<path d="M1147.7 545.7L1157.1 539.7 1145.3 555.9 1135.9 562.0Z" fill="#78b97d"/>
<path d="M1136.5 560.8L1145.9 554.7 1134.2 570.0 1124.8 576.0Z" fill="#79bc98"/>
<path d="M1125.5 574.9L1134.9 568.8 1123.2 583.1 1113.8 589.2Z" fill="#78c0ad"/>
<path d="M1156.8 539.6L1166.2 533.5 1154.3 549.6 1145.0 555.8Z" fill="#77b877"/>
<path d="M1145.6 554.6L1155.0 548.5 1143.2 563.7 1133.9 569.8Z" fill="#7abb95"/>
<path d="M1134.5 568.6L1143.9 562.5 1132.2 576.8 1122.9 582.9Z" fill="#78bfa9"/>
<path d="M1165.9 533.3L1175.3 527.1 1163.4 543.3 1154.0 549.5Z" fill="#76b871"/>
<path d="M1154.7 548.3L1164.0 542.1 1152.2 557.3 1142.9 563.5Z" fill="#7abb91"/>
<path d="M1143.6 562.3L1152.9 556.1 1141.2 570.4 1131.9 576.6Z" fill="#79bea6"/>
<path d="M1147.6 546.4L1174.8 527.6 1141.4 569.7 1114.3 588.7Z" fill="none" stroke="#111" stroke-width="1.6" stroke-linejoin="round"/>
<path d="M351.5 689.9L362.8 687.1 352.9 668.5 341.6 671.3Z" fill="#4db3e0"/>
<path d="M342.1 672.4L353.4 669.7 343.4 650.2 332.1 652.9Z" fill="#56b9d7"/>
<path d="M332.6 654.0L343.9 651.4 334.0 631.1 322.7 633.8Z" fill="#62bdcb"/>
<path d="M362.2 687.4L373.5 684.6 363.5 666.0 352.3 668.8Z" fill="#4db1df"/>
<path d="M352.8 669.9L364.0 667.1 354.1 647.7 342.8 650.5Z" fill="#55b9d8"/>
<path d="M343.3 651.6L354.6 648.9 344.6 628.6 333.4 631.4Z" fill="#61bdcb"/>
<path d="M372.9 684.9L384.1 681.9 374.1 663.4 362.9 666.3Z" fill="#4db0de"/>
<path d="M363.4 667.4L374.6 664.5 364.7 645.1 353.5 648.0Z" fill="#55b9d9"/>
<path d="M354.0 649.1L365.2 646.3 355.3 626.1 344.1 628.9Z" fill="#61bccc"/>
<path d="M351.6 689.2L383.5 681.5 355.2 626.8 323.2 634.2Z" fill="none" stroke="#111" stroke-width="2.0" stroke-linejoin="round"/>
<path d="M645.7 829.0L656.5 824.5 646.3 820.9 635.5 825.4Z" fill="#424a8c"/>
<path d="M636.1 826.1L646.9 821.6 636.7 817.1 625.9 821.6Z" fill="#424a8c"/>
<path d="M626.6 822.3L637.4 817.9 627.2 812.6 616.4 817.0Z" fill="#424a8c"/>
<path d="M655.7 825.2L666.5 820.6 656.3 817.0 645.5 821.6Z" fill="#424a8c"/>
<path d="M646.2 822.3L656.9 817.7 646.7 813.2 636.0 817.8Z" fill="#424a8c"/>
<path d="M636.6 818.5L647.4 814.0 637.2 808.7 626.5 813.2Z" fill="#424a8c"/>
<path d="M665.7 821.3L676.5 816.6 666.2 813.0 655.5 817.7Z" fill="#424a8c"/>
<path d="M656.2 818.4L666.9 813.7 656.7 809.2 646.0 813.9Z" fill="#424a8c"/>
<path d="M646.6 814.6L657.4 810.0 647.2 804.7 636.5 809.4Z" fill="#424a8c"/>
<path d="M645.7 828.3L675.8 816.6 647.2 805.4 617.1 817.1Z" fill="none" stroke="#111" stroke-width="1.9" stroke-linejoin="round"/>
<path d="M704.6 821.3L715.3 816.4 705.0 815.3 694.3 820.2Z" fill="#424a8c"/>
<path d="M695.0 820.8L705.6 815.9 695.3 814.0 684.7 818.9Z" fill="#424a8c"/>
<path d="M685.3 819.5L696.0 814.6 685.7 811.9 675.1 816.7Z" fill="#424a8c"/>
<path d="M714.6 817.2L725.2 812.2 714.8 811.1 704.2 816.1Z" fill="#424a8c"/>
<path d="M704.9 816.7L715.5 811.7 705.2 809.8 694.6 814.8Z" fill="#424a8c"/>
<path d="M695.3 815.4L705.9 810.5 695.6 807.7 685.0 812.6Z" fill="#424a8c"/>
<path d="M724.5 813.0L735.0 808.0 724.7 806.9 714.1 812.0Z" fill="#424a8c"/>
<path d="M714.8 812.5L725.4 807.5 715.0 805.6 704.5 810.6Z" fill="#424a8c"/>
<path d="M705.1 811.2L715.7 806.2 705.4 803.4 694.9 808.5Z" fill="#424a8c"/>
<path d="M704.7 820.6L734.4 808.1 705.4 804.1 675.8 816.6Z" fill="none" stroke="#111" stroke-width="1.6" stroke-linejoin="round"/>
<path d="M1325.6 356.7L1334.7 349.7 1322.0 371.7 1312.9 378.6Z" fill="#a4c642"/>
<path d="M1313.5 377.4L1322.6 370.4 1310.0 391.4 1300.9 398.3Z" fill="#95c03f"/>
<path d="M1301.6 397.1L1310.6 390.1 1298.2 410.0 1289.1 417.0Z" fill="#81b93e"/>
<path d="M1334.4 349.6L1343.5 342.6 1330.8 364.5 1321.7 371.5Z" fill="#a7c743"/>
<path d="M1322.3 370.3L1331.4 363.3 1318.8 384.2 1309.8 391.2Z" fill="#98c140"/>
<path d="M1310.4 390.0L1319.4 382.9 1307.0 402.8 1297.9 409.9Z" fill="#85bb3e"/>
<path d="M1343.2 342.4L1352.3 335.3 1339.5 357.2 1330.5 364.4Z" fill="#aac843"/>
<path d="M1331.1 363.1L1340.1 356.0 1327.6 376.9 1318.5 384.0Z" fill="#9bc240"/>
<path d="M1319.2 382.8L1328.2 375.6 1315.7 395.5 1306.7 402.7Z" fill="#8abc3e"/>
<path d="M1325.4 357.3L1351.8 335.9 1315.9 394.8 1289.6 416.5Z" fill="none" stroke="#111" stroke-width="2.0" stroke-linejoin="round"/>
<path d="M586.6 828.6L597.6 824.5 587.5 818.3 576.5 822.5Z" fill="#424a8c"/>
<path d="M577.2 823.3L588.1 819.1 578.0 812.1 567.1 816.3Z" fill="#424a8c"/>
<path d="M567.7 817.1L578.6 813.0 568.6 805.2 557.6 809.2Z" fill="#424a8c"/>
<path d="M596.8 825.1L607.7 820.8 597.6 814.7 586.7 819.0Z" fill="#424a8c"/>
<path d="M587.4 819.7L598.2 815.5 588.2 808.5 577.3 812.7Z" fill="#424a8c"/>
<path d="M577.9 813.5L588.8 809.3 578.7 801.6 567.8 805.7Z" fill="#424a8c"/>
<path d="M607.0 821.5L617.8 817.1 607.7 811.0 596.9 815.3Z" fill="#424a8c"/>
<path d="M597.5 816.1L608.3 811.8 598.2 804.8 587.4 809.1Z" fill="#424a8c"/>
<path d="M588.1 809.9L598.9 805.6 588.8 797.9 578.0 802.1Z" fill="#424a8c"/>
<path d="M586.7 827.9L617.1 817.1 588.8 798.6 558.3 809.4Z" fill="none" stroke="#111" stroke-width="2.0" stroke-linejoin="round"/>
<path d="M1059.4 623.6L1069.0 618.1 1057.5 631.6 1047.9 637.1Z" fill="#6fc0bc"/>
<path d="M1048.6 635.9L1058.2 630.4 1046.7 642.9 1037.1 648.5Z" fill="#67bfc5"/>
<path d="M1037.8 647.4L1047.4 641.8 1036.0 653.4 1026.5 659.0Z" fill="#5cbbd1"/>
<path d="M1068.6 617.9L1078.2 612.3 1066.7 625.7 1057.1 631.3Z" fill="#70c0bb"/>
<path d="M1057.8 630.2L1067.4 624.6 1055.9 637.1 1046.4 642.7Z" fill="#69bfc3"/>
<path d="M1047.1 641.6L1056.6 636.0 1045.2 647.5 1035.7 653.2Z" fill="#5ebccf"/>
<path d="M1077.9 612.1L1087.4 606.4 1075.9 619.8 1066.3 625.5Z" fill="#70c0ba"/>
<path d="M1067.0 624.4L1076.6 618.7 1065.1 631.2 1055.6 636.9Z" fill="#6bc0c1"/>
<path d="M1056.3 635.8L1065.8 630.0 1054.4 641.6 1044.9 647.3Z" fill="#60bccd"/>
<path d="M1059.2 624.3L1086.9 606.9 1054.6 640.9 1027.0 658.5Z" fill="none" stroke="#111" stroke-width="1.4" stroke-linejoin="round"/>
<path d="M763.7 805.3L774.2 800.1 763.7 801.6 753.2 806.8Z" fill="#424a8d"/>
<path d="M753.9 807.3L764.4 802.1 753.9 802.7 743.4 807.9Z" fill="#424a8d"/>
<path d="M744.1 808.5L754.6 803.3 744.2 803.0 733.7 808.2Z" fill="#424a8d"/>
<path d="M773.5 801.0L784.0 795.6 773.4 797.1 763.0 802.5Z" fill="#424a8d"/>
<path d="M763.7 803.0L774.1 797.7 763.7 798.3 753.2 803.6Z" fill="#424a8d"/>
<path d="M753.9 804.1L764.4 798.8 753.9 798.6 743.5 803.9Z" fill="#424a8d"/>
<path d="M783.3 796.6L793.7 791.1 783.2 792.6 772.8 798.1Z" fill="#434b8d"/>
<path d="M773.5 798.5L783.9 793.1 773.4 793.8 763.0 799.2Z" fill="#424a8d"/>
<path d="M763.7 799.7L774.1 794.3 763.7 794.1 753.3 799.5Z" fill="#424a8d"/>
<path d="M763.7 804.6L793.0 791.4 763.7 794.8 734.4 808.1Z" fill="none" stroke="#111" stroke-width="1.2" stroke-linejoin="round"/>
<path d="M204.0 431.3L215.5 429.4 205.3 400.7 193.7 402.5Z" fill="#79b73e"/>
<path d="M194.2 403.8L205.7 401.9 195.4 372.4 183.9 374.1Z" fill="#91bf3e"/>
<path d="M184.3 375.4L195.8 373.6 185.6 343.1 174.0 344.9Z" fill="#a3c642"/>
<path d="M215.0 429.6L226.4 427.6 216.3 398.9 204.8 400.9Z" fill="#78b63e"/>
<path d="M205.2 402.1L216.7 400.2 206.5 370.6 195.0 372.5Z" fill="#91bf3e"/>
<path d="M195.4 373.8L206.9 371.9 196.6 341.5 185.1 343.3Z" fill="#a2c542"/>
<path d="M226.0 427.8L237.4 425.7 227.2 397.0 215.8 399.1Z" fill="#77b63e"/>
<path d="M216.2 400.3L227.6 398.3 217.4 368.8 206.0 370.8Z" fill="#90be3e"/>
<path d="M206.4 372.0L217.8 370.0 207.6 339.7 196.2 341.6Z" fill="#a2c542"/>
<path d="M204.0 430.6L236.9 425.1 207.6 340.4 174.5 345.4Z" fill="none" stroke="#111" stroke-width="2.0" stroke-linejoin="round"/>
<path d="M527.4 820.1L538.5 816.3 528.5 807.6 517.4 811.4Z" fill="#424a8d"/>
<path d="M518.0 812.2L529.1 808.5 519.1 799.0 508.0 802.7Z" fill="#424a8d"/>
<path d="M508.6 803.6L519.7 799.9 509.7 789.6 498.6 793.3Z" fill="#424a8d"/>
<path d="M537.8 816.8L548.8 812.9 538.7 804.3 527.7 808.2Z" fill="#424a8c"/>
<path d="M528.4 809.0L539.4 805.2 529.3 795.7 518.3 799.5Z" fill="#424a8d"/>
<path d="M519.0 800.4L530.0 796.6 520.0 786.3 508.9 790.1Z" fill="#424a8d"/>
<path d="M548.1 813.5L559.0 809.5 549.0 800.9 538.0 804.8Z" fill="#424a8c"/>
<path d="M538.6 805.7L549.6 801.8 539.6 792.3 528.6 796.2Z" fill="#424a8d"/>
<path d="M529.2 797.1L540.2 793.2 530.2 782.9 519.2 786.8Z" fill="#424a8d"/>
<path d="M527.5 819.4L558.3 809.4 530.2 783.6 499.3 793.5Z" fill="none" stroke="#111" stroke-width="2.0" stroke-linejoin="round"/>
<path d="M233.1 508.9L244.6 506.8 234.5 480.6 223.0 482.6Z" fill="#71b446"/>
<path d="M223.4 483.9L234.9 481.9 224.8 454.8 213.3 456.8Z" fill="#72b443"/>
<path d="M213.7 458.0L225.2 456.1 215.0 428.2 203.5 430.1Z" fill="#73b540"/>
<path d="M244.1 507.0L255.5 504.8 245.4 478.7 234.0 480.8Z" fill="#71b446"/>
<path d="M234.4 482.0L245.9 479.9 235.7 452.9 224.3 455.0Z" fill="#72b443"/>
<path d="M224.7 456.2L236.2 454.2 226.0 426.4 214.6 428.4Z" fill="#73b540"/>
<path d="M255.0 505.0L266.4 502.8 256.3 476.7 244.9 478.9Z" fill="#71b446"/>
<path d="M245.4 480.1L256.7 477.9 246.7 451.0 235.3 453.1Z" fill="#72b443"/>
<path d="M235.7 454.3L247.1 452.2 236.9 424.4 225.5 426.5Z" fill="#73b541"/>
<path d="M233.2 508.2L265.9 502.3 236.9 425.1 204.0 430.6Z" fill="none" stroke="#111" stroke-width="2.0" stroke-linejoin="round"/>
<path d="M379.8 737.7L391.1 734.8 381.1 718.6 369.8 721.5Z" fill="#536eb0"/>
<path d="M370.4 722.5L381.7 719.7 371.7 702.7 360.4 705.5Z" fill="#577fbf"/>
<path d="M361.0 706.6L372.3 703.8 362.3 686.0 351.0 688.8Z" fill="#5298cf"/>
<path d="M390.4 735.1L401.7 732.1 391.8 716.0 380.5 718.9Z" fill="#536daf"/>
<path d="M381.0 720.0L392.3 717.1 382.4 700.1 371.1 703.0Z" fill="#577dbd"/>
<path d="M371.6 704.1L382.9 701.2 372.9 683.5 361.7 686.3Z" fill="#5296ce"/>
<path d="M401.1 732.5L412.3 729.4 402.3 713.3 391.1 716.3Z" fill="#526bae"/>
<path d="M391.7 717.4L402.9 714.4 392.9 697.4 381.7 700.4Z" fill="#577cbc"/>
<path d="M382.3 701.5L393.5 698.5 383.5 680.8 372.3 683.8Z" fill="#5295cd"/>
<path d="M379.8 737.0L411.7 729.0 383.5 681.5 351.6 689.2Z" fill="none" stroke="#111" stroke-width="2.0" stroke-linejoin="round"/>
<path d="M971.1 690.7L980.9 685.7 969.7 696.5 959.9 701.5Z" fill="#4eacdc"/>
<path d="M960.6 700.4L970.4 695.4 959.2 705.2 949.4 710.2Z" fill="#5393cb"/>
<path d="M950.2 709.2L960.0 704.2 948.8 713.1 939.1 718.1Z" fill="#577cbc"/>
<path d="M980.5 685.4L990.3 680.3 979.0 691.1 969.3 696.2Z" fill="#4db0de"/>
<path d="M970.0 695.1L979.8 690.0 968.6 699.8 958.8 704.9Z" fill="#5297ce"/>
<path d="M959.7 703.9L969.4 698.8 958.2 707.7 948.5 712.8Z" fill="#577fbf"/>
<path d="M989.9 680.1L999.7 674.9 988.4 685.6 978.7 690.8Z" fill="#4db3e0"/>
<path d="M979.4 689.7L989.2 684.6 977.9 694.4 968.2 699.6Z" fill="#519ad0"/>
<path d="M969.1 698.5L978.7 693.3 967.5 702.2 957.8 707.4Z" fill="#5683c1"/>
<path d="M970.9 691.4L999.1 675.3 967.8 701.6 939.6 717.7Z" fill="none" stroke="#111" stroke-width="1.1" stroke-linejoin="round"/>
<path d="M262.0 578.9L273.5 576.7 263.4 553.0 252.0 555.2Z" fill="#79bc96"/>
<path d="M252.4 556.4L263.9 554.2 253.8 529.7 242.3 531.8Z" fill="#77b875"/>
<path d="M242.8 533.0L254.3 530.9 244.2 505.6 232.7 507.6Z" fill="#71b44d"/>
<path d="M272.9 576.9L284.3 574.6 274.3 551.0 262.9 553.2Z" fill="#79bc97"/>
<path d="M263.4 554.4L274.8 552.2 264.7 527.7 253.3 529.9Z" fill="#77b877"/>
<path d="M253.7 531.1L265.2 528.9 255.1 503.6 243.7 505.8Z" fill="#71b54f"/>
<path d="M283.8 574.8L295.2 572.4 285.2 548.8 273.8 551.2Z" fill="#79bc99"/>
<path d="M274.2 552.4L285.6 550.0 275.6 525.6 264.2 527.9Z" fill="#77b87a"/>
<path d="M264.7 529.1L276.0 526.8 266.0 501.6 254.6 503.8Z" fill="#71b551"/>
<path d="M262.0 578.2L294.7 571.9 265.9 502.3 233.2 508.2Z" fill="none" stroke="#111" stroke-width="2.0" stroke-linejoin="round"/>
<path d="M823.6 780.5L833.3 775.5 821.9 780.2 812.3 785.2Z" fill="#434b8e"/>
<path d="M813.1 785.6L823.3 780.0 812.5 783.3 802.3 788.8Z" fill="#434b8e"/>
<path d="M803.0 789.2L813.3 783.7 802.7 786.1 792.4 791.6Z" fill="#434b8d"/>
<path d="M833.3 776.1L842.9 770.9 831.6 775.4 822.0 780.6Z" fill="#434b8e"/>
<path d="M822.8 781.0L832.9 775.4 822.1 778.6 812.0 784.2Z" fill="#434b8e"/>
<path d="M812.7 784.7L823.0 779.1 812.3 781.4 802.1 787.0Z" fill="#434b8d"/>
<path d="M842.9 771.5L852.6 766.1 841.3 770.5 831.6 775.9Z" fill="#434b8e"/>
<path d="M832.5 776.3L842.6 770.6 831.8 773.9 821.7 779.6Z" fill="#434b8e"/>
<path d="M822.4 780.0L832.6 774.3 821.9 776.7 811.8 782.4Z" fill="#434b8d"/>
<path d="M822.9 780.4L852.0 766.4 822.0 777.3 793.0 791.4Z" fill="none" stroke="#111" stroke-width="1.1" stroke-linejoin="round"/>
<path d="M467.9 803.3L479.1 799.9 469.1 788.7 457.9 792.1Z" fill="#434b8d"/>
<path d="M458.5 793.0L469.7 789.7 459.7 777.7 448.6 781.0Z" fill="#434b8e"/>
<path d="M449.1 782.0L460.3 778.6 450.4 765.8 439.2 769.1Z" fill="#434b8e"/>
<path d="M478.4 800.3L489.6 796.9 479.6 785.7 468.4 789.2Z" fill="#434b8d"/>
<path d="M469.0 790.1L480.2 786.6 470.2 774.7 459.0 778.1Z" fill="#434b8e"/>
<path d="M459.6 779.0L470.8 775.6 460.8 762.8 449.7 766.2Z" fill="#434b8e"/>
<path d="M488.8 797.3L499.9 793.7 490.0 782.6 478.9 786.1Z" fill="#434b8d"/>
<path d="M479.5 787.1L490.5 783.5 480.6 771.6 469.5 775.1Z" fill="#434b8e"/>
<path d="M470.1 776.1L481.2 772.5 471.2 759.8 460.1 763.2Z" fill="#434b8e"/>
<path d="M468.0 802.6L499.3 793.5 471.2 760.5 439.8 769.4Z" fill="none" stroke="#111" stroke-width="2.0" stroke-linejoin="round"/>
<path d="M290.7 641.5L302.1 639.1 292.1 618.0 280.6 620.3Z" fill="#6ec0bd"/>
<path d="M281.1 621.4L292.6 619.1 282.6 597.1 271.1 599.4Z" fill="#73c0b6"/>
<path d="M271.6 600.6L283.0 598.3 273.0 575.5 261.5 577.7Z" fill="#78bfad"/>
<path d="M301.5 639.4L312.9 636.9 303.0 615.8 291.5 618.2Z" fill="#6ec0be"/>
<path d="M292.0 619.4L303.4 617.0 293.4 595.0 282.0 597.4Z" fill="#73c0b7"/>
<path d="M282.5 598.5L293.9 596.2 283.9 573.4 272.5 575.7Z" fill="#78c0ae"/>
<path d="M312.4 637.2L323.7 634.7 313.7 613.6 302.4 616.0Z" fill="#6dc0be"/>
<path d="M302.9 617.2L314.2 614.7 304.2 592.8 292.9 595.2Z" fill="#73c0b7"/>
<path d="M293.4 596.4L304.7 594.0 294.7 571.2 283.3 573.6Z" fill="#78c0b0"/>
<path d="M290.7 640.8L323.2 634.2 294.7 571.9 262.0 578.2Z" fill="none" stroke="#111" stroke-width="2.0" stroke-linejoin="round"/>
<path d="M1209.3 476.2L1218.7 470.0 1206.5 489.1 1197.1 495.3Z" fill="#72b443"/>
<path d="M1197.7 494.1L1207.1 487.9 1195.0 506.0 1185.7 512.2Z" fill="#71b446"/>
<path d="M1186.3 511.0L1195.6 504.8 1183.6 521.9 1174.3 528.1Z" fill="#70b448"/>
<path d="M1218.4 469.8L1227.7 463.5 1215.5 482.6 1206.2 488.9Z" fill="#72b543"/>
<path d="M1206.8 487.7L1216.1 481.4 1204.0 499.5 1194.7 505.8Z" fill="#71b445"/>
<path d="M1195.3 504.6L1204.6 498.3 1192.6 515.3 1183.3 521.7Z" fill="#70b447"/>
<path d="M1227.4 463.4L1236.7 457.0 1224.4 476.0 1215.2 482.4Z" fill="#72b542"/>
<path d="M1215.8 481.2L1225.1 474.8 1212.9 492.9 1203.7 499.3Z" fill="#71b445"/>
<path d="M1204.3 498.1L1213.6 491.7 1201.5 508.7 1192.3 515.2Z" fill="#70b447"/>
<path d="M1209.1 476.9L1236.2 457.5 1201.7 508.1 1174.8 527.6Z" fill="none" stroke="#111" stroke-width="1.9" stroke-linejoin="round"/>
<path d="M1120.2 563.8L1129.8 558.0 1117.9 574.3 1108.4 580.0Z" fill="#7aba8d"/>
<path d="M1109.1 578.9L1118.6 573.1 1106.9 588.4 1097.4 594.2Z" fill="#79bea3"/>
<path d="M1098.0 593.0L1107.5 587.2 1095.9 601.6 1086.4 607.4Z" fill="#76c0b3"/>
<path d="M1129.4 557.8L1138.9 552.0 1127.1 568.2 1117.6 574.1Z" fill="#79ba88"/>
<path d="M1118.3 572.9L1127.7 567.1 1116.0 582.3 1106.5 588.2Z" fill="#79bda0"/>
<path d="M1107.2 587.0L1116.7 581.2 1105.0 595.5 1095.5 601.4Z" fill="#77c0b1"/>
<path d="M1138.6 551.8L1148.0 545.9 1136.2 562.1 1126.8 568.1Z" fill="#79b983"/>
<path d="M1127.4 566.9L1136.9 560.9 1125.1 576.2 1115.7 582.2Z" fill="#79bd9c"/>
<path d="M1116.3 581.0L1125.8 575.0 1114.1 589.3 1104.7 595.3Z" fill="#78c0b0"/>
<path d="M1120.1 564.4L1147.6 546.4 1114.3 588.7 1086.9 606.9Z" fill="none" stroke="#111" stroke-width="1.7" stroke-linejoin="round"/>
<path d="M882.6 747.1L892.7 742.6 881.6 750.7 871.6 755.2Z" fill="#4d62a5"/>
<path d="M872.4 754.2L882.4 749.7 871.4 756.9 861.4 761.4Z" fill="#475599"/>
<path d="M862.5 760.5L872.3 755.9 861.1 762.1 851.3 766.7Z" fill="#455094"/>
<path d="M892.3 742.3L902.2 737.7 891.2 745.8 881.2 750.4Z" fill="#4e63a6"/>
<path d="M882.1 749.4L892.0 744.8 880.9 752.0 871.0 756.6Z" fill="#48569a"/>
<path d="M872.2 755.8L881.9 751.0 870.6 757.1 860.9 761.9Z" fill="#455194"/>
<path d="M901.9 737.4L911.8 732.8 900.7 740.8 890.8 745.5Z" fill="#4f65a8"/>
<path d="M891.7 744.5L901.6 739.8 890.4 747.0 880.6 751.7Z" fill="#49589c"/>
<path d="M881.8 751.0L891.4 746.0 880.1 752.0 870.5 757.0Z" fill="#465195"/>
<path d="M882.4 747.8L911.2 733.1 880.7 751.7 852.0 766.4Z" fill="none" stroke="#111" stroke-width="1.1" stroke-linejoin="round"/>
<path d="M1298.9 377.4L1308.1 370.7 1295.4 392.7 1286.3 399.4Z" fill="#9cc340"/>
<path d="M1286.8 398.2L1296.0 391.5 1283.5 412.4 1274.4 419.2Z" fill="#8bbd3e"/>
<path d="M1274.9 417.9L1284.1 411.2 1271.7 431.2 1262.6 437.9Z" fill="#74b53e"/>
<path d="M1307.8 370.6L1317.0 363.8 1304.3 385.8 1295.2 392.6Z" fill="#9fc441"/>
<path d="M1295.8 391.3L1304.9 384.5 1292.4 405.5 1283.2 412.3Z" fill="#8fbe3e"/>
<path d="M1283.8 411.1L1293.0 404.3 1280.6 424.2 1271.4 431.0Z" fill="#78b63e"/>
<path d="M1316.7 363.7L1325.8 356.8 1313.2 378.8 1304.0 385.6Z" fill="#a2c542"/>
<path d="M1304.6 384.4L1313.7 377.5 1301.2 398.5 1292.1 405.4Z" fill="#92bf3f"/>
<path d="M1292.7 404.1L1301.8 397.2 1289.4 417.2 1280.3 424.1Z" fill="#7db83e"/>
<path d="M1298.7 378.0L1325.4 357.3 1289.6 416.5 1263.0 437.4Z" fill="none" stroke="#111" stroke-width="2.0" stroke-linejoin="round"/>
<path d="M408.0 778.2L419.3 775.2 409.3 761.5 398.0 764.5Z" fill="#454f93"/>
<path d="M398.6 765.5L409.9 762.5 399.9 748.0 388.6 750.9Z" fill="#475498"/>
<path d="M389.2 752.0L400.5 749.1 390.5 733.7 379.2 736.6Z" fill="#4d60a3"/>
<path d="M418.6 775.6L429.9 772.5 419.9 758.8 408.7 761.9Z" fill="#454f92"/>
<path d="M409.2 762.9L420.5 759.8 410.6 745.3 399.3 748.4Z" fill="#475397"/>
<path d="M399.8 749.4L411.1 746.4 401.2 731.1 389.9 734.1Z" fill="#4c5fa2"/>
<path d="M429.2 772.9L440.4 769.7 430.5 756.0 419.3 759.2Z" fill="#454e92"/>
<path d="M419.8 760.2L431.1 757.1 421.1 742.6 409.9 745.7Z" fill="#465397"/>
<path d="M410.5 746.7L421.7 743.6 411.7 728.3 400.5 731.4Z" fill="#4c5ea1"/>
<path d="M408.0 777.5L439.8 769.4 411.7 729.0 379.8 737.0Z" fill="none" stroke="#111" stroke-width="2.0" stroke-linejoin="round"/>
<path d="M319.1 696.7L330.6 694.3 320.6 675.6 309.1 678.0Z" fill="#4eb6e0"/>
<path d="M309.7 679.1L321.1 676.7 311.1 657.2 299.7 659.6Z" fill="#59bad4"/>
<path d="M300.2 660.7L311.6 658.3 301.6 638.0 290.2 640.3Z" fill="#65bec8"/>
<path d="M330.0 694.6L341.4 692.0 331.4 673.3 320.0 675.8Z" fill="#4db6e1"/>
<path d="M320.5 677.0L331.9 674.5 321.9 655.0 310.5 657.4Z" fill="#58bad5"/>
<path d="M311.0 658.6L322.4 656.1 312.5 635.8 301.1 638.2Z" fill="#64bdc9"/>
<path d="M340.8 692.3L352.1 689.6 342.2 671.0 330.8 673.6Z" fill="#4cb5e1"/>
<path d="M331.3 674.7L342.7 672.1 332.7 652.6 321.4 655.2Z" fill="#57b9d6"/>
<path d="M321.9 656.4L333.2 653.8 323.2 633.5 311.9 636.0Z" fill="#63bdca"/>
<path d="M319.2 696.0L351.6 689.2 323.2 634.2 290.7 640.8Z" fill="none" stroke="#111" stroke-width="2.0" stroke-linejoin="round"/>
<path d="M1031.4 640.3L1041.1 635.0 1029.6 648.5 1019.9 653.8Z" fill="#6dc0bf"/>
<path d="M1020.6 652.7L1030.3 647.4 1018.9 660.0 1009.2 665.2Z" fill="#62bdca"/>
<path d="M1009.9 664.1L1019.6 658.8 1008.3 670.5 998.6 675.8Z" fill="#57b9d6"/>
<path d="M1040.7 634.8L1050.4 629.5 1039.0 643.0 1029.3 648.3Z" fill="#6dc0be"/>
<path d="M1029.9 647.2L1039.6 641.8 1028.2 654.4 1018.5 659.7Z" fill="#64bdc9"/>
<path d="M1019.3 658.6L1028.9 653.3 1017.6 664.9 1007.9 670.2Z" fill="#59bad5"/>
<path d="M1050.1 629.3L1059.7 623.8 1048.2 637.3 1038.6 642.7Z" fill="#6ec0bd"/>
<path d="M1039.3 641.6L1048.9 636.2 1037.5 648.7 1027.8 654.2Z" fill="#66bec7"/>
<path d="M1028.6 653.0L1038.2 647.6 1026.8 659.2 1017.2 664.6Z" fill="#5abbd3"/>
<path d="M1031.2 641.0L1059.2 624.3 1027.0 658.5 999.1 675.3Z" fill="none" stroke="#111" stroke-width="1.5" stroke-linejoin="round"/>
<path d="M615.2 839.9L626.2 835.7 616.0 832.1 605.0 836.3Z" fill="#424a8c"/>
<path d="M605.7 837.0L616.6 832.8 606.4 828.3 595.5 832.5Z" fill="#424a8c"/>
<path d="M596.1 833.2L607.1 829.0 596.9 823.7 586.0 827.9Z" fill="#424a8c"/>
<path d="M625.4 836.4L636.3 832.0 626.1 828.4 615.2 832.8Z" fill="#424a8c"/>
<path d="M615.9 833.5L626.8 829.1 616.6 824.7 605.7 829.0Z" fill="#424a8c"/>
<path d="M606.3 829.7L617.2 825.4 607.1 820.1 596.2 824.4Z" fill="#424a8c"/>
<path d="M635.6 832.8L646.4 828.3 636.2 824.7 625.4 829.1Z" fill="#424a8c"/>
<path d="M626.0 829.8L636.9 825.4 626.7 820.9 615.8 825.4Z" fill="#424a8c"/>
<path d="M616.5 826.1L627.3 821.7 617.2 816.4 606.3 820.8Z" fill="#424a8c"/>
<path d="M615.3 839.2L645.7 828.3 617.1 817.1 586.7 827.9Z" fill="none" stroke="#111" stroke-width="1.8" stroke-linejoin="round"/>
<path d="M674.5 833.0L685.4 828.3 675.1 827.3 664.2 831.9Z" fill="#424a8c"/>
<path d="M664.9 832.5L675.7 827.9 665.4 826.0 654.6 830.6Z" fill="#424a8c"/>
<path d="M655.3 831.2L666.1 826.6 655.8 823.8 645.0 828.4Z" fill="#424a8c"/>
<path d="M684.6 829.2L695.4 824.4 685.1 823.4 674.3 828.1Z" fill="#424a8c"/>
<path d="M674.9 828.7L685.7 824.0 675.4 822.1 664.7 826.8Z" fill="#424a8c"/>
<path d="M665.3 827.4L676.1 822.7 665.8 819.9 655.1 824.6Z" fill="#424a8c"/>
<path d="M694.6 825.3L705.4 820.5 695.0 819.4 684.3 824.2Z" fill="#424a8c"/>
<path d="M685.0 824.8L695.7 820.0 685.4 818.1 674.7 822.9Z" fill="#424a8c"/>
<path d="M675.3 823.5L686.0 818.7 675.8 815.9 665.1 820.7Z" fill="#424a8c"/>
<path d="M674.6 832.3L704.7 820.6 675.8 816.6 645.7 828.3Z" fill="none" stroke="#111" stroke-width="1.5" stroke-linejoin="round"/>
<path d="M555.8 838.7L566.9 834.8 556.8 828.6 545.7 832.5Z" fill="#424a8c"/>
<path d="M546.3 833.3L557.4 829.4 547.3 822.4 536.2 826.3Z" fill="#424a8c"/>
<path d="M536.9 827.1L547.9 823.3 537.9 815.4 526.8 819.2Z" fill="#424a8c"/>
<path d="M566.1 835.4L577.2 831.5 567.1 825.3 556.0 829.3Z" fill="#424a8c"/>
<path d="M556.6 830.0L567.7 826.1 557.6 819.1 546.6 823.0Z" fill="#424a8c"/>
<path d="M547.2 823.8L558.2 819.9 548.2 812.1 537.1 816.0Z" fill="#424a8c"/>
<path d="M576.4 832.1L587.4 828.0 577.3 821.9 566.3 825.9Z" fill="#424a8c"/>
<path d="M566.9 826.7L577.9 822.7 567.8 815.7 556.8 819.7Z" fill="#424a8c"/>
<path d="M557.5 820.5L568.5 816.5 558.4 808.7 547.4 812.7Z" fill="#424a8c"/>
<path d="M555.9 838.0L586.7 827.9 558.3 809.4 527.5 819.4Z" fill="none" stroke="#111" stroke-width="2.0" stroke-linejoin="round"/>
<path d="M733.9 817.7L744.6 812.8 734.1 814.3 723.5 819.3Z" fill="#424a8d"/>
<path d="M724.1 819.8L734.8 814.8 724.4 815.5 713.7 820.4Z" fill="#424a8d"/>
<path d="M714.3 820.9L725.0 816.0 714.6 815.8 704.0 820.7Z" fill="#424a8c"/>
<path d="M743.9 813.7L754.5 808.6 744.0 810.1 733.4 815.2Z" fill="#424a8d"/>
<path d="M734.1 815.7L744.7 810.7 734.3 811.3 723.7 816.3Z" fill="#424a8d"/>
<path d="M724.3 816.9L734.9 811.8 724.5 811.6 713.9 816.7Z" fill="#424a8c"/>
<path d="M753.8 809.5L764.4 804.4 753.9 805.9 743.3 811.1Z" fill="#424a8d"/>
<path d="M744.0 811.5L754.5 806.4 744.1 807.1 733.6 812.2Z" fill="#424a8d"/>
<path d="M734.2 812.7L744.8 807.6 734.4 807.4 723.8 812.5Z" fill="#424a8d"/>
<path d="M734.0 817.0L763.7 804.6 734.4 808.1 704.7 820.6Z" fill="none" stroke="#111" stroke-width="1.2" stroke-linejoin="round"/>
<path d="M496.2 829.2L507.4 825.7 497.3 817.0 486.1 820.5Z" fill="#424a8d"/>
<path d="M486.7 821.4L497.9 817.9 487.9 808.4 476.7 811.8Z" fill="#424a8d"/>
<path d="M477.3 812.7L488.5 809.3 478.5 798.9 467.3 802.4Z" fill="#434b8d"/>
<path d="M506.6 826.3L517.8 822.7 507.8 814.0 496.6 817.6Z" fill="#424a8d"/>
<path d="M497.2 818.4L508.4 814.9 498.4 805.4 487.2 808.9Z" fill="#424a8d"/>
<path d="M487.8 809.8L499.0 806.3 489.0 795.9 477.8 799.4Z" fill="#424a8d"/>
<path d="M517.1 823.2L528.2 819.5 518.1 810.8 507.0 814.5Z" fill="#424a8d"/>
<path d="M507.6 815.4L518.7 811.7 508.7 802.2 497.6 805.9Z" fill="#424a8d"/>
<path d="M498.2 806.7L509.3 803.1 499.3 792.8 488.2 796.4Z" fill="#424a8d"/>
<path d="M496.2 828.5L527.5 819.4 499.3 793.5 468.0 802.6Z" fill="none" stroke="#111" stroke-width="2.0" stroke-linejoin="round"/>
<path d="M942.5 706.0L952.5 701.2 941.3 712.0 931.4 716.8Z" fill="#50a3d6"/>
<path d="M932.1 715.7L942.0 710.9 930.9 720.8 920.9 725.6Z" fill="#558ac5"/>
<path d="M921.7 724.5L931.6 719.8 920.5 728.8 910.6 733.5Z" fill="#5674b7"/>
<path d="M952.1 701.0L962.0 696.1 950.8 706.9 940.9 711.8Z" fill="#4fa6d7"/>
<path d="M941.6 710.7L951.5 705.8 940.4 715.7 930.5 720.6Z" fill="#548dc7"/>
<path d="M931.2 719.5L941.1 714.7 930.0 723.6 920.1 728.5Z" fill="#5776b8"/>
<path d="M961.6 695.9L971.5 691.0 960.3 701.7 950.4 706.7Z" fill="#4fa9d9"/>
<path d="M951.1 705.6L961.0 700.6 949.8 710.5 940.0 715.4Z" fill="#5390c9"/>
<path d="M940.8 714.4L950.6 709.4 939.4 718.4 929.6 723.3Z" fill="#5878ba"/>
<path d="M942.4 706.6L970.9 691.4 939.6 717.7 911.2 733.1Z" fill="none" stroke="#111" stroke-width="1.2" stroke-linejoin="round"/>
<path d="M347.5 744.7L358.9 742.1 349.0 725.9 337.5 728.5Z" fill="#5572b5"/>
<path d="M338.0 729.5L349.5 727.0 339.5 709.9 328.1 712.4Z" fill="#5586c3"/>
<path d="M328.6 713.5L340.0 711.0 330.1 693.2 318.6 695.6Z" fill="#509fd3"/>
<path d="M358.3 742.5L369.7 739.8 359.7 723.6 348.3 726.2Z" fill="#5471b3"/>
<path d="M348.9 727.3L360.3 724.7 350.3 707.6 338.9 710.2Z" fill="#5684c2"/>
<path d="M339.4 711.3L350.8 708.7 340.9 690.9 329.5 693.4Z" fill="#519dd2"/>
<path d="M369.1 740.1L380.4 737.3 370.5 721.1 359.1 723.9Z" fill="#546fb2"/>
<path d="M359.6 725.0L371.0 722.2 361.0 705.2 349.7 707.9Z" fill="#5681c0"/>
<path d="M350.2 709.0L361.6 706.3 351.6 688.5 340.3 691.2Z" fill="#519ad0"/>
<path d="M347.5 744.0L379.8 737.0 351.6 689.2 319.2 696.0Z" fill="none" stroke="#111" stroke-width="2.0" stroke-linejoin="round"/>
<path d="M793.9 792.9L804.0 788.9 793.0 794.3 782.9 798.4Z" fill="#434b8e"/>
<path d="M783.6 798.8L794.0 793.5 783.3 796.8 772.9 802.0Z" fill="#434b8e"/>
<path d="M773.6 802.5L784.1 797.2 773.5 799.6 763.0 804.8Z" fill="#434b8d"/>
<path d="M803.9 788.8L813.8 784.5 802.6 789.8 792.7 794.1Z" fill="#434b8e"/>
<path d="M793.5 794.4L803.8 789.1 793.0 792.4 782.8 797.7Z" fill="#434b8e"/>
<path d="M783.4 798.1L793.8 792.8 783.3 795.2 772.9 800.5Z" fill="#434b8d"/>
<path d="M813.8 784.7L823.5 780.1 812.2 785.0 802.5 789.7Z" fill="#434b8e"/>
<path d="M803.3 790.0L813.5 784.6 802.8 787.9 792.5 793.3Z" fill="#434b8e"/>
<path d="M793.2 793.7L803.6 788.3 793.0 790.7 782.6 796.1Z" fill="#434b8d"/>
<path d="M793.5 793.5L822.9 780.4 793.0 791.4 763.7 804.6Z" fill="none" stroke="#111" stroke-width="1.1" stroke-linejoin="round"/>
<path d="M436.2 811.5L447.5 808.4 437.5 797.2 426.2 800.3Z" fill="#434b8d"/>
<path d="M426.8 801.2L438.1 798.1 428.1 786.1 416.8 789.1Z" fill="#434b8e"/>
<path d="M417.4 790.1L428.7 787.1 418.7 774.2 407.4 777.2Z" fill="#434b8e"/>
<path d="M446.8 808.9L458.1 805.7 448.1 794.4 436.8 797.6Z" fill="#434b8d"/>
<path d="M437.4 798.6L448.7 795.4 438.7 783.4 427.4 786.5Z" fill="#434b8e"/>
<path d="M428.0 787.5L439.3 784.4 429.3 771.5 418.0 774.6Z" fill="#434b8e"/>
<path d="M457.4 806.1L468.6 802.8 458.7 791.6 447.4 794.9Z" fill="#434b8d"/>
<path d="M448.0 795.8L459.2 792.6 449.3 780.6 438.0 783.8Z" fill="#434b8e"/>
<path d="M438.6 784.8L449.8 781.5 439.9 768.7 428.6 771.9Z" fill="#434b8e"/>
<path d="M436.2 810.8L468.0 802.6 439.8 769.4 408.0 777.5Z" fill="none" stroke="#111" stroke-width="2.0" stroke-linejoin="round"/>
<path d="M1182.0 494.8L1191.4 488.8 1179.3 508.0 1169.8 514.0Z" fill="#72b444"/>
<path d="M1170.4 512.8L1179.9 506.8 1167.8 524.9 1158.4 530.9Z" fill="#71b447"/>
<path d="M1159.0 529.7L1168.5 523.7 1156.5 540.9 1147.1 546.9Z" fill="#72b558"/>
<path d="M1191.1 488.7L1200.5 482.6 1188.4 501.8 1179.0 507.8Z" fill="#72b444"/>
<path d="M1179.6 506.6L1189.0 500.6 1176.9 518.7 1167.5 524.8Z" fill="#71b446"/>
<path d="M1168.1 523.6L1177.5 517.5 1165.6 534.7 1156.2 540.7Z" fill="#71b552"/>
<path d="M1200.2 482.5L1209.6 476.4 1197.4 495.5 1188.1 501.6Z" fill="#72b443"/>
<path d="M1188.7 500.4L1198.0 494.3 1186.0 512.4 1176.6 518.5Z" fill="#71b446"/>
<path d="M1177.2 517.3L1186.6 511.2 1174.6 528.3 1165.3 534.5Z" fill="#71b44c"/>
<path d="M1181.8 495.5L1209.1 476.9 1174.8 527.6 1147.6 546.4Z" fill="none" stroke="#111" stroke-width="1.9" stroke-linejoin="round"/>
<path d="M1092.4 581.0L1102.1 575.5 1090.3 591.9 1080.7 597.4Z" fill="#79bc96"/>
<path d="M1081.3 596.2L1090.9 590.7 1079.3 606.0 1069.6 611.5Z" fill="#78bfac"/>
<path d="M1070.3 610.4L1079.9 604.9 1068.3 619.3 1058.7 624.8Z" fill="#74c0b6"/>
<path d="M1101.7 575.3L1111.3 569.8 1099.6 586.1 1090.0 591.7Z" fill="#7abb93"/>
<path d="M1090.6 590.5L1100.2 584.9 1088.5 600.2 1078.9 605.8Z" fill="#78bfa9"/>
<path d="M1079.6 604.7L1089.2 599.1 1077.5 613.4 1068.0 619.1Z" fill="#75c0b5"/>
<path d="M1111.0 569.6L1120.6 563.9 1108.8 580.2 1099.2 585.9Z" fill="#7abb90"/>
<path d="M1099.8 584.7L1109.4 579.0 1097.7 594.4 1088.1 600.0Z" fill="#79bea6"/>
<path d="M1088.8 598.9L1098.4 593.2 1086.7 607.5 1077.2 613.2Z" fill="#75c0b4"/>
<path d="M1092.3 581.7L1120.1 564.4 1086.9 606.9 1059.2 624.3Z" fill="none" stroke="#111" stroke-width="1.8" stroke-linejoin="round"/>
<path d="M1271.9 397.3L1281.2 390.9 1268.7 412.9 1259.4 419.4Z" fill="#94c03f"/>
<path d="M1260.0 418.2L1269.2 411.7 1256.8 432.8 1247.5 439.2Z" fill="#7fb93e"/>
<path d="M1248.1 438.0L1257.4 431.5 1245.0 451.6 1235.8 458.1Z" fill="#73b53f"/>
<path d="M1281.0 390.7L1290.2 384.2 1277.6 406.3 1268.4 412.8Z" fill="#97c13f"/>
<path d="M1268.9 411.6L1278.2 405.0 1265.7 426.1 1256.5 432.6Z" fill="#83ba3e"/>
<path d="M1257.1 431.4L1266.3 424.8 1253.9 444.9 1244.7 451.4Z" fill="#74b53f"/>
<path d="M1289.9 384.1L1299.2 377.5 1286.5 399.5 1277.3 406.2Z" fill="#99c240"/>
<path d="M1277.9 404.9L1287.1 398.3 1274.6 419.3 1265.4 425.9Z" fill="#87bb3e"/>
<path d="M1266.0 424.7L1275.2 418.1 1262.8 438.1 1253.7 444.7Z" fill="#74b53e"/>
<path d="M1271.8 398.0L1298.7 378.0 1263.0 437.4 1236.2 457.5Z" fill="none" stroke="#111" stroke-width="2.0" stroke-linejoin="round"/>
<path d="M853.4 760.9L863.7 756.7 852.7 764.9 842.5 769.1Z" fill="#4c5ea1"/>
<path d="M843.3 768.0L853.5 763.9 842.5 771.1 832.4 775.3Z" fill="#475397"/>
<path d="M833.2 774.3L843.3 770.1 832.3 776.4 822.3 780.7Z" fill="#454f92"/>
<path d="M863.2 756.4L873.4 752.1 862.4 760.2 852.2 764.5Z" fill="#4c5fa2"/>
<path d="M853.0 763.5L863.2 759.2 852.2 766.5 842.1 770.8Z" fill="#475397"/>
<path d="M843.0 769.8L853.0 765.5 842.0 771.8 832.0 776.1Z" fill="#454f92"/>
<path d="M872.9 751.8L883.0 747.4 872.0 755.5 861.9 759.9Z" fill="#4d60a4"/>
<path d="M862.8 758.9L872.8 754.5 861.8 761.7 851.8 766.1Z" fill="#475498"/>
<path d="M852.8 765.2L862.7 760.7 851.5 767.0 841.7 771.5Z" fill="#454f93"/>
<path d="M853.3 761.6L882.4 747.8 852.0 766.4 822.9 780.4Z" fill="none" stroke="#111" stroke-width="1.1" stroke-linejoin="round"/>
<path d="M1003.1 656.2L1012.9 651.2 1001.5 664.7 991.6 669.7Z" fill="#6abfc3"/>
<path d="M992.3 668.6L1002.2 663.6 990.8 676.2 981.0 681.2Z" fill="#5ebccf"/>
<path d="M981.6 680.1L991.5 675.1 980.2 686.8 970.4 691.8Z" fill="#53b8db"/>
<path d="M1012.5 651.0L1022.4 645.9 1010.9 659.4 1001.1 664.5Z" fill="#6bc0c1"/>
<path d="M1001.8 663.4L1011.6 658.3 1000.2 670.9 990.4 676.0Z" fill="#5fbcce"/>
<path d="M991.1 674.9L1000.9 669.8 989.6 681.4 979.8 686.5Z" fill="#54b9d9"/>
<path d="M1022.0 645.7L1031.8 640.5 1020.3 654.0 1010.5 659.2Z" fill="#6cc0c0"/>
<path d="M1011.2 658.1L1021.0 652.9 1009.6 665.5 999.8 670.7Z" fill="#61bccc"/>
<path d="M1000.5 669.5L1010.3 664.4 998.9 676.0 989.2 681.2Z" fill="#55b9d8"/>
<path d="M1002.9 656.8L1031.2 641.0 999.1 675.3 970.9 691.4Z" fill="none" stroke="#111" stroke-width="1.5" stroke-linejoin="round"/>
<path d="M375.7 785.4L387.2 782.7 377.2 769.0 365.8 771.6Z" fill="#465195"/>
<path d="M366.3 772.7L377.8 770.0 367.8 755.4 356.3 758.1Z" fill="#49589c"/>
<path d="M356.9 759.1L368.4 756.5 358.4 741.1 346.9 743.7Z" fill="#4f65a8"/>
<path d="M386.5 783.1L398.0 780.3 388.0 766.6 376.6 769.3Z" fill="#455094"/>
<path d="M377.1 770.4L388.5 767.6 378.6 753.0 367.2 755.8Z" fill="#48569a"/>
<path d="M367.7 756.8L379.1 754.1 369.2 738.7 357.7 741.4Z" fill="#4e63a6"/>
<path d="M397.3 780.7L408.7 777.8 398.7 764.1 387.3 767.0Z" fill="#455093"/>
<path d="M387.9 768.0L399.3 765.1 389.3 750.6 377.9 753.4Z" fill="#475599"/>
<path d="M378.5 754.4L389.8 751.6 379.9 736.3 368.5 739.0Z" fill="#4d61a5"/>
<path d="M375.8 784.7L408.0 777.5 379.8 737.0 347.5 744.0Z" fill="none" stroke="#111" stroke-width="2.0" stroke-linejoin="round"/>
<path d="M584.3 850.0L595.5 846.0 585.3 842.4 574.2 846.4Z" fill="#424a8c"/>
<path d="M574.8 847.1L585.9 843.1 575.8 838.6 564.7 842.6Z" fill="#424a8c"/>
<path d="M565.3 843.3L576.4 839.4 566.3 834.0 555.2 838.0Z" fill="#424a8c"/>
<path d="M594.7 846.8L605.7 842.7 595.6 839.1 584.5 843.1Z" fill="#424a8c"/>
<path d="M585.1 843.8L596.2 839.8 586.0 835.3 575.0 839.3Z" fill="#424a8c"/>
<path d="M575.6 840.0L586.7 836.0 576.5 830.7 565.5 834.7Z" fill="#424a8c"/>
<path d="M605.0 843.4L616.0 839.2 605.8 835.6 594.8 839.8Z" fill="#424a8c"/>
<path d="M595.4 840.4L606.4 836.3 596.3 831.8 585.3 836.0Z" fill="#424a8c"/>
<path d="M585.9 836.7L596.9 832.6 586.8 827.2 575.8 831.4Z" fill="#424a8c"/>
<path d="M584.4 849.3L615.3 839.2 586.7 827.9 555.9 838.0Z" fill="none" stroke="#111" stroke-width="1.8" stroke-linejoin="round"/>
<path d="M644.0 843.8L655.0 839.5 644.8 838.4 633.8 842.8Z" fill="#424a8c"/>
<path d="M634.4 843.4L645.4 839.1 635.1 837.1 624.2 841.5Z" fill="#424a8c"/>
<path d="M624.8 842.1L635.8 837.8 625.5 835.0 614.6 839.3Z" fill="#424a8c"/>
<path d="M654.3 840.3L665.2 835.9 654.9 834.8 644.0 839.3Z" fill="#424a8c"/>
<path d="M644.6 839.8L655.5 835.4 645.3 833.5 634.4 837.9Z" fill="#424a8c"/>
<path d="M635.0 838.5L645.9 834.1 635.7 831.4 624.8 835.8Z" fill="#424a8c"/>
<path d="M664.4 836.7L675.3 832.2 665.0 831.1 654.1 835.6Z" fill="#424a8c"/>
<path d="M654.8 836.2L665.6 831.7 655.4 829.8 644.5 834.3Z" fill="#424a8c"/>
<path d="M645.1 834.9L656.0 830.4 645.8 827.7 634.9 832.1Z" fill="#424a8c"/>
<path d="M644.1 843.2L674.6 832.3 645.7 828.3 615.3 839.2Z" fill="none" stroke="#111" stroke-width="1.5" stroke-linejoin="round"/>
<path d="M524.5 847.9L535.8 844.3 525.7 838.1 514.4 841.7Z" fill="#424a8c"/>
<path d="M515.0 842.5L526.3 839.0 516.2 831.9 505.0 835.5Z" fill="#424a8c"/>
<path d="M505.6 836.3L516.8 832.8 506.8 824.9 495.5 828.4Z" fill="#424a8c"/>
<path d="M535.0 845.0L546.2 841.3 536.1 835.1 524.9 838.8Z" fill="#424a8c"/>
<path d="M525.5 839.5L536.7 835.9 526.6 828.9 515.4 832.5Z" fill="#424a8c"/>
<path d="M516.1 833.3L527.2 829.7 517.2 821.8 506.0 825.4Z" fill="#424a8c"/>
<path d="M545.4 841.9L556.6 838.1 546.5 831.9 535.3 835.7Z" fill="#424a8c"/>
<path d="M535.9 836.5L547.1 832.7 537.0 825.7 525.9 829.4Z" fill="#424a8c"/>
<path d="M526.5 830.2L537.6 826.5 527.6 818.7 516.4 822.4Z" fill="#424a8c"/>
<path d="M524.6 847.2L555.9 838.0 527.5 819.4 496.2 828.5Z" fill="none" stroke="#111" stroke-width="2.0" stroke-linejoin="round"/>
<path d="M703.7 829.4L714.6 824.7 704.2 826.2 693.4 830.9Z" fill="#424a8d"/>
<path d="M694.0 831.4L704.8 826.8 694.5 827.4 683.6 832.1Z" fill="#424a8d"/>
<path d="M684.2 832.6L695.1 828.0 684.7 827.8 673.9 832.4Z" fill="#424a8c"/>
<path d="M713.9 825.6L724.6 820.8 714.3 822.3 703.5 827.1Z" fill="#424a8d"/>
<path d="M704.1 827.6L714.8 822.9 704.5 823.5 693.7 828.3Z" fill="#424a8d"/>
<path d="M694.3 828.8L705.1 824.1 694.7 823.9 684.0 828.6Z" fill="#424a8c"/>
<path d="M723.9 821.7L734.6 816.8 724.2 818.4 713.5 823.2Z" fill="#424a8d"/>
<path d="M714.1 823.7L724.8 818.9 714.4 819.5 703.7 824.4Z" fill="#424a8d"/>
<path d="M704.4 824.9L715.1 820.1 704.7 819.9 694.0 824.7Z" fill="#424a8c"/>
<path d="M703.9 828.7L734.0 817.0 704.7 820.6 674.6 832.3Z" fill="none" stroke="#111" stroke-width="1.1" stroke-linejoin="round"/>
<path d="M913.6 720.4L923.8 716.0 912.6 726.8 902.5 731.3Z" fill="#519bd1"/>
<path d="M903.2 730.2L913.3 725.8 902.2 735.7 892.1 740.2Z" fill="#5682c0"/>
<path d="M892.9 739.1L902.9 734.6 891.9 743.7 881.8 748.1Z" fill="#546fb2"/>
<path d="M923.3 715.7L933.4 711.1 922.2 722.0 912.2 726.6Z" fill="#519dd2"/>
<path d="M912.9 725.5L922.9 720.9 911.8 730.8 901.8 735.4Z" fill="#5684c2"/>
<path d="M902.5 734.3L912.5 729.8 901.5 738.8 891.5 743.3Z" fill="#5571b3"/>
<path d="M932.9 710.9L943.0 706.2 931.8 717.1 921.8 721.7Z" fill="#50a0d4"/>
<path d="M922.5 720.6L932.5 716.0 921.4 725.9 911.4 730.5Z" fill="#5587c4"/>
<path d="M912.1 729.5L922.1 724.8 911.0 733.8 901.1 738.5Z" fill="#5573b5"/>
<path d="M913.5 721.1L942.4 706.6 911.2 733.1 882.4 747.8Z" fill="none" stroke="#111" stroke-width="1.3" stroke-linejoin="round"/>
<path d="M464.4 837.6L475.8 834.4 465.8 825.6 454.4 828.8Z" fill="#424a8d"/>
<path d="M455.0 829.7L466.4 826.5 456.4 816.9 445.0 820.1Z" fill="#424a8d"/>
<path d="M445.6 821.0L456.9 817.9 446.9 807.5 435.6 810.6Z" fill="#434b8d"/>
<path d="M475.1 834.9L486.4 831.6 476.3 822.9 465.0 826.2Z" fill="#424a8d"/>
<path d="M465.6 827.0L476.9 823.8 466.9 814.2 455.6 817.4Z" fill="#424a8d"/>
<path d="M456.2 818.3L467.5 815.1 457.5 804.7 446.2 807.9Z" fill="#434b8d"/>
<path d="M485.6 832.1L496.9 828.7 486.9 820.0 475.6 823.4Z" fill="#424a8d"/>
<path d="M476.2 824.3L487.5 820.9 477.5 811.3 466.2 814.7Z" fill="#424a8d"/>
<path d="M466.8 815.6L478.0 812.3 468.0 801.9 456.8 805.2Z" fill="#434b8d"/>
<path d="M464.5 836.9L496.2 828.5 468.0 802.6 436.2 810.8Z" fill="none" stroke="#111" stroke-width="2.0" stroke-linejoin="round"/>
<path d="M763.7 805.2L774.3 801.6 763.7 807.1 753.1 810.7Z" fill="#434b8e"/>
<path d="M753.6 811.2L764.4 806.2 753.9 809.4 743.2 814.4Z" fill="#434b8d"/>
<path d="M743.8 814.9L754.4 809.9 744.0 812.3 733.3 817.3Z" fill="#434b8d"/>
<path d="M773.8 801.2L784.2 797.5 773.5 803.0 763.1 806.7Z" fill="#434b8e"/>
<path d="M763.7 807.1L774.3 802.0 763.7 805.3 753.1 810.4Z" fill="#434b8d"/>
<path d="M753.8 810.8L764.4 805.8 753.8 808.1 743.3 813.2Z" fill="#434b8d"/>
<path d="M783.8 797.1L794.1 793.2 783.3 798.7 773.0 802.6Z" fill="#434b8e"/>
<path d="M773.7 803.0L784.2 797.8 773.5 801.1 763.0 806.3Z" fill="#434b8e"/>
<path d="M763.7 806.7L774.2 801.5 763.7 803.9 753.2 809.1Z" fill="#434b8d"/>
<path d="M763.7 805.9L793.5 793.5 763.7 804.6 734.0 817.0Z" fill="none" stroke="#111" stroke-width="1.1" stroke-linejoin="round"/>
<path d="M1154.3 512.6L1163.9 506.9 1151.8 526.1 1142.3 531.9Z" fill="#71b445"/>
<path d="M1142.9 530.7L1152.4 524.9 1140.4 543.2 1130.9 548.9Z" fill="#70b448"/>
<path d="M1131.5 547.7L1141.0 542.0 1129.1 559.2 1119.6 565.0Z" fill="#75b769"/>
<path d="M1163.6 506.8L1173.1 501.0 1161.0 520.2 1151.5 526.0Z" fill="#71b445"/>
<path d="M1152.1 524.8L1161.6 519.0 1149.6 537.2 1140.1 543.0Z" fill="#70b447"/>
<path d="M1140.7 541.8L1150.2 536.0 1138.3 553.2 1128.8 559.0Z" fill="#74b663"/>
<path d="M1172.8 500.8L1182.3 495.0 1170.1 514.1 1160.7 520.0Z" fill="#71b445"/>
<path d="M1161.3 518.8L1170.8 512.9 1158.7 531.1 1149.3 537.0Z" fill="#70b447"/>
<path d="M1149.9 535.8L1159.3 529.9 1147.4 547.1 1138.0 553.0Z" fill="#73b65e"/>
<path d="M1154.2 513.3L1181.8 495.5 1147.6 546.4 1120.1 564.4Z" fill="none" stroke="#111" stroke-width="2.0" stroke-linejoin="round"/>
<path d="M1244.8 416.4L1254.1 410.3 1241.6 432.4 1232.2 438.6Z" fill="#8cbd3e"/>
<path d="M1232.8 437.4L1242.2 431.2 1229.8 452.3 1220.4 458.5Z" fill="#75b53e"/>
<path d="M1221.0 457.3L1230.4 451.1 1218.1 471.2 1208.7 477.4Z" fill="#73b541"/>
<path d="M1253.9 410.1L1263.2 403.9 1250.7 426.0 1241.3 432.3Z" fill="#90be3e"/>
<path d="M1241.9 431.1L1251.2 424.8 1238.8 445.9 1229.5 452.2Z" fill="#78b63e"/>
<path d="M1230.1 451.0L1239.4 444.7 1227.1 464.7 1217.8 471.1Z" fill="#73b540"/>
<path d="M1262.9 403.8L1272.2 397.4 1259.7 419.5 1250.4 425.9Z" fill="#92bf3f"/>
<path d="M1250.9 424.7L1260.2 418.3 1247.8 439.4 1238.5 445.8Z" fill="#7cb83e"/>
<path d="M1239.1 444.5L1248.4 438.1 1236.1 458.2 1226.8 464.6Z" fill="#73b540"/>
<path d="M1244.6 417.1L1271.8 398.0 1236.2 457.5 1209.1 476.9Z" fill="none" stroke="#111" stroke-width="2.0" stroke-linejoin="round"/>
<path d="M404.0 818.9L415.5 816.1 405.5 804.8 394.0 807.6Z" fill="#434b8e"/>
<path d="M394.6 808.5L406.1 805.8 396.1 793.7 384.6 796.4Z" fill="#434b8e"/>
<path d="M385.1 797.4L396.6 794.7 386.7 781.7 375.2 784.4Z" fill="#444d90"/>
<path d="M414.8 816.5L426.2 813.6 416.2 802.4 404.8 805.2Z" fill="#434b8e"/>
<path d="M405.4 806.2L416.8 803.3 406.8 791.2 395.4 794.1Z" fill="#434b8e"/>
<path d="M395.9 795.1L407.4 792.2 397.4 779.3 386.0 782.1Z" fill="#444c90"/>
<path d="M425.5 814.1L436.9 811.1 426.9 799.8 415.5 802.8Z" fill="#434b8d"/>
<path d="M416.1 803.7L427.5 800.8 417.5 788.7 406.1 791.7Z" fill="#434b8e"/>
<path d="M406.7 792.6L418.1 789.7 408.1 776.8 396.7 779.7Z" fill="#434c8f"/>
<path d="M404.0 818.2L436.2 810.8 408.0 777.5 375.8 784.7Z" fill="none" stroke="#111" stroke-width="2.0" stroke-linejoin="round"/>
<path d="M1064.3 597.5L1074.1 592.3 1062.4 608.7 1052.6 613.9Z" fill="#79bd9e"/>
<path d="M1053.2 612.7L1063.0 607.5 1051.4 622.9 1041.6 628.1Z" fill="#77c0b1"/>
<path d="M1042.3 627.0L1052.0 621.7 1040.5 636.2 1030.7 641.4Z" fill="#72c0b8"/>
<path d="M1073.7 592.1L1083.4 586.8 1071.7 603.1 1062.0 608.5Z" fill="#79bd9c"/>
<path d="M1062.6 607.3L1072.3 602.0 1060.7 617.4 1051.0 622.7Z" fill="#78c0b1"/>
<path d="M1051.6 621.5L1061.3 616.2 1049.8 630.6 1040.1 636.0Z" fill="#72c0b7"/>
<path d="M1083.1 586.6L1092.8 581.2 1081.0 597.5 1071.4 603.0Z" fill="#79bc99"/>
<path d="M1072.0 601.8L1081.7 596.4 1070.0 611.7 1060.3 617.2Z" fill="#78c0af"/>
<path d="M1061.0 616.0L1070.6 610.6 1059.1 625.0 1049.4 630.4Z" fill="#73c0b7"/>
<path d="M1064.2 598.2L1092.3 581.7 1059.2 624.3 1031.2 641.0Z" fill="none" stroke="#111" stroke-width="1.8" stroke-linejoin="round"/>
<path d="M823.9 773.9L834.3 770.0 823.4 778.2 813.0 782.2Z" fill="#4b5b9f"/>
<path d="M813.7 781.1L824.1 777.2 813.3 784.5 802.9 788.4Z" fill="#465296"/>
<path d="M803.7 787.4L814.0 783.5 803.2 789.9 792.9 793.8Z" fill="#444e91"/>
<path d="M833.8 769.7L844.1 765.7 833.2 773.9 822.9 777.9Z" fill="#4b5ca0"/>
<path d="M823.6 776.8L833.9 772.8 823.1 780.1 812.8 784.1Z" fill="#465296"/>
<path d="M813.6 783.1L823.8 779.1 813.0 785.5 802.7 789.5Z" fill="#444e91"/>
<path d="M843.6 765.3L853.9 761.2 843.0 769.4 832.7 773.5Z" fill="#4b5da1"/>
<path d="M833.5 772.5L843.7 768.4 832.8 775.7 822.6 779.8Z" fill="#465396"/>
<path d="M823.4 778.8L833.6 774.7 822.7 781.0 812.5 785.1Z" fill="#444e92"/>
<path d="M823.8 774.6L853.3 761.6 822.9 780.4 793.5 793.5Z" fill="none" stroke="#111" stroke-width="1.1" stroke-linejoin="round"/>
<path d="M974.4 671.3L984.4 666.5 973.1 680.2 963.1 684.9Z" fill="#66bec6"/>
<path d="M963.7 683.8L973.7 679.0 962.4 691.7 952.4 696.4Z" fill="#5abad3"/>
<path d="M953.1 695.3L963.1 690.6 951.8 702.3 941.8 707.1Z" fill="#4fb7df"/>
<path d="M984.0 666.3L994.0 661.5 982.6 675.1 972.6 679.9Z" fill="#67bec5"/>
<path d="M973.3 678.8L983.2 674.0 971.9 686.6 962.0 691.5Z" fill="#5bbbd2"/>
<path d="M962.6 690.3L972.6 685.5 961.3 697.2 951.4 702.1Z" fill="#50b7de"/>
<path d="M993.6 661.3L1003.5 656.4 992.1 670.0 982.2 674.9Z" fill="#68bfc4"/>
<path d="M982.8 673.7L992.7 668.8 981.4 681.5 971.5 686.4Z" fill="#5cbbd0"/>
<path d="M972.2 685.3L982.1 680.4 970.8 692.1 960.9 697.0Z" fill="#51b8dc"/>
<path d="M974.3 671.9L1002.9 656.8 970.9 691.4 942.4 706.6Z" fill="none" stroke="#111" stroke-width="1.6" stroke-linejoin="round"/>
<path d="M553.0 859.3L564.3 855.6 554.2 851.9 542.9 855.6Z" fill="#424a8c"/>
<path d="M543.5 856.3L554.8 852.7 544.7 848.2 533.4 851.8Z" fill="#424a8c"/>
<path d="M534.0 852.5L545.3 848.9 535.2 843.6 523.9 847.2Z" fill="#424a8c"/>
<path d="M563.5 856.3L574.8 852.5 564.6 848.9 553.4 852.6Z" fill="#424a8c"/>
<path d="M554.0 853.3L565.2 849.6 555.1 845.1 543.9 848.8Z" fill="#424a8c"/>
<path d="M544.5 849.5L555.7 845.8 545.6 840.5 534.4 844.2Z" fill="#424a8c"/>
<path d="M574.0 853.2L585.1 849.3 575.0 845.7 563.8 849.6Z" fill="#424a8c"/>
<path d="M564.4 850.2L575.6 846.4 565.4 841.9 554.3 845.8Z" fill="#424a8c"/>
<path d="M554.9 846.5L566.1 842.6 555.9 837.3 544.8 841.1Z" fill="#424a8c"/>
<path d="M553.2 858.6L584.4 849.3 555.9 838.0 524.6 847.2Z" fill="none" stroke="#111" stroke-width="1.8" stroke-linejoin="round"/>
<path d="M613.1 853.9L624.3 849.9 614.1 848.8 602.9 852.8Z" fill="#424a8c"/>
<path d="M603.5 853.4L614.6 849.4 604.4 847.5 593.3 851.5Z" fill="#424a8c"/>
<path d="M593.9 852.1L605.0 848.1 594.9 845.4 583.7 849.4Z" fill="#424a8c"/>
<path d="M623.5 850.6L634.6 846.5 624.4 845.4 613.3 849.6Z" fill="#424a8c"/>
<path d="M613.9 850.2L624.9 846.1 614.7 844.1 603.6 848.3Z" fill="#424a8c"/>
<path d="M604.2 848.9L615.3 844.8 605.1 842.0 594.1 846.1Z" fill="#424a8c"/>
<path d="M633.8 847.3L644.8 843.0 634.6 842.0 623.5 846.2Z" fill="#424a8c"/>
<path d="M624.2 846.8L635.2 842.6 625.0 840.7 613.9 844.9Z" fill="#424a8c"/>
<path d="M614.5 845.5L625.6 841.3 615.4 838.6 604.3 842.7Z" fill="#424a8c"/>
<path d="M613.3 853.2L644.1 843.2 615.3 839.2 584.4 849.3Z" fill="none" stroke="#111" stroke-width="1.4" stroke-linejoin="round"/>
<path d="M492.8 856.3L504.2 853.0 494.1 846.8 482.7 850.1Z" fill="#424a8c"/>
<path d="M483.3 850.9L494.7 847.6 484.7 840.6 473.3 843.8Z" fill="#424a8c"/>
<path d="M473.9 844.6L485.3 841.4 475.2 833.5 463.8 836.7Z" fill="#424a8d"/>
<path d="M503.4 853.6L514.8 850.2 504.7 844.0 493.3 847.4Z" fill="#424a8c"/>
<path d="M493.9 848.2L505.3 844.8 495.2 837.8 483.9 841.1Z" fill="#424a8c"/>
<path d="M484.5 841.9L495.8 838.6 485.8 830.7 474.4 834.0Z" fill="#424a8d"/>
<path d="M514.0 850.8L525.3 847.3 515.2 841.1 503.9 844.6Z" fill="#424a8c"/>
<path d="M504.5 845.4L515.8 841.9 505.7 834.9 494.5 838.4Z" fill="#424a8c"/>
<path d="M495.1 839.2L506.3 835.7 496.3 827.8 485.0 831.3Z" fill="#424a8c"/>
<path d="M492.9 855.6L524.6 847.2 496.2 828.5 464.5 836.9Z" fill="none" stroke="#111" stroke-width="2.0" stroke-linejoin="round"/>
<path d="M673.2 840.2L684.2 835.8 674.0 837.4 662.9 841.8Z" fill="#424a8d"/>
<path d="M663.4 842.3L674.5 837.9 664.2 838.6 653.2 842.9Z" fill="#424a8d"/>
<path d="M653.7 843.5L664.7 839.1 654.4 838.9 643.5 843.3Z" fill="#424a8c"/>
<path d="M683.4 836.7L694.4 832.2 684.1 833.8 673.1 838.2Z" fill="#424a8d"/>
<path d="M673.7 838.7L684.6 834.3 674.3 834.9 663.4 839.4Z" fill="#424a8d"/>
<path d="M663.9 839.9L674.9 835.5 664.6 835.3 653.7 839.8Z" fill="#424a8c"/>
<path d="M693.6 833.1L704.5 828.5 694.2 830.0 683.3 834.6Z" fill="#424a8d"/>
<path d="M683.8 835.1L694.7 830.6 684.4 831.2 673.5 835.8Z" fill="#424a8d"/>
<path d="M674.1 836.3L685.0 831.8 674.7 831.6 663.8 836.1Z" fill="#424a8c"/>
<path d="M673.4 839.5L703.9 828.7 674.6 832.3 644.1 843.2Z" fill="none" stroke="#111" stroke-width="1.1" stroke-linejoin="round"/>
<path d="M884.4 734.1L894.7 729.9 883.6 740.8 873.3 745.0Z" fill="#5296cd"/>
<path d="M874.0 743.9L884.3 739.8 873.2 749.8 863.0 754.0Z" fill="#577cbd"/>
<path d="M863.7 752.9L873.9 748.7 862.9 757.8 852.7 762.0Z" fill="#526cae"/>
<path d="M894.2 729.6L904.4 725.4 893.3 736.3 883.1 740.6Z" fill="#5297ce"/>
<path d="M883.8 739.5L894.0 735.2 882.9 745.2 872.7 749.4Z" fill="#577ebe"/>
<path d="M873.4 748.4L883.6 744.1 872.6 753.1 862.5 757.4Z" fill="#536db0"/>
<path d="M903.9 725.1L914.1 720.7 903.0 731.6 892.8 736.0Z" fill="#5299cf"/>
<path d="M893.5 734.9L903.7 730.5 892.6 740.5 882.5 744.9Z" fill="#5680bf"/>
<path d="M883.2 743.8L893.3 739.4 882.3 748.4 872.2 752.8Z" fill="#536eb1"/>
<path d="M884.3 734.8L913.5 721.1 882.4 747.8 853.3 761.6Z" fill="none" stroke="#111" stroke-width="1.3" stroke-linejoin="round"/>
<path d="M432.2 845.1L443.8 842.1 433.8 833.4 422.2 836.3Z" fill="#424a8d"/>
<path d="M422.8 837.1L434.3 834.3 424.3 824.7 412.8 827.5Z" fill="#434b8d"/>
<path d="M413.4 828.4L424.9 825.6 414.9 815.1 403.4 818.0Z" fill="#434b8d"/>
<path d="M443.0 842.7L454.5 839.6 444.5 830.9 433.0 833.9Z" fill="#424a8d"/>
<path d="M433.6 834.8L445.1 831.8 435.1 822.2 423.6 825.1Z" fill="#434b8d"/>
<path d="M424.2 826.0L435.6 823.1 425.6 812.7 414.2 815.6Z" fill="#434b8d"/>
<path d="M453.8 840.2L465.2 837.1 455.2 828.3 443.7 831.4Z" fill="#424a8d"/>
<path d="M444.3 832.3L455.7 829.2 445.7 819.6 434.3 822.7Z" fill="#424a8d"/>
<path d="M434.9 823.6L446.3 820.5 436.3 810.1 424.9 813.1Z" fill="#434b8d"/>
<path d="M432.3 844.4L464.5 836.9 436.2 810.8 404.0 818.2Z" fill="none" stroke="#111" stroke-width="2.0" stroke-linejoin="round"/>
<path d="M733.4 816.7L744.3 813.4 733.8 819.0 723.0 822.3Z" fill="#434b8e"/>
<path d="M722.9 822.1L734.3 818.0 724.5 821.9 713.0 826.0Z" fill="#434b8d"/>
<path d="M713.5 826.5L724.5 821.8 714.1 824.2 703.2 828.9Z" fill="#434b8d"/>
<path d="M743.6 813.0L754.3 809.5 743.8 815.1 733.0 818.5Z" fill="#434b8e"/>
<path d="M733.2 818.7L744.4 814.2 734.3 817.7 723.1 822.3Z" fill="#434b8d"/>
<path d="M723.7 822.7L734.5 817.9 724.1 820.3 713.3 825.1Z" fill="#434b8d"/>
<path d="M753.6 809.1L764.4 805.6 753.8 811.2 743.1 814.7Z" fill="#434b8e"/>
<path d="M743.5 815.1L754.4 810.2 744.1 813.5 733.2 818.4Z" fill="#434b8d"/>
<path d="M733.7 818.8L744.5 814.0 734.1 816.4 723.3 821.2Z" fill="#434b8d"/>
<path d="M733.5 817.4L763.7 805.9 734.0 817.0 703.9 828.7Z" fill="none" stroke="#111" stroke-width="1.1" stroke-linejoin="round"/>
<path d="M1126.4 529.6L1136.1 524.2 1124.1 543.5 1114.4 549.0Z" fill="#71b446"/>
<path d="M1115.0 547.8L1124.6 542.3 1112.7 560.6 1103.0 566.1Z" fill="#71b551"/>
<path d="M1103.6 564.9L1113.3 559.4 1101.4 576.7 1091.8 582.2Z" fill="#77b878"/>
<path d="M1135.8 524.1L1145.4 518.5 1133.3 537.8 1123.7 543.4Z" fill="#71b446"/>
<path d="M1124.3 542.1L1133.9 536.6 1122.0 554.9 1112.4 560.4Z" fill="#71b44c"/>
<path d="M1113.0 559.2L1122.6 553.7 1110.7 571.0 1101.1 576.5Z" fill="#76b873"/>
<path d="M1145.1 518.4L1154.7 512.8 1142.6 532.0 1133.0 537.7Z" fill="#71b446"/>
<path d="M1133.6 536.4L1143.2 530.8 1131.2 549.1 1121.6 554.7Z" fill="#70b448"/>
<path d="M1122.2 553.5L1131.8 547.9 1119.9 565.1 1110.4 570.8Z" fill="#76b76e"/>
<path d="M1126.3 530.3L1154.2 513.3 1120.1 564.4 1092.3 581.7Z" fill="none" stroke="#111" stroke-width="2.0" stroke-linejoin="round"/>
<path d="M1217.3 434.8L1226.8 428.9 1214.3 451.1 1204.8 457.1Z" fill="#83ba3e"/>
<path d="M1205.4 455.8L1214.9 449.9 1202.5 471.1 1193.0 477.1Z" fill="#74b53f"/>
<path d="M1193.6 475.8L1203.1 469.9 1190.8 490.1 1181.4 496.0Z" fill="#73b542"/>
<path d="M1226.5 428.8L1235.9 422.8 1223.4 445.0 1214.0 451.0Z" fill="#86bb3e"/>
<path d="M1214.6 449.8L1224.0 443.8 1211.6 464.9 1202.2 471.0Z" fill="#74b53f"/>
<path d="M1202.8 469.7L1212.2 463.7 1199.9 483.9 1190.5 489.9Z" fill="#73b541"/>
<path d="M1235.6 422.6L1245.1 416.6 1232.5 438.8 1223.1 444.9Z" fill="#89bc3e"/>
<path d="M1223.7 443.6L1233.1 437.5 1220.7 458.7 1211.3 464.8Z" fill="#74b53e"/>
<path d="M1211.9 463.6L1221.3 457.4 1209.0 477.6 1199.6 483.7Z" fill="#73b541"/>
<path d="M1217.2 435.5L1244.6 417.1 1209.1 476.9 1181.8 495.5Z" fill="none" stroke="#111" stroke-width="2.0" stroke-linejoin="round"/>
<path d="M1035.9 613.1L1045.8 608.2 1034.1 624.7 1024.3 629.6Z" fill="#79bea5"/>
<path d="M1024.9 628.5L1034.7 623.5 1023.2 639.0 1013.3 644.0Z" fill="#75c0b4"/>
<path d="M1013.9 642.8L1023.8 637.8 1012.3 652.3 1002.4 657.3Z" fill="#70c0bb"/>
<path d="M1045.4 608.0L1055.3 603.0 1043.6 619.4 1033.7 624.5Z" fill="#79bea3"/>
<path d="M1034.4 623.3L1044.2 618.2 1032.6 633.7 1022.8 638.8Z" fill="#76c0b3"/>
<path d="M1023.4 637.6L1033.2 632.5 1021.7 647.0 1011.9 652.1Z" fill="#71c0ba"/>
<path d="M1054.9 602.8L1064.7 597.7 1053.0 614.1 1043.2 619.2Z" fill="#79bda1"/>
<path d="M1043.8 618.0L1053.6 612.9 1042.0 628.3 1032.2 633.5Z" fill="#76c0b2"/>
<path d="M1032.8 632.3L1042.6 627.2 1031.1 641.7 1021.3 646.8Z" fill="#71c0b9"/>
<path d="M1035.8 613.8L1064.2 598.2 1031.2 641.0 1002.9 656.8Z" fill="none" stroke="#111" stroke-width="1.9" stroke-linejoin="round"/>
<path d="M794.0 786.2L804.6 782.5 793.8 790.8 783.2 794.4Z" fill="#4a5a9e"/>
<path d="M783.9 793.4L794.4 789.8 783.7 797.1 773.1 800.7Z" fill="#465195"/>
<path d="M773.8 799.7L784.3 796.1 773.6 802.5 763.1 806.2Z" fill="#444d90"/>
<path d="M804.0 782.2L814.5 778.5 803.7 786.7 793.2 790.4Z" fill="#4a5a9e"/>
<path d="M793.9 789.4L804.4 785.7 793.6 793.0 783.1 796.7Z" fill="#465295"/>
<path d="M783.8 795.7L794.3 792.0 783.5 798.4 773.0 802.2Z" fill="#444d90"/>
<path d="M814.0 778.1L824.4 774.3 813.6 782.5 803.1 786.3Z" fill="#4a5b9f"/>
<path d="M803.8 785.3L814.3 781.5 803.5 788.8 793.0 792.6Z" fill="#465296"/>
<path d="M793.7 791.6L804.2 787.8 793.4 794.2 783.0 798.0Z" fill="#444d91"/>
<path d="M794.0 786.9L823.8 774.6 793.5 793.5 763.7 805.9Z" fill="none" stroke="#111" stroke-width="1.1" stroke-linejoin="round"/>
<path d="M945.5 685.5L955.6 681.1 944.3 694.8 934.1 699.3Z" fill="#63bdc9"/>
<path d="M934.8 698.1L944.9 693.7 933.6 706.4 923.5 710.9Z" fill="#57bad6"/>
<path d="M924.2 709.7L934.3 705.3 923.1 717.1 913.0 721.5Z" fill="#4cb6e2"/>
<path d="M955.2 680.9L965.2 676.3 953.9 690.0 943.8 694.6Z" fill="#64bdc9"/>
<path d="M944.5 693.4L954.5 688.9 943.3 701.6 933.2 706.1Z" fill="#58bad5"/>
<path d="M933.8 705.0L943.9 700.5 932.7 712.2 922.6 716.8Z" fill="#4db6e1"/>
<path d="M964.8 676.1L974.9 671.5 963.5 685.1 953.5 689.8Z" fill="#65bec7"/>
<path d="M954.1 688.6L964.1 684.0 952.8 696.7 942.8 701.3Z" fill="#59bad4"/>
<path d="M943.5 700.2L953.5 695.6 942.3 707.3 932.3 712.0Z" fill="#4eb7e0"/>
<path d="M945.4 686.2L974.3 671.9 942.4 706.6 913.5 721.1Z" fill="none" stroke="#111" stroke-width="1.7" stroke-linejoin="round"/>
<path d="M581.8 863.1L593.1 859.4 583.0 858.3 571.6 862.1Z" fill="#424a8c"/>
<path d="M572.2 862.7L583.5 858.9 573.3 857.0 562.0 860.8Z" fill="#424a8c"/>
<path d="M562.6 861.4L573.9 857.7 563.7 854.9 552.5 858.6Z" fill="#424a8c"/>
<path d="M592.3 860.1L603.6 856.3 593.4 855.2 582.1 859.1Z" fill="#424a8c"/>
<path d="M582.7 859.7L593.9 855.9 583.8 853.9 572.5 857.8Z" fill="#424a8c"/>
<path d="M573.1 858.4L584.3 854.6 574.2 851.8 562.9 855.6Z" fill="#424a8c"/>
<path d="M602.7 857.1L614.0 853.1 603.8 852.1 592.5 856.0Z" fill="#424a8c"/>
<path d="M593.1 856.6L604.3 852.7 594.1 850.8 582.9 854.7Z" fill="#424a8c"/>
<path d="M583.5 855.3L594.7 851.4 584.5 848.6 573.4 852.5Z" fill="#424a8c"/>
<path d="M582.0 862.4L613.3 853.2 584.4 849.3 553.2 858.6Z" fill="none" stroke="#111" stroke-width="1.4" stroke-linejoin="round"/>
<path d="M521.3 867.7L532.8 864.3 522.6 860.6 511.2 864.0Z" fill="#424a8c"/>
<path d="M511.8 864.7L523.2 861.4 513.1 856.8 501.7 860.2Z" fill="#424a8c"/>
<path d="M502.3 860.9L513.7 857.6 503.6 852.2 492.2 855.6Z" fill="#424a8c"/>
<path d="M531.9 865.0L543.3 861.5 533.2 857.8 521.8 861.3Z" fill="#424a8c"/>
<path d="M522.4 862.0L533.8 858.6 523.7 854.0 512.3 857.5Z" fill="#424a8c"/>
<path d="M512.9 858.2L524.3 854.8 514.2 849.4 502.8 852.9Z" fill="#424a8c"/>
<path d="M542.5 862.2L553.9 858.6 543.7 854.9 532.4 858.5Z" fill="#424a8c"/>
<path d="M533.0 859.2L544.3 855.7 534.2 851.2 522.9 854.7Z" fill="#424a8c"/>
<path d="M523.5 855.4L534.8 851.9 524.7 846.5 513.4 850.1Z" fill="#424a8c"/>
<path d="M521.4 867.0L553.2 858.6 524.6 847.2 492.9 855.6Z" fill="none" stroke="#111" stroke-width="1.7" stroke-linejoin="round"/>
<path d="M642.1 850.1L653.5 846.1 643.3 847.7 632.0 851.8Z" fill="#424a8d"/>
<path d="M632.5 852.3L643.7 848.2 633.5 848.9 622.3 853.0Z" fill="#424a8d"/>
<path d="M622.8 853.5L634.0 849.4 623.8 849.3 612.6 853.3Z" fill="#424a8d"/>
<path d="M652.5 846.9L663.8 842.8 653.6 844.4 642.3 848.5Z" fill="#424a8d"/>
<path d="M642.8 849.0L654.0 844.9 643.8 845.5 632.6 849.7Z" fill="#424a8d"/>
<path d="M633.1 850.3L644.3 846.1 634.0 845.9 622.9 850.1Z" fill="#424a8d"/>
<path d="M662.9 843.6L674.0 839.3 663.8 840.9 652.6 845.2Z" fill="#424a8d"/>
<path d="M653.2 845.7L664.3 841.4 654.0 842.1 642.9 846.4Z" fill="#424a8d"/>
<path d="M643.5 846.9L654.5 842.7 644.3 842.5 633.2 846.7Z" fill="#424a8c"/>
<path d="M642.4 849.5L673.4 839.5 644.1 843.2 613.3 853.2Z" fill="none" stroke="#111" stroke-width="1.1" stroke-linejoin="round"/>
<path d="M460.6 863.9L472.2 860.9 462.1 854.6 450.6 857.6Z" fill="#424a8d"/>
<path d="M451.1 858.4L462.7 855.4 452.7 848.4 441.1 851.3Z" fill="#424a8d"/>
<path d="M441.7 852.1L453.2 849.2 443.2 841.3 431.7 844.2Z" fill="#424a8d"/>
<path d="M471.4 861.4L482.9 858.3 472.9 852.1 461.3 855.2Z" fill="#424a8c"/>
<path d="M461.9 856.0L473.4 852.9 463.4 845.8 451.9 848.9Z" fill="#424a8d"/>
<path d="M452.5 849.7L464.0 846.7 453.9 838.8 442.4 841.8Z" fill="#424a8d"/>
<path d="M482.1 858.9L493.6 855.7 483.5 849.5 472.0 852.7Z" fill="#424a8c"/>
<path d="M472.6 853.5L484.1 850.3 474.0 843.3 462.6 846.4Z" fill="#424a8d"/>
<path d="M463.2 847.2L474.6 844.1 464.6 836.2 453.2 839.3Z" fill="#424a8d"/>
<path d="M460.7 863.2L492.9 855.6 464.5 836.9 432.3 844.4Z" fill="none" stroke="#111" stroke-width="2.0" stroke-linejoin="round"/>
<path d="M854.8 747.0L865.2 743.1 854.2 754.1 843.8 758.0Z" fill="#5392cb"/>
<path d="M844.4 756.9L854.9 753.0 843.9 763.0 833.5 766.9Z" fill="#5878ba"/>
<path d="M834.1 765.9L844.5 762.0 833.6 771.1 823.2 775.0Z" fill="#5169ac"/>
<path d="M864.7 742.8L875.1 738.8 864.0 749.7 853.7 753.8Z" fill="#5393cb"/>
<path d="M854.3 752.7L864.7 748.7 853.7 758.7 843.4 762.7Z" fill="#5879bb"/>
<path d="M844.0 761.6L854.4 757.6 843.4 766.7 833.1 770.7Z" fill="#516aad"/>
<path d="M874.6 738.5L884.9 734.4 873.8 745.3 863.5 749.4Z" fill="#5394cc"/>
<path d="M864.2 748.3L874.5 744.3 863.5 754.3 853.2 758.4Z" fill="#577bbc"/>
<path d="M853.9 757.3L864.2 753.2 853.2 762.3 842.9 766.4Z" fill="#526bae"/>
<path d="M854.8 747.7L884.3 734.8 853.3 761.6 823.8 774.6Z" fill="none" stroke="#111" stroke-width="1.4" stroke-linejoin="round"/>
<path d="M1098.2 545.9L1108.0 540.7 1096.0 560.1 1086.2 565.3Z" fill="#70b447"/>
<path d="M1086.8 564.1L1096.6 558.9 1084.7 577.3 1074.9 582.5Z" fill="#73b65e"/>
<path d="M1075.5 581.3L1085.3 576.1 1073.5 593.5 1063.7 598.7Z" fill="#79b984"/>
<path d="M1107.7 540.5L1117.4 535.3 1105.4 554.7 1095.7 559.9Z" fill="#71b447"/>
<path d="M1096.2 558.7L1106.0 553.5 1094.1 571.8 1084.3 577.1Z" fill="#73b65a"/>
<path d="M1084.9 575.9L1094.7 570.6 1082.8 588.0 1073.1 593.3Z" fill="#78b980"/>
<path d="M1117.1 535.1L1126.8 529.8 1114.7 549.1 1105.0 554.5Z" fill="#71b446"/>
<path d="M1105.6 553.3L1115.3 547.9 1103.4 566.3 1093.7 571.6Z" fill="#72b555"/>
<path d="M1094.3 570.4L1104.0 565.1 1092.2 582.4 1082.5 587.8Z" fill="#78b97c"/>
<path d="M1098.1 546.6L1126.3 530.3 1092.3 581.7 1064.2 598.2Z" fill="none" stroke="#111" stroke-width="2.0" stroke-linejoin="round"/>
<path d="M1189.6 452.4L1199.1 446.7 1186.7 469.1 1177.1 474.7Z" fill="#7ab73e"/>
<path d="M1177.7 473.5L1187.3 467.8 1175.0 489.1 1165.4 494.8Z" fill="#73b540"/>
<path d="M1166.0 493.6L1175.5 487.9 1163.3 508.1 1153.8 513.8Z" fill="#72b543"/>
<path d="M1198.8 446.6L1208.4 440.9 1195.9 463.2 1186.4 468.9Z" fill="#7db83e"/>
<path d="M1187.0 467.7L1196.5 461.9 1184.2 483.2 1174.6 489.0Z" fill="#73b540"/>
<path d="M1175.2 487.7L1184.7 482.0 1172.5 502.2 1163.0 508.0Z" fill="#72b542"/>
<path d="M1208.1 440.7L1217.6 434.9 1205.1 457.2 1195.6 463.0Z" fill="#80b93e"/>
<path d="M1196.2 461.8L1205.7 456.0 1193.4 477.2 1183.9 483.1Z" fill="#73b53f"/>
<path d="M1184.4 481.8L1193.9 476.0 1181.7 496.2 1172.2 502.0Z" fill="#72b542"/>
<path d="M1189.4 453.0L1217.2 435.5 1181.8 495.5 1154.2 513.3Z" fill="none" stroke="#111" stroke-width="2.0" stroke-linejoin="round"/>
<path d="M702.8 827.5L713.9 824.4 703.5 830.0 692.4 833.1Z" fill="#434b8e"/>
<path d="M692.5 832.4L703.9 829.1 693.9 833.5 682.5 836.8Z" fill="#434b8d"/>
<path d="M682.8 837.2L694.1 832.9 683.9 835.4 672.7 839.7Z" fill="#434b8d"/>
<path d="M713.0 824.0L724.0 820.8 713.6 826.4 702.6 829.6Z" fill="#434b8e"/>
<path d="M702.7 828.9L714.1 825.5 704.2 829.8 692.7 833.3Z" fill="#434b8d"/>
<path d="M693.1 833.7L704.2 829.3 694.0 831.8 682.9 836.2Z" fill="#434b8d"/>
<path d="M723.3 820.4L734.2 817.2 723.7 822.7 712.8 826.0Z" fill="#434b8e"/>
<path d="M712.8 825.5L724.3 821.8 714.4 826.0 702.9 829.7Z" fill="#434b8d"/>
<path d="M703.3 830.1L714.4 825.6 704.1 828.0 693.1 832.6Z" fill="#434b8d"/>
<path d="M703.0 828.1L733.5 817.4 703.9 828.7 673.4 839.5Z" fill="none" stroke="#111" stroke-width="1.1" stroke-linejoin="round"/>
<path d="M1007.2 628.0L1017.2 623.4 1005.6 639.9 995.6 644.6Z" fill="#78bfab"/>
<path d="M996.2 643.4L1006.2 638.7 994.6 654.3 984.6 659.0Z" fill="#74c0b6"/>
<path d="M985.2 657.8L995.3 653.1 983.8 667.7 973.8 672.4Z" fill="#6fc0bd"/>
<path d="M1016.8 623.2L1026.8 618.4 1015.1 634.9 1005.2 639.7Z" fill="#78bfa9"/>
<path d="M1005.8 638.5L1015.7 633.7 1004.2 649.3 994.2 654.1Z" fill="#74c0b5"/>
<path d="M994.8 652.9L1004.8 648.1 993.3 662.7 983.4 667.5Z" fill="#6fc0bc"/>
<path d="M1026.4 618.2L1036.3 613.3 1024.6 629.8 1014.7 634.7Z" fill="#78bfa7"/>
<path d="M1015.3 633.5L1025.3 628.7 1013.7 644.2 1003.8 649.1Z" fill="#75c0b4"/>
<path d="M1004.4 647.9L1014.3 643.0 1002.8 657.5 992.9 662.4Z" fill="#70c0bb"/>
<path d="M1007.1 628.7L1035.8 613.8 1002.9 656.8 974.3 671.9Z" fill="none" stroke="#111" stroke-width="1.9" stroke-linejoin="round"/>
<path d="M763.7 797.6L774.5 794.2 763.7 802.5 753.0 805.9Z" fill="#4a5a9e"/>
<path d="M753.6 804.8L764.3 801.5 753.7 808.9 742.9 812.2Z" fill="#465195"/>
<path d="M743.5 811.2L754.3 807.9 743.7 814.4 732.9 817.7Z" fill="#444d90"/>
<path d="M773.9 793.9L784.5 790.4 773.8 798.7 763.1 802.2Z" fill="#4a5a9e"/>
<path d="M763.7 801.1L774.4 797.7 763.7 805.0 753.0 808.5Z" fill="#465195"/>
<path d="M753.6 807.5L764.4 804.1 753.7 810.5 743.0 814.0Z" fill="#444d90"/>
<path d="M784.0 790.1L794.6 786.5 783.8 794.8 773.2 798.3Z" fill="#4a5a9e"/>
<path d="M773.8 797.3L784.4 793.8 773.7 801.1 763.1 804.7Z" fill="#465195"/>
<path d="M763.7 803.6L774.4 800.1 763.7 806.6 753.1 810.1Z" fill="#444d90"/>
<path d="M763.7 798.3L794.0 786.9 763.7 805.9 733.5 817.4Z" fill="none" stroke="#111" stroke-width="1.1" stroke-linejoin="round"/>
<path d="M916.1 699.0L926.4 694.9 915.1 708.6 904.9 712.8Z" fill="#61bdcc"/>
<path d="M905.5 711.7L915.8 707.5 904.5 720.3 894.3 724.5Z" fill="#55b9d8"/>
<path d="M894.9 723.4L905.2 719.2 894.0 731.0 883.8 735.2Z" fill="#4db0de"/>
<path d="M926.0 694.6L936.2 690.4 924.9 704.1 914.7 708.4Z" fill="#62bdcb"/>
<path d="M915.3 707.2L925.5 703.0 914.3 715.8 904.1 720.0Z" fill="#56b9d8"/>
<path d="M904.7 718.9L914.9 714.6 903.8 726.5 893.5 730.8Z" fill="#4db2df"/>
<path d="M935.7 690.1L945.9 685.8 934.6 699.5 924.4 703.9Z" fill="#62bdca"/>
<path d="M925.0 702.7L935.2 698.4 924.0 711.1 913.8 715.5Z" fill="#56b9d7"/>
<path d="M914.5 714.4L924.6 710.0 913.4 721.8 903.3 726.2Z" fill="#4cb4e1"/>
<path d="M916.1 699.7L945.4 686.2 913.5 721.1 884.3 734.8Z" fill="none" stroke="#111" stroke-width="1.7" stroke-linejoin="round"/>
<path d="M550.0 871.5L561.5 868.0 551.4 867.0 539.9 870.4Z" fill="#424a8d"/>
<path d="M540.4 871.0L551.9 867.6 541.8 865.7 530.3 869.1Z" fill="#424a8c"/>
<path d="M530.8 869.8L542.3 866.4 532.2 863.6 520.7 867.0Z" fill="#424a8c"/>
<path d="M560.6 868.8L572.1 865.2 562.0 864.2 550.5 867.8Z" fill="#424a8d"/>
<path d="M551.1 868.4L562.5 864.8 552.4 862.9 540.9 866.4Z" fill="#424a8c"/>
<path d="M541.5 867.1L552.9 863.6 542.8 860.8 531.4 864.3Z" fill="#424a8c"/>
<path d="M571.2 866.0L582.7 862.3 572.5 861.3 561.1 865.0Z" fill="#424a8d"/>
<path d="M561.6 865.6L573.0 861.9 562.9 860.0 551.5 863.6Z" fill="#424a8c"/>
<path d="M552.1 864.3L563.4 860.7 553.3 857.9 541.9 861.5Z" fill="#424a8c"/>
<path d="M550.2 870.8L582.0 862.4 553.2 858.6 521.4 867.0Z" fill="none" stroke="#111" stroke-width="1.4" stroke-linejoin="round"/>
<path d="M489.1 875.2L500.7 872.1 490.7 868.5 479.0 871.6Z" fill="#424a8d"/>
<path d="M479.6 872.3L491.2 869.2 481.1 864.7 469.5 867.7Z" fill="#424a8c"/>
<path d="M470.1 868.5L481.7 865.4 471.6 860.1 460.0 863.1Z" fill="#424a8c"/>
<path d="M499.9 872.8L511.5 869.6 501.4 866.0 489.8 869.1Z" fill="#424a8c"/>
<path d="M490.4 869.8L501.9 866.7 491.8 862.2 480.3 865.3Z" fill="#424a8c"/>
<path d="M480.9 866.1L492.4 862.9 482.3 857.5 470.8 860.7Z" fill="#424a8c"/>
<path d="M510.6 870.3L522.1 867.0 512.0 863.3 500.5 866.6Z" fill="#424a8c"/>
<path d="M501.1 867.3L512.6 864.1 502.5 859.6 491.0 862.8Z" fill="#424a8c"/>
<path d="M491.6 863.5L503.1 860.3 493.0 854.9 481.5 858.2Z" fill="#424a8c"/>
<path d="M489.3 874.5L521.4 867.0 492.9 855.6 460.7 863.2Z" fill="none" stroke="#111" stroke-width="1.7" stroke-linejoin="round"/>
<path d="M824.9 759.0L835.4 755.4 824.4 766.4 813.9 770.1Z" fill="#5390c9"/>
<path d="M814.5 769.0L825.1 765.4 814.2 775.5 803.6 779.1Z" fill="#5877b9"/>
<path d="M804.2 778.0L814.8 774.4 803.9 783.6 793.4 787.2Z" fill="#5068ab"/>
<path d="M834.9 755.1L845.4 751.4 834.4 762.4 823.9 766.1Z" fill="#5390ca"/>
<path d="M824.5 765.0L835.0 761.3 824.1 771.4 813.6 775.1Z" fill="#5877b9"/>
<path d="M814.2 774.1L824.7 770.3 813.9 779.5 803.4 783.2Z" fill="#5168ab"/>
<path d="M844.9 751.1L855.3 747.3 844.3 758.3 833.9 762.1Z" fill="#5391ca"/>
<path d="M834.5 761.0L845.0 757.2 834.0 767.3 823.6 771.1Z" fill="#5878ba"/>
<path d="M824.2 770.0L834.7 766.2 823.8 775.3 813.3 779.2Z" fill="#5169ac"/>
<path d="M824.8 759.7L854.8 747.7 823.8 774.6 794.0 786.9Z" fill="none" stroke="#111" stroke-width="1.5" stroke-linejoin="round"/>
<path d="M610.6 859.2L622.3 855.5 612.3 857.3 600.7 860.9Z" fill="#434b8d"/>
<path d="M601.0 861.4L612.5 857.7 602.4 858.4 590.9 862.2Z" fill="#424a8d"/>
<path d="M591.4 862.7L602.8 858.9 592.7 858.8 581.3 862.5Z" fill="#424a8d"/>
<path d="M621.2 856.3L632.7 852.5 622.7 854.2 611.1 858.0Z" fill="#434b8d"/>
<path d="M611.6 858.5L623.0 854.6 612.8 855.3 601.4 859.2Z" fill="#424a8d"/>
<path d="M601.9 859.7L613.2 855.9 603.1 855.7 591.8 859.6Z" fill="#424a8d"/>
<path d="M631.7 853.2L643.1 849.3 633.0 851.0 621.6 854.9Z" fill="#434b8d"/>
<path d="M622.0 855.4L633.4 851.4 623.2 852.2 611.9 856.1Z" fill="#424a8d"/>
<path d="M612.4 856.7L623.6 852.7 613.4 852.5 602.2 856.5Z" fill="#424a8d"/>
<path d="M611.1 858.7L642.4 849.5 613.3 853.2 582.0 862.4Z" fill="none" stroke="#111" stroke-width="1.1" stroke-linejoin="round"/>
<path d="M1161.5 469.1L1171.2 463.8 1158.8 486.2 1149.1 491.6Z" fill="#74b53e"/>
<path d="M1149.7 490.3L1159.4 485.0 1147.1 506.3 1137.4 511.7Z" fill="#73b541"/>
<path d="M1138.0 510.5L1147.7 505.1 1135.5 525.4 1125.9 530.9Z" fill="#72b444"/>
<path d="M1170.9 463.6L1180.6 458.2 1168.2 480.6 1158.5 486.0Z" fill="#75b53e"/>
<path d="M1159.1 484.8L1168.7 479.3 1156.4 500.7 1146.8 506.2Z" fill="#73b541"/>
<path d="M1147.4 504.9L1157.0 499.5 1144.8 519.8 1135.2 525.3Z" fill="#72b443"/>
<path d="M1180.2 458.0L1189.9 452.5 1177.5 474.9 1167.8 480.4Z" fill="#78b63e"/>
<path d="M1168.4 479.2L1178.0 473.6 1165.7 494.9 1156.1 500.5Z" fill="#73b540"/>
<path d="M1156.7 499.3L1166.3 493.7 1154.1 514.0 1144.5 519.6Z" fill="#72b543"/>
<path d="M1161.4 469.8L1189.4 453.0 1154.2 513.3 1126.3 530.3Z" fill="none" stroke="#111" stroke-width="2.0" stroke-linejoin="round"/>
<path d="M1069.7 561.3L1079.6 556.4 1067.6 575.9 1057.8 580.8Z" fill="#70b448"/>
<path d="M1058.3 579.6L1068.2 574.7 1056.4 593.1 1046.5 598.1Z" fill="#75b768"/>
<path d="M1047.1 596.9L1057.0 591.9 1045.2 609.4 1035.3 614.3Z" fill="#7aba8e"/>
<path d="M1079.2 556.2L1089.1 551.3 1077.1 570.7 1067.3 575.7Z" fill="#70b447"/>
<path d="M1067.8 574.5L1077.7 569.5 1065.8 587.9 1056.0 593.0Z" fill="#74b765"/>
<path d="M1056.6 591.8L1066.4 586.7 1054.7 604.2 1044.8 609.2Z" fill="#7aba8c"/>
<path d="M1088.7 551.1L1098.6 546.0 1086.6 565.5 1076.8 570.5Z" fill="#70b447"/>
<path d="M1077.3 569.3L1087.2 564.2 1075.3 582.7 1065.5 587.8Z" fill="#74b661"/>
<path d="M1066.1 586.6L1075.9 581.5 1064.1 598.9 1054.3 604.0Z" fill="#79ba88"/>
<path d="M1069.6 562.0L1098.1 546.6 1064.2 598.2 1035.8 613.8Z" fill="none" stroke="#111" stroke-width="2.0" stroke-linejoin="round"/>
<path d="M978.1 642.1L988.2 637.7 976.7 654.3 966.5 658.7Z" fill="#78c0af"/>
<path d="M967.1 657.5L977.3 653.1 965.8 668.8 955.6 673.2Z" fill="#73c0b7"/>
<path d="M956.2 672.0L966.4 667.6 955.0 682.3 944.8 686.7Z" fill="#6dc0be"/>
<path d="M987.8 637.5L997.9 633.0 986.3 649.6 976.2 654.1Z" fill="#78c0ae"/>
<path d="M976.8 652.9L986.9 648.4 975.4 664.0 965.3 668.5Z" fill="#73c0b7"/>
<path d="M965.9 667.4L976.0 662.9 964.6 677.5 954.5 682.0Z" fill="#6ec0be"/>
<path d="M997.5 632.8L1007.6 628.2 996.0 644.8 985.9 649.4Z" fill="#78bfac"/>
<path d="M986.5 648.2L996.6 643.6 985.1 659.2 975.0 663.8Z" fill="#73c0b6"/>
<path d="M975.6 662.6L985.7 658.0 974.2 672.6 964.2 677.3Z" fill="#6ec0bd"/>
<path d="M978.0 642.8L1007.1 628.7 974.3 671.9 945.4 686.2Z" fill="none" stroke="#111" stroke-width="2.0" stroke-linejoin="round"/>
<path d="M671.8 837.4L683.0 834.6 672.7 840.2 661.4 843.0Z" fill="#434b8e"/>
<path d="M661.6 842.2L673.1 839.3 663.1 843.9 651.6 846.8Z" fill="#434b8e"/>
<path d="M651.6 846.9L663.3 843.1 653.4 845.9 641.8 849.7Z" fill="#434b8d"/>
<path d="M682.2 834.2L693.3 831.3 683.0 836.9 671.8 839.8Z" fill="#434b8e"/>
<path d="M672.0 839.0L683.4 836.0 673.4 840.5 661.9 843.6Z" fill="#434b8e"/>
<path d="M662.0 843.8L673.6 839.8 663.6 842.5 652.1 846.5Z" fill="#434b8d"/>
<path d="M692.5 830.9L703.6 827.9 693.2 833.5 682.1 836.5Z" fill="#434b8e"/>
<path d="M682.3 835.7L693.7 832.6 683.7 837.1 672.3 840.2Z" fill="#434b8e"/>
<path d="M672.4 840.5L683.8 836.4 673.8 839.0 662.4 843.1Z" fill="#434b8d"/>
<path d="M672.0 838.0L703.0 828.1 673.4 839.5 642.4 849.5Z" fill="none" stroke="#111" stroke-width="1.1" stroke-linejoin="round"/>
<path d="M886.5 711.7L896.9 707.8 885.6 721.6 875.2 725.5Z" fill="#60bccd"/>
<path d="M875.8 724.4L886.2 720.5 875.1 733.4 864.7 737.3Z" fill="#54b8da"/>
<path d="M865.3 736.2L875.7 732.3 864.6 744.2 854.2 748.1Z" fill="#4eaddc"/>
<path d="M896.4 707.6L906.8 703.6 895.5 717.4 885.2 721.4Z" fill="#60bccd"/>
<path d="M885.8 720.2L896.1 716.3 884.9 729.1 874.6 733.1Z" fill="#54b9d9"/>
<path d="M875.2 732.0L885.6 728.0 874.5 739.9 864.1 743.9Z" fill="#4eaedd"/>
<path d="M906.3 703.3L916.6 699.3 905.3 713.1 895.0 717.1Z" fill="#60bccc"/>
<path d="M895.6 716.0L906.0 711.9 894.8 724.7 884.5 728.8Z" fill="#55b9d9"/>
<path d="M885.1 727.7L895.4 723.6 884.3 735.5 874.0 739.6Z" fill="#4dafdd"/>
<path d="M886.4 712.4L916.1 699.7 884.3 734.8 854.8 747.7Z" fill="none" stroke="#111" stroke-width="1.8" stroke-linejoin="round"/>
<path d="M733.1 808.1L744.0 805.1 733.3 813.4 722.4 816.5Z" fill="#4a5b9f"/>
<path d="M722.9 815.5L733.9 812.4 723.2 819.8 712.3 822.9Z" fill="#465296"/>
<path d="M712.9 821.9L723.8 818.9 713.3 825.4 702.3 828.4Z" fill="#444d91"/>
<path d="M743.3 804.7L754.2 801.5 743.5 809.9 732.6 813.0Z" fill="#4a5b9e"/>
<path d="M733.2 812.0L744.1 808.9 733.4 816.3 722.6 819.4Z" fill="#465295"/>
<path d="M723.1 818.4L734.0 815.3 723.5 821.8 712.6 825.0Z" fill="#444d90"/>
<path d="M753.6 801.2L764.3 797.9 753.6 806.2 742.8 809.5Z" fill="#4a5a9e"/>
<path d="M743.4 808.5L754.2 805.2 743.6 812.6 732.8 815.9Z" fill="#465195"/>
<path d="M733.3 814.9L744.2 811.6 733.6 818.1 722.8 821.4Z" fill="#444d90"/>
<path d="M733.1 808.8L763.7 798.3 733.5 817.4 703.0 828.1Z" fill="none" stroke="#111" stroke-width="1.2" stroke-linejoin="round"/>
<path d="M1133.2 485.0L1143.0 480.0 1130.7 502.5 1120.9 507.6Z" fill="#74b53f"/>
<path d="M1121.4 506.4L1131.2 501.3 1119.0 522.7 1109.2 527.9Z" fill="#73b542"/>
<path d="M1109.7 526.6L1119.5 521.5 1107.4 541.9 1097.7 547.1Z" fill="#71b444"/>
<path d="M1142.7 479.8L1152.4 474.7 1140.1 497.1 1130.3 502.3Z" fill="#74b53f"/>
<path d="M1130.9 501.1L1140.6 495.9 1128.4 517.4 1118.6 522.6Z" fill="#73b541"/>
<path d="M1119.2 521.3L1129.0 516.1 1116.8 536.5 1107.1 541.8Z" fill="#72b444"/>
<path d="M1152.1 474.5L1161.8 469.2 1149.5 491.7 1139.8 497.0Z" fill="#74b53e"/>
<path d="M1140.3 495.8L1150.0 490.5 1137.8 511.9 1128.1 517.2Z" fill="#73b541"/>
<path d="M1128.6 516.0L1138.3 510.7 1126.2 531.0 1116.5 536.4Z" fill="#72b444"/>
<path d="M1133.1 485.7L1161.4 469.8 1126.3 530.3 1098.1 546.6Z" fill="none" stroke="#111" stroke-width="2.0" stroke-linejoin="round"/>
<path d="M794.5 770.2L805.2 766.9 794.3 778.0 783.6 781.4Z" fill="#5390c9"/>
<path d="M784.2 780.3L794.9 776.9 784.0 787.1 773.3 790.4Z" fill="#5877b9"/>
<path d="M773.9 789.4L784.7 786.0 773.8 795.3 763.1 798.6Z" fill="#5068ab"/>
<path d="M804.7 766.6L815.3 763.2 804.4 774.2 793.7 777.7Z" fill="#5390c9"/>
<path d="M794.3 776.6L805.0 773.2 794.1 783.3 783.5 786.8Z" fill="#5777b9"/>
<path d="M784.1 785.7L794.7 782.2 783.9 791.5 773.3 794.9Z" fill="#5068ab"/>
<path d="M814.8 762.9L825.4 759.3 814.4 770.4 803.8 773.9Z" fill="#5390c9"/>
<path d="M804.4 772.8L815.1 769.3 804.2 779.4 793.5 783.0Z" fill="#5777b9"/>
<path d="M794.2 781.9L804.8 778.4 793.9 787.6 783.3 791.1Z" fill="#5068ab"/>
<path d="M794.5 770.9L824.8 759.7 794.0 786.9 763.7 798.3Z" fill="none" stroke="#111" stroke-width="1.6" stroke-linejoin="round"/>
<path d="M517.7 878.9L529.5 875.8 519.4 874.8 507.7 878.0Z" fill="#424a8d"/>
<path d="M508.2 878.6L519.9 875.4 509.8 873.5 498.1 876.7Z" fill="#424a8d"/>
<path d="M498.6 877.3L510.3 874.2 500.2 871.4 488.6 874.5Z" fill="#424a8d"/>
<path d="M528.5 876.6L540.2 873.3 530.2 872.3 518.5 875.6Z" fill="#424a8d"/>
<path d="M519.0 876.2L530.6 872.9 520.5 871.0 508.9 874.3Z" fill="#424a8d"/>
<path d="M509.4 874.9L521.0 871.7 510.9 868.9 499.3 872.1Z" fill="#424a8d"/>
<path d="M539.3 874.1L550.9 870.7 540.8 869.7 529.2 873.0Z" fill="#424a8d"/>
<path d="M529.7 873.6L541.3 870.3 531.2 868.4 519.6 871.7Z" fill="#424a8d"/>
<path d="M520.2 872.4L531.7 869.1 521.6 866.3 510.1 869.6Z" fill="#424a8c"/>
<path d="M518.0 878.3L550.2 870.8 521.4 867.0 489.3 874.5Z" fill="none" stroke="#111" stroke-width="1.3" stroke-linejoin="round"/>
<path d="M1040.8 575.9L1050.9 571.3 1039.0 590.9 1028.9 595.5Z" fill="#70b449"/>
<path d="M1029.5 594.3L1039.5 589.7 1027.7 608.2 1017.7 612.9Z" fill="#76b871"/>
<path d="M1018.3 611.6L1028.3 607.0 1016.6 624.5 1006.6 629.2Z" fill="#7abb94"/>
<path d="M1050.5 571.1L1060.5 566.4 1048.6 586.0 1038.6 590.7Z" fill="#70b448"/>
<path d="M1039.1 589.5L1049.1 584.8 1037.3 603.3 1027.3 608.0Z" fill="#76b76f"/>
<path d="M1027.9 606.8L1037.9 602.1 1026.2 619.6 1016.2 624.3Z" fill="#7abb92"/>
<path d="M1060.1 566.2L1070.1 561.5 1058.1 581.0 1048.2 585.8Z" fill="#70b448"/>
<path d="M1048.7 584.6L1058.7 579.8 1046.9 598.2 1036.9 603.1Z" fill="#75b76c"/>
<path d="M1037.5 601.9L1047.4 597.1 1035.7 614.5 1025.8 619.4Z" fill="#7abb90"/>
<path d="M1040.7 576.6L1069.6 562.0 1035.8 613.8 1007.1 628.7Z" fill="none" stroke="#111" stroke-width="2.0" stroke-linejoin="round"/>
<path d="M578.7 867.3L590.6 864.1 580.8 866.1 568.9 869.3Z" fill="#434b8d"/>
<path d="M569.2 869.7L580.9 866.3 570.9 867.1 559.2 870.5Z" fill="#424a8d"/>
<path d="M559.6 871.0L571.2 867.6 561.1 867.5 549.5 870.9Z" fill="#424a8d"/>
<path d="M589.4 864.7L601.2 861.3 591.4 863.2 579.5 866.6Z" fill="#434b8d"/>
<path d="M579.8 867.0L591.5 863.5 581.4 864.3 569.8 867.8Z" fill="#424a8d"/>
<path d="M570.2 868.3L581.8 864.8 571.7 864.7 560.2 868.2Z" fill="#424a8d"/>
<path d="M600.0 862.0L611.8 858.5 601.8 860.3 590.1 863.8Z" fill="#434b8d"/>
<path d="M590.5 864.3L602.0 860.6 591.9 861.4 580.4 865.0Z" fill="#424a8d"/>
<path d="M580.9 865.6L592.3 861.9 582.2 861.8 570.7 865.4Z" fill="#424a8d"/>
<path d="M579.3 866.9L611.1 858.7 582.0 862.4 550.2 870.8Z" fill="none" stroke="#111" stroke-width="1.1" stroke-linejoin="round"/>
<path d="M948.7 655.3L958.9 651.2 947.4 667.9 937.1 672.0Z" fill="#77c0b1"/>
<path d="M937.7 670.9L948.0 666.7 936.6 682.4 926.3 686.6Z" fill="#72c0b8"/>
<path d="M926.9 685.4L937.2 681.3 925.8 696.0 915.5 700.2Z" fill="#6dc0bf"/>
<path d="M958.5 651.0L968.7 646.8 957.2 663.5 947.0 667.7Z" fill="#78c0b0"/>
<path d="M947.6 666.5L957.8 662.3 946.3 678.0 936.1 682.2Z" fill="#72c0b8"/>
<path d="M936.7 681.0L946.9 676.8 935.6 691.5 925.3 695.8Z" fill="#6dc0bf"/>
<path d="M968.3 646.6L978.5 642.3 967.0 658.9 956.8 663.3Z" fill="#78c0b0"/>
<path d="M957.4 662.1L967.5 657.8 956.1 673.4 945.9 677.8Z" fill="#72c0b7"/>
<path d="M946.5 676.6L956.7 672.3 945.3 686.9 935.1 691.3Z" fill="#6dc0be"/>
<path d="M948.6 656.0L978.0 642.8 945.4 686.2 916.1 699.7Z" fill="none" stroke="#111" stroke-width="2.0" stroke-linejoin="round"/>
<path d="M640.3 846.4L651.7 843.9 641.4 849.5 630.0 852.0Z" fill="#434b8e"/>
<path d="M630.3 851.2L641.9 848.6 631.8 853.3 620.2 855.9Z" fill="#434b8e"/>
<path d="M620.2 855.6L632.0 852.5 622.3 855.7 610.4 858.8Z" fill="#434b8d"/>
<path d="M650.9 843.5L662.2 840.9 651.9 846.5 640.6 849.1Z" fill="#434b8e"/>
<path d="M640.8 848.3L652.3 845.6 642.3 850.2 630.7 852.9Z" fill="#434b8e"/>
<path d="M630.7 852.8L642.5 849.5 632.7 852.6 620.9 855.9Z" fill="#434b8d"/>
<path d="M661.3 840.5L672.6 837.8 662.3 843.4 651.0 846.1Z" fill="#434b8e"/>
<path d="M651.2 845.3L662.8 842.5 652.7 847.1 641.2 849.9Z" fill="#434b8e"/>
<path d="M641.2 849.9L652.9 846.3 643.1 849.3 631.4 852.9Z" fill="#434b8d"/>
<path d="M640.6 847.0L672.0 838.0 642.4 849.5 611.1 858.7Z" fill="none" stroke="#111" stroke-width="1.1" stroke-linejoin="round"/>
<path d="M856.4 723.5L867.0 719.9 855.8 733.8 845.2 737.4Z" fill="#5fbcce"/>
<path d="M845.8 736.3L856.4 732.7 845.2 745.6 834.7 749.3Z" fill="#53b8db"/>
<path d="M835.3 748.1L845.9 744.5 834.8 756.5 824.3 760.1Z" fill="#4eabdb"/>
<path d="M866.5 719.6L877.0 716.0 865.8 729.8 855.3 733.6Z" fill="#5fbcce"/>
<path d="M855.9 732.4L866.4 728.7 855.2 741.6 844.7 745.4Z" fill="#53b8da"/>
<path d="M845.3 744.2L855.8 740.5 844.8 752.5 834.3 756.2Z" fill="#4eabdb"/>
<path d="M876.5 715.7L886.9 711.9 875.7 725.8 865.3 729.6Z" fill="#5fbccd"/>
<path d="M865.9 728.5L876.3 724.7 865.2 737.6 854.7 741.4Z" fill="#53b8da"/>
<path d="M855.3 740.2L865.8 736.4 854.7 748.4 844.3 752.2Z" fill="#4eacdc"/>
<path d="M856.3 724.2L886.4 712.4 854.8 747.7 824.8 759.7Z" fill="none" stroke="#111" stroke-width="1.9" stroke-linejoin="round"/>
<path d="M702.0 817.8L713.0 815.1 702.4 823.5 691.3 826.3Z" fill="#4b5da1"/>
<path d="M691.9 825.2L703.0 822.5 692.4 829.9 681.3 832.7Z" fill="#465396"/>
<path d="M681.8 831.7L693.0 829.0 682.5 835.5 671.3 838.3Z" fill="#444e91"/>
<path d="M712.4 814.7L723.4 811.8 712.7 820.2 701.7 823.1Z" fill="#4b5ca0"/>
<path d="M702.3 822.1L713.3 819.2 702.7 826.7 691.7 829.6Z" fill="#465296"/>
<path d="M692.2 828.6L703.3 825.7 692.8 832.2 681.7 835.1Z" fill="#444e91"/>
<path d="M722.7 811.5L733.7 808.5 723.0 816.9 712.1 819.8Z" fill="#4b5c9f"/>
<path d="M712.6 818.8L723.6 815.9 713.0 823.3 702.0 826.3Z" fill="#465296"/>
<path d="M702.6 825.3L713.6 822.3 703.1 828.8 692.1 831.8Z" fill="#444e91"/>
<path d="M702.0 818.5L733.1 808.8 703.0 828.1 672.0 838.0Z" fill="none" stroke="#111" stroke-width="1.3" stroke-linejoin="round"/>
<path d="M1104.5 500.1L1114.4 495.3 1102.2 518.0 1092.2 522.8Z" fill="#73b540"/>
<path d="M1092.8 521.6L1102.7 516.8 1090.5 538.3 1080.6 543.2Z" fill="#72b542"/>
<path d="M1081.2 542.0L1091.1 537.1 1079.0 557.6 1069.1 562.5Z" fill="#71b445"/>
<path d="M1114.1 495.2L1124.0 490.3 1111.7 512.9 1101.8 517.8Z" fill="#73b53f"/>
<path d="M1102.4 516.6L1112.2 511.7 1100.1 533.2 1090.2 538.2Z" fill="#72b542"/>
<path d="M1090.7 536.9L1100.6 532.0 1088.5 552.5 1078.7 557.5Z" fill="#71b445"/>
<path d="M1123.6 490.2L1133.5 485.2 1121.2 507.8 1111.4 512.8Z" fill="#74b53f"/>
<path d="M1111.9 511.5L1121.7 506.5 1109.5 528.0 1099.7 533.1Z" fill="#72b542"/>
<path d="M1100.3 531.8L1110.1 526.8 1098.0 547.2 1088.2 552.3Z" fill="#71b445"/>
<path d="M1104.4 500.8L1133.1 485.7 1098.1 546.6 1069.6 562.0Z" fill="none" stroke="#111" stroke-width="2.0" stroke-linejoin="round"/>
<path d="M1011.6 589.6L1021.8 585.3 1009.9 605.0 999.8 609.4Z" fill="#71b550"/>
<path d="M1000.3 608.1L1010.5 603.8 998.7 622.4 988.6 626.8Z" fill="#77b878"/>
<path d="M989.2 625.6L999.3 621.2 987.7 638.9 977.5 643.3Z" fill="#79bc98"/>
<path d="M1021.4 585.1L1031.5 580.7 1019.7 600.4 1009.5 604.8Z" fill="#71b44e"/>
<path d="M1010.1 603.6L1020.2 599.2 1008.4 617.8 998.3 622.3Z" fill="#77b876"/>
<path d="M998.9 621.0L1009.0 616.6 997.3 634.2 987.2 638.7Z" fill="#79bc97"/>
<path d="M1031.1 580.6L1041.2 576.1 1029.3 595.7 1019.3 600.2Z" fill="#70b44b"/>
<path d="M1019.8 599.0L1029.9 594.5 1018.1 613.0 1008.0 617.6Z" fill="#76b874"/>
<path d="M1008.6 616.4L1018.7 611.8 1007.0 629.4 996.9 634.0Z" fill="#79bc95"/>
<path d="M1011.5 590.3L1040.7 576.6 1007.1 628.7 978.0 642.8Z" fill="none" stroke="#111" stroke-width="2.0" stroke-linejoin="round"/>
<path d="M763.7 780.6L774.6 777.6 763.7 788.7 752.9 791.8Z" fill="#5392cb"/>
<path d="M753.5 790.7L764.3 787.7 753.5 797.9 742.6 800.9Z" fill="#5878ba"/>
<path d="M743.2 799.9L754.1 796.8 743.4 806.1 732.5 809.2Z" fill="#5169ac"/>
<path d="M774.0 777.2L784.9 774.1 774.0 785.2 763.2 788.4Z" fill="#5391ca"/>
<path d="M763.7 787.3L774.6 784.2 763.7 794.4 752.9 797.5Z" fill="#5878ba"/>
<path d="M753.5 796.5L764.3 793.3 753.6 802.6 742.7 805.7Z" fill="#5169ab"/>
<path d="M784.3 773.8L795.1 770.6 784.2 781.7 773.4 784.9Z" fill="#5390ca"/>
<path d="M774.0 783.8L784.8 780.6 773.9 790.8 763.1 794.0Z" fill="#5877b9"/>
<path d="M763.7 793.0L774.5 789.7 763.7 799.0 753.0 802.2Z" fill="#5168ab"/>
<path d="M763.7 781.3L794.5 770.9 763.7 798.3 733.1 808.8Z" fill="none" stroke="#111" stroke-width="1.6" stroke-linejoin="round"/>
<path d="M546.3 874.5L558.5 871.8 548.8 874.0 536.6 876.7Z" fill="#434b8d"/>
<path d="M536.8 877.0L548.8 874.0 538.9 875.0 526.9 878.0Z" fill="#434b8d"/>
<path d="M527.3 878.5L539.1 875.4 529.1 875.3 517.3 878.4Z" fill="#424a8d"/>
<path d="M557.1 872.2L569.3 869.4 559.5 871.5 547.4 874.3Z" fill="#434b8d"/>
<path d="M547.6 874.7L559.5 871.5 549.6 872.4 537.7 875.6Z" fill="#434b8d"/>
<path d="M538.1 876.1L549.9 872.9 539.9 872.8 528.1 876.0Z" fill="#424a8d"/>
<path d="M567.9 869.8L580.0 866.8 570.2 868.8 558.2 871.8Z" fill="#434b8d"/>
<path d="M558.4 872.2L570.2 869.0 560.3 869.8 548.5 873.1Z" fill="#434b8d"/>
<path d="M548.9 873.6L560.6 870.3 550.5 870.2 538.8 873.5Z" fill="#424a8d"/>
<path d="M547.0 874.3L579.3 866.9 550.2 870.8 518.0 878.3Z" fill="none" stroke="#111" stroke-width="1.1" stroke-linejoin="round"/>
<path d="M918.9 667.7L929.3 663.9 917.8 680.7 907.4 684.5Z" fill="#77c0b1"/>
<path d="M908.0 683.3L918.4 679.5 907.0 695.3 896.6 699.2Z" fill="#71c0b9"/>
<path d="M897.2 698.0L907.6 694.1 896.3 708.9 885.9 712.8Z" fill="#6cc0c0"/>
<path d="M928.8 663.6L939.2 659.7 927.7 676.5 917.4 680.4Z" fill="#77c0b1"/>
<path d="M917.9 679.3L928.3 675.3 916.9 691.1 906.5 695.1Z" fill="#71c0b9"/>
<path d="M907.1 693.9L917.5 689.9 906.2 704.7 895.8 708.7Z" fill="#6cc0c0"/>
<path d="M938.8 659.5L949.1 655.5 937.6 672.2 927.3 676.3Z" fill="#77c0b1"/>
<path d="M927.8 675.1L938.2 671.1 926.7 686.8 916.4 690.9Z" fill="#72c0b8"/>
<path d="M917.0 689.7L927.3 685.7 916.0 700.4 905.7 704.5Z" fill="#6cc0bf"/>
<path d="M918.8 668.4L948.6 656.0 916.1 699.7 886.4 712.4Z" fill="none" stroke="#111" stroke-width="2.0" stroke-linejoin="round"/>
<path d="M608.5 854.5L620.0 852.3 609.8 858.0 598.2 860.2Z" fill="#444d90"/>
<path d="M598.5 859.4L610.2 857.2 600.1 861.8 588.4 864.1Z" fill="#434b8e"/>
<path d="M588.4 863.6L600.4 861.1 590.6 864.5 578.6 867.1Z" fill="#434b8e"/>
<path d="M619.1 851.9L630.7 849.6 620.4 855.3 608.9 857.6Z" fill="#444c8f"/>
<path d="M609.1 856.8L620.8 854.4 610.7 859.1 599.0 861.5Z" fill="#434b8e"/>
<path d="M599.0 861.1L611.0 858.3 601.2 861.7 589.3 864.5Z" fill="#434b8d"/>
<path d="M629.8 849.2L641.2 846.8 630.9 852.5 619.5 854.9Z" fill="#434c8f"/>
<path d="M619.7 854.1L631.4 851.6 621.3 856.2 609.6 858.7Z" fill="#434b8e"/>
<path d="M609.6 858.4L621.5 855.5 611.8 858.8 599.9 861.7Z" fill="#434b8d"/>
<path d="M608.7 855.2L640.6 847.0 611.1 858.7 579.3 866.9Z" fill="none" stroke="#111" stroke-width="1.1" stroke-linejoin="round"/>
<path d="M825.9 734.5L836.6 731.2 825.5 745.2 814.8 748.5Z" fill="#5fbcce"/>
<path d="M815.4 747.3L826.1 744.0 815.0 757.1 804.3 760.4Z" fill="#53b8db"/>
<path d="M804.9 759.3L815.6 755.9 804.6 768.0 793.9 771.3Z" fill="#4eabdb"/>
<path d="M836.1 730.9L846.8 727.5 835.6 741.5 825.0 744.9Z" fill="#5fbcce"/>
<path d="M825.6 743.8L836.2 740.3 825.1 753.3 814.5 756.8Z" fill="#53b8db"/>
<path d="M815.1 755.7L825.7 752.2 814.7 764.3 804.1 767.7Z" fill="#4eabdb"/>
<path d="M846.3 727.2L856.9 723.8 845.7 737.7 835.1 741.2Z" fill="#5fbcce"/>
<path d="M835.7 740.1L846.3 736.6 835.2 749.5 824.6 753.1Z" fill="#53b8db"/>
<path d="M825.2 751.9L835.8 748.4 824.8 760.4 814.2 764.0Z" fill="#4eabdb"/>
<path d="M825.9 735.2L856.3 724.2 824.8 759.7 794.5 770.9Z" fill="none" stroke="#111" stroke-width="1.9" stroke-linejoin="round"/>
<path d="M670.4 826.7L681.7 824.2 671.1 832.7 659.9 835.2Z" fill="#4d61a4"/>
<path d="M660.4 834.2L671.7 831.7 661.1 839.2 649.9 841.7Z" fill="#475498"/>
<path d="M650.4 840.7L661.7 838.2 651.2 844.8 639.9 847.3Z" fill="#454f93"/>
<path d="M681.0 823.8L692.2 821.3 681.6 829.7 670.4 832.3Z" fill="#4c5fa3"/>
<path d="M670.9 831.3L682.1 828.7 671.6 836.2 660.4 838.8Z" fill="#475397"/>
<path d="M660.9 837.8L672.2 835.2 661.7 841.8 650.4 844.4Z" fill="#454f92"/>
<path d="M691.5 820.9L702.6 818.2 692.0 826.6 680.9 829.3Z" fill="#4c5ea2"/>
<path d="M681.4 828.3L692.6 825.6 682.0 833.1 670.9 835.8Z" fill="#475397"/>
<path d="M671.4 834.8L682.6 832.2 672.1 838.7 660.9 841.4Z" fill="#454e92"/>
<path d="M670.5 827.4L702.0 818.5 672.0 838.0 640.6 847.0Z" fill="none" stroke="#111" stroke-width="1.3" stroke-linejoin="round"/>
<path d="M1075.5 514.4L1085.6 509.9 1073.3 532.7 1063.3 537.2Z" fill="#73b540"/>
<path d="M1063.8 536.0L1073.9 531.4 1061.8 553.1 1051.7 557.7Z" fill="#72b543"/>
<path d="M1052.3 556.4L1062.3 551.9 1050.3 572.5 1040.3 577.1Z" fill="#71b445"/>
<path d="M1085.2 509.7L1095.2 505.1 1083.0 527.9 1073.0 532.5Z" fill="#73b540"/>
<path d="M1073.5 531.3L1083.5 526.6 1071.4 548.3 1061.4 552.9Z" fill="#72b543"/>
<path d="M1061.9 551.7L1071.9 547.0 1059.9 567.6 1049.9 572.3Z" fill="#71b445"/>
<path d="M1094.9 505.0L1104.9 500.3 1092.6 523.0 1082.6 527.7Z" fill="#73b540"/>
<path d="M1083.2 526.5L1093.1 521.7 1081.0 543.3 1071.0 548.1Z" fill="#72b542"/>
<path d="M1071.6 546.9L1081.5 542.1 1069.5 562.7 1059.6 567.5Z" fill="#71b445"/>
<path d="M1075.4 515.1L1104.4 500.8 1069.6 562.0 1040.7 576.6Z" fill="none" stroke="#111" stroke-width="2.0" stroke-linejoin="round"/>
<path d="M982.1 602.6L992.4 598.5 980.6 618.3 970.3 622.4Z" fill="#72b555"/>
<path d="M970.8 621.2L981.1 617.1 969.4 635.8 959.1 639.9Z" fill="#78b97e"/>
<path d="M959.7 638.7L970.0 634.7 958.4 652.4 948.1 656.5Z" fill="#79bd9b"/>
<path d="M992.0 598.3L1002.2 594.2 990.4 614.0 980.2 618.1Z" fill="#72b553"/>
<path d="M980.7 616.9L991.0 612.8 979.2 631.5 969.0 635.7Z" fill="#78b97c"/>
<path d="M969.6 634.5L979.8 630.3 968.2 648.0 957.9 652.2Z" fill="#79bc9a"/>
<path d="M1001.8 594.0L1012.0 589.8 1000.2 609.5 990.0 613.8Z" fill="#71b552"/>
<path d="M990.5 612.6L1000.7 608.3 989.0 627.0 978.8 631.3Z" fill="#77b87a"/>
<path d="M979.4 630.1L989.6 625.8 977.9 643.5 967.7 647.8Z" fill="#79bc99"/>
<path d="M982.0 603.3L1011.5 590.3 978.0 642.8 948.6 656.0Z" fill="none" stroke="#111" stroke-width="2.0" stroke-linejoin="round"/>
<path d="M732.6 790.1L743.6 787.4 732.8 798.6 721.7 801.4Z" fill="#5296cd"/>
<path d="M722.3 800.3L733.4 797.5 722.6 807.8 711.5 810.6Z" fill="#577cbd"/>
<path d="M712.1 809.5L723.2 806.8 712.5 816.1 701.4 818.9Z" fill="#526bae"/>
<path d="M743.0 787.0L754.0 784.2 743.1 795.4 732.2 798.3Z" fill="#5394cc"/>
<path d="M732.7 797.2L743.7 794.3 732.9 804.6 722.0 807.5Z" fill="#587abc"/>
<path d="M722.5 806.4L733.5 803.5 722.8 812.9 711.8 815.7Z" fill="#526aad"/>
<path d="M753.4 783.9L764.3 780.9 753.5 792.1 742.5 795.1Z" fill="#5393cb"/>
<path d="M743.1 794.0L754.1 791.0 743.3 801.3 732.3 804.3Z" fill="#5879bb"/>
<path d="M732.9 803.2L743.8 800.2 733.1 809.5 722.2 812.5Z" fill="#516aad"/>
<path d="M732.6 790.8L763.7 781.3 733.1 808.8 702.0 818.5Z" fill="none" stroke="#111" stroke-width="1.7" stroke-linejoin="round"/>
<path d="M888.7 679.2L899.2 675.7 887.8 692.6 877.3 696.1Z" fill="#77c0b2"/>
<path d="M877.8 695.0L888.4 691.4 877.0 707.3 866.5 710.9Z" fill="#71c0b9"/>
<path d="M867.1 709.7L877.6 706.2 866.4 721.0 855.8 724.6Z" fill="#6cc0c0"/>
<path d="M898.8 675.5L909.3 671.8 897.9 688.7 887.4 692.4Z" fill="#77c0b2"/>
<path d="M887.9 691.2L898.4 687.5 887.1 703.4 876.6 707.1Z" fill="#71c0b9"/>
<path d="M877.1 705.9L887.7 702.2 876.4 717.1 865.9 720.8Z" fill="#6cc0c0"/>
<path d="M908.8 671.6L919.3 667.9 907.9 684.7 897.4 688.5Z" fill="#77c0b2"/>
<path d="M898.0 687.3L908.4 683.6 897.1 699.4 886.6 703.2Z" fill="#71c0b9"/>
<path d="M887.2 702.0L897.6 698.2 886.3 713.1 875.9 716.9Z" fill="#6cc0c0"/>
<path d="M888.6 679.9L918.8 668.4 886.4 712.4 856.3 724.2Z" fill="none" stroke="#111" stroke-width="2.0" stroke-linejoin="round"/>
<path d="M576.1 861.8L587.9 859.9 577.6 865.6 565.9 867.6Z" fill="#454f92"/>
<path d="M566.2 866.7L578.0 864.8 568.0 869.5 556.1 871.5Z" fill="#434b8e"/>
<path d="M556.2 870.9L568.2 868.7 558.4 872.4 546.3 874.5Z" fill="#434b8e"/>
<path d="M586.9 859.5L598.6 857.5 588.4 863.2 576.7 865.2Z" fill="#444e92"/>
<path d="M577.0 864.4L588.8 862.3 578.7 867.1 566.9 869.1Z" fill="#434b8e"/>
<path d="M567.0 868.6L579.0 866.3 569.2 869.9 557.1 872.2Z" fill="#434b8e"/>
<path d="M597.7 857.1L609.4 855.0 599.1 860.7 587.5 862.8Z" fill="#444e91"/>
<path d="M587.7 862.0L599.5 859.8 589.4 864.5 577.7 866.7Z" fill="#434b8e"/>
<path d="M577.7 866.1L589.7 863.7 579.9 867.2 567.9 869.7Z" fill="#434b8e"/>
<path d="M576.4 862.5L608.7 855.2 579.3 866.9 547.0 874.3Z" fill="none" stroke="#111" stroke-width="1.1" stroke-linejoin="round"/>
<path d="M795.1 744.6L805.9 741.6 794.8 755.6 784.0 758.7Z" fill="#60bccd"/>
<path d="M784.5 757.5L795.4 754.5 784.4 767.6 773.5 770.7Z" fill="#54b8da"/>
<path d="M774.1 769.6L785.0 766.5 774.0 778.6 763.2 781.7Z" fill="#4eaddc"/>
<path d="M805.4 741.3L816.2 738.2 805.1 752.2 794.3 755.4Z" fill="#60bccd"/>
<path d="M794.9 754.2L805.7 751.1 794.7 764.2 783.9 767.3Z" fill="#53b8da"/>
<path d="M784.4 766.2L795.2 763.1 784.3 775.2 773.5 778.3Z" fill="#4eacdc"/>
<path d="M815.7 737.9L826.5 734.7 815.3 748.7 804.6 752.0Z" fill="#5fbcce"/>
<path d="M805.1 750.8L815.9 747.6 804.9 760.7 794.1 763.9Z" fill="#53b8da"/>
<path d="M794.7 762.8L805.5 759.6 794.5 771.6 783.7 774.9Z" fill="#4eabdb"/>
<path d="M795.0 745.3L825.9 735.2 794.5 770.9 763.7 781.3Z" fill="none" stroke="#111" stroke-width="2.0" stroke-linejoin="round"/>
<path d="M638.5 834.7L649.9 832.5 639.3 841.0 627.9 843.2Z" fill="#4f65a8"/>
<path d="M628.4 842.2L639.9 840.0 629.4 847.6 618.0 849.8Z" fill="#49589c"/>
<path d="M618.4 848.8L629.9 846.6 619.5 853.3 608.1 855.5Z" fill="#465195"/>
<path d="M649.2 832.1L660.5 829.8 650.0 838.3 638.6 840.6Z" fill="#4e64a7"/>
<path d="M639.1 839.6L650.5 837.3 640.0 844.9 628.6 847.2Z" fill="#48579a"/>
<path d="M629.1 846.2L640.6 843.9 630.2 850.5 618.7 852.8Z" fill="#455094"/>
<path d="M659.8 829.5L671.1 827.1 660.6 835.5 649.3 837.9Z" fill="#4e62a5"/>
<path d="M649.8 836.9L661.1 834.6 650.6 842.1 639.3 844.5Z" fill="#475599"/>
<path d="M639.8 843.5L651.1 841.1 640.7 847.7 629.4 850.1Z" fill="#455093"/>
<path d="M638.6 835.4L670.5 827.4 640.6 847.0 608.7 855.2Z" fill="none" stroke="#111" stroke-width="1.4" stroke-linejoin="round"/>
<path d="M1046.2 527.8L1056.3 523.6 1044.2 546.5 1034.0 550.7Z" fill="#73b540"/>
<path d="M1034.5 549.5L1044.7 545.2 1032.7 567.0 1022.5 571.3Z" fill="#72b443"/>
<path d="M1023.0 570.1L1033.2 565.8 1021.2 586.5 1011.1 590.9Z" fill="#71b446"/>
<path d="M1056.0 523.4L1066.1 519.1 1053.9 542.0 1043.8 546.3Z" fill="#73b540"/>
<path d="M1044.3 545.1L1054.5 540.7 1042.4 562.5 1032.3 566.9Z" fill="#72b443"/>
<path d="M1032.8 565.6L1042.9 561.3 1031.0 581.9 1020.9 586.4Z" fill="#71b446"/>
<path d="M1065.8 519.0L1075.9 514.6 1063.7 537.4 1053.6 541.8Z" fill="#73b540"/>
<path d="M1054.1 540.6L1064.2 536.1 1052.1 557.8 1042.0 562.3Z" fill="#72b543"/>
<path d="M1042.6 561.1L1052.6 556.6 1040.7 577.3 1030.6 581.8Z" fill="#71b446"/>
<path d="M1046.1 528.5L1075.4 515.1 1040.7 576.6 1011.5 590.3Z" fill="none" stroke="#111" stroke-width="2.0" stroke-linejoin="round"/>
<path d="M952.1 614.6L962.6 610.9 950.8 630.8 940.4 634.5Z" fill="#72b558"/>
<path d="M940.9 633.3L951.4 629.6 939.7 648.4 929.3 652.2Z" fill="#78b981"/>
<path d="M929.8 651.0L940.3 647.2 928.7 665.0 918.3 668.9Z" fill="#79bd9d"/>
<path d="M962.1 610.7L972.5 606.9 960.8 626.7 950.4 630.6Z" fill="#72b557"/>
<path d="M950.9 629.4L961.3 625.5 949.7 644.3 939.3 648.2Z" fill="#78b980"/>
<path d="M939.8 647.0L950.2 643.1 938.6 660.9 928.3 664.8Z" fill="#79bd9d"/>
<path d="M972.1 606.7L982.5 602.7 970.7 622.6 960.4 626.5Z" fill="#72b556"/>
<path d="M960.9 625.3L971.2 621.4 959.6 640.1 949.2 644.1Z" fill="#78b97f"/>
<path d="M949.8 642.9L960.1 638.9 948.5 656.7 938.2 660.7Z" fill="#79bd9c"/>
<path d="M952.1 615.3L982.0 603.3 948.6 656.0 918.8 668.4Z" fill="none" stroke="#111" stroke-width="2.0" stroke-linejoin="round"/>
<path d="M700.9 798.7L712.2 796.3 701.4 807.6 690.2 810.1Z" fill="#519bd1"/>
<path d="M690.7 809.0L701.9 806.5 691.2 816.9 680.0 819.4Z" fill="#5682c0"/>
<path d="M680.5 818.3L691.8 815.8 681.1 825.2 669.9 827.7Z" fill="#546fb1"/>
<path d="M711.5 795.9L722.7 793.4 711.9 804.7 700.7 807.3Z" fill="#5299cf"/>
<path d="M701.3 806.2L712.5 803.6 701.7 814.0 690.6 816.5Z" fill="#577fbf"/>
<path d="M691.1 815.5L702.3 812.9 691.6 822.3 680.5 824.9Z" fill="#536eb0"/>
<path d="M722.1 793.1L733.2 790.4 722.4 801.7 711.3 804.4Z" fill="#5297ce"/>
<path d="M711.8 803.3L722.9 800.6 712.2 810.9 701.1 813.6Z" fill="#577ebe"/>
<path d="M701.6 812.6L712.8 809.9 702.1 819.2 691.0 821.9Z" fill="#536caf"/>
<path d="M701.0 799.4L732.6 790.8 702.0 818.5 670.5 827.4Z" fill="none" stroke="#111" stroke-width="1.8" stroke-linejoin="round"/>
<path d="M858.1 689.9L868.8 686.6 857.4 703.6 846.7 706.9Z" fill="#77c0b2"/>
<path d="M847.3 705.7L858.0 702.5 846.7 718.5 836.0 721.8Z" fill="#71c0b9"/>
<path d="M836.6 720.6L847.3 717.3 836.1 732.3 825.4 735.6Z" fill="#6cc0c0"/>
<path d="M868.3 686.4L879.0 683.1 867.6 700.1 857.0 703.4Z" fill="#77c0b2"/>
<path d="M857.5 702.2L868.2 698.9 856.9 714.8 846.2 718.2Z" fill="#71c0b9"/>
<path d="M846.8 717.1L857.4 713.7 846.2 728.6 835.6 732.1Z" fill="#6cc0c0"/>
<path d="M878.5 682.9L889.1 679.4 877.7 696.4 867.1 699.8Z" fill="#77c0b2"/>
<path d="M867.7 698.7L878.3 695.2 867.0 711.1 856.4 714.6Z" fill="#71c0b9"/>
<path d="M856.9 713.4L867.6 710.0 856.3 724.9 845.7 728.4Z" fill="#6cc0c0"/>
<path d="M858.1 690.6L888.6 679.9 856.3 724.2 825.9 735.2Z" fill="none" stroke="#111" stroke-width="2.0" stroke-linejoin="round"/>
<path d="M763.8 753.8L774.8 751.1 763.8 765.3 752.7 768.0Z" fill="#61bdcb"/>
<path d="M753.3 766.9L764.3 764.1 753.4 777.3 742.3 780.1Z" fill="#55b9d8"/>
<path d="M742.9 779.0L753.9 776.2 743.0 788.4 732.0 791.2Z" fill="#4db1df"/>
<path d="M774.2 750.8L785.2 748.0 774.2 762.1 763.2 765.0Z" fill="#61bdcc"/>
<path d="M763.8 763.9L774.7 761.0 763.8 774.2 752.8 777.0Z" fill="#55b9d9"/>
<path d="M753.3 775.9L764.3 773.1 753.4 785.3 742.4 788.1Z" fill="#4dafde"/>
<path d="M784.7 747.7L795.6 744.8 784.5 758.9 773.6 761.9Z" fill="#60bccc"/>
<path d="M774.2 760.7L785.1 757.8 774.1 771.0 763.2 773.9Z" fill="#54b9d9"/>
<path d="M763.8 772.8L774.7 769.9 763.7 782.0 752.8 785.0Z" fill="#4eaedd"/>
<path d="M763.8 754.5L795.0 745.3 763.7 781.3 732.6 790.8Z" fill="none" stroke="#111" stroke-width="2.0" stroke-linejoin="round"/>
<path d="M606.0 841.7L617.6 839.9 607.1 848.4 595.5 850.3Z" fill="#526bae"/>
<path d="M596.0 849.3L607.7 847.5 597.2 855.1 585.6 857.0Z" fill="#4c5ea1"/>
<path d="M586.0 856.0L597.7 854.1 587.4 860.8 575.7 862.7Z" fill="#475397"/>
<path d="M616.9 839.5L628.4 837.5 617.9 846.1 606.4 848.1Z" fill="#5169ac"/>
<path d="M606.9 847.1L618.4 845.1 608.0 852.7 596.4 854.7Z" fill="#4b5c9f"/>
<path d="M596.9 853.7L608.5 851.7 598.2 858.4 586.5 860.4Z" fill="#465296"/>
<path d="M627.7 837.1L639.2 835.1 628.7 843.6 617.2 845.7Z" fill="#5067aa"/>
<path d="M617.7 844.7L629.2 842.6 618.7 850.2 607.2 852.3Z" fill="#4a5a9e"/>
<path d="M607.7 851.3L619.3 849.2 608.9 855.9 597.3 858.0Z" fill="#465295"/>
<path d="M606.1 842.4L638.6 835.4 608.7 855.2 576.4 862.5Z" fill="none" stroke="#111" stroke-width="1.5" stroke-linejoin="round"/>
<path d="M1016.4 540.4L1026.8 536.4 1014.7 559.4 1004.4 563.4Z" fill="#73b541"/>
<path d="M1004.9 562.2L1015.2 558.2 1003.2 580.1 992.9 584.1Z" fill="#72b444"/>
<path d="M993.4 582.9L1003.7 578.9 991.8 599.7 981.5 603.8Z" fill="#71b446"/>
<path d="M1026.4 536.3L1036.7 532.3 1024.5 555.2 1014.3 559.3Z" fill="#73b541"/>
<path d="M1014.8 558.0L1025.1 554.0 1013.0 575.9 1002.8 580.0Z" fill="#72b443"/>
<path d="M1003.3 578.7L1013.6 574.6 1001.7 595.4 991.4 599.6Z" fill="#71b446"/>
<path d="M1036.3 532.1L1046.5 528.0 1034.4 550.9 1024.2 555.1Z" fill="#73b541"/>
<path d="M1024.7 553.8L1034.9 549.7 1022.9 571.5 1012.7 575.7Z" fill="#72b443"/>
<path d="M1013.2 574.5L1023.4 570.3 1011.5 591.0 1001.3 595.3Z" fill="#71b446"/>
<path d="M1016.4 541.1L1046.1 528.5 1011.5 590.3 982.0 603.3Z" fill="none" stroke="#111" stroke-width="2.0" stroke-linejoin="round"/>
<path d="M921.8 625.8L932.4 622.4 920.7 642.4 910.1 645.9Z" fill="#73b659"/>
<path d="M910.7 644.6L921.2 641.2 909.6 660.1 899.1 663.6Z" fill="#79b982"/>
<path d="M899.6 662.4L910.2 658.9 898.7 676.9 888.1 680.4Z" fill="#79bd9e"/>
<path d="M932.0 622.2L942.5 618.6 930.8 638.6 920.3 642.2Z" fill="#72b559"/>
<path d="M920.8 641.0L931.3 637.4 919.7 656.3 909.2 659.9Z" fill="#79b982"/>
<path d="M909.7 658.7L920.3 655.1 908.7 673.0 898.2 676.7Z" fill="#79bd9e"/>
<path d="M942.1 618.4L952.5 614.8 940.8 634.7 930.4 638.4Z" fill="#72b558"/>
<path d="M930.9 637.2L941.4 633.5 929.7 652.4 919.3 656.1Z" fill="#78b981"/>
<path d="M919.8 654.9L930.3 651.2 918.7 669.1 908.3 672.8Z" fill="#79bd9e"/>
<path d="M921.8 626.5L952.1 615.3 918.8 668.4 888.6 679.9Z" fill="none" stroke="#111" stroke-width="2.0" stroke-linejoin="round"/>
<path d="M668.9 806.4L680.2 804.3 669.5 815.7 658.1 817.9Z" fill="#50a3d6"/>
<path d="M658.7 816.8L670.1 814.6 659.4 825.1 648.0 827.2Z" fill="#5589c5"/>
<path d="M648.5 826.2L659.9 824.0 649.3 833.5 637.9 835.7Z" fill="#5673b6"/>
<path d="M679.6 804.0L690.9 801.7 680.2 813.1 668.9 815.4Z" fill="#50a0d4"/>
<path d="M669.4 814.3L680.7 812.0 670.0 822.4 658.7 824.7Z" fill="#5586c3"/>
<path d="M659.3 823.7L670.6 821.4 660.0 830.8 648.6 833.1Z" fill="#5572b4"/>
<path d="M690.3 801.4L701.6 799.0 690.8 810.4 679.5 812.8Z" fill="#519ed2"/>
<path d="M680.1 811.7L691.4 809.3 680.7 819.7 669.4 822.1Z" fill="#5684c2"/>
<path d="M669.9 821.0L681.2 818.7 670.6 828.1 659.3 830.5Z" fill="#5470b3"/>
<path d="M668.9 807.1L701.0 799.4 670.5 827.4 638.6 835.4Z" fill="none" stroke="#111" stroke-width="1.8" stroke-linejoin="round"/>
<path d="M827.1 699.7L838.0 696.7 826.6 713.8 815.8 716.8Z" fill="#77c0b1"/>
<path d="M816.3 715.6L827.2 712.7 816.0 728.8 805.1 731.8Z" fill="#72c0b9"/>
<path d="M805.7 730.6L816.5 727.6 805.4 742.7 794.5 745.7Z" fill="#6cc0c0"/>
<path d="M837.5 696.5L848.3 693.5 837.0 710.5 826.2 713.6Z" fill="#77c0b1"/>
<path d="M826.7 712.4L837.5 709.4 826.3 725.4 815.5 728.5Z" fill="#71c0b9"/>
<path d="M816.0 727.4L826.8 724.3 815.6 739.3 804.8 742.4Z" fill="#6cc0c0"/>
<path d="M847.8 693.2L858.6 690.1 847.2 707.1 836.5 710.3Z" fill="#77c0b2"/>
<path d="M837.0 709.1L847.8 706.0 836.5 722.0 825.8 725.2Z" fill="#71c0b9"/>
<path d="M826.3 724.0L837.1 720.9 825.9 735.9 815.1 739.1Z" fill="#6cc0c0"/>
<path d="M827.1 700.4L858.1 690.6 825.9 735.2 795.0 745.3Z" fill="none" stroke="#111" stroke-width="2.0" stroke-linejoin="round"/>
<path d="M732.0 762.1L743.2 759.7 732.2 774.0 721.1 776.4Z" fill="#64bdc9"/>
<path d="M721.6 775.3L732.8 772.9 721.9 786.1 710.7 788.6Z" fill="#58bad6"/>
<path d="M711.2 787.5L722.4 785.1 711.6 797.3 700.4 799.8Z" fill="#4cb6e2"/>
<path d="M742.7 759.4L753.8 756.9 742.8 771.2 731.7 773.7Z" fill="#63bdca"/>
<path d="M732.2 772.6L743.4 770.1 732.4 783.3 721.3 785.9Z" fill="#57b9d6"/>
<path d="M721.8 784.7L733.0 782.2 722.1 794.5 711.0 797.0Z" fill="#4cb5e1"/>
<path d="M753.2 756.7L764.3 754.1 753.3 768.3 742.2 770.9Z" fill="#62bdca"/>
<path d="M742.8 769.8L753.9 767.2 742.9 780.4 731.8 783.0Z" fill="#56b9d7"/>
<path d="M732.4 781.9L743.5 779.3 732.6 791.5 721.5 794.2Z" fill="#4db3e0"/>
<path d="M732.0 762.8L763.8 754.5 732.6 790.8 701.0 799.4Z" fill="none" stroke="#111" stroke-width="2.0" stroke-linejoin="round"/>
<path d="M986.4 552.0L996.8 548.4 984.8 571.5 974.3 575.2Z" fill="#73b541"/>
<path d="M974.8 574.0L985.3 570.3 973.3 592.3 962.9 596.1Z" fill="#72b444"/>
<path d="M963.4 594.8L973.9 591.1 962.0 612.1 951.6 615.8Z" fill="#71b446"/>
<path d="M996.4 548.2L1006.8 544.5 994.8 567.6 984.4 571.4Z" fill="#73b541"/>
<path d="M984.9 570.1L995.3 566.4 983.3 588.4 972.9 592.2Z" fill="#72b444"/>
<path d="M973.5 591.0L983.9 587.2 972.0 608.1 961.6 611.9Z" fill="#71b446"/>
<path d="M1006.5 544.3L1016.8 540.5 1004.7 563.6 994.4 567.4Z" fill="#73b541"/>
<path d="M994.9 566.2L1005.3 562.3 993.3 584.3 982.9 588.2Z" fill="#72b444"/>
<path d="M983.5 587.0L993.8 583.1 981.9 604.0 971.6 607.9Z" fill="#71b446"/>
<path d="M986.3 552.7L1016.4 541.1 982.0 603.3 952.1 615.3Z" fill="none" stroke="#111" stroke-width="2.0" stroke-linejoin="round"/>
<path d="M891.1 636.1L901.8 633.0 890.2 653.1 879.5 656.3Z" fill="#72b558"/>
<path d="M880.0 655.1L890.7 651.9 879.2 671.0 868.5 674.2Z" fill="#78b981"/>
<path d="M869.0 673.0L879.7 669.8 868.3 687.8 857.6 691.1Z" fill="#79bd9e"/>
<path d="M901.4 632.8L912.0 629.5 900.4 649.6 889.7 652.9Z" fill="#72b559"/>
<path d="M890.3 651.7L900.9 648.4 889.4 667.5 878.7 670.8Z" fill="#79b982"/>
<path d="M879.2 669.6L889.9 666.3 878.4 684.3 867.8 687.6Z" fill="#79bd9e"/>
<path d="M911.6 629.3L922.2 626.0 910.6 646.0 900.0 649.4Z" fill="#73b659"/>
<path d="M900.5 648.2L911.1 644.8 899.5 663.8 888.9 667.3Z" fill="#79b982"/>
<path d="M889.5 666.1L900.1 662.7 888.6 680.6 878.0 684.1Z" fill="#79bd9e"/>
<path d="M891.0 636.8L921.8 626.5 888.6 679.9 858.1 690.6Z" fill="none" stroke="#111" stroke-width="2.0" stroke-linejoin="round"/>
<path d="M636.3 813.2L647.9 811.4 637.2 822.9 625.6 824.8Z" fill="#4eacdc"/>
<path d="M626.2 823.7L637.7 821.9 627.1 832.4 615.5 834.2Z" fill="#5392cb"/>
<path d="M616.1 833.2L627.6 831.3 617.1 840.9 605.5 842.7Z" fill="#587abb"/>
<path d="M647.2 811.1L658.7 809.1 648.0 820.6 636.5 822.6Z" fill="#4fa9da"/>
<path d="M637.0 821.5L648.6 819.6 637.9 830.0 626.4 832.0Z" fill="#548fc9"/>
<path d="M626.9 831.0L638.5 829.0 627.9 838.5 616.4 840.5Z" fill="#5877b9"/>
<path d="M658.1 808.8L669.5 806.8 658.8 818.2 647.4 820.3Z" fill="#4fa6d8"/>
<path d="M647.9 819.2L659.3 817.1 648.7 827.6 637.2 829.7Z" fill="#548cc7"/>
<path d="M637.8 828.6L649.2 826.6 638.6 836.1 627.2 838.1Z" fill="#5775b7"/>
<path d="M636.4 813.9L668.9 807.1 638.6 835.4 606.1 842.4Z" fill="none" stroke="#111" stroke-width="1.9" stroke-linejoin="round"/>
<path d="M795.7 708.5L806.7 705.9 795.4 723.1 784.4 725.8Z" fill="#78c0b0"/>
<path d="M784.9 724.6L796.0 722.0 784.8 738.2 773.8 740.9Z" fill="#72c0b8"/>
<path d="M774.3 739.7L785.3 737.0 774.2 752.2 763.2 754.9Z" fill="#6dc0bf"/>
<path d="M806.2 705.7L817.2 703.0 805.9 720.1 794.9 722.9Z" fill="#78c0b1"/>
<path d="M795.5 721.7L806.4 719.0 795.2 735.1 784.3 737.9Z" fill="#72c0b8"/>
<path d="M784.8 736.8L795.8 734.0 784.7 749.1 773.7 752.0Z" fill="#6dc0bf"/>
<path d="M816.7 702.7L827.6 699.9 816.3 717.0 805.4 719.9Z" fill="#77c0b1"/>
<path d="M805.9 718.7L816.8 715.9 805.6 732.0 794.7 734.9Z" fill="#72c0b8"/>
<path d="M795.3 733.7L806.2 730.9 795.0 746.0 784.1 748.9Z" fill="#6cc0bf"/>
<path d="M795.6 709.2L827.1 700.4 795.0 745.3 763.8 754.5Z" fill="none" stroke="#111" stroke-width="2.0" stroke-linejoin="round"/>
<path d="M699.8 769.5L711.2 767.4 700.3 781.8 688.9 783.9Z" fill="#67bec5"/>
<path d="M689.4 782.8L700.8 780.7 689.9 794.1 678.6 796.2Z" fill="#5bbbd2"/>
<path d="M679.1 795.1L690.5 793.0 679.7 805.4 668.3 807.5Z" fill="#4fb7df"/>
<path d="M710.6 767.2L721.9 765.0 711.0 779.3 699.7 781.5Z" fill="#66bec7"/>
<path d="M700.2 780.4L711.5 778.2 700.6 791.5 689.3 793.8Z" fill="#5abad4"/>
<path d="M689.9 792.7L701.2 790.4 690.4 802.8 679.1 805.1Z" fill="#4eb7e0"/>
<path d="M721.3 764.7L732.6 762.4 721.6 776.7 710.4 779.0Z" fill="#65bec8"/>
<path d="M710.9 777.9L722.2 775.6 711.3 788.9 700.0 791.2Z" fill="#59bad5"/>
<path d="M700.6 790.1L711.8 787.8 701.0 800.1 689.8 802.5Z" fill="#4db6e1"/>
<path d="M699.8 770.2L732.0 762.8 701.0 799.4 668.9 807.1Z" fill="none" stroke="#111" stroke-width="2.0" stroke-linejoin="round"/>
<path d="M955.9 562.8L966.5 559.5 954.5 582.8 943.9 586.1Z" fill="#73b541"/>
<path d="M944.4 584.9L955.0 581.5 943.1 603.7 932.5 607.1Z" fill="#72b444"/>
<path d="M933.1 605.9L943.6 602.5 931.9 623.6 921.3 627.0Z" fill="#71b446"/>
<path d="M966.1 559.3L976.6 555.9 964.6 579.1 954.1 582.6Z" fill="#73b541"/>
<path d="M954.6 581.4L965.1 577.9 953.2 600.0 942.7 603.5Z" fill="#72b444"/>
<path d="M943.2 602.3L953.8 598.8 942.0 619.8 931.4 623.4Z" fill="#71b446"/>
<path d="M976.2 555.7L986.8 552.2 974.7 575.4 964.2 578.9Z" fill="#73b541"/>
<path d="M964.7 577.7L975.2 574.1 963.3 596.2 952.8 599.8Z" fill="#72b444"/>
<path d="M953.3 598.6L963.8 595.0 952.0 616.0 941.5 619.7Z" fill="#71b446"/>
<path d="M955.8 563.5L986.3 552.7 952.1 615.3 921.8 626.5Z" fill="none" stroke="#111" stroke-width="2.0" stroke-linejoin="round"/>
<path d="M859.9 645.5L870.8 642.7 859.2 662.9 848.4 665.8Z" fill="#72b556"/>
<path d="M848.9 664.6L859.8 661.7 848.3 680.9 837.4 683.8Z" fill="#78b97f"/>
<path d="M837.9 682.7L848.8 679.8 837.4 697.9 826.6 700.8Z" fill="#79bd9c"/>
<path d="M870.4 642.5L881.2 639.5 869.6 659.8 858.8 662.7Z" fill="#72b557"/>
<path d="M859.3 661.5L870.1 658.6 858.6 677.7 847.8 680.7Z" fill="#78b980"/>
<path d="M848.3 679.5L859.2 676.5 847.7 694.6 836.9 697.7Z" fill="#79bd9d"/>
<path d="M880.7 639.3L891.5 636.3 879.9 656.5 869.1 659.6Z" fill="#72b558"/>
<path d="M869.7 658.4L880.4 655.3 868.9 674.4 858.2 677.5Z" fill="#78b981"/>
<path d="M858.7 676.3L869.5 673.2 858.0 691.3 847.3 694.4Z" fill="#79bd9d"/>
<path d="M859.9 646.2L891.0 636.8 858.1 690.6 827.1 700.4Z" fill="none" stroke="#111" stroke-width="2.0" stroke-linejoin="round"/>
<path d="M763.8 716.5L775.0 714.2 763.8 731.5 752.6 733.9Z" fill="#78c0ad"/>
<path d="M753.1 732.7L764.3 730.4 753.2 746.7 742.0 749.1Z" fill="#73c0b6"/>
<path d="M742.5 747.9L753.7 745.6 742.7 760.8 731.5 763.2Z" fill="#6ec0be"/>
<path d="M774.5 714.0L785.6 711.5 774.4 728.8 763.2 731.3Z" fill="#78c0ae"/>
<path d="M763.8 730.1L774.9 727.7 763.8 744.0 752.6 746.4Z" fill="#73c0b7"/>
<path d="M753.2 745.3L764.3 742.8 753.2 758.1 742.1 760.6Z" fill="#6dc0be"/>
<path d="M785.1 711.3L796.2 708.8 784.9 726.0 773.9 728.6Z" fill="#78c0b0"/>
<path d="M774.4 727.4L785.5 724.9 774.3 741.1 763.2 743.7Z" fill="#72c0b7"/>
<path d="M763.8 742.6L774.9 740.0 763.8 755.2 752.7 757.8Z" fill="#6dc0be"/>
<path d="M763.8 717.2L795.6 709.2 763.8 754.5 732.0 762.8Z" fill="none" stroke="#111" stroke-width="2.0" stroke-linejoin="round"/>
<path d="M667.1 776.0L678.7 774.2 667.8 788.7 656.3 790.5Z" fill="#6bc0c1"/>
<path d="M656.8 789.4L668.3 787.6 657.5 801.1 646.0 802.9Z" fill="#5fbcce"/>
<path d="M646.5 801.8L658.1 800.0 647.3 812.5 635.8 814.3Z" fill="#53b8db"/>
<path d="M678.1 773.9L689.6 772.1 678.7 786.5 667.2 788.4Z" fill="#69bfc3"/>
<path d="M667.7 787.3L679.2 785.4 668.4 798.9 656.9 800.8Z" fill="#5dbbd0"/>
<path d="M657.4 799.7L668.9 797.8 658.2 810.2 646.7 812.2Z" fill="#52b8dc"/>
<path d="M689.0 771.8L700.4 769.8 689.5 784.2 678.1 786.2Z" fill="#68bfc4"/>
<path d="M678.6 785.1L690.0 783.1 679.2 796.5 667.8 798.6Z" fill="#5cbbd1"/>
<path d="M668.3 797.5L679.7 795.4 669.0 807.8 657.5 809.9Z" fill="#50b7dd"/>
<path d="M667.2 776.7L699.8 770.2 668.9 807.1 636.4 813.9Z" fill="none" stroke="#111" stroke-width="2.0" stroke-linejoin="round"/>
<path d="M925.0 572.7L935.7 569.6 923.8 593.1 913.1 596.1Z" fill="#73b541"/>
<path d="M913.6 594.9L924.3 591.8 912.5 614.2 901.8 617.3Z" fill="#72b444"/>
<path d="M902.3 616.0L913.0 612.9 901.3 634.2 890.6 637.3Z" fill="#71b446"/>
<path d="M935.3 569.5L946.0 566.4 934.1 589.7 923.4 592.9Z" fill="#73b541"/>
<path d="M923.9 591.7L934.6 588.5 922.8 610.8 912.1 614.0Z" fill="#72b444"/>
<path d="M912.6 612.8L923.3 609.6 911.5 630.7 900.9 634.0Z" fill="#71b446"/>
<path d="M945.6 566.2L956.3 563.0 944.3 586.3 933.7 589.6Z" fill="#73b541"/>
<path d="M934.2 588.3L944.8 585.1 933.0 607.3 922.3 610.6Z" fill="#72b444"/>
<path d="M922.8 609.4L933.5 606.1 921.7 627.2 911.1 630.5Z" fill="#71b446"/>
<path d="M925.0 573.4L955.8 563.5 921.8 626.5 891.0 636.8Z" fill="none" stroke="#111" stroke-width="2.0" stroke-linejoin="round"/>
<path d="M828.3 654.0L839.4 651.4 827.9 671.9 816.8 674.4Z" fill="#71b551"/>
<path d="M817.4 673.2L828.4 670.7 817.0 690.0 805.9 692.6Z" fill="#77b87a"/>
<path d="M806.5 691.4L817.5 688.8 806.2 707.1 795.1 709.7Z" fill="#79bc99"/>
<path d="M838.9 651.2L849.9 648.6 838.4 669.0 827.4 671.7Z" fill="#72b553"/>
<path d="M827.9 670.5L838.9 667.8 827.5 687.1 816.5 689.8Z" fill="#78b97c"/>
<path d="M817.0 688.6L828.0 685.9 816.6 704.1 805.7 706.9Z" fill="#79bc9b"/>
<path d="M849.5 648.4L860.4 645.7 848.8 666.0 837.9 668.8Z" fill="#72b554"/>
<path d="M838.4 667.6L849.4 664.8 837.9 684.1 827.0 686.9Z" fill="#78b97e"/>
<path d="M827.5 685.7L838.4 682.9 827.0 701.1 816.1 703.9Z" fill="#79bd9b"/>
<path d="M828.3 654.7L859.9 646.2 827.1 700.4 795.6 709.2Z" fill="none" stroke="#111" stroke-width="2.0" stroke-linejoin="round"/>
<path d="M731.4 723.5L742.8 721.5 731.7 739.0 720.3 741.1Z" fill="#78bfa8"/>
<path d="M720.8 739.9L732.2 737.9 721.1 754.3 709.8 756.4Z" fill="#74c0b5"/>
<path d="M710.3 755.2L721.6 753.2 710.6 768.6 699.3 770.7Z" fill="#6fc0bc"/>
<path d="M742.3 721.3L753.6 719.2 742.4 736.6 731.1 738.8Z" fill="#78bfaa"/>
<path d="M731.6 737.6L742.9 735.5 731.9 751.9 720.6 754.0Z" fill="#74c0b5"/>
<path d="M721.1 752.9L732.4 750.7 721.4 766.1 710.1 768.3Z" fill="#6fc0bd"/>
<path d="M753.0 719.0L764.3 716.7 753.1 734.1 741.9 736.4Z" fill="#78bfab"/>
<path d="M742.4 735.2L753.7 733.0 742.5 749.3 731.3 751.6Z" fill="#74c0b6"/>
<path d="M731.8 750.5L743.1 748.2 732.0 763.5 720.8 765.8Z" fill="#6ec0bd"/>
<path d="M731.4 724.2L763.8 717.2 732.0 762.8 699.8 770.2Z" fill="none" stroke="#111" stroke-width="2.0" stroke-linejoin="round"/>
<path d="M893.7 581.6L904.6 578.9 892.7 602.5 881.8 605.2Z" fill="#73b541"/>
<path d="M882.3 604.0L893.2 601.3 881.5 623.7 870.6 626.5Z" fill="#72b444"/>
<path d="M871.1 625.3L882.0 622.5 870.3 643.9 859.4 646.7Z" fill="#71b446"/>
<path d="M904.2 578.7L915.0 575.9 903.1 599.4 892.3 602.3Z" fill="#73b541"/>
<path d="M892.8 601.1L903.6 598.2 891.9 620.6 881.0 623.5Z" fill="#72b444"/>
<path d="M881.5 622.3L892.4 619.4 880.7 640.7 869.9 643.7Z" fill="#71b446"/>
<path d="M914.6 575.7L925.4 572.8 913.5 596.3 902.7 599.3Z" fill="#73b541"/>
<path d="M903.2 598.0L914.0 595.1 902.2 617.4 891.4 620.5Z" fill="#72b444"/>
<path d="M891.9 619.2L902.7 616.2 891.0 637.5 880.2 640.5Z" fill="#71b446"/>
<path d="M893.6 582.3L925.0 573.4 891.0 636.8 859.9 646.2Z" fill="none" stroke="#111" stroke-width="2.0" stroke-linejoin="round"/>
<path d="M796.3 661.5L807.5 659.3 796.1 679.9 784.9 682.1Z" fill="#70b44b"/>
<path d="M785.4 680.9L796.6 678.7 785.2 698.1 774.0 700.4Z" fill="#76b874"/>
<path d="M774.5 699.2L785.7 697.0 774.4 715.4 763.3 717.7Z" fill="#79bc96"/>
<path d="M807.0 659.1L818.2 656.8 806.7 677.3 795.6 679.6Z" fill="#71b44d"/>
<path d="M796.1 678.5L807.2 676.1 795.8 695.5 784.7 697.9Z" fill="#77b876"/>
<path d="M785.2 696.7L796.4 694.3 785.1 712.7 773.9 715.1Z" fill="#79bc97"/>
<path d="M817.7 656.6L828.8 654.2 817.3 674.6 806.2 677.1Z" fill="#71b54f"/>
<path d="M806.7 675.9L817.8 673.4 806.4 692.8 795.4 695.3Z" fill="#77b878"/>
<path d="M795.9 694.1L807.0 691.6 795.6 709.9 784.6 712.5Z" fill="#79bc98"/>
<path d="M796.3 662.2L828.3 654.7 795.6 709.2 763.8 717.2Z" fill="none" stroke="#111" stroke-width="2.0" stroke-linejoin="round"/>
<path d="M698.6 729.6L710.1 727.9 699.1 745.6 687.5 747.3Z" fill="#79bea2"/>
<path d="M688.0 746.1L699.6 744.4 688.6 761.0 677.0 762.7Z" fill="#76c0b3"/>
<path d="M677.5 761.6L689.1 759.8 678.1 775.3 666.6 777.1Z" fill="#71c0ba"/>
<path d="M709.6 727.7L721.1 725.9 710.0 743.5 698.5 745.3Z" fill="#79bea4"/>
<path d="M699.0 744.2L710.5 742.3 699.5 758.8 688.0 760.7Z" fill="#75c0b3"/>
<path d="M688.5 759.6L700.0 757.7 689.0 773.2 677.6 775.1Z" fill="#70c0bb"/>
<path d="M720.5 725.7L732.0 723.8 720.8 741.3 709.4 743.2Z" fill="#79bea6"/>
<path d="M709.9 742.1L721.4 740.2 710.3 756.6 698.9 758.6Z" fill="#75c0b4"/>
<path d="M699.4 757.4L710.8 755.5 699.9 770.9 688.5 772.9Z" fill="#70c0bb"/>
<path d="M698.6 730.3L731.4 724.2 699.8 770.2 667.2 776.7Z" fill="none" stroke="#111" stroke-width="2.0" stroke-linejoin="round"/>
<path d="M861.9 589.6L873.0 587.2 861.2 610.9 850.1 613.4Z" fill="#73b540"/>
<path d="M850.6 612.2L861.7 609.7 850.0 632.3 838.9 634.8Z" fill="#72b443"/>
<path d="M839.4 633.6L850.5 631.1 838.9 652.6 827.8 655.2Z" fill="#71b446"/>
<path d="M872.6 587.0L883.6 584.5 871.8 608.2 860.8 610.8Z" fill="#73b541"/>
<path d="M861.2 609.5L872.2 607.0 860.5 629.6 849.5 632.2Z" fill="#72b443"/>
<path d="M850.0 630.9L861.0 628.4 849.4 649.8 838.4 652.5Z" fill="#71b446"/>
<path d="M883.1 584.4L894.1 581.8 882.3 605.4 871.3 608.1Z" fill="#73b541"/>
<path d="M871.8 606.8L882.8 604.2 871.0 626.7 860.1 629.4Z" fill="#72b443"/>
<path d="M860.6 628.2L871.5 625.5 859.9 646.9 848.9 649.6Z" fill="#71b446"/>
<path d="M861.9 590.3L893.6 582.3 859.9 646.2 828.3 654.7Z" fill="none" stroke="#111" stroke-width="2.0" stroke-linejoin="round"/>
<path d="M763.8 668.1L775.2 666.2 763.8 686.9 752.4 688.8Z" fill="#70b448"/>
<path d="M752.9 687.6L764.3 685.7 753.0 705.3 741.6 707.3Z" fill="#75b76c"/>
<path d="M742.1 706.1L753.5 704.2 742.3 722.7 730.9 724.7Z" fill="#7abb90"/>
<path d="M774.7 666.0L786.0 664.0 774.6 684.7 763.3 686.7Z" fill="#70b448"/>
<path d="M763.8 685.5L775.1 683.5 763.8 703.0 752.5 705.1Z" fill="#76b76f"/>
<path d="M753.0 703.9L764.3 701.9 753.1 720.4 741.8 722.5Z" fill="#7abb92"/>
<path d="M785.5 663.8L796.8 661.7 785.4 682.3 774.1 684.5Z" fill="#70b448"/>
<path d="M774.6 683.3L785.9 681.1 774.5 700.6 763.3 702.8Z" fill="#76b871"/>
<path d="M763.8 701.6L775.0 699.5 763.8 717.9 752.5 720.1Z" fill="#7abb94"/>
<path d="M763.8 668.8L796.3 662.2 763.8 717.2 731.4 724.2Z" fill="none" stroke="#111" stroke-width="2.0" stroke-linejoin="round"/>
<path d="M829.7 596.6L840.9 594.5 829.2 618.5 818.0 620.6Z" fill="#73b540"/>
<path d="M818.5 619.4L829.7 617.3 818.1 640.0 806.9 642.2Z" fill="#72b543"/>
<path d="M807.3 641.0L818.6 638.8 807.0 660.5 795.8 662.7Z" fill="#71b446"/>
<path d="M840.5 594.4L851.7 592.2 839.9 616.1 828.8 618.3Z" fill="#73b540"/>
<path d="M829.2 617.1L840.4 614.8 828.8 637.6 817.6 639.9Z" fill="#72b443"/>
<path d="M818.1 638.6L829.3 636.4 817.7 658.0 806.5 660.3Z" fill="#71b446"/>
<path d="M851.2 592.0L862.4 589.7 850.6 613.6 839.5 615.9Z" fill="#73b540"/>
<path d="M840.0 614.7L851.1 612.3 839.4 635.0 828.3 637.4Z" fill="#72b443"/>
<path d="M828.8 636.2L839.9 633.8 828.3 655.4 817.2 657.8Z" fill="#71b446"/>
<path d="M829.7 597.3L861.9 590.3 828.3 654.7 796.3 662.2Z" fill="none" stroke="#111" stroke-width="2.0" stroke-linejoin="round"/>
<path d="M730.8 673.7L742.3 672.1 731.0 693.0 719.5 694.6Z" fill="#70b447"/>
<path d="M720.0 693.4L731.5 691.8 720.3 711.6 708.7 713.2Z" fill="#74b661"/>
<path d="M709.2 712.1L720.8 710.4 709.6 729.1 698.1 730.8Z" fill="#7aba89"/>
<path d="M741.8 671.9L753.3 670.3 742.0 691.1 730.5 692.8Z" fill="#70b447"/>
<path d="M731.0 691.6L742.5 689.9 731.2 709.6 719.8 711.4Z" fill="#74b765"/>
<path d="M720.3 710.2L731.7 708.4 720.6 727.1 709.1 728.9Z" fill="#7aba8c"/>
<path d="M752.8 670.1L764.3 668.3 752.9 689.0 741.5 690.9Z" fill="#70b447"/>
<path d="M742.0 689.7L753.4 687.9 742.1 707.5 730.7 709.4Z" fill="#75b768"/>
<path d="M731.2 708.2L742.7 706.4 731.4 724.9 720.0 726.8Z" fill="#7aba8f"/>
<path d="M730.8 674.4L763.8 668.8 731.4 724.2 698.6 730.3Z" fill="none" stroke="#111" stroke-width="2.0" stroke-linejoin="round"/>
<path d="M797.0 602.6L808.4 600.9 796.7 625.0 785.4 626.8Z" fill="#73b540"/>
<path d="M785.8 625.6L797.2 623.8 785.7 646.8 774.3 648.6Z" fill="#72b542"/>
<path d="M774.8 647.4L786.2 645.6 774.7 667.4 763.3 669.3Z" fill="#71b445"/>
<path d="M808.0 600.7L819.3 598.9 807.6 622.9 796.3 624.8Z" fill="#73b540"/>
<path d="M796.8 623.6L808.1 621.7 796.5 644.6 785.2 646.6Z" fill="#72b543"/>
<path d="M785.7 645.4L797.0 643.4 785.5 665.2 774.2 667.2Z" fill="#71b445"/>
<path d="M818.9 598.7L830.2 596.8 818.4 620.8 807.2 622.8Z" fill="#73b540"/>
<path d="M807.6 621.5L818.9 619.5 807.3 642.4 796.0 644.4Z" fill="#72b543"/>
<path d="M796.5 643.2L807.8 641.2 796.3 662.9 785.0 665.0Z" fill="#71b445"/>
<path d="M797.0 603.3L829.7 597.3 796.3 662.2 763.8 668.8Z" fill="none" stroke="#111" stroke-width="2.0" stroke-linejoin="round"/>
<path d="M763.8 607.7L775.4 606.3 763.8 630.6 752.2 632.0Z" fill="#74b53f"/>
<path d="M752.7 630.8L764.3 629.4 752.8 652.5 741.2 654.0Z" fill="#73b542"/>
<path d="M741.7 652.8L753.3 651.3 741.9 673.3 730.3 674.9Z" fill="#71b444"/>
<path d="M774.9 606.1L786.5 604.6 774.8 628.8 763.3 630.4Z" fill="#74b53f"/>
<path d="M763.8 629.2L775.3 627.6 763.8 650.7 752.3 652.3Z" fill="#72b542"/>
<path d="M752.8 651.1L764.3 649.5 752.8 671.5 741.4 673.1Z" fill="#71b445"/>
<path d="M786.0 604.4L797.5 602.8 785.8 627.0 774.4 628.7Z" fill="#73b53f"/>
<path d="M774.8 627.4L786.3 625.8 774.8 648.8 763.3 650.5Z" fill="#72b542"/>
<path d="M763.8 649.3L775.2 647.6 763.8 669.5 752.4 671.3Z" fill="#71b445"/>
<path d="M763.8 608.4L797.0 603.3 763.8 668.8 730.8 674.4Z" fill="none" stroke="#111" stroke-width="2.0" stroke-linejoin="round"/>
</g>
<circle cx="762.7" cy="79.8" r="11.5" fill="#a5302a" stroke="#2a0c0a" stroke-width="2"/>
<circle cx="1351.9" cy="316.1" r="11.5" fill="#a5302a" stroke="#2a0c0a" stroke-width="2"/>
<circle cx="763.1" cy="616.6" r="11.5" fill="#f6b6b6" stroke="#1a1010" stroke-width="2"/>
<defs><radialGradient id="cg" gradientUnits="userSpaceOnUse" cx="0" cy="0" r="3.6412" gradientTransform="matrix(-602.206418 -10.873994 -3.881219 214.943538 2076.879 656.842)"><stop offset="0.0000" stop-color="#424a8c"/><stop offset="0.0167" stop-color="#424a8c"/><stop offset="0.0333" stop-color="#424a8c"/><stop offset="0.0500" stop-color="#424a8c"/><stop offset="0.0667" stop-color="#424a8c"/><stop offset="0.0833" stop-color="#424a8c"/><stop offset="0.1000" stop-color="#424a8c"/><stop offset="0.1167" stop-color="#424a8c"/><stop offset="0.1333" stop-color="#424a8c"/><stop offset="0.1500" stop-color="#424a8d"/><stop offset="0.1667" stop-color="#424a8d"/><stop offset="0.1833" stop-color="#424a8d"/><stop offset="0.2000" stop-color="#434b8d"/><stop offset="0.2167" stop-color="#434b8d"/><stop offset="0.2333" stop-color="#434b8e"/><stop offset="0.2500" stop-color="#434b8e"/><stop offset="0.2667" stop-color="#434b8e"/><stop offset="0.2833" stop-color="#444d91"/><stop offset="0.3000" stop-color="#455094"/><stop offset="0.3167" stop-color="#475397"/><stop offset="0.3333" stop-color="#4a5b9f"/><stop offset="0.3500" stop-color="#4f64a7"/><stop offset="0.3667" stop-color="#536db0"/><stop offset="0.3833" stop-color="#5877b9"/><stop offset="0.4000" stop-color="#5588c4"/><stop offset="0.4167" stop-color="#5299cf"/><stop offset="0.4333" stop-color="#4eabdb"/><stop offset="0.4500" stop-color="#4fb7df"/><stop offset="0.4667" stop-color="#57b9d7"/><stop offset="0.4833" stop-color="#5ebcce"/><stop offset="0.5000" stop-color="#67bec6"/><stop offset="0.5167" stop-color="#6dc0be"/><stop offset="0.5333" stop-color="#71c0ba"/><stop offset="0.5500" stop-color="#74c0b5"/><stop offset="0.5667" stop-color="#78c0b0"/><stop offset="0.5833" stop-color="#79bda1"/><stop offset="0.6000" stop-color="#7abb91"/><stop offset="0.6167" stop-color="#77b87a"/><stop offset="0.6333" stop-color="#73b65f"/><stop offset="0.6500" stop-color="#70b448"/><stop offset="0.6667" stop-color="#71b446"/><stop offset="0.6833" stop-color="#71b444"/><stop offset="0.7000" stop-color="#72b542"/><stop offset="0.7167" stop-color="#73b541"/><stop offset="0.7333" stop-color="#74b53f"/><stop offset="0.7500" stop-color="#80b93e"/><stop offset="0.7667" stop-color="#92bf3f"/><stop offset="0.7833" stop-color="#a0c541"/><stop offset="0.8000" stop-color="#aeca44"/><stop offset="0.8167" stop-color="#c0d046"/><stop offset="0.8333" stop-color="#dcdb49"/><stop offset="0.8500" stop-color="#f0d846"/><stop offset="0.8667" stop-color="#f0b93b"/><stop offset="0.8833" stop-color="#ef9932"/><stop offset="0.9000" stop-color="#eb7834"/><stop offset="0.9167" stop-color="#e76830"/><stop offset="0.9333" stop-color="#e45c2c"/><stop offset="0.9500" stop-color="#e45c2c"/><stop offset="0.9667" stop-color="#e45c2c"/><stop offset="0.9833" stop-color="#e45c2c"/><stop offset="1.0000" stop-color="#e45c2c"/></radialGradient></defs>
<rect x="1777.0" y="28.5" width="1196.0" height="1197.5" fill="url(#cg)"/>
<polyline points="1777.0,436.0 1785.0,434.8 1793.0,433.5 1797.0,432.9 1805.0,431.8 1813.0,430.7 1821.0,429.6 1825.7,429.0 1833.0,428.1 1841.0,427.1 1849.0,426.2 1857.0,425.3 1861.0,424.9 1869.0,424.1 1877.0,423.3 1885.0,422.6 1893.0,421.9 1901.0,421.2 1905.0,420.9 1913.0,420.3 1921.0,419.7 1929.0,419.2 1937.0,418.7 1945.0,418.2 1953.0,417.8 1961.0,417.4 1969.0,417.1 1973.0,416.9 1981.0,416.6 1989.0,416.3 1997.0,416.1 2005.0,415.9 2013.0,415.7 2021.0,415.6 2029.0,415.5 2037.0,415.5 2045.0,415.4 2053.0,415.4 2061.0,415.5 2069.0,415.6 2077.0,415.7 2085.0,415.8 2093.0,416.0 2101.0,416.2 2109.0,416.4 2117.0,416.7 2123.8,417.0 2129.0,417.2 2137.0,417.6 2145.0,418.0 2153.0,418.4 2161.0,418.9 2169.0,419.4 2177.0,419.9 2185.0,420.5 2191.8,421.0 2197.0,421.4 2205.0,422.1 2213.0,422.8 2221.0,423.5 2229.0,424.3 2236.4,425.0 2241.0,425.5 2249.0,426.3 2257.0,427.2 2265.0,428.2 2271.8,429.0 2277.0,429.6 2285.0,430.7 2293.0,431.8 2301.0,432.9 2305.0,433.4 2313.0,434.6 2321.0,435.8 2328.7,437.0 2333.0,437.7 2341.0,439.0 2349.0,440.4 2353.0,441.1 2361.0,442.5 2369.0,444.0 2374.5,445.0 2381.0,446.3 2389.0,447.9 2394.7,449.0 2401.0,450.4 2409.0,452.1 2413.4,453.0 2421.0,454.7 2429.0,456.6 2433.0,457.5 2441.0,459.4 2447.5,461.0 2453.0,462.4 2461.0,464.5 2465.0,465.6 2473.0,467.7 2477.8,469.1 2485.0,471.1 2491.8,473.1 2497.0,474.6 2505.0,477.0 2509.0,478.3 2517.0,480.8 2521.0,482.1 2529.0,484.8 2533.0,486.1 2541.0,488.9 2545.0,490.4 2552.5,493.1 2557.0,494.8 2563.1,497.1 2569.0,499.4 2573.3,501.1 2581.0,504.3 2585.0,505.9 2592.4,509.1 2597.0,511.2 2601.3,513.1 2609.0,516.7 2613.0,518.6 2618.2,521.1 2625.0,524.5 2629.0,526.6 2633.8,529.1 2641.0,533.1 2645.0,535.3 2649.0,537.6 2654.9,541.1 2661.0,544.9 2665.0,547.5 2669.0,550.1 2673.5,553.2 2679.2,557.2 2684.7,561.2 2689.0,564.5 2693.0,567.7 2697.0,571.0 2701.0,574.4 2705.0,578.0 2709.0,581.8 2713.0,585.7 2717.0,589.9 2721.0,594.3 2725.0,599.1 2729.0,604.2 2732.6,609.2 2735.2,613.2 2737.7,617.2 2741.0,623.2 2743.9,629.3 2745.6,633.3 2748.4,641.3 2749.5,645.3 2751.2,653.3 2752.2,661.3 2752.4,669.3 2751.8,677.3 2750.5,685.3 2749.0,691.5 2747.2,697.3 2745.0,702.9 2742.1,709.4 2740.0,713.4 2737.0,718.4 2733.0,724.5 2729.5,729.4 2726.4,733.4 2723.0,737.4 2719.4,741.4 2715.6,745.4 2711.6,749.4 2707.3,753.4 2702.8,757.4 2698.0,761.4 2693.0,765.4 2689.0,768.5 2685.0,771.4 2681.0,774.3 2676.4,777.4 2670.3,781.4 2665.0,784.7 2661.0,787.2 2657.0,789.5 2650.1,793.5 2645.0,796.3 2641.0,798.4 2635.1,801.5 2629.0,804.5 2625.0,806.4 2618.6,809.5 2613.0,812.0 2609.0,813.8 2601.0,817.2 2597.0,818.9 2590.7,821.5 2585.0,823.8 2580.5,825.5 2573.0,828.3 2569.0,829.8 2561.0,832.7 2557.0,834.1 2549.0,836.8 2545.0,838.1 2537.0,840.7 2533.0,841.9 2525.0,844.4 2521.0,845.6 2513.0,847.9 2507.2,849.5 2501.0,851.2 2493.0,853.4 2489.0,854.4 2481.0,856.5 2476.7,857.5 2469.0,859.4 2461.0,861.3 2457.0,862.2 2449.0,864.0 2441.8,865.5 2437.0,866.6 2429.0,868.2 2422.3,869.6 2417.0,870.6 2409.0,872.1 2401.0,873.6 2397.0,874.3 2389.0,875.6 2381.0,877.0 2377.0,877.6 2369.0,878.9 2361.0,880.1 2353.0,881.3 2349.0,881.9 2341.0,883.0 2333.0,884.0 2325.0,885.1 2320.9,885.6 2313.0,886.5 2305.0,887.4 2297.0,888.3 2289.0,889.2 2284.9,889.6 2277.0,890.3 2269.0,891.1 2261.0,891.8 2253.0,892.4 2245.0,893.1 2238.2,893.6 2233.0,893.9 2225.0,894.5 2217.0,895.0 2209.0,895.4 2201.0,895.9 2193.0,896.3 2185.0,896.6 2177.0,896.9 2169.0,897.2 2161.0,897.5 2156.6,897.6 2149.0,897.8 2141.0,897.9 2133.0,898.1 2125.0,898.2 2117.0,898.2 2109.0,898.2 2101.0,898.2 2093.0,898.2 2085.0,898.1 2077.0,898.0 2069.0,897.9 2061.0,897.7 2056.5,897.6 2049.0,897.4 2041.0,897.1 2033.0,896.8 2025.0,896.5 2017.0,896.1 2009.0,895.7 2001.0,895.3 1993.0,894.8 1985.0,894.3 1977.0,893.8 1973.0,893.5 1965.0,892.9 1957.0,892.3 1949.0,891.6 1941.0,890.9 1933.0,890.2 1926.3,889.6 1921.0,889.1 1913.0,888.2 1905.0,887.4 1897.0,886.5 1889.3,885.6 1885.0,885.1 1877.0,884.1 1869.0,883.0 1861.0,882.0 1857.0,881.4 1849.0,880.3 1841.0,879.1 1833.0,877.9 1829.0,877.3 1821.0,876.0 1813.0,874.7 1806.3,873.6 1801.0,872.6 1793.0,871.2 1785.0,869.7 1781.0,869.0 1777.0,868.2" fill="none" stroke="#221616" stroke-width="2.2"/>
<polyline points="2973.0,890.6 2967.1,893.6 2961.0,896.6 2957.0,898.5 2950.4,901.6 2945.0,904.1 2941.0,905.9 2933.0,909.5 2929.0,911.2 2923.5,913.6 2917.0,916.4 2913.0,918.0 2905.0,921.3 2901.0,922.9 2894.1,925.6 2889.0,927.6 2883.7,929.6 2877.0,932.2 2873.0,933.6 2865.0,936.6 2861.0,938.0 2853.0,940.8 2849.0,942.2 2841.0,944.9 2837.0,946.3 2829.0,948.9 2825.0,950.2 2817.0,952.8 2813.0,954.0 2805.0,956.5 2801.0,957.7 2793.0,960.1 2787.7,961.7 2781.0,963.6 2773.8,965.7 2769.0,967.0 2761.0,969.2 2757.0,970.3 2749.0,972.5 2744.3,973.7 2737.0,975.6 2729.0,977.6 2725.0,978.6 2717.0,980.6 2712.5,981.7 2705.0,983.5 2697.0,985.4 2693.0,986.3 2685.0,988.1 2677.9,989.7 2673.0,990.8 2665.0,992.5 2659.3,993.7 2653.0,995.0 2645.0,996.7 2639.8,997.7 2633.0,999.1 2625.0,1000.6 2619.3,1001.7 2613.0,1002.9 2605.0,1004.4 2597.6,1005.7 2593.0,1006.5 2585.0,1007.9 2577.0,1009.3 2573.0,1010.0 2565.0,1011.3 2557.0,1012.6 2549.9,1013.7 2545.0,1014.5 2537.0,1015.7 2529.0,1016.9 2523.3,1017.7 2517.0,1018.6 2509.0,1019.8 2501.0,1020.9 2494.5,1021.7 2489.0,1022.5 2481.0,1023.5 2473.0,1024.5 2465.0,1025.5 2461.0,1026.0 2453.0,1026.9 2445.0,1027.8 2437.0,1028.7 2429.0,1029.6 2425.0,1030.0 2417.0,1030.8 2409.0,1031.6 2401.0,1032.4 2393.0,1033.2 2386.4,1033.8 2381.0,1034.2 2373.0,1034.9 2365.0,1035.6 2357.0,1036.2 2349.0,1036.9 2341.0,1037.5 2337.0,1037.8 2329.0,1038.3 2321.0,1038.9 2313.0,1039.4 2305.0,1039.9 2297.0,1040.4 2289.0,1040.8 2281.0,1041.3 2273.0,1041.7 2269.0,1041.9 2261.0,1042.2 2253.0,1042.6 2245.0,1042.9 2237.0,1043.2 2229.0,1043.5 2221.0,1043.8 2213.0,1044.0 2205.0,1044.3 2197.0,1044.5 2189.0,1044.6 2181.0,1044.8 2173.0,1044.9 2165.0,1045.1 2157.0,1045.1 2149.0,1045.2 2141.0,1045.3 2133.0,1045.3 2125.0,1045.3 2117.0,1045.3 2109.0,1045.3 2101.0,1045.2 2093.0,1045.2 2085.0,1045.1 2077.0,1044.9 2069.0,1044.8 2061.0,1044.6 2053.0,1044.5 2045.0,1044.3 2037.0,1044.1 2029.0,1043.8 2021.0,1043.5 2013.0,1043.3 2005.0,1043.0 1997.0,1042.6 1989.0,1042.3 1981.0,1041.9 1977.0,1041.7 1969.0,1041.3 1961.0,1040.9 1953.0,1040.5 1945.0,1040.0 1937.0,1039.5 1929.0,1039.0 1921.0,1038.5 1913.0,1037.9 1909.0,1037.6 1901.0,1037.1 1893.0,1036.5 1885.0,1035.8 1877.0,1035.2 1869.0,1034.5 1861.0,1033.8 1857.0,1033.5 1849.0,1032.7 1841.0,1032.0 1833.0,1031.2 1825.0,1030.4 1818.5,1029.8 1813.0,1029.2 1805.0,1028.3 1797.0,1027.4 1789.0,1026.5 1782.0,1025.7 1777.0,1025.2 1777.0,1025.2" fill="none" stroke="#221616" stroke-width="2.2"/>
<polyline points="1777.0,279.1 1785.0,278.4 1793.0,277.7 1801.0,277.1 1805.0,276.8 1813.0,276.2 1821.0,275.6 1829.0,275.1 1837.0,274.5 1845.0,274.0 1853.0,273.5 1861.0,273.1 1865.7,272.8 1873.0,272.4 1881.0,272.0 1889.0,271.6 1897.0,271.3 1905.0,270.9 1913.0,270.6 1921.0,270.3 1929.0,270.0 1937.0,269.8 1945.0,269.5 1953.0,269.3 1961.0,269.1 1969.0,269.0 1977.0,268.8 1981.0,268.7 1989.0,268.6 1997.0,268.5 2005.0,268.5 2013.0,268.4 2021.0,268.4 2029.0,268.4 2037.0,268.4 2045.0,268.4 2053.0,268.5 2061.0,268.5 2069.0,268.6 2077.0,268.7 2081.0,268.8 2089.0,269.0 2097.0,269.1 2105.0,269.3 2113.0,269.5 2121.0,269.8 2129.0,270.0 2137.0,270.3 2145.0,270.6 2153.0,270.9 2161.0,271.2 2169.0,271.6 2177.0,272.0 2185.0,272.4 2193.0,272.8 2197.0,273.0 2205.0,273.5 2213.0,273.9 2221.0,274.4 2229.0,275.0 2237.0,275.5 2245.0,276.1 2253.0,276.6 2257.0,276.9 2265.0,277.6 2273.0,278.2 2281.0,278.9 2289.0,279.5 2297.0,280.2 2303.3,280.8 2309.0,281.3 2317.0,282.1 2325.0,282.9 2333.0,283.7 2341.0,284.5 2345.0,285.0 2353.0,285.8 2361.0,286.7 2369.0,287.6 2377.0,288.6 2381.0,289.0 2389.0,290.0 2397.0,291.0 2405.0,292.0 2411.3,292.8 2417.0,293.6 2425.0,294.7 2433.0,295.8 2440.6,296.8 2445.0,297.5 2453.0,298.6 2461.0,299.8 2467.7,300.8 2473.0,301.7 2481.0,302.9 2489.0,304.2 2493.0,304.9 2501.0,306.2 2509.0,307.5 2516.7,308.9 2521.0,309.6 2529.0,311.0 2537.0,312.5 2541.0,313.2 2549.0,314.7 2557.0,316.2 2561.0,317.0 2569.0,318.5 2577.0,320.1 2581.0,320.9 2589.0,322.6 2597.0,324.2 2601.0,325.1 2609.0,326.8 2617.0,328.5 2621.0,329.4 2629.0,331.2 2636.3,332.9 2641.0,334.0 2649.0,335.9 2653.3,336.9 2661.0,338.7 2669.0,340.7 2673.0,341.7 2681.0,343.7 2685.6,344.9 2693.0,346.8 2700.9,348.9 2705.0,350.0 2713.0,352.2 2717.0,353.3 2725.0,355.5 2730.1,356.9 2737.0,358.9 2743.9,360.9 2749.0,362.4 2757.0,364.8 2761.0,366.0 2769.0,368.5 2773.0,369.7 2781.0,372.3 2785.0,373.5 2793.0,376.1 2797.0,377.5 2805.0,380.1 2809.0,381.5 2817.0,384.3 2821.0,385.7 2829.0,388.5 2833.0,389.9 2841.0,392.8 2845.0,394.3 2852.0,397.0 2857.0,398.9 2862.5,401.0 2869.0,403.5 2873.0,405.1 2881.0,408.4 2885.0,410.0 2892.2,413.0 2897.0,415.0 2901.6,417.0 2909.0,420.2 2913.0,422.0 2919.7,425.0 2925.0,427.4 2929.0,429.3 2936.9,433.0 2941.0,435.0 2945.1,437.0 2953.0,440.9 2957.0,442.9 2961.1,445.0 2968.8,449.0 2973.0,451.3 2973.0,451.3" fill="none" stroke="#221616" stroke-width="2.2"/>
<polyline points="2973.0,1046.1 2965.0,1048.4 2960.0,1049.8 2953.0,1051.7 2945.6,1053.8 2941.0,1055.0 2933.0,1057.2 2929.0,1058.2 2921.0,1060.3 2915.4,1061.8 2909.0,1063.4 2901.0,1065.4 2897.0,1066.4 2889.0,1068.4 2883.2,1069.8 2877.0,1071.3 2869.0,1073.2 2865.0,1074.1 2857.0,1076.0 2849.0,1077.8 2845.0,1078.7 2837.0,1080.4 2830.7,1081.8 2825.0,1083.0 2817.0,1084.7 2811.9,1085.8 2805.0,1087.2 2797.0,1088.9 2792.3,1089.8 2785.0,1091.3 2777.0,1092.8 2771.9,1093.8 2765.0,1095.1 2757.0,1096.6 2750.6,1097.8 2745.0,1098.9 2737.0,1100.3 2729.0,1101.7 2725.0,1102.4 2717.0,1103.8 2709.0,1105.1 2704.8,1105.8 2697.0,1107.1 2689.0,1108.4 2681.0,1109.7 2677.0,1110.3 2669.0,1111.6 2661.0,1112.8 2653.9,1113.9 2649.0,1114.6 2641.0,1115.7 2633.0,1116.9 2626.1,1117.9 2621.0,1118.6 2613.0,1119.6 2605.0,1120.7 2597.0,1121.8 2593.0,1122.3 2585.0,1123.3 2577.0,1124.3 2569.0,1125.3 2563.9,1125.9 2557.0,1126.7 2549.0,1127.6 2541.0,1128.5 2533.0,1129.4 2528.5,1129.9 2521.0,1130.7 2513.0,1131.5 2505.0,1132.3 2497.0,1133.1 2489.2,1133.9 2485.0,1134.3 2477.0,1135.0 2469.0,1135.8 2461.0,1136.5 2453.0,1137.2 2445.0,1137.8 2441.0,1138.2 2433.0,1138.8 2425.0,1139.4 2417.0,1140.0 2409.0,1140.6 2401.0,1141.2 2393.0,1141.8 2389.0,1142.0 2381.0,1142.6 2373.0,1143.1 2365.0,1143.6 2357.0,1144.0 2349.0,1144.5 2341.0,1144.9 2333.0,1145.4 2325.0,1145.8 2321.0,1146.0 2313.0,1146.3 2305.0,1146.7 2297.0,1147.0 2289.0,1147.4 2281.0,1147.7 2273.0,1148.0 2265.0,1148.2 2257.0,1148.5 2249.0,1148.7 2241.0,1149.0 2233.0,1149.2 2225.0,1149.4 2217.0,1149.5 2209.0,1149.7 2201.0,1149.8 2196.7,1149.9 2189.0,1150.0 2181.0,1150.1 2173.0,1150.2 2165.0,1150.3 2157.0,1150.3 2149.0,1150.3 2141.0,1150.4 2133.0,1150.4 2125.0,1150.3 2117.0,1150.3 2109.0,1150.2 2101.0,1150.2 2093.0,1150.1 2085.0,1150.0 2078.8,1149.9 2073.0,1149.8 2065.0,1149.7 2057.0,1149.5 2049.0,1149.3 2041.0,1149.1 2033.0,1148.9 2025.0,1148.7 2017.0,1148.5 2009.0,1148.2 2001.0,1147.9 1993.0,1147.6 1985.0,1147.3 1977.0,1147.0 1969.0,1146.7 1961.0,1146.3 1953.0,1145.9 1949.0,1145.7 1941.0,1145.3 1933.0,1144.9 1925.0,1144.5 1917.0,1144.0 1909.0,1143.6 1901.0,1143.1 1893.0,1142.6 1885.0,1142.1 1881.0,1141.8 1873.0,1141.3 1865.0,1140.7 1857.0,1140.1 1849.0,1139.5 1841.0,1138.9 1833.0,1138.3 1828.1,1137.9 1821.0,1137.3 1813.0,1136.6 1805.0,1135.9 1797.0,1135.2 1789.0,1134.5 1782.3,1133.9 1777.0,1133.4 1777.0,1133.4" fill="none" stroke="#221616" stroke-width="2.2"/>
<polyline points="1777.0,170.9 1785.0,170.4 1793.0,169.9 1801.0,169.4 1809.0,169.0 1814.1,168.7 1821.0,168.3 1829.0,167.9 1837.0,167.5 1845.0,167.2 1853.0,166.8 1861.0,166.5 1869.0,166.2 1877.0,165.9 1885.0,165.6 1893.0,165.3 1901.0,165.1 1909.0,164.8 1914.5,164.7 1921.0,164.5 1929.0,164.3 1937.0,164.1 1945.0,164.0 1953.0,163.8 1961.0,163.7 1969.0,163.6 1977.0,163.5 1985.0,163.5 1993.0,163.4 2001.0,163.4 2009.0,163.3 2017.0,163.3 2025.0,163.3 2033.0,163.4 2041.0,163.4 2049.0,163.5 2057.0,163.5 2065.0,163.6 2073.0,163.8 2081.0,163.9 2089.0,164.0 2097.0,164.2 2105.0,164.4 2113.0,164.5 2117.8,164.7 2125.0,164.9 2133.0,165.1 2141.0,165.4 2149.0,165.6 2157.0,165.9 2165.0,166.2 2173.0,166.5 2181.0,166.9 2189.0,167.2 2197.0,167.6 2205.0,168.0 2213.0,168.4 2219.2,168.7 2225.0,169.0 2233.0,169.4 2241.0,169.9 2249.0,170.4 2257.0,170.9 2265.0,171.4 2273.0,171.9 2281.0,172.4 2285.0,172.7 2293.0,173.3 2301.0,173.9 2309.0,174.5 2317.0,175.1 2325.0,175.7 2333.0,176.4 2337.0,176.7 2345.0,177.4 2353.0,178.1 2361.0,178.8 2369.0,179.6 2377.0,180.3 2381.0,180.7 2389.0,181.5 2397.0,182.3 2405.0,183.1 2413.0,183.9 2420.2,184.7 2425.0,185.2 2433.0,186.1 2441.0,187.0 2449.0,187.9 2455.8,188.7 2461.0,189.3 2469.0,190.3 2477.0,191.3 2485.0,192.3 2489.0,192.8 2497.0,193.8 2505.0,194.9 2513.0,195.9 2518.9,196.7 2525.0,197.6 2533.0,198.7 2541.0,199.8 2547.3,200.7 2553.0,201.5 2561.0,202.7 2569.0,203.9 2574.2,204.7 2581.0,205.8 2589.0,207.0 2597.0,208.3 2601.0,209.0 2609.0,210.3 2617.0,211.6 2623.7,212.7 2629.0,213.6 2637.0,215.0 2645.0,216.4 2649.0,217.1 2657.0,218.6 2665.0,220.0 2669.0,220.8 2677.0,222.3 2685.0,223.8 2690.1,224.7 2697.0,226.1 2705.0,227.7 2710.5,228.8 2717.0,230.1 2725.0,231.7 2730.1,232.8 2737.0,234.2 2745.0,235.9 2749.1,236.8 2757.0,238.5 2765.0,240.2 2769.0,241.1 2777.0,242.9 2785.0,244.7 2789.0,245.6 2797.0,247.5 2802.4,248.8 2809.0,250.3 2817.0,252.3 2821.0,253.2 2829.0,255.2 2835.4,256.8 2841.0,258.2 2849.0,260.2 2853.0,261.3 2861.0,263.4 2866.5,264.8 2873.0,266.5 2881.0,268.7 2885.0,269.8 2893.0,272.0 2897.0,273.1 2905.0,275.3 2910.1,276.8 2917.0,278.8 2924.0,280.8 2929.0,282.3 2937.0,284.7 2941.0,285.9 2949.0,288.3 2953.0,289.5 2961.0,292.0 2965.0,293.3 2973.0,295.8 2973.0,295.8" fill="none" stroke="#221616" stroke-width="2.2"/>
<polyline points="1837.7,1226.0 1833.0,1225.7 1825.0,1225.1 1817.0,1224.5 1809.0,1223.9 1801.0,1223.3 1793.0,1222.7 1785.0,1222.1 1781.0,1221.7 1777.0,1221.4" fill="none" stroke="#221616" stroke-width="2.2"/>
<polyline points="2973.0,1153.8 2969.0,1154.7 2961.0,1156.5 2954.3,1157.9 2949.0,1159.0 2941.0,1160.7 2935.2,1161.9 2929.0,1163.2 2921.0,1164.8 2915.5,1165.9 2909.0,1167.2 2901.0,1168.8 2895.1,1169.9 2889.0,1171.1 2881.0,1172.6 2874.0,1173.9 2869.0,1174.8 2861.0,1176.3 2853.0,1177.8 2849.0,1178.5 2841.0,1179.9 2833.0,1181.3 2829.0,1181.9 2821.0,1183.3 2813.0,1184.6 2805.1,1185.9 2801.0,1186.6 2793.0,1187.9 2785.0,1189.2 2780.0,1190.0 2773.0,1191.0 2765.0,1192.3 2757.0,1193.5 2753.0,1194.1 2745.0,1195.2 2737.0,1196.4 2729.0,1197.5 2725.0,1198.1 2717.0,1199.2 2709.0,1200.3 2701.0,1201.4 2696.4,1202.0 2689.0,1202.9 2681.0,1204.0 2673.0,1205.0 2665.0,1206.0 2661.0,1206.5 2653.0,1207.4 2645.0,1208.4 2637.0,1209.3 2631.2,1210.0 2625.0,1210.7 2617.0,1211.6 2609.0,1212.4 2601.0,1213.3 2594.5,1214.0 2589.0,1214.6 2581.0,1215.4 2573.0,1216.2 2565.0,1217.0 2557.0,1217.7 2553.0,1218.1 2545.0,1218.8 2537.0,1219.6 2529.0,1220.3 2521.0,1221.0 2513.0,1221.7 2508.9,1222.0 2501.0,1222.6 2493.0,1223.3 2485.0,1223.9 2477.0,1224.5 2469.0,1225.1 2461.0,1225.7 2456.5,1226.0 2456.5,1226.0" fill="none" stroke="#221616" stroke-width="2.2"/>
<polyline points="1777.0,82.8 1785.0,82.4 1793.0,82.1 1801.0,81.7 1809.0,81.3 1817.0,81.0 1825.0,80.6 1829.0,80.5 1837.0,80.2 1845.0,79.9 1853.0,79.6 1861.0,79.3 1869.0,79.1 1877.0,78.9 1885.0,78.6 1893.0,78.4 1901.0,78.2 1909.0,78.1 1917.0,77.9 1925.0,77.7 1933.0,77.6 1941.0,77.5 1949.0,77.4 1957.0,77.3 1965.0,77.2 1973.0,77.1 1981.0,77.1 1989.0,77.1 1997.0,77.0 2005.0,77.0 2013.0,77.0 2021.0,77.0 2029.0,77.1 2037.0,77.1 2045.0,77.2 2053.0,77.3 2061.0,77.4 2069.0,77.5 2077.0,77.6 2085.0,77.7 2093.0,77.9 2101.0,78.0 2109.0,78.2 2117.0,78.4 2125.0,78.6 2133.0,78.8 2141.0,79.1 2149.0,79.3 2157.0,79.6 2165.0,79.8 2173.0,80.1 2181.0,80.4 2185.0,80.6 2193.0,80.9 2201.0,81.2 2209.0,81.6 2217.0,82.0 2225.0,82.3 2233.0,82.7 2241.0,83.1 2249.0,83.6 2257.0,84.0 2265.0,84.5 2269.0,84.7 2277.0,85.2 2285.0,85.7 2293.0,86.2 2301.0,86.7 2309.0,87.2 2317.0,87.7 2325.0,88.3 2329.0,88.6 2337.0,89.2 2345.0,89.8 2353.0,90.4 2361.0,91.0 2369.0,91.7 2377.0,92.3 2381.0,92.6 2389.0,93.3 2397.0,94.0 2405.0,94.7 2413.0,95.4 2421.0,96.2 2425.3,96.6 2433.0,97.3 2441.0,98.1 2449.0,98.9 2457.0,99.7 2465.0,100.5 2469.0,100.9 2477.0,101.8 2485.0,102.6 2493.0,103.5 2501.0,104.4 2505.0,104.9 2513.0,105.8 2521.0,106.7 2529.0,107.7 2536.9,108.6 2541.0,109.1 2549.0,110.1 2557.0,111.1 2565.0,112.1 2569.0,112.6 2577.0,113.7 2585.0,114.7 2593.0,115.8 2598.9,116.6 2605.0,117.5 2613.0,118.6 2621.0,119.7 2627.3,120.6 2633.0,121.4 2641.0,122.6 2649.0,123.8 2654.4,124.6 2661.0,125.6 2669.0,126.9 2677.0,128.1 2681.0,128.8 2689.0,130.0 2697.0,131.3 2704.9,132.6 2709.0,133.3 2717.0,134.7 2725.0,136.0 2729.0,136.7 2737.0,138.1 2745.0,139.5 2751.4,140.6 2757.0,141.7 2765.0,143.1 2773.0,144.6 2777.0,145.3 2785.0,146.8 2793.0,148.3 2797.0,149.1 2805.0,150.7 2813.0,152.2 2817.0,153.0 2825.0,154.6 2833.0,156.2 2837.0,157.1 2845.0,158.7 2853.0,160.4 2857.0,161.2 2865.0,162.9 2873.0,164.7 2877.0,165.5 2885.0,167.3 2891.3,168.7 2897.0,170.0 2905.0,171.8 2909.0,172.7 2917.0,174.5 2925.0,176.4 2929.0,177.3 2937.0,179.2 2943.1,180.7 2949.0,182.1 2957.0,184.1 2961.0,185.1 2969.0,187.1 2973.0,188.1" fill="none" stroke="#221616" stroke-width="2.2"/>
<polyline points="2514.9,28.5 2521.0,29.1 2529.0,30.0 2537.0,30.8 2545.0,31.7 2552.2,32.5 2557.0,33.0 2565.0,34.0 2573.0,34.9 2581.0,35.8 2586.9,36.5 2593.0,37.2 2601.0,38.2 2609.0,39.2 2617.0,40.2 2621.0,40.7 2629.0,41.7 2637.0,42.8 2645.0,43.8 2650.3,44.5 2657.0,45.4 2665.0,46.5 2673.0,47.6 2679.6,48.5 2685.0,49.3 2693.0,50.4 2701.0,51.6 2707.5,52.5 2713.0,53.3 2721.0,54.5 2729.0,55.7 2734.3,56.5 2741.0,57.6 2749.0,58.8 2757.0,60.1 2761.0,60.7 2769.0,62.0 2777.0,63.3 2784.6,64.5 2789.0,65.3 2797.0,66.6 2805.0,68.0 2809.0,68.6 2817.0,70.0 2825.0,71.4 2831.4,72.6 2837.0,73.5 2845.0,75.0 2853.0,76.4 2857.0,77.2 2865.0,78.7 2873.0,80.1 2877.0,80.9 2885.0,82.4 2893.0,84.0 2897.0,84.7 2905.0,86.3 2913.0,87.9 2917.0,88.7 2925.0,90.3 2933.0,91.9 2937.0,92.7 2945.0,94.4 2953.0,96.1 2957.0,96.9 2965.0,98.6 2973.0,100.3 2973.0,100.3" fill="none" stroke="#221616" stroke-width="2.2"/>
<rect x="1777.0" y="28.5" width="1196.0" height="1197.5" fill="none" stroke="#4d3f38" stroke-width="3"/>
<line x1="1777.0" y1="986.5" x2="1801.0" y2="986.5" stroke="#1a1a1a" stroke-width="3"/>
<line x1="1777.0" y1="747.0" x2="1801.0" y2="747.0" stroke="#1a1a1a" stroke-width="3"/>
<line x1="1777.0" y1="507.5" x2="1801.0" y2="507.5" stroke="#1a1a1a" stroke-width="3"/>
<line x1="1777.0" y1="268.0" x2="1801.0" y2="268.0" stroke="#1a1a1a" stroke-width="3"/>
<line x1="2016.2" y1="1226.0" x2="2016.2" y2="1202.0" stroke="#1a1a1a" stroke-width="3"/>
<line x1="2255.4" y1="1226.0" x2="2255.4" y2="1202.0" stroke="#1a1a1a" stroke-width="3"/>
<line x1="2494.6" y1="1226.0" x2="2494.6" y2="1202.0" stroke="#1a1a1a" stroke-width="3"/>
<line x1="2733.8" y1="1226.0" x2="2733.8" y2="1202.0" stroke="#1a1a1a" stroke-width="3"/>
<rect x="2734.1" y="31.8" width="35" height="27" fill="#fff" stroke="#3a2e2a" stroke-width="2"/>
<text x="2751.6" y="52.3" font-size="19" text-anchor="middle" style="font-family:'Liberation Sans',sans-serif" fill="#222">26</text>
<rect x="2387.2" y="66.7" width="35" height="27" fill="#fff" stroke="#3a2e2a" stroke-width="2"/>
<text x="2404.7" y="87.2" font-size="19" text-anchor="middle" style="font-family:'Liberation Sans',sans-serif" fill="#222">24</text>
<rect x="2372.5" y="154.3" width="35" height="27" fill="#fff" stroke="#3a2e2a" stroke-width="2"/>
<text x="2390.0" y="174.8" font-size="19" text-anchor="middle" style="font-family:'Liberation Sans',sans-serif" fill="#222">22</text>
<rect x="2417.3" y="268.5" width="35" height="27" fill="#fff" stroke="#3a2e2a" stroke-width="2"/>
<text x="2434.8" y="289.0" font-size="19" text-anchor="middle" style="font-family:'Liberation Sans',sans-serif" fill="#222">20</text>
<rect x="2735.5" y="630.9" width="35" height="27" fill="#fff" stroke="#3a2e2a" stroke-width="2"/>
<text x="2753.0" y="651.4" font-size="19" text-anchor="middle" style="font-family:'Liberation Sans',sans-serif" fill="#222">18</text>
<rect x="2402.8" y="1004.1" width="35" height="27" fill="#fff" stroke="#3a2e2a" stroke-width="2"/>
<text x="2420.3" y="1024.6" font-size="19" text-anchor="middle" style="font-family:'Liberation Sans',sans-serif" fill="#222">20</text>
<rect x="2387.3" y="1114.1" width="35" height="27" fill="#fff" stroke="#3a2e2a" stroke-width="2"/>
<text x="2404.8" y="1134.6" font-size="19" text-anchor="middle" style="font-family:'Liberation Sans',sans-serif" fill="#222">22</text>
<rect x="2716.0" y="1170.9" width="35" height="27" fill="#fff" stroke="#3a2e2a" stroke-width="2"/>
<text x="2733.5" y="1191.4" font-size="19" text-anchor="middle" style="font-family:'Liberation Sans',sans-serif" fill="#222">24</text>
<rect x="1803.8" y="1197.8" width="35" height="27" fill="#fff" stroke="#3a2e2a" stroke-width="2"/>
<text x="1821.3" y="1218.3" font-size="19" text-anchor="middle" style="font-family:'Liberation Sans',sans-serif" fill="#222">24</text>
<clipPath id="dc"><rect x="1772" y="0" width="1238" height="1486"/></clipPath>
<circle cx="1777.0" cy="28.5" r="10.8" fill="#a8322a" stroke="#2a0c0a" stroke-width="2" clip-path="url(#dc)"/>
<circle cx="2973.0" cy="28.5" r="10.8" fill="#a8322a" stroke="#2a0c0a" stroke-width="2"/>
<circle cx="1777.0" cy="1226.0" r="10.8" fill="#a8322a" stroke="#2a0c0a" stroke-width="2" clip-path="url(#dc)"/>
<circle cx="2973.0" cy="1226.0" r="10.8" fill="#a8322a" stroke="#2a0c0a" stroke-width="2"/>
<circle cx="2375.0" cy="627.2" r="10.8" fill="#a8322a" stroke="#2a0c0a" stroke-width="2"/>
<text x="155.3" y="212.0" font-size="62" text-anchor="end">28</text>
<text x="143.5" y="330.0" font-size="62" text-anchor="end">26</text>
<text x="155.3" y="405.7" font-size="62" text-anchor="end">24</text>
<text x="160.0" y="500.0" font-size="62" text-anchor="end">22</text>
<text x="162.0" y="594.0" font-size="62" text-anchor="end">20</text>
<text x="174.0" y="691.0" font-size="62" text-anchor="end">18</text>
<text x="176.5" y="787.7" font-size="62" text-anchor="end">16</text>
<text x="189.0" y="1040.0" font-size="62" text-anchor="end">55</text>
<text x="301.3" y="1093.0" font-size="62" text-anchor="end">53</text>
<text x="400.4" y="1142.5" font-size="62" text-anchor="end">51</text>
<text x="524.2" y="1192.0" font-size="62" text-anchor="end">49</text>
<text x="632.3" y="1248.3" font-size="62" text-anchor="end">47</text>
<text x="744.0" y="1303.0" font-size="62" text-anchor="end">45</text>
<text x="793.5" y="1303.0" font-size="62" text-anchor="middle">5</text>
<text x="908.6" y="1252.4" font-size="62" text-anchor="middle">6</text>
<text x="1035.2" y="1190.0" font-size="62" text-anchor="middle">7</text>
<text x="1143.5" y="1144.0" font-size="62" text-anchor="middle">8</text>
<text x="1255.1" y="1088.8" font-size="62" text-anchor="middle">9</text>
<text x="1380.7" y="1029.0" font-size="62" text-anchor="middle">10</text>
<text x="1747.0" y="51.0" font-size="62" text-anchor="end">55</text>
<text x="1747.0" y="289.0" font-size="62" text-anchor="end">53</text>
<text x="1747.0" y="528.0" font-size="62" text-anchor="end">51</text>
<text x="1747.0" y="758.7" font-size="62" text-anchor="end">49</text>
<text x="1747.0" y="995.3" font-size="62" text-anchor="end">47</text>
<text x="1747.0" y="1231.4" font-size="62" text-anchor="end">45</text>
<text x="1783.0" y="1299.0" font-size="62" text-anchor="middle">5</text>
<text x="2022.2" y="1299.0" font-size="62" text-anchor="middle">6</text>
<text x="2261.4" y="1299.0" font-size="62" text-anchor="middle">7</text>
<text x="2500.6" y="1299.0" font-size="62" text-anchor="middle">8</text>
<text x="2739.8" y="1299.0" font-size="62" text-anchor="middle">9</text>
<text x="2979.0" y="1299.0" font-size="62" text-anchor="middle">10</text>
<text x="36.0" y="627.0" font-size="62" text-anchor="middle" transform="rotate(-90.00 36.0 627.0)" dy="21">吸收塔塔釜液位响应时间/min</text>
<g transform="translate(1647.0 880.0) rotate(-90.00)">
<text x="0.0" y="0.0" font-size="62" font-style="italic">C</text>
<text x="59.0" y="0.0" font-size="62">:</text>
<text x="106.0" y="0.0" font-size="62">贫液进塔温度</text>
<text x="478.0" y="0.0" font-size="62">/°C</text>
</g>
<g transform="translate(2077.0 1383.0) rotate(0.00)">
<text x="0.0" y="0.0" font-size="62" font-style="italic">A</text>
<text x="45.0" y="0.0" font-size="62">:</text>
<text x="102.0" y="0.0" font-size="62">原料气流量</text>
<text x="414.0" y="0.0" font-size="62">/L</text>
<text x="489.0" y="0.0" font-size="62" font-weight="bold">·</text>
<text x="531.0" y="0.0" font-size="62">min</text>
<text x="629.0" y="-28.0" font-size="37">−1</text>
</g>
<g transform="translate(74 1123) scale(0.985) translate(-74 -1123)">
<g transform="translate(74.0 1123.0) rotate(24.30)">
<text x="0.0" y="0.0" font-size="62" font-style="italic">C</text>
<text x="59.0" y="0.0" font-size="62">:</text>
<text x="106.0" y="0.0" font-size="62">贫液进塔温度</text>
<text x="478.0" y="0.0" font-size="62">/°C</text>
</g>
</g>
<g transform="translate(869.4 1374.9) rotate(-26.50)">
<text x="0.0" y="0.0" font-size="62" font-style="italic">A</text>
<text x="45.0" y="0.0" font-size="62">:</text>
<text x="102.0" y="0.0" font-size="62">原料气流量</text>
<text x="414.0" y="0.0" font-size="62">/L</text>
<text x="489.0" y="0.0" font-size="62" font-weight="bold">·</text>
<text x="531.0" y="0.0" font-size="62">min</text>
<text x="629.0" y="-28.0" font-size="37">−1</text>
</g>
<text x="709.0" y="1467.0" font-size="62" text-anchor="middle">(a) 3D响应面图</text>
<text x="2372.0" y="1476.0" font-size="62" text-anchor="middle">(b) 等高线图</text>
</svg></body></html>
